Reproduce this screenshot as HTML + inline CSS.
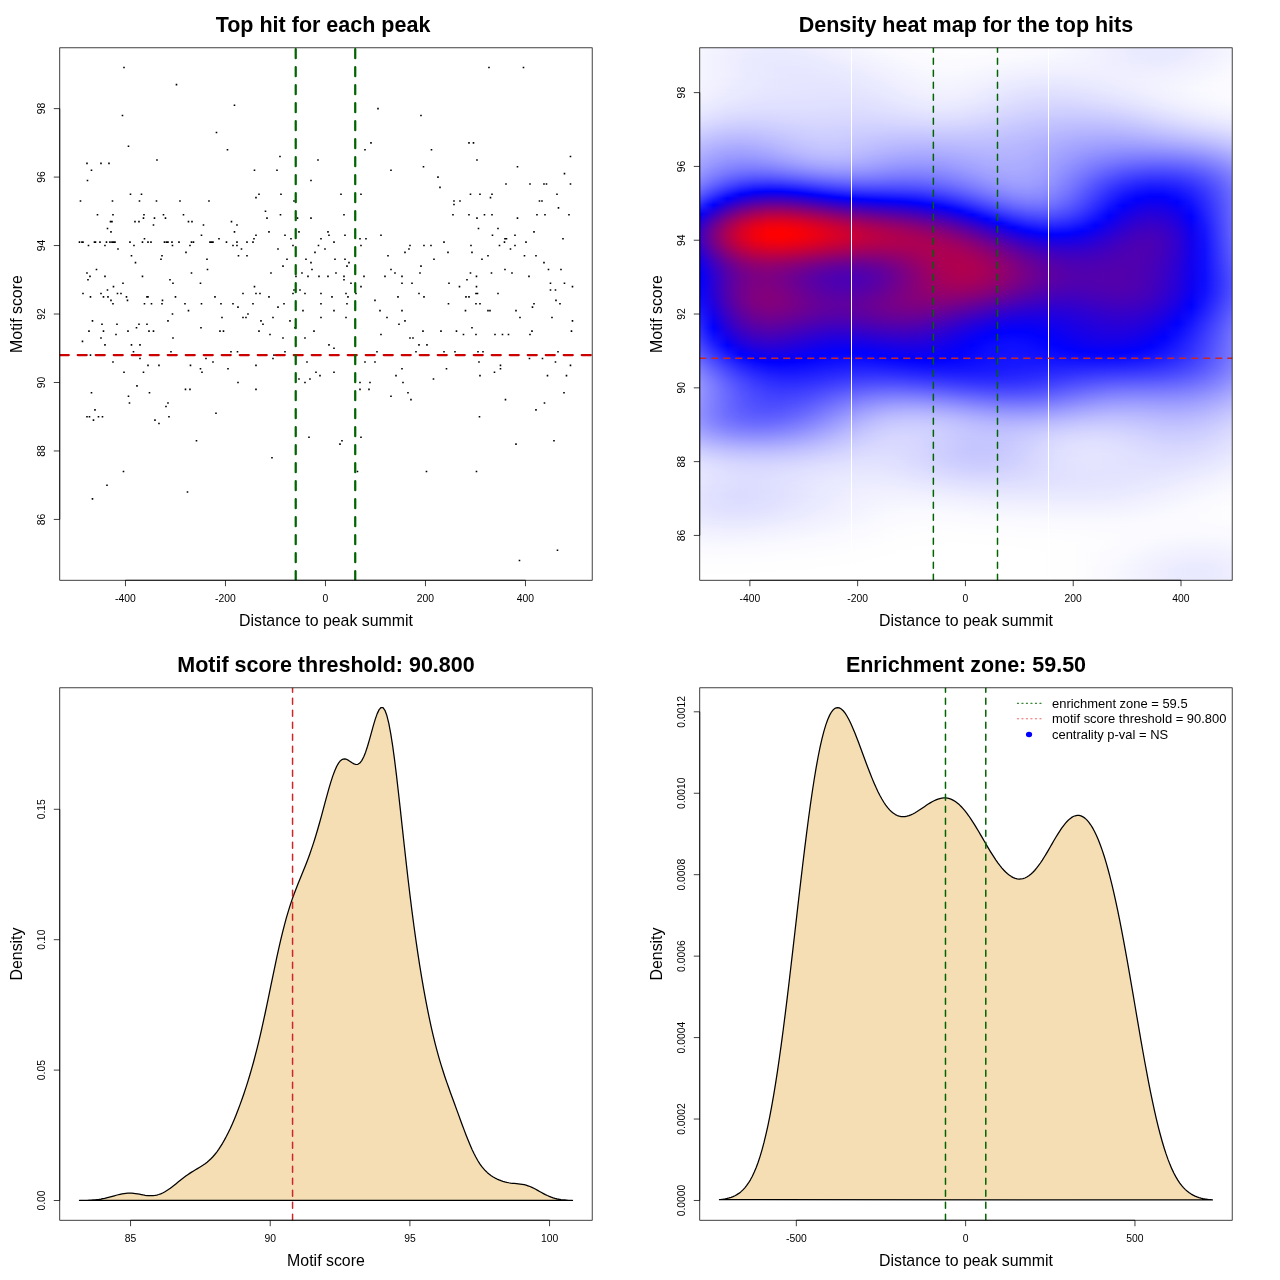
<!DOCTYPE html>
<html lang="en">
<head>
<meta charset="utf-8">
<title>Motif enrichment plots</title>
<style>
html,body{margin:0;padding:0;background:#fff;}
body{width:1280px;height:1280px;overflow:hidden;position:relative;}
#heat{position:absolute;left:700px;top:48px;width:532px;height:532px;overflow:hidden;line-height:0;font-size:0;}
#heat i{display:block;width:532px;height:1px;}
svg{position:absolute;left:0;top:0;display:block;font-family:"Liberation Sans", Arial, Helvetica, sans-serif;fill:#000;}
</style>
</head>
<body>
<div id="heat"><i style="background:linear-gradient(90deg,#f6f6ff,#f3f3ff,#f0f0ff,#eef,#ededff,#ececff,#ececff,#ededff,#efefff,#f1f1ff,#f3f3ff,#f5f5ff,#f7f7ff,#f9f9ff,#fafaff,#fbfbff,#fcfcff,#fdfdff,#fdfdff,#fdfdff,#fdfdff,#fdfdff,#fcfcff,#fcfcff,#fbfbff,#fafaff,#f9f9ff,#f7f7ff,#f5f5ff,#f3f3ff,#f0f0ff,#ededff,#eaeaff,#e9e9ff,#e9e9ff,#eaeaff,#ececff,#efefff,#f3f3ff,#f6f6ff)"></i><i style="background:linear-gradient(90deg,#f6f6ff,#f3f3ff,#f0f0ff,#eef,#ececff,#ececff,#ececff,#ededff,#eef,#f0f0ff,#f2f2ff,#f4f4ff,#f7f7ff,#f8f8ff,#fafaff,#fbfbff,#fcfcff,#fdfdff,#fdfdff,#fdfdff,#fdfdff,#fdfdff,#fcfcff,#fcfcff,#fbfbff,#fafaff,#f9f9ff,#f7f7ff,#f5f5ff,#f2f2ff,#efefff,#ededff,#eaeaff,#e9e9ff,#e9e9ff,#eaeaff,#ececff,#efefff,#f3f3ff,#f6f6ff)"></i><i style="background:linear-gradient(90deg,#f6f6ff,#f3f3ff,#f0f0ff,#eef,#ececff,#ebebff,#ebebff,#ececff,#eef,#f0f0ff,#f2f2ff,#f4f4ff,#f6f6ff,#f8f8ff,#fafaff,#fbfbff,#fcfcff,#fdfdff,#fdfdff,#fdfdff,#fdfdff,#fcfcff,#fcfcff,#fbfbff,#fbfbff,#fafaff,#f9f9ff,#f7f7ff,#f5f5ff,#f2f2ff,#efefff,#ededff,#eaeaff,#e9e9ff,#e9e9ff,#eaeaff,#ececff,#efefff,#f3f3ff,#f6f6ff)"></i><i style="background:linear-gradient(90deg,#f6f6ff,#f3f3ff,#f0f0ff,#ededff,#ececff,#ebebff,#ebebff,#ececff,#ededff,#efefff,#f1f1ff,#f4f4ff,#f6f6ff,#f8f8ff,#f9f9ff,#fbfbff,#fcfcff,#fdfdff,#fdfdff,#fdfdff,#fdfdff,#fcfcff,#fcfcff,#fbfbff,#fafaff,#f9f9ff,#f8f8ff,#f7f7ff,#f5f5ff,#f2f2ff,#efefff,#ededff,#eaeaff,#e9e9ff,#e9e9ff,#eaeaff,#ececff,#efefff,#f3f3ff,#f6f6ff)"></i><i style="background:linear-gradient(90deg,#f6f6ff,#f3f3ff,#f0f0ff,#ededff,#ececff,#ebebff,#ebebff,#ebebff,#ededff,#efefff,#f1f1ff,#f3f3ff,#f5f5ff,#f7f7ff,#f9f9ff,#fbfbff,#fcfcff,#fcfcff,#fdfdff,#fdfdff,#fdfdff,#fcfcff,#fbfbff,#fbfbff,#fafaff,#f9f9ff,#f8f8ff,#f7f7ff,#f5f5ff,#f2f2ff,#efefff,#ededff,#eaeaff,#e9e9ff,#e9e9ff,#eaeaff,#ececff,#efefff,#f3f3ff,#f6f6ff)"></i><i style="background:linear-gradient(90deg,#f5f5ff,#f3f3ff,#f0f0ff,#ededff,#ebebff,#eaeaff,#eaeaff,#ebebff,#ececff,#eef,#f0f0ff,#f3f3ff,#f5f5ff,#f7f7ff,#f9f9ff,#fafaff,#fbfbff,#fcfcff,#fdfdff,#fdfdff,#fcfcff,#fcfcff,#fbfbff,#fafaff,#fafaff,#f9f9ff,#f8f8ff,#f6f6ff,#f4f4ff,#f2f2ff,#efefff,#ededff,#eaeaff,#e9e9ff,#e9e9ff,#eaeaff,#ececff,#f0f0ff,#f3f3ff,#f6f6ff)"></i><i style="background:linear-gradient(90deg,#f5f5ff,#f2f2ff,#f0f0ff,#ededff,#ebebff,#eaeaff,#eaeaff,#ebebff,#ececff,#eef,#f0f0ff,#f2f2ff,#f5f5ff,#f7f7ff,#f8f8ff,#fafaff,#fbfbff,#fcfcff,#fcfcff,#fcfcff,#fcfcff,#fcfcff,#fbfbff,#fafaff,#f9f9ff,#f9f9ff,#f7f7ff,#f6f6ff,#f4f4ff,#f2f2ff,#efefff,#ededff,#eaeaff,#e9e9ff,#e9e9ff,#eaeaff,#ededff,#f0f0ff,#f3f3ff,#f6f6ff)"></i><i style="background:linear-gradient(90deg,#f5f5ff,#f2f2ff,#efefff,#ededff,#ebebff,#eaeaff,#eaeaff,#eaeaff,#ececff,#ededff,#f0f0ff,#f2f2ff,#f4f4ff,#f6f6ff,#f8f8ff,#fafaff,#fbfbff,#fcfcff,#fcfcff,#fcfcff,#fcfcff,#fbfbff,#fbfbff,#fafaff,#f9f9ff,#f8f8ff,#f7f7ff,#f6f6ff,#f4f4ff,#f2f2ff,#efefff,#ededff,#ebebff,#e9e9ff,#e9e9ff,#ebebff,#ededff,#f0f0ff,#f3f3ff,#f6f6ff)"></i><i style="background:linear-gradient(90deg,#f5f5ff,#f2f2ff,#efefff,#ededff,#ebebff,#eaeaff,#e9e9ff,#eaeaff,#ebebff,#ededff,#efefff,#f1f1ff,#f4f4ff,#f6f6ff,#f8f8ff,#fafaff,#fbfbff,#fcfcff,#fcfcff,#fcfcff,#fcfcff,#fbfbff,#fafaff,#fafaff,#f9f9ff,#f8f8ff,#f7f7ff,#f6f6ff,#f4f4ff,#f2f2ff,#efefff,#ededff,#ebebff,#eaeaff,#eaeaff,#ebebff,#ededff,#f0f0ff,#f3f3ff,#f6f6ff)"></i><i style="background:linear-gradient(90deg,#f5f5ff,#f2f2ff,#efefff,#ededff,#ebebff,#e9e9ff,#e9e9ff,#eaeaff,#ebebff,#ededff,#efefff,#f1f1ff,#f3f3ff,#f5f5ff,#f7f7ff,#f9f9ff,#fbfbff,#fbfbff,#fcfcff,#fcfcff,#fbfbff,#fbfbff,#fafaff,#f9f9ff,#f8f8ff,#f7f7ff,#f6f6ff,#f5f5ff,#f4f4ff,#f1f1ff,#efefff,#ededff,#ebebff,#eaeaff,#eaeaff,#ebebff,#ededff,#f0f0ff,#f4f4ff,#f7f7ff)"></i><i style="background:linear-gradient(90deg,#f5f5ff,#f2f2ff,#efefff,#ededff,#eaeaff,#e9e9ff,#e9e9ff,#e9e9ff,#ebebff,#ececff,#eef,#f1f1ff,#f3f3ff,#f5f5ff,#f7f7ff,#f9f9ff,#fafaff,#fbfbff,#fcfcff,#fcfcff,#fbfbff,#fbfbff,#fafaff,#f9f9ff,#f8f8ff,#f7f7ff,#f6f6ff,#f5f5ff,#f3f3ff,#f1f1ff,#efefff,#ededff,#ebebff,#eaeaff,#eaeaff,#ebebff,#eef,#f1f1ff,#f4f4ff,#f7f7ff)"></i><i style="background:linear-gradient(90deg,#f5f5ff,#f2f2ff,#efefff,#ececff,#eaeaff,#e9e9ff,#e9e9ff,#e9e9ff,#eaeaff,#ececff,#eef,#f0f0ff,#f2f2ff,#f5f5ff,#f7f7ff,#f9f9ff,#fafaff,#fbfbff,#fcfcff,#fbfbff,#fbfbff,#fafaff,#f9f9ff,#f8f8ff,#f8f8ff,#f7f7ff,#f6f6ff,#f5f5ff,#f3f3ff,#f1f1ff,#efefff,#ededff,#ebebff,#eaeaff,#eaeaff,#ececff,#eef,#f1f1ff,#f4f4ff,#f7f7ff)"></i><i style="background:linear-gradient(90deg,#f5f5ff,#f2f2ff,#efefff,#ececff,#eaeaff,#e9e9ff,#e8e8ff,#e9e9ff,#eaeaff,#ebebff,#ededff,#f0f0ff,#f2f2ff,#f4f4ff,#f6f6ff,#f8f8ff,#fafaff,#fbfbff,#fbfbff,#fbfbff,#fbfbff,#fafaff,#f9f9ff,#f8f8ff,#f7f7ff,#f6f6ff,#f5f5ff,#f4f4ff,#f3f3ff,#f1f1ff,#efefff,#ededff,#ececff,#ebebff,#ebebff,#ececff,#eef,#f1f1ff,#f4f4ff,#f7f7ff)"></i><i style="background:linear-gradient(90deg,#f5f5ff,#f2f2ff,#efefff,#ececff,#eaeaff,#e9e9ff,#e8e8ff,#e9e9ff,#eaeaff,#ebebff,#ededff,#efefff,#f2f2ff,#f4f4ff,#f6f6ff,#f8f8ff,#fafaff,#fbfbff,#fbfbff,#fbfbff,#fafaff,#fafaff,#f9f9ff,#f8f8ff,#f7f7ff,#f6f6ff,#f5f5ff,#f4f4ff,#f3f3ff,#f1f1ff,#efefff,#ededff,#ececff,#ebebff,#ebebff,#ececff,#efefff,#f1f1ff,#f4f4ff,#f7f7ff)"></i><i style="background:linear-gradient(90deg,#f5f5ff,#f2f2ff,#efefff,#ececff,#eaeaff,#e9e9ff,#e8e8ff,#e8e8ff,#e9e9ff,#ebebff,#ededff,#efefff,#f1f1ff,#f3f3ff,#f6f6ff,#f8f8ff,#f9f9ff,#fafaff,#fbfbff,#fbfbff,#fafaff,#f9f9ff,#f8f8ff,#f7f7ff,#f6f6ff,#f5f5ff,#f4f4ff,#f4f4ff,#f2f2ff,#f1f1ff,#efefff,#ededff,#ececff,#ebebff,#ececff,#ededff,#efefff,#f2f2ff,#f5f5ff,#f7f7ff)"></i><i style="background:linear-gradient(90deg,#f5f5ff,#f2f2ff,#efefff,#ececff,#eaeaff,#e8e8ff,#e8e8ff,#e8e8ff,#e9e9ff,#eaeaff,#ececff,#eef,#f1f1ff,#f3f3ff,#f5f5ff,#f7f7ff,#f9f9ff,#fafaff,#fbfbff,#fbfbff,#fafaff,#f9f9ff,#f8f8ff,#f7f7ff,#f6f6ff,#f5f5ff,#f4f4ff,#f3f3ff,#f2f2ff,#f1f1ff,#efefff,#eef,#ececff,#ececff,#ececff,#ededff,#efefff,#f2f2ff,#f5f5ff,#f8f8ff)"></i><i style="background:linear-gradient(90deg,#f5f5ff,#f2f2ff,#efefff,#ececff,#eaeaff,#e8e8ff,#e8e8ff,#e8e8ff,#e9e9ff,#eaeaff,#ececff,#eef,#f0f0ff,#f3f3ff,#f5f5ff,#f7f7ff,#f9f9ff,#fafaff,#fafaff,#fafaff,#fafaff,#f9f9ff,#f7f7ff,#f6f6ff,#f5f5ff,#f4f4ff,#f4f4ff,#f3f3ff,#f2f2ff,#f1f1ff,#efefff,#eef,#ededff,#ececff,#ececff,#eef,#f0f0ff,#f2f2ff,#f5f5ff,#f8f8ff)"></i><i style="background:linear-gradient(90deg,#f5f5ff,#f2f2ff,#efefff,#ececff,#eaeaff,#e8e8ff,#e8e8ff,#e8e8ff,#e8e8ff,#eaeaff,#ebebff,#eef,#f0f0ff,#f2f2ff,#f5f5ff,#f7f7ff,#f8f8ff,#fafaff,#fafaff,#fafaff,#f9f9ff,#f8f8ff,#f7f7ff,#f6f6ff,#f5f5ff,#f4f4ff,#f3f3ff,#f2f2ff,#f2f2ff,#f0f0ff,#efefff,#eef,#ededff,#ececff,#ededff,#eef,#f0f0ff,#f3f3ff,#f5f5ff,#f8f8ff)"></i><i style="background:linear-gradient(90deg,#f5f5ff,#f2f2ff,#efefff,#ececff,#eaeaff,#e8e8ff,#e7e7ff,#e7e7ff,#e8e8ff,#e9e9ff,#ebebff,#ededff,#efefff,#f2f2ff,#f4f4ff,#f6f6ff,#f8f8ff,#f9f9ff,#fafaff,#fafaff,#f9f9ff,#f8f8ff,#f7f7ff,#f5f5ff,#f4f4ff,#f3f3ff,#f3f3ff,#f2f2ff,#f1f1ff,#f0f0ff,#efefff,#eef,#ededff,#ededff,#ededff,#eef,#f0f0ff,#f3f3ff,#f6f6ff,#f8f8ff)"></i><i style="background:linear-gradient(90deg,#f5f5ff,#f2f2ff,#efefff,#ececff,#eaeaff,#e8e8ff,#e7e7ff,#e7e7ff,#e8e8ff,#e9e9ff,#ebebff,#ededff,#efefff,#f1f1ff,#f4f4ff,#f6f6ff,#f8f8ff,#f9f9ff,#fafaff,#fafaff,#f9f9ff,#f7f7ff,#f6f6ff,#f5f5ff,#f4f4ff,#f3f3ff,#f2f2ff,#f2f2ff,#f1f1ff,#f0f0ff,#efefff,#eef,#ededff,#ededff,#eef,#efefff,#f1f1ff,#f3f3ff,#f6f6ff,#f8f8ff)"></i><i style="background:linear-gradient(90deg,#f5f5ff,#f2f2ff,#efefff,#ececff,#eaeaff,#e8e8ff,#e7e7ff,#e7e7ff,#e8e8ff,#e9e9ff,#eaeaff,#ececff,#efefff,#f1f1ff,#f3f3ff,#f6f6ff,#f8f8ff,#f9f9ff,#f9f9ff,#f9f9ff,#f8f8ff,#f7f7ff,#f6f6ff,#f4f4ff,#f3f3ff,#f2f2ff,#f2f2ff,#f1f1ff,#f1f1ff,#f0f0ff,#efefff,#eef,#eef,#ededff,#eef,#efefff,#f1f1ff,#f4f4ff,#f6f6ff,#f9f9ff)"></i><i style="background:linear-gradient(90deg,#f5f5ff,#f2f2ff,#efefff,#ececff,#eaeaff,#e8e8ff,#e7e7ff,#e7e7ff,#e7e7ff,#e9e9ff,#eaeaff,#ececff,#eef,#f1f1ff,#f3f3ff,#f5f5ff,#f7f7ff,#f9f9ff,#f9f9ff,#f9f9ff,#f8f8ff,#f7f7ff,#f5f5ff,#f4f4ff,#f2f2ff,#f2f2ff,#f1f1ff,#f1f1ff,#f0f0ff,#f0f0ff,#efefff,#eef,#eef,#eef,#eef,#f0f0ff,#f2f2ff,#f4f4ff,#f6f6ff,#f9f9ff)"></i><i style="background:linear-gradient(90deg,#f5f5ff,#f2f2ff,#efefff,#ececff,#eaeaff,#e8e8ff,#e7e7ff,#e7e7ff,#e7e7ff,#e8e8ff,#eaeaff,#ececff,#eef,#f0f0ff,#f3f3ff,#f5f5ff,#f7f7ff,#f8f8ff,#f9f9ff,#f9f9ff,#f8f8ff,#f6f6ff,#f5f5ff,#f3f3ff,#f2f2ff,#f1f1ff,#f0f0ff,#f0f0ff,#f0f0ff,#f0f0ff,#efefff,#efefff,#eef,#eef,#efefff,#f0f0ff,#f2f2ff,#f4f4ff,#f7f7ff,#f9f9ff)"></i><i style="background:linear-gradient(90deg,#f5f5ff,#f2f2ff,#efefff,#ececff,#eaeaff,#e8e8ff,#e7e7ff,#e7e7ff,#e7e7ff,#e8e8ff,#e9e9ff,#ebebff,#ededff,#f0f0ff,#f2f2ff,#f5f5ff,#f7f7ff,#f8f8ff,#f9f9ff,#f8f8ff,#f7f7ff,#f6f6ff,#f4f4ff,#f2f2ff,#f1f1ff,#f0f0ff,#f0f0ff,#f0f0ff,#f0f0ff,#efefff,#efefff,#efefff,#eef,#efefff,#efefff,#f1f1ff,#f3f3ff,#f5f5ff,#f7f7ff,#f9f9ff)"></i><i style="background:linear-gradient(90deg,#f5f5ff,#f2f2ff,#efefff,#ececff,#e9e9ff,#e8e8ff,#e7e7ff,#e7e7ff,#e7e7ff,#e8e8ff,#e9e9ff,#ebebff,#ededff,#efefff,#f2f2ff,#f4f4ff,#f6f6ff,#f8f8ff,#f8f8ff,#f8f8ff,#f7f7ff,#f5f5ff,#f4f4ff,#f2f2ff,#f1f1ff,#f0f0ff,#efefff,#efefff,#efefff,#efefff,#efefff,#efefff,#efefff,#efefff,#f0f0ff,#f1f1ff,#f3f3ff,#f5f5ff,#f7f7ff,#f9f9ff)"></i><i style="background:linear-gradient(90deg,#f5f5ff,#f2f2ff,#efefff,#ececff,#e9e9ff,#e8e8ff,#e7e7ff,#e6e6ff,#e7e7ff,#e7e7ff,#e9e9ff,#eaeaff,#ececff,#efefff,#f2f2ff,#f4f4ff,#f6f6ff,#f8f8ff,#f8f8ff,#f8f8ff,#f7f7ff,#f5f5ff,#f3f3ff,#f1f1ff,#f0f0ff,#efefff,#efefff,#efefff,#efefff,#efefff,#efefff,#efefff,#efefff,#efefff,#f0f0ff,#f1f1ff,#f3f3ff,#f5f5ff,#f8f8ff,#fafaff)"></i><i style="background:linear-gradient(90deg,#f5f5ff,#f2f2ff,#efefff,#ececff,#e9e9ff,#e8e8ff,#e7e7ff,#e6e6ff,#e7e7ff,#e7e7ff,#e8e8ff,#eaeaff,#ececff,#efefff,#f1f1ff,#f4f4ff,#f6f6ff,#f7f7ff,#f8f8ff,#f7f7ff,#f6f6ff,#f5f5ff,#f3f3ff,#f1f1ff,#efefff,#eef,#eef,#eef,#eef,#eef,#efefff,#efefff,#efefff,#f0f0ff,#f0f0ff,#f2f2ff,#f4f4ff,#f6f6ff,#f8f8ff,#fafaff)"></i><i style="background:linear-gradient(90deg,#f5f5ff,#f2f2ff,#efefff,#ececff,#e9e9ff,#e8e8ff,#e7e7ff,#e6e6ff,#e6e6ff,#e7e7ff,#e8e8ff,#eaeaff,#ececff,#eef,#f1f1ff,#f3f3ff,#f6f6ff,#f7f7ff,#f8f8ff,#f7f7ff,#f6f6ff,#f4f4ff,#f2f2ff,#f0f0ff,#efefff,#eef,#ededff,#ededff,#eef,#eef,#efefff,#efefff,#efefff,#f0f0ff,#f1f1ff,#f2f2ff,#f4f4ff,#f6f6ff,#f8f8ff,#fafaff)"></i><i style="background:linear-gradient(90deg,#f5f5ff,#f2f2ff,#efefff,#ececff,#e9e9ff,#e8e8ff,#e7e7ff,#e6e6ff,#e6e6ff,#e7e7ff,#e8e8ff,#e9e9ff,#ebebff,#eef,#f0f0ff,#f3f3ff,#f5f5ff,#f7f7ff,#f7f7ff,#f7f7ff,#f5f5ff,#f4f4ff,#f1f1ff,#efefff,#eef,#ededff,#ededff,#ededff,#ededff,#eef,#eef,#efefff,#efefff,#f0f0ff,#f1f1ff,#f3f3ff,#f4f4ff,#f6f6ff,#f8f8ff,#fafaff)"></i><i style="background:linear-gradient(90deg,#f5f5ff,#f2f2ff,#eef,#ececff,#e9e9ff,#e8e8ff,#e7e7ff,#e6e6ff,#e6e6ff,#e7e7ff,#e7e7ff,#e9e9ff,#ebebff,#ededff,#f0f0ff,#f3f3ff,#f5f5ff,#f6f6ff,#f7f7ff,#f6f6ff,#f5f5ff,#f3f3ff,#f1f1ff,#efefff,#ededff,#ececff,#ececff,#ececff,#ededff,#ededff,#eef,#efefff,#efefff,#f0f0ff,#f1f1ff,#f3f3ff,#f5f5ff,#f7f7ff,#f9f9ff,#fafaff)"></i><i style="background:linear-gradient(90deg,#f5f5ff,#f2f2ff,#eef,#ebebff,#e9e9ff,#e8e8ff,#e6e6ff,#e6e6ff,#e6e6ff,#e6e6ff,#e7e7ff,#e9e9ff,#ebebff,#ededff,#f0f0ff,#f2f2ff,#f5f5ff,#f6f6ff,#f7f7ff,#f6f6ff,#f5f5ff,#f3f3ff,#f0f0ff,#eef,#ededff,#ececff,#ebebff,#ececff,#ececff,#ededff,#eef,#efefff,#f0f0ff,#f1f1ff,#f2f2ff,#f3f3ff,#f5f5ff,#f7f7ff,#f9f9ff,#fafaff)"></i><i style="background:linear-gradient(90deg,#f5f5ff,#f1f1ff,#eef,#ebebff,#e9e9ff,#e7e7ff,#e6e6ff,#e6e6ff,#e6e6ff,#e6e6ff,#e7e7ff,#e8e8ff,#eaeaff,#ededff,#efefff,#f2f2ff,#f4f4ff,#f6f6ff,#f6f6ff,#f6f6ff,#f4f4ff,#f2f2ff,#f0f0ff,#eef,#ececff,#ebebff,#ebebff,#ebebff,#ececff,#ededff,#eef,#efefff,#f0f0ff,#f1f1ff,#f2f2ff,#f4f4ff,#f5f5ff,#f7f7ff,#f9f9ff,#fbfbff)"></i><i style="background:linear-gradient(90deg,#f4f4ff,#f1f1ff,#eef,#ebebff,#e9e9ff,#e7e7ff,#e6e6ff,#e6e6ff,#e6e6ff,#e6e6ff,#e7e7ff,#e8e8ff,#eaeaff,#ececff,#efefff,#f2f2ff,#f4f4ff,#f5f5ff,#f6f6ff,#f5f5ff,#f4f4ff,#f2f2ff,#efefff,#ededff,#ebebff,#eaeaff,#eaeaff,#eaeaff,#ebebff,#ececff,#ededff,#eef,#f0f0ff,#f1f1ff,#f2f2ff,#f4f4ff,#f6f6ff,#f7f7ff,#f9f9ff,#fbfbff)"></i><i style="background:linear-gradient(90deg,#f4f4ff,#f1f1ff,#eef,#ebebff,#e9e9ff,#e7e7ff,#e6e6ff,#e6e6ff,#e6e6ff,#e6e6ff,#e6e6ff,#e8e8ff,#e9e9ff,#ececff,#eef,#f1f1ff,#f4f4ff,#f5f5ff,#f6f6ff,#f5f5ff,#f3f3ff,#f1f1ff,#efefff,#ececff,#eaeaff,#e9e9ff,#e9e9ff,#eaeaff,#ebebff,#ececff,#ededff,#eef,#f0f0ff,#f1f1ff,#f2f2ff,#f4f4ff,#f6f6ff,#f8f8ff,#f9f9ff,#fbfbff)"></i><i style="background:linear-gradient(90deg,#f4f4ff,#f1f1ff,#eef,#ebebff,#e9e9ff,#e7e7ff,#e6e6ff,#e6e6ff,#e5e5ff,#e6e6ff,#e6e6ff,#e7e7ff,#e9e9ff,#ebebff,#eef,#f1f1ff,#f3f3ff,#f5f5ff,#f5f5ff,#f5f5ff,#f3f3ff,#f1f1ff,#eef,#ececff,#eaeaff,#e9e9ff,#e8e8ff,#e9e9ff,#eaeaff,#ebebff,#ededff,#eef,#f0f0ff,#f1f1ff,#f3f3ff,#f4f4ff,#f6f6ff,#f8f8ff,#fafaff,#fbfbff)"></i><i style="background:linear-gradient(90deg,#f4f4ff,#f1f1ff,#eef,#ebebff,#e9e9ff,#e7e7ff,#e6e6ff,#e6e6ff,#e5e5ff,#e5e5ff,#e6e6ff,#e7e7ff,#e9e9ff,#ebebff,#eef,#f1f1ff,#f3f3ff,#f4f4ff,#f5f5ff,#f4f4ff,#f3f3ff,#f0f0ff,#ededff,#ebebff,#e9e9ff,#e8e8ff,#e8e8ff,#e8e8ff,#e9e9ff,#ebebff,#ececff,#eef,#efefff,#f1f1ff,#f3f3ff,#f4f4ff,#f6f6ff,#f8f8ff,#fafaff,#fbfbff)"></i><i style="background:linear-gradient(90deg,#f4f4ff,#f1f1ff,#eef,#ebebff,#e9e9ff,#e7e7ff,#e6e6ff,#e5e5ff,#e5e5ff,#e5e5ff,#e6e6ff,#e7e7ff,#e8e8ff,#ebebff,#ededff,#f0f0ff,#f3f3ff,#f4f4ff,#f5f5ff,#f4f4ff,#f2f2ff,#f0f0ff,#ededff,#eaeaff,#e8e8ff,#e7e7ff,#e7e7ff,#e8e8ff,#e9e9ff,#eaeaff,#ececff,#eef,#efefff,#f1f1ff,#f3f3ff,#f5f5ff,#f6f6ff,#f8f8ff,#fafaff,#fbfbff)"></i><i style="background:linear-gradient(90deg,#f4f4ff,#f1f1ff,#ededff,#ebebff,#e8e8ff,#e7e7ff,#e6e6ff,#e5e5ff,#e5e5ff,#e5e5ff,#e5e5ff,#e6e6ff,#e8e8ff,#eaeaff,#ededff,#f0f0ff,#f2f2ff,#f4f4ff,#f4f4ff,#f4f4ff,#f2f2ff,#efefff,#ececff,#eaeaff,#e8e8ff,#e6e6ff,#e6e6ff,#e7e7ff,#e8e8ff,#eaeaff,#ebebff,#ededff,#efefff,#f1f1ff,#f3f3ff,#f5f5ff,#f7f7ff,#f8f8ff,#fafaff,#fbfbff)"></i><i style="background:linear-gradient(90deg,#f4f4ff,#f0f0ff,#ededff,#eaeaff,#e8e8ff,#e7e7ff,#e6e6ff,#e5e5ff,#e5e5ff,#e5e5ff,#e5e5ff,#e6e6ff,#e8e8ff,#eaeaff,#ededff,#efefff,#f2f2ff,#f3f3ff,#f4f4ff,#f3f3ff,#f1f1ff,#efefff,#ececff,#e9e9ff,#e7e7ff,#e6e6ff,#e5e5ff,#e6e6ff,#e7e7ff,#e9e9ff,#ebebff,#ededff,#efefff,#f1f1ff,#f3f3ff,#f5f5ff,#f7f7ff,#f8f8ff,#fafaff,#fbfbff)"></i><i style="background:linear-gradient(90deg,#f3f3ff,#f0f0ff,#ededff,#eaeaff,#e8e8ff,#e7e7ff,#e6e6ff,#e5e5ff,#e5e5ff,#e5e5ff,#e5e5ff,#e6e6ff,#e7e7ff,#e9e9ff,#ececff,#efefff,#f2f2ff,#f3f3ff,#f4f4ff,#f3f3ff,#f1f1ff,#eef,#ebebff,#e8e8ff,#e6e6ff,#e5e5ff,#e5e5ff,#e5e5ff,#e7e7ff,#e8e8ff,#eaeaff,#ededff,#efefff,#f1f1ff,#f3f3ff,#f5f5ff,#f7f7ff,#f9f9ff,#fafaff,#fbfbff)"></i><i style="background:linear-gradient(90deg,#f3f3ff,#f0f0ff,#ededff,#eaeaff,#e8e8ff,#e6e6ff,#e6e6ff,#e5e5ff,#e5e5ff,#e4e4ff,#e5e5ff,#e5e5ff,#e7e7ff,#e9e9ff,#ececff,#efefff,#f1f1ff,#f3f3ff,#f3f3ff,#f2f2ff,#f0f0ff,#ededff,#eaeaff,#e8e8ff,#e5e5ff,#e4e4ff,#e4e4ff,#e5e5ff,#e6e6ff,#e8e8ff,#eaeaff,#ececff,#eef,#f1f1ff,#f3f3ff,#f5f5ff,#f7f7ff,#f9f9ff,#fafaff,#fbfbff)"></i><i style="background:linear-gradient(90deg,#f3f3ff,#f0f0ff,#ececff,#eaeaff,#e8e8ff,#e6e6ff,#e5e5ff,#e5e5ff,#e4e4ff,#e4e4ff,#e4e4ff,#e5e5ff,#e6e6ff,#e9e9ff,#ebebff,#eef,#f1f1ff,#f2f2ff,#f3f3ff,#f2f2ff,#f0f0ff,#ededff,#eaeaff,#e7e7ff,#e5e5ff,#e3e3ff,#e3e3ff,#e4e4ff,#e5e5ff,#e7e7ff,#e9e9ff,#ececff,#eef,#f0f0ff,#f3f3ff,#f5f5ff,#f7f7ff,#f9f9ff,#fafaff,#fbfbff)"></i><i style="background:linear-gradient(90deg,#f3f3ff,#efefff,#ececff,#e9e9ff,#e7e7ff,#e6e6ff,#e5e5ff,#e5e5ff,#e4e4ff,#e4e4ff,#e4e4ff,#e5e5ff,#e6e6ff,#e8e8ff,#ebebff,#eef,#f0f0ff,#f2f2ff,#f2f2ff,#f1f1ff,#efefff,#ececff,#e9e9ff,#e6e6ff,#e4e4ff,#e3e3ff,#e2e2ff,#e3e3ff,#e4e4ff,#e6e6ff,#e9e9ff,#ebebff,#eef,#f0f0ff,#f3f3ff,#f5f5ff,#f7f7ff,#f9f9ff,#fafaff,#fbfbff)"></i><i style="background:linear-gradient(90deg,#f2f2ff,#efefff,#ececff,#e9e9ff,#e7e7ff,#e6e6ff,#e5e5ff,#e4e4ff,#e4e4ff,#e4e4ff,#e4e4ff,#e4e4ff,#e6e6ff,#e8e8ff,#ebebff,#ededff,#f0f0ff,#f2f2ff,#f2f2ff,#f1f1ff,#efefff,#ececff,#e9e9ff,#e5e5ff,#e3e3ff,#e2e2ff,#e1e1ff,#e2e2ff,#e4e4ff,#e6e6ff,#e8e8ff,#ebebff,#ededff,#f0f0ff,#f2f2ff,#f5f5ff,#f7f7ff,#f9f9ff,#fafaff,#fbfbff)"></i><i style="background:linear-gradient(90deg,#f2f2ff,#efefff,#ececff,#e9e9ff,#e7e7ff,#e6e6ff,#e5e5ff,#e4e4ff,#e4e4ff,#e3e3ff,#e3e3ff,#e4e4ff,#e5e5ff,#e7e7ff,#eaeaff,#ededff,#f0f0ff,#f1f1ff,#f2f2ff,#f1f1ff,#eef,#ebebff,#e8e8ff,#e5e5ff,#e2e2ff,#e1e1ff,#e1e1ff,#e1e1ff,#e3e3ff,#e5e5ff,#e7e7ff,#eaeaff,#ededff,#f0f0ff,#f2f2ff,#f4f4ff,#f7f7ff,#f8f8ff,#fafaff,#fbfbff)"></i><i style="background:linear-gradient(90deg,#f2f2ff,#eef,#ebebff,#e9e9ff,#e7e7ff,#e5e5ff,#e5e5ff,#e4e4ff,#e4e4ff,#e3e3ff,#e3e3ff,#e4e4ff,#e5e5ff,#e7e7ff,#eaeaff,#ededff,#efefff,#f1f1ff,#f1f1ff,#f0f0ff,#eef,#ebebff,#e7e7ff,#e4e4ff,#e2e2ff,#e0e0ff,#e0e0ff,#e0e0ff,#e2e2ff,#e4e4ff,#e7e7ff,#e9e9ff,#ececff,#efefff,#f2f2ff,#f4f4ff,#f6f6ff,#f8f8ff,#fafaff,#fbfbff)"></i><i style="background:linear-gradient(90deg,#f2f2ff,#eef,#ebebff,#e8e8ff,#e6e6ff,#e5e5ff,#e4e4ff,#e4e4ff,#e3e3ff,#e3e3ff,#e3e3ff,#e3e3ff,#e5e5ff,#e7e7ff,#e9e9ff,#ececff,#efefff,#f0f0ff,#f1f1ff,#f0f0ff,#ededff,#eaeaff,#e7e7ff,#e3e3ff,#e1e1ff,#dfdfff,#dfdfff,#e0e0ff,#e1e1ff,#e3e3ff,#e6e6ff,#e9e9ff,#ececff,#efefff,#f1f1ff,#f4f4ff,#f6f6ff,#f8f8ff,#fafaff,#fbfbff)"></i><i style="background:linear-gradient(90deg,#f1f1ff,#eef,#ebebff,#e8e8ff,#e6e6ff,#e5e5ff,#e4e4ff,#e4e4ff,#e3e3ff,#e3e3ff,#e3e3ff,#e3e3ff,#e4e4ff,#e6e6ff,#e9e9ff,#ececff,#eef,#f0f0ff,#f0f0ff,#efefff,#ededff,#e9e9ff,#e6e6ff,#e3e3ff,#e0e0ff,#dfdfff,#dedeff,#dfdfff,#e0e0ff,#e2e2ff,#e5e5ff,#e8e8ff,#ebebff,#eef,#f1f1ff,#f4f4ff,#f6f6ff,#f8f8ff,#fafaff,#fbfbff)"></i><i style="background:linear-gradient(90deg,#f1f1ff,#ededff,#eaeaff,#e7e7ff,#e6e6ff,#e4e4ff,#e4e4ff,#e3e3ff,#e3e3ff,#e2e2ff,#e2e2ff,#e3e3ff,#e4e4ff,#e6e6ff,#e8e8ff,#ebebff,#eef,#efefff,#f0f0ff,#efefff,#ececff,#e9e9ff,#e5e5ff,#e2e2ff,#dfdfff,#dedeff,#ddf,#dedeff,#dfdfff,#e2e2ff,#e4e4ff,#e7e7ff,#eaeaff,#eef,#f1f1ff,#f3f3ff,#f6f6ff,#f8f8ff,#f9f9ff,#fbfbff)"></i><i style="background:linear-gradient(90deg,#f1f1ff,#ededff,#eaeaff,#e7e7ff,#e5e5ff,#e4e4ff,#e3e3ff,#e3e3ff,#e3e3ff,#e2e2ff,#e2e2ff,#e2e2ff,#e3e3ff,#e5e5ff,#e8e8ff,#ebebff,#ededff,#efefff,#efefff,#eef,#ececff,#e8e8ff,#e5e5ff,#e1e1ff,#dfdfff,#ddf,#dcdcff,#ddf,#dedeff,#e1e1ff,#e3e3ff,#e6e6ff,#eaeaff,#ededff,#f0f0ff,#f3f3ff,#f5f5ff,#f8f8ff,#f9f9ff,#fafaff)"></i><i style="background:linear-gradient(90deg,#f0f0ff,#ededff,#e9e9ff,#e7e7ff,#e5e5ff,#e4e4ff,#e3e3ff,#e3e3ff,#e2e2ff,#e2e2ff,#e2e2ff,#e2e2ff,#e3e3ff,#e5e5ff,#e8e8ff,#eaeaff,#ededff,#eef,#efefff,#ededff,#ebebff,#e8e8ff,#e4e4ff,#e0e0ff,#dedeff,#dcdcff,#dcdcff,#dcdcff,#dedeff,#e0e0ff,#e2e2ff,#e6e6ff,#e9e9ff,#ececff,#f0f0ff,#f3f3ff,#f5f5ff,#f7f7ff,#f9f9ff,#fafaff)"></i><i style="background:linear-gradient(90deg,#f0f0ff,#ececff,#e9e9ff,#e6e6ff,#e4e4ff,#e3e3ff,#e3e3ff,#e2e2ff,#e2e2ff,#e2e2ff,#e1e1ff,#e1e1ff,#e2e2ff,#e4e4ff,#e7e7ff,#eaeaff,#ececff,#eef,#eef,#ededff,#eaeaff,#e7e7ff,#e3e3ff,#e0e0ff,#ddf,#dbdbff,#dbdbff,#dbdbff,#ddf,#dfdfff,#e2e2ff,#e5e5ff,#e8e8ff,#ececff,#efefff,#f2f2ff,#f5f5ff,#f7f7ff,#f9f9ff,#fafaff)"></i><i style="background:linear-gradient(90deg,#efefff,#ececff,#e8e8ff,#e6e6ff,#e4e4ff,#e3e3ff,#e2e2ff,#e2e2ff,#e2e2ff,#e1e1ff,#e1e1ff,#e1e1ff,#e2e2ff,#e4e4ff,#e7e7ff,#e9e9ff,#ececff,#ededff,#ededff,#ececff,#eaeaff,#e6e6ff,#e3e3ff,#dfdfff,#dcdcff,#dadaff,#dadaff,#dadaff,#dcdcff,#dedeff,#e1e1ff,#e4e4ff,#e7e7ff,#ebebff,#eef,#f2f2ff,#f4f4ff,#f7f7ff,#f8f8ff,#fafaff)"></i><i style="background:linear-gradient(90deg,#efefff,#ebebff,#e8e8ff,#e5e5ff,#e3e3ff,#e2e2ff,#e2e2ff,#e2e2ff,#e1e1ff,#e1e1ff,#e0e0ff,#e1e1ff,#e2e2ff,#e3e3ff,#e6e6ff,#e9e9ff,#ebebff,#ededff,#ededff,#ececff,#e9e9ff,#e6e6ff,#e2e2ff,#dedeff,#dbdbff,#dadaff,#d9d9ff,#d9d9ff,#dbdbff,#ddf,#e0e0ff,#e3e3ff,#e6e6ff,#eaeaff,#eef,#f1f1ff,#f4f4ff,#f6f6ff,#f8f8ff,#f9f9ff)"></i><i style="background:linear-gradient(90deg,#eef,#ebebff,#e7e7ff,#e4e4ff,#e3e3ff,#e2e2ff,#e2e2ff,#e1e1ff,#e1e1ff,#e1e1ff,#e0e0ff,#e0e0ff,#e1e1ff,#e3e3ff,#e5e5ff,#e8e8ff,#ebebff,#ececff,#ececff,#ebebff,#e8e8ff,#e5e5ff,#e1e1ff,#dedeff,#dbdbff,#d9d9ff,#d8d8ff,#d8d8ff,#dadaff,#dcdcff,#dfdfff,#e2e2ff,#e6e6ff,#e9e9ff,#ededff,#f0f0ff,#f3f3ff,#f6f6ff,#f8f8ff,#f9f9ff)"></i><i style="background:linear-gradient(90deg,#eef,#eaeaff,#e6e6ff,#e4e4ff,#e2e2ff,#e1e1ff,#e1e1ff,#e1e1ff,#e1e1ff,#e0e0ff,#e0e0ff,#e0e0ff,#e1e1ff,#e2e2ff,#e5e5ff,#e8e8ff,#eaeaff,#ebebff,#ececff,#eaeaff,#e8e8ff,#e4e4ff,#e0e0ff,#ddf,#dadaff,#d8d8ff,#d7d7ff,#d7d7ff,#d9d9ff,#dbdbff,#ddf,#e1e1ff,#e5e5ff,#e8e8ff,#ececff,#f0f0ff,#f3f3ff,#f5f5ff,#f7f7ff,#f9f9ff)"></i><i style="background:linear-gradient(90deg,#ededff,#e9e9ff,#e6e6ff,#e3e3ff,#e2e2ff,#e1e1ff,#e1e1ff,#e1e1ff,#e0e0ff,#e0e0ff,#dfdfff,#dfdfff,#e0e0ff,#e2e2ff,#e4e4ff,#e7e7ff,#e9e9ff,#ebebff,#ebebff,#eaeaff,#e7e7ff,#e3e3ff,#e0e0ff,#dcdcff,#d9d9ff,#d7d7ff,#d6d6ff,#d6d6ff,#d8d8ff,#dadaff,#dcdcff,#e0e0ff,#e4e4ff,#e8e8ff,#ebebff,#efefff,#f2f2ff,#f5f5ff,#f7f7ff,#f8f8ff)"></i><i style="background:linear-gradient(90deg,#ededff,#e9e9ff,#e5e5ff,#e3e3ff,#e1e1ff,#e0e0ff,#e0e0ff,#e0e0ff,#e0e0ff,#dfdfff,#dfdfff,#dfdfff,#e0e0ff,#e1e1ff,#e4e4ff,#e6e6ff,#e9e9ff,#eaeaff,#eaeaff,#e9e9ff,#e6e6ff,#e3e3ff,#dfdfff,#dbdbff,#d8d8ff,#d6d6ff,#d5d5ff,#d5d5ff,#d7d7ff,#d8d8ff,#dbdbff,#dfdfff,#e2e2ff,#e7e7ff,#ebebff,#eef,#f1f1ff,#f4f4ff,#f6f6ff,#f8f8ff)"></i><i style="background:linear-gradient(90deg,#ececff,#e8e8ff,#e4e4ff,#e2e2ff,#e0e0ff,#e0e0ff,#e0e0ff,#e0e0ff,#dfdfff,#dfdfff,#dedeff,#dedeff,#dfdfff,#e1e1ff,#e3e3ff,#e6e6ff,#e8e8ff,#e9e9ff,#e9e9ff,#e8e8ff,#e5e5ff,#e2e2ff,#dedeff,#dadaff,#d7d7ff,#d5d5ff,#d4d4ff,#d4d4ff,#d5d5ff,#d7d7ff,#dadaff,#ddf,#e1e1ff,#e6e6ff,#eaeaff,#ededff,#f1f1ff,#f3f3ff,#f6f6ff,#f7f7ff)"></i><i style="background:linear-gradient(90deg,#ebebff,#e7e7ff,#e4e4ff,#e1e1ff,#e0e0ff,#dfdfff,#dfdfff,#dfdfff,#dfdfff,#dfdfff,#dedeff,#dedeff,#dfdfff,#e0e0ff,#e2e2ff,#e5e5ff,#e7e7ff,#e9e9ff,#e9e9ff,#e7e7ff,#e5e5ff,#e1e1ff,#ddf,#dadaff,#d7d7ff,#d5d5ff,#d3d3ff,#d3d3ff,#d4d4ff,#d6d6ff,#d9d9ff,#dcdcff,#e0e0ff,#e4e4ff,#e9e9ff,#ededff,#f0f0ff,#f3f3ff,#f5f5ff,#f7f7ff)"></i><i style="background:linear-gradient(90deg,#ebebff,#e7e7ff,#e3e3ff,#e0e0ff,#dfdfff,#dfdfff,#dfdfff,#dfdfff,#dfdfff,#dedeff,#dedeff,#ddf,#dedeff,#e0e0ff,#e2e2ff,#e4e4ff,#e7e7ff,#e8e8ff,#e8e8ff,#e6e6ff,#e4e4ff,#e0e0ff,#dcdcff,#d9d9ff,#d6d6ff,#d4d4ff,#d3d3ff,#d2d2ff,#d3d3ff,#d5d5ff,#d8d8ff,#dbdbff,#dfdfff,#e3e3ff,#e8e8ff,#ececff,#efefff,#f2f2ff,#f4f4ff,#f6f6ff)"></i><i style="background:linear-gradient(90deg,#eaeaff,#e6e6ff,#e2e2ff,#e0e0ff,#dedeff,#dedeff,#dedeff,#dedeff,#dedeff,#dedeff,#ddf,#ddf,#dedeff,#dfdfff,#e1e1ff,#e4e4ff,#e6e6ff,#e7e7ff,#e7e7ff,#e6e6ff,#e3e3ff,#dfdfff,#dcdcff,#d8d8ff,#d5d5ff,#d3d3ff,#d2d2ff,#d1d1ff,#d2d2ff,#d4d4ff,#d6d6ff,#dadaff,#dedeff,#e2e2ff,#e7e7ff,#ebebff,#eef,#f1f1ff,#f4f4ff,#f6f6ff)"></i><i style="background:linear-gradient(90deg,#e9e9ff,#e5e5ff,#e1e1ff,#dfdfff,#ddf,#ddf,#ddf,#dedeff,#dedeff,#ddf,#ddf,#dcdcff,#ddf,#dedeff,#e0e0ff,#e3e3ff,#e5e5ff,#e6e6ff,#e6e6ff,#e5e5ff,#e2e2ff,#dfdfff,#dbdbff,#d7d7ff,#d4d4ff,#d2d2ff,#d1d1ff,#d0d0ff,#d1d1ff,#d2d2ff,#d5d5ff,#d8d8ff,#ddf,#e1e1ff,#e6e6ff,#eaeaff,#ededff,#f0f0ff,#f3f3ff,#f5f5ff)"></i><i style="background:linear-gradient(90deg,#e9e9ff,#e4e4ff,#e0e0ff,#dedeff,#ddf,#dcdcff,#ddf,#ddf,#ddf,#ddf,#dcdcff,#dcdcff,#dcdcff,#dedeff,#e0e0ff,#e2e2ff,#e4e4ff,#e5e5ff,#e5e5ff,#e4e4ff,#e1e1ff,#dedeff,#dadaff,#d6d6ff,#d3d3ff,#d1d1ff,#d0d0ff,#cfcfff,#d0d0ff,#d1d1ff,#d4d4ff,#d7d7ff,#dbdbff,#e0e0ff,#e4e4ff,#e9e9ff,#ececff,#f0f0ff,#f2f2ff,#f4f4ff)"></i><i style="background:linear-gradient(90deg,#e8e8ff,#e3e3ff,#dfdfff,#ddf,#dcdcff,#dcdcff,#dcdcff,#ddf,#ddf,#dcdcff,#dcdcff,#dbdbff,#dcdcff,#ddf,#dfdfff,#e1e1ff,#e3e3ff,#e4e4ff,#e4e4ff,#e3e3ff,#e0e0ff,#ddf,#d9d9ff,#d5d5ff,#d2d2ff,#d0d0ff,#cfcfff,#ceceff,#cfcfff,#d0d0ff,#d2d2ff,#d6d6ff,#dadaff,#dedeff,#e3e3ff,#e8e8ff,#ebebff,#efefff,#f1f1ff,#f4f4ff)"></i><i style="background:linear-gradient(90deg,#e7e7ff,#e2e2ff,#dedeff,#dcdcff,#dbdbff,#dbdbff,#dbdbff,#dcdcff,#dcdcff,#dcdcff,#dbdbff,#dbdbff,#dbdbff,#dcdcff,#dedeff,#e0e0ff,#e2e2ff,#e3e3ff,#e3e3ff,#e2e2ff,#dfdfff,#dcdcff,#d8d8ff,#d4d4ff,#d1d1ff,#cfcfff,#ceceff,#cdcdff,#cdcdff,#cfcfff,#d1d1ff,#d4d4ff,#d8d8ff,#ddf,#e2e2ff,#e6e6ff,#eaeaff,#eef,#f1f1ff,#f3f3ff)"></i><i style="background:linear-gradient(90deg,#e6e6ff,#e1e1ff,#ddf,#dbdbff,#dadaff,#dadaff,#dbdbff,#dbdbff,#dcdcff,#dbdbff,#dbdbff,#dadaff,#dbdbff,#dcdcff,#ddf,#dfdfff,#e1e1ff,#e2e2ff,#e2e2ff,#e1e1ff,#dedeff,#dbdbff,#d7d7ff,#d4d4ff,#d0d0ff,#ceceff,#cdcdff,#ccf,#ccf,#cdcdff,#d0d0ff,#d3d3ff,#d7d7ff,#dcdcff,#e1e1ff,#e5e5ff,#e9e9ff,#ededff,#f0f0ff,#f2f2ff)"></i><i style="background:linear-gradient(90deg,#e5e5ff,#e0e0ff,#dcdcff,#dadaff,#d9d9ff,#d9d9ff,#dadaff,#dbdbff,#dbdbff,#dbdbff,#dadaff,#dadaff,#dadaff,#dbdbff,#dcdcff,#dedeff,#e0e0ff,#e1e1ff,#e1e1ff,#e0e0ff,#ddf,#dadaff,#d6d6ff,#d3d3ff,#d0d0ff,#cdcdff,#ccf,#cbcbff,#cbcbff,#ccf,#ceceff,#d1d1ff,#d6d6ff,#dadaff,#dfdfff,#e4e4ff,#e8e8ff,#ececff,#efefff,#f1f1ff)"></i><i style="background:linear-gradient(90deg,#e4e4ff,#dfdfff,#dbdbff,#d9d9ff,#d8d8ff,#d8d8ff,#d9d9ff,#dadaff,#dadaff,#dadaff,#dadaff,#d9d9ff,#d9d9ff,#dadaff,#dcdcff,#ddf,#dfdfff,#e0e0ff,#e0e0ff,#dfdfff,#dcdcff,#d9d9ff,#d5d5ff,#d2d2ff,#cfcfff,#ccf,#cbcbff,#cacaff,#cacaff,#cbcbff,#cdcdff,#d0d0ff,#d4d4ff,#d9d9ff,#dedeff,#e3e3ff,#e7e7ff,#ebebff,#eef,#f0f0ff)"></i><i style="background:linear-gradient(90deg,#e3e3ff,#dedeff,#dadaff,#d8d8ff,#d7d7ff,#d7d7ff,#d8d8ff,#d9d9ff,#dadaff,#dadaff,#d9d9ff,#d9d9ff,#d9d9ff,#d9d9ff,#dbdbff,#dcdcff,#dedeff,#dfdfff,#dfdfff,#dedeff,#dbdbff,#d8d8ff,#d4d4ff,#d1d1ff,#ceceff,#cbcbff,#c9c9ff,#c9c9ff,#c8c8ff,#c9c9ff,#cbcbff,#ceceff,#d3d3ff,#d8d8ff,#ddf,#e1e1ff,#e6e6ff,#e9e9ff,#ededff,#f0f0ff)"></i><i style="background:linear-gradient(90deg,#e2e2ff,#ddf,#d9d9ff,#d6d6ff,#d6d6ff,#d6d6ff,#d7d7ff,#d9d9ff,#d9d9ff,#d9d9ff,#d8d8ff,#d8d8ff,#d8d8ff,#d8d8ff,#dadaff,#dbdbff,#ddf,#dedeff,#dedeff,#ddf,#dadaff,#d7d7ff,#d3d3ff,#d0d0ff,#cdcdff,#cacaff,#c8c8ff,#c7c7ff,#c7c7ff,#c8c8ff,#cacaff,#cdcdff,#d1d1ff,#d6d6ff,#dbdbff,#e0e0ff,#e4e4ff,#e8e8ff,#ececff,#efefff)"></i><i style="background:linear-gradient(90deg,#e1e1ff,#dcdcff,#d8d8ff,#d5d5ff,#d5d5ff,#d5d5ff,#d7d7ff,#d8d8ff,#d9d9ff,#d8d8ff,#d8d8ff,#d7d7ff,#d7d7ff,#d8d8ff,#d9d9ff,#dadaff,#dcdcff,#ddf,#ddf,#dcdcff,#d9d9ff,#d6d6ff,#d2d2ff,#cfcfff,#ccf,#c9c9ff,#c7c7ff,#c6c6ff,#c6c6ff,#c7c7ff,#c8c8ff,#cbcbff,#d0d0ff,#d4d4ff,#dadaff,#dedeff,#e3e3ff,#e7e7ff,#eaeaff,#eef)"></i><i style="background:linear-gradient(90deg,#e0e0ff,#dadaff,#d6d6ff,#d4d4ff,#d3d3ff,#d4d4ff,#d6d6ff,#d7d7ff,#d8d8ff,#d8d8ff,#d7d7ff,#d7d7ff,#d6d6ff,#d7d7ff,#d8d8ff,#d9d9ff,#dbdbff,#dcdcff,#dcdcff,#dadaff,#d8d8ff,#d5d5ff,#d2d2ff,#ceceff,#cbcbff,#c8c8ff,#c6c6ff,#c5c5ff,#c5c5ff,#c5c5ff,#c7c7ff,#cacaff,#ceceff,#d3d3ff,#d8d8ff,#ddf,#e2e2ff,#e6e6ff,#e9e9ff,#ececff)"></i><i style="background:linear-gradient(90deg,#dfdfff,#d9d9ff,#d5d5ff,#d3d3ff,#d2d2ff,#d3d3ff,#d5d5ff,#d6d6ff,#d7d7ff,#d7d7ff,#d7d7ff,#d6d6ff,#d6d6ff,#d6d6ff,#d7d7ff,#d8d8ff,#dadaff,#dadaff,#dadaff,#d9d9ff,#d7d7ff,#d4d4ff,#d1d1ff,#cdcdff,#cacaff,#c7c7ff,#c5c5ff,#c4c4ff,#c3c3ff,#c4c4ff,#c5c5ff,#c8c8ff,#ccf,#d1d1ff,#d6d6ff,#dbdbff,#e0e0ff,#e4e4ff,#e8e8ff,#ebebff)"></i><i style="background:linear-gradient(90deg,#ddf,#d8d8ff,#d4d4ff,#d1d1ff,#d1d1ff,#d2d2ff,#d4d4ff,#d6d6ff,#d7d7ff,#d7d7ff,#d6d6ff,#d5d5ff,#d5d5ff,#d5d5ff,#d6d6ff,#d7d7ff,#d8d8ff,#d9d9ff,#d9d9ff,#d8d8ff,#d6d6ff,#d3d3ff,#d0d0ff,#ccf,#c9c9ff,#c6c6ff,#c4c4ff,#c3c3ff,#c2c2ff,#c2c2ff,#c4c4ff,#c7c7ff,#cbcbff,#d0d0ff,#d5d5ff,#dadaff,#dedeff,#e3e3ff,#e7e7ff,#eaeaff)"></i><i style="background:linear-gradient(90deg,#dcdcff,#d6d6ff,#d2d2ff,#d0d0ff,#d0d0ff,#d1d1ff,#d3d3ff,#d5d5ff,#d6d6ff,#d6d6ff,#d6d6ff,#d5d5ff,#d4d4ff,#d4d4ff,#d5d5ff,#d6d6ff,#d7d7ff,#d8d8ff,#d8d8ff,#d7d7ff,#d5d5ff,#d2d2ff,#cfcfff,#cbcbff,#c8c8ff,#c5c5ff,#c3c3ff,#c1c1ff,#c1c1ff,#c1c1ff,#c2c2ff,#c5c5ff,#c9c9ff,#ceceff,#d3d3ff,#d8d8ff,#ddf,#e1e1ff,#e5e5ff,#e9e9ff)"></i><i style="background:linear-gradient(90deg,#dbdbff,#d5d5ff,#d1d1ff,#cfcfff,#ceceff,#d0d0ff,#d2d2ff,#d4d4ff,#d5d5ff,#d6d6ff,#d5d5ff,#d4d4ff,#d3d3ff,#d3d3ff,#d4d4ff,#d5d5ff,#d6d6ff,#d7d7ff,#d6d6ff,#d6d6ff,#d4d4ff,#d1d1ff,#ceceff,#cacaff,#c7c7ff,#c4c4ff,#c2c2ff,#c0c0ff,#bfbfff,#bfbfff,#c1c1ff,#c3c3ff,#c7c7ff,#ccf,#d1d1ff,#d6d6ff,#dbdbff,#e0e0ff,#e4e4ff,#e8e8ff)"></i><i style="background:linear-gradient(90deg,#dadaff,#d4d4ff,#cfcfff,#cdcdff,#cdcdff,#cfcfff,#d1d1ff,#d3d3ff,#d5d5ff,#d5d5ff,#d4d4ff,#d4d4ff,#d3d3ff,#d2d2ff,#d3d3ff,#d4d4ff,#d4d4ff,#d5d5ff,#d5d5ff,#d4d4ff,#d2d2ff,#d0d0ff,#cdcdff,#c9c9ff,#c6c6ff,#c3c3ff,#c1c1ff,#bfbfff,#bebeff,#bebeff,#bfbfff,#c2c2ff,#c6c6ff,#cacaff,#d0d0ff,#d5d5ff,#dadaff,#dedeff,#e2e2ff,#e6e6ff)"></i><i style="background:linear-gradient(90deg,#d8d8ff,#d2d2ff,#ceceff,#ccf,#ccf,#ceceff,#d0d0ff,#d2d2ff,#d4d4ff,#d4d4ff,#d4d4ff,#d3d3ff,#d2d2ff,#d1d1ff,#d2d2ff,#d2d2ff,#d3d3ff,#d4d4ff,#d4d4ff,#d3d3ff,#d1d1ff,#cfcfff,#ccf,#c8c8ff,#c5c5ff,#c2c2ff,#c0c0ff,#bebeff,#bdbdff,#bcbcff,#bebeff,#c0c0ff,#c4c4ff,#c9c9ff,#ceceff,#d3d3ff,#d8d8ff,#dcdcff,#e1e1ff,#e5e5ff)"></i><i style="background:linear-gradient(90deg,#d7d7ff,#d1d1ff,#ccf,#cacaff,#cbcbff,#ccf,#cfcfff,#d2d2ff,#d3d3ff,#d4d4ff,#d3d3ff,#d2d2ff,#d1d1ff,#d1d1ff,#d0d0ff,#d1d1ff,#d2d2ff,#d2d2ff,#d2d2ff,#d2d2ff,#d0d0ff,#ceceff,#cbcbff,#c7c7ff,#c4c4ff,#c1c1ff,#bfbfff,#bdbdff,#bbf,#bbf,#bcbcff,#bebeff,#c2c2ff,#c7c7ff,#ccf,#d1d1ff,#d6d6ff,#dbdbff,#dfdfff,#e4e4ff)"></i><i style="background:linear-gradient(90deg,#d5d5ff,#cfcfff,#cbcbff,#c9c9ff,#c9c9ff,#cbcbff,#ceceff,#d1d1ff,#d3d3ff,#d3d3ff,#d3d3ff,#d2d2ff,#d0d0ff,#d0d0ff,#cfcfff,#d0d0ff,#d0d0ff,#d1d1ff,#d1d1ff,#d0d0ff,#cfcfff,#ccf,#cacaff,#c6c6ff,#c3c3ff,#c0c0ff,#bebeff,#bcbcff,#babaff,#babaff,#babaff,#bdbdff,#c0c0ff,#c5c5ff,#cacaff,#cfcfff,#d4d4ff,#d9d9ff,#dedeff,#e2e2ff)"></i><i style="background:linear-gradient(90deg,#d4d4ff,#ceceff,#c9c9ff,#c7c7ff,#c8c8ff,#cacaff,#cdcdff,#d0d0ff,#d2d2ff,#d3d3ff,#d2d2ff,#d1d1ff,#d0d0ff,#cfcfff,#ceceff,#ceceff,#cfcfff,#d0d0ff,#d0d0ff,#cfcfff,#ceceff,#cbcbff,#c9c9ff,#c6c6ff,#c2c2ff,#bfbfff,#bdbdff,#babaff,#b9b9ff,#b8b8ff,#b9b9ff,#bbf,#bebeff,#c3c3ff,#c8c8ff,#cdcdff,#d2d2ff,#d7d7ff,#dcdcff,#e1e1ff)"></i><i style="background:linear-gradient(90deg,#d3d3ff,#ccf,#c8c8ff,#c6c6ff,#c6c6ff,#c9c9ff,#ccf,#cfcfff,#d1d1ff,#d2d2ff,#d1d1ff,#d0d0ff,#cfcfff,#ceceff,#cdcdff,#cdcdff,#ceceff,#ceceff,#ceceff,#ceceff,#ccf,#cacaff,#c8c8ff,#c5c5ff,#c2c2ff,#bebeff,#bcbcff,#b9b9ff,#b7b7ff,#b7b7ff,#b7b7ff,#b9b9ff,#bdbdff,#c1c1ff,#c6c6ff,#cbcbff,#d0d0ff,#d5d5ff,#dadaff,#dfdfff)"></i><i style="background:linear-gradient(90deg,#d1d1ff,#cbcbff,#c6c6ff,#c4c4ff,#c5c5ff,#c7c7ff,#cbcbff,#ceceff,#d0d0ff,#d1d1ff,#d1d1ff,#d0d0ff,#ceceff,#cdcdff,#ccf,#ccf,#ccf,#cdcdff,#cdcdff,#ccf,#cbcbff,#c9c9ff,#c7c7ff,#c4c4ff,#c1c1ff,#bebeff,#bbf,#b8b8ff,#b6b6ff,#b5b5ff,#b6b6ff,#b7b7ff,#bbf,#bfbfff,#c4c4ff,#c9c9ff,#ceceff,#d3d3ff,#d8d8ff,#dedeff)"></i><i style="background:linear-gradient(90deg,#d0d0ff,#c9c9ff,#c4c4ff,#c3c3ff,#c3c3ff,#c6c6ff,#cacaff,#cdcdff,#d0d0ff,#d1d1ff,#d0d0ff,#cfcfff,#cdcdff,#ccf,#cbcbff,#cacaff,#cbcbff,#cbcbff,#cbcbff,#cbcbff,#cacaff,#c8c8ff,#c6c6ff,#c3c3ff,#c0c0ff,#bdbdff,#babaff,#b7b7ff,#b5b5ff,#b4b4ff,#b4b4ff,#b6b6ff,#b9b9ff,#bdbdff,#c2c2ff,#c7c7ff,#ccf,#d1d1ff,#d6d6ff,#dcdcff)"></i><i style="background:linear-gradient(90deg,#ceceff,#c7c7ff,#c3c3ff,#c1c1ff,#c2c2ff,#c5c5ff,#c9c9ff,#ccf,#cfcfff,#d0d0ff,#d0d0ff,#ceceff,#ccf,#cbcbff,#c9c9ff,#c9c9ff,#c9c9ff,#cacaff,#cacaff,#cacaff,#c9c9ff,#c7c7ff,#c5c5ff,#c2c2ff,#bfbfff,#bcbcff,#b8b8ff,#b6b6ff,#b3b3ff,#b2b2ff,#b2b2ff,#b4b4ff,#b7b7ff,#bbf,#c0c0ff,#c5c5ff,#cacaff,#cfcfff,#d4d4ff,#dadaff)"></i><i style="background:linear-gradient(90deg,#cdcdff,#c6c6ff,#c1c1ff,#bfbfff,#c0c0ff,#c4c4ff,#c8c8ff,#cbcbff,#ceceff,#cfcfff,#cfcfff,#cdcdff,#cbcbff,#cacaff,#c8c8ff,#c8c8ff,#c8c8ff,#c8c8ff,#c8c8ff,#c8c8ff,#c8c8ff,#c6c6ff,#c4c4ff,#c1c1ff,#bebeff,#bbf,#b7b7ff,#b4b4ff,#b2b2ff,#b1b1ff,#b1b1ff,#b2b2ff,#b5b5ff,#b9b9ff,#bdbdff,#c2c2ff,#c7c7ff,#cdcdff,#d2d2ff,#d8d8ff)"></i><i style="background:linear-gradient(90deg,#cbcbff,#c4c4ff,#bfbfff,#bebeff,#bfbfff,#c2c2ff,#c6c6ff,#cacaff,#cdcdff,#cfcfff,#ceceff,#cdcdff,#cbcbff,#c9c9ff,#c7c7ff,#c6c6ff,#c6c6ff,#c7c7ff,#c7c7ff,#c7c7ff,#c6c6ff,#c5c5ff,#c3c3ff,#c0c0ff,#bdbdff,#babaff,#b6b6ff,#b3b3ff,#b1b1ff,#afafff,#afafff,#b0b0ff,#b3b3ff,#b7b7ff,#bbf,#c0c0ff,#c5c5ff,#cbcbff,#d0d0ff,#d7d7ff)"></i><i style="background:linear-gradient(90deg,#cacaff,#c2c2ff,#bebeff,#bcbcff,#bdbdff,#c1c1ff,#c5c5ff,#cacaff,#cdcdff,#ceceff,#ceceff,#ccf,#cacaff,#c7c7ff,#c6c6ff,#c5c5ff,#c5c5ff,#c5c5ff,#c6c6ff,#c6c6ff,#c5c5ff,#c4c4ff,#c2c2ff,#bfbfff,#bcbcff,#b9b9ff,#b5b5ff,#b2b2ff,#afafff,#aeaeff,#adadff,#aeaeff,#b1b1ff,#b4b4ff,#b9b9ff,#bebeff,#c3c3ff,#c8c8ff,#ceceff,#d5d5ff)"></i><i style="background:linear-gradient(90deg,#c8c8ff,#c1c1ff,#bcbcff,#babaff,#bcbcff,#bfbfff,#c4c4ff,#c9c9ff,#ccf,#cdcdff,#cdcdff,#cbcbff,#c9c9ff,#c6c6ff,#c5c5ff,#c3c3ff,#c3c3ff,#c4c4ff,#c4c4ff,#c4c4ff,#c4c4ff,#c3c3ff,#c1c1ff,#bebeff,#bbf,#b8b8ff,#b4b4ff,#b1b1ff,#aeaeff,#acacff,#acacff,#acacff,#afafff,#b2b2ff,#b6b6ff,#bbf,#c0c0ff,#c6c6ff,#ccf,#d3d3ff)"></i><i style="background:linear-gradient(90deg,#c7c7ff,#bfbfff,#babaff,#b9b9ff,#babaff,#bebeff,#c3c3ff,#c8c8ff,#cbcbff,#ccf,#ccf,#cacaff,#c8c8ff,#c5c5ff,#c3c3ff,#c2c2ff,#c2c2ff,#c2c2ff,#c3c3ff,#c3c3ff,#c3c3ff,#c2c2ff,#c0c0ff,#bebeff,#bbf,#b7b7ff,#b3b3ff,#b0b0ff,#adadff,#ababff,#aaf,#ababff,#adadff,#b0b0ff,#b4b4ff,#b9b9ff,#bebeff,#c3c3ff,#cacaff,#d1d1ff)"></i><i style="background:linear-gradient(90deg,#c5c5ff,#bdbdff,#b9b9ff,#b7b7ff,#b9b9ff,#bdbdff,#c2c2ff,#c7c7ff,#cacaff,#ccf,#ccf,#cacaff,#c7c7ff,#c4c4ff,#c2c2ff,#c1c1ff,#c0c0ff,#c1c1ff,#c1c1ff,#c2c2ff,#c2c2ff,#c1c1ff,#bfbfff,#bdbdff,#babaff,#b6b6ff,#b2b2ff,#afafff,#ababff,#a9a9ff,#a8a8ff,#a9a9ff,#ababff,#aeaeff,#b2b2ff,#b6b6ff,#bbf,#c1c1ff,#c8c8ff,#cfcfff)"></i><i style="background:linear-gradient(90deg,#c4c4ff,#bcbcff,#b7b7ff,#b5b5ff,#b7b7ff,#bbf,#c0c0ff,#c6c6ff,#c9c9ff,#cbcbff,#cbcbff,#c9c9ff,#c6c6ff,#c3c3ff,#c1c1ff,#bfbfff,#bfbfff,#bfbfff,#c0c0ff,#c0c0ff,#c1c1ff,#c0c0ff,#bebeff,#bcbcff,#b9b9ff,#b5b5ff,#b1b1ff,#aeaeff,#aaf,#a8a8ff,#a6a6ff,#a7a7ff,#a8a8ff,#ababff,#afafff,#b4b4ff,#b9b9ff,#bfbfff,#c5c5ff,#cdcdff)"></i><i style="background:linear-gradient(90deg,#c2c2ff,#babaff,#b5b5ff,#b4b4ff,#b6b6ff,#babaff,#bfbfff,#c4c4ff,#c8c8ff,#cacaff,#cacaff,#c8c8ff,#c5c5ff,#c2c2ff,#bfbfff,#bebeff,#bdbdff,#bdbdff,#bebeff,#bfbfff,#bfbfff,#bfbfff,#bebeff,#bbf,#b8b8ff,#b5b5ff,#b1b1ff,#acacff,#a9a9ff,#a6a6ff,#a5a5ff,#a5a5ff,#a6a6ff,#a9a9ff,#adadff,#b1b1ff,#b6b6ff,#bcbcff,#c3c3ff,#cbcbff)"></i><i style="background:linear-gradient(90deg,#c1c1ff,#b9b9ff,#b3b3ff,#b2b2ff,#b4b4ff,#b8b8ff,#bebeff,#c3c3ff,#c7c7ff,#c9c9ff,#c9c9ff,#c7c7ff,#c4c4ff,#c1c1ff,#bebeff,#bcbcff,#bcbcff,#bcbcff,#bdbdff,#bebeff,#bebeff,#bebeff,#bdbdff,#bbf,#b8b8ff,#b4b4ff,#b0b0ff,#ababff,#a7a7ff,#a4a4ff,#a3a3ff,#a3a3ff,#a4a4ff,#a6a6ff,#aaf,#aeaeff,#b3b3ff,#b9b9ff,#c1c1ff,#c9c9ff)"></i><i style="background:linear-gradient(90deg,#bfbfff,#b7b7ff,#b2b2ff,#b0b0ff,#b2b2ff,#b7b7ff,#bdbdff,#c2c2ff,#c6c6ff,#c9c9ff,#c8c8ff,#c6c6ff,#c3c3ff,#c0c0ff,#bdbdff,#bbf,#babaff,#babaff,#bbf,#bcbcff,#bdbdff,#bdbdff,#bcbcff,#babaff,#b7b7ff,#b3b3ff,#afafff,#aaf,#a6a6ff,#a3a3ff,#a1a1ff,#a1a1ff,#a2a2ff,#a4a4ff,#a7a7ff,#ababff,#b0b0ff,#b7b7ff,#bebeff,#c7c7ff)"></i><i style="background:linear-gradient(90deg,#bebeff,#b5b5ff,#b0b0ff,#afafff,#b1b1ff,#b5b5ff,#bbf,#c1c1ff,#c5c5ff,#c8c8ff,#c8c8ff,#c6c6ff,#c2c2ff,#bfbfff,#bbf,#b9b9ff,#b8b8ff,#b9b9ff,#babaff,#bbf,#bcbcff,#bcbcff,#bbf,#b9b9ff,#b6b6ff,#b2b2ff,#aeaeff,#a9a9ff,#a5a5ff,#a1a1ff,#9f9fff,#9e9eff,#9f9fff,#a1a1ff,#a4a4ff,#a9a9ff,#aeaeff,#b4b4ff,#bcbcff,#c5c5ff)"></i><i style="background:linear-gradient(90deg,#bcbcff,#b4b4ff,#aeaeff,#adadff,#afafff,#b4b4ff,#babaff,#c0c0ff,#c4c4ff,#c7c7ff,#c7c7ff,#c5c5ff,#c1c1ff,#bdbdff,#babaff,#b8b8ff,#b7b7ff,#b7b7ff,#b8b8ff,#babaff,#bbf,#bbf,#babaff,#b8b8ff,#b5b5ff,#b1b1ff,#adadff,#a8a8ff,#a3a3ff,#a0a0ff,#9d9dff,#9c9cff,#9d9dff,#9f9fff,#a2a2ff,#a6a6ff,#ababff,#b1b1ff,#b9b9ff,#c2c2ff)"></i><i style="background:linear-gradient(90deg,#bbf,#b2b2ff,#adadff,#ababff,#adadff,#b2b2ff,#b8b8ff,#bfbfff,#c3c3ff,#c6c6ff,#c6c6ff,#c4c4ff,#c0c0ff,#bcbcff,#b9b9ff,#b6b6ff,#b5b5ff,#b6b6ff,#b7b7ff,#b8b8ff,#babaff,#babaff,#babaff,#b8b8ff,#b5b5ff,#b1b1ff,#acacff,#a7a7ff,#a2a2ff,#9e9eff,#9b9bff,#9a9aff,#9a9aff,#9c9cff,#9f9fff,#a3a3ff,#a8a8ff,#aeaeff,#b7b7ff,#c0c0ff)"></i><i style="background:linear-gradient(90deg,#babaff,#b1b1ff,#ababff,#a9a9ff,#acacff,#b1b1ff,#b7b7ff,#bdbdff,#c2c2ff,#c5c5ff,#c5c5ff,#c3c3ff,#bfbfff,#bbf,#b7b7ff,#b5b5ff,#b4b4ff,#b4b4ff,#b5b5ff,#b7b7ff,#b9b9ff,#b9b9ff,#b9b9ff,#b7b7ff,#b4b4ff,#b0b0ff,#ababff,#a6a6ff,#a1a1ff,#9c9cff,#99f,#9898ff,#9898ff,#99f,#9c9cff,#a0a0ff,#a5a5ff,#ababff,#b4b4ff,#bebeff)"></i><i style="background:linear-gradient(90deg,#b8b8ff,#afafff,#a9a9ff,#a8a8ff,#aaf,#afafff,#b6b6ff,#bcbcff,#c1c1ff,#c4c4ff,#c4c4ff,#c2c2ff,#bebeff,#babaff,#b6b6ff,#b3b3ff,#b2b2ff,#b2b2ff,#b4b4ff,#b6b6ff,#b8b8ff,#b8b8ff,#b8b8ff,#b7b7ff,#b4b4ff,#afafff,#aaf,#a5a5ff,#9f9fff,#9b9bff,#9898ff,#9696ff,#9595ff,#9797ff,#99f,#9d9dff,#a2a2ff,#a9a9ff,#b1b1ff,#bcbcff)"></i><i style="background:linear-gradient(90deg,#b7b7ff,#adadff,#a7a7ff,#a6a6ff,#a8a8ff,#adadff,#b4b4ff,#bbf,#c0c0ff,#c3c3ff,#c3c3ff,#c1c1ff,#bdbdff,#b9b9ff,#b5b5ff,#b2b2ff,#b1b1ff,#b1b1ff,#b2b2ff,#b5b5ff,#b6b6ff,#b8b8ff,#b7b7ff,#b6b6ff,#b3b3ff,#afafff,#a9a9ff,#a4a4ff,#9e9eff,#99f,#9696ff,#9393ff,#9393ff,#9494ff,#9696ff,#9a9aff,#9f9fff,#a6a6ff,#afafff,#b9b9ff)"></i><i style="background:linear-gradient(90deg,#b5b5ff,#acacff,#a6a6ff,#a4a4ff,#a6a6ff,#acacff,#b2b2ff,#b9b9ff,#bebeff,#c1c1ff,#c2c2ff,#c0c0ff,#bcbcff,#b7b7ff,#b3b3ff,#b0b0ff,#afafff,#afafff,#b1b1ff,#b3b3ff,#b5b5ff,#b7b7ff,#b7b7ff,#b5b5ff,#b2b2ff,#aeaeff,#a9a9ff,#a3a3ff,#9d9dff,#9797ff,#9494ff,#9191ff,#9090ff,#9191ff,#9393ff,#9696ff,#9c9cff,#a3a3ff,#acacff,#b7b7ff)"></i><i style="background:linear-gradient(90deg,#b4b4ff,#aaf,#a4a4ff,#a2a2ff,#a4a4ff,#aaf,#b1b1ff,#b8b8ff,#bdbdff,#c0c0ff,#c0c0ff,#bebeff,#babaff,#b6b6ff,#b2b2ff,#afafff,#adadff,#aeaeff,#b0b0ff,#b2b2ff,#b4b4ff,#b6b6ff,#b6b6ff,#b5b5ff,#b2b2ff,#adadff,#a8a8ff,#a2a2ff,#9b9bff,#9696ff,#9191ff,#8f8fff,#8e8eff,#8e8eff,#9090ff,#9393ff,#9898ff,#a0a0ff,#a9a9ff,#b5b5ff)"></i><i style="background:linear-gradient(90deg,#b3b3ff,#a9a9ff,#a2a2ff,#a0a0ff,#a3a3ff,#a8a8ff,#afafff,#b6b6ff,#bcbcff,#bfbfff,#bfbfff,#bdbdff,#b9b9ff,#b4b4ff,#b0b0ff,#adadff,#acacff,#acacff,#aeaeff,#b1b1ff,#b3b3ff,#b5b5ff,#b5b5ff,#b4b4ff,#b1b1ff,#adadff,#a7a7ff,#a0a0ff,#9a9aff,#9494ff,#8f8fff,#8c8cff,#8b8bff,#8b8bff,#8d8dff,#9090ff,#9595ff,#9d9dff,#a7a7ff,#b2b2ff)"></i><i style="background:linear-gradient(90deg,#b1b1ff,#a7a7ff,#a1a1ff,#9f9fff,#a1a1ff,#a6a6ff,#adadff,#b4b4ff,#babaff,#bdbdff,#bebeff,#bcbcff,#b8b8ff,#b3b3ff,#afafff,#ababff,#aaf,#ababff,#adadff,#afafff,#b2b2ff,#b4b4ff,#b5b5ff,#b4b4ff,#b1b1ff,#acacff,#a6a6ff,#9f9fff,#9898ff,#9292ff,#8d8dff,#8a8aff,#88f,#88f,#8989ff,#8d8dff,#9292ff,#9a9aff,#a4a4ff,#b0b0ff)"></i><i style="background:linear-gradient(90deg,#b0b0ff,#a6a6ff,#9f9fff,#9d9dff,#9f9fff,#a4a4ff,#ababff,#b2b2ff,#b8b8ff,#bcbcff,#bdbdff,#babaff,#b6b6ff,#b2b2ff,#adadff,#aaf,#a8a8ff,#a9a9ff,#ababff,#aeaeff,#b1b1ff,#b3b3ff,#b4b4ff,#b3b3ff,#b0b0ff,#ababff,#a5a5ff,#9e9eff,#9797ff,#9090ff,#8b8bff,#8787ff,#8585ff,#8585ff,#8686ff,#8989ff,#8f8fff,#9797ff,#a1a1ff,#aeaeff)"></i><i style="background:linear-gradient(90deg,#afafff,#a4a4ff,#9d9dff,#9b9bff,#9d9dff,#a2a2ff,#a9a9ff,#b0b0ff,#b7b7ff,#babaff,#bbf,#b9b9ff,#b5b5ff,#b0b0ff,#ababff,#a8a8ff,#a7a7ff,#a7a7ff,#aaf,#adadff,#b0b0ff,#b2b2ff,#b3b3ff,#b2b2ff,#b0b0ff,#ababff,#a5a5ff,#9d9dff,#9696ff,#8f8fff,#8989ff,#8585ff,#8282ff,#8282ff,#8383ff,#8686ff,#8b8bff,#9393ff,#9e9eff,#ababff)"></i><i style="background:linear-gradient(90deg,#aeaeff,#a3a3ff,#9b9bff,#99f,#9b9bff,#a0a0ff,#a7a7ff,#aeaeff,#b5b5ff,#b9b9ff,#b9b9ff,#b8b8ff,#b3b3ff,#aeaeff,#aaf,#a6a6ff,#a5a5ff,#a6a6ff,#a8a8ff,#ababff,#afafff,#b1b1ff,#b3b3ff,#b2b2ff,#afafff,#aaf,#a4a4ff,#9c9cff,#9494ff,#8d8dff,#8787ff,#8282ff,#8080ff,#7f7fff,#8080ff,#8383ff,#88f,#9090ff,#9c9cff,#a9a9ff)"></i><i style="background:linear-gradient(90deg,#acacff,#a1a1ff,#9a9aff,#9797ff,#9898ff,#9e9eff,#a5a5ff,#acacff,#b3b3ff,#b7b7ff,#b8b8ff,#b6b6ff,#b2b2ff,#adadff,#a8a8ff,#a5a5ff,#a3a3ff,#a4a4ff,#a6a6ff,#aaf,#aeaeff,#b1b1ff,#b2b2ff,#b1b1ff,#afafff,#aaf,#a3a3ff,#9b9bff,#9393ff,#8b8bff,#8484ff,#8080ff,#7d7dff,#7b7bff,#7c7cff,#7f7fff,#8585ff,#8d8dff,#99f,#a7a7ff)"></i><i style="background:linear-gradient(90deg,#ababff,#9f9fff,#9898ff,#9595ff,#9696ff,#9b9bff,#a3a3ff,#aaf,#b1b1ff,#b5b5ff,#b6b6ff,#b4b4ff,#b0b0ff,#ababff,#a6a6ff,#a3a3ff,#a1a1ff,#a2a2ff,#a5a5ff,#a9a9ff,#adadff,#b0b0ff,#b1b1ff,#b1b1ff,#aeaeff,#a9a9ff,#a2a2ff,#9a9aff,#9191ff,#8989ff,#8282ff,#7d7dff,#7a7aff,#7878ff,#7979ff,#7c7cff,#8181ff,#8a8aff,#9696ff,#a4a4ff)"></i><i style="background:linear-gradient(90deg,#aaf,#9e9eff,#9696ff,#9393ff,#9494ff,#99f,#a0a0ff,#a8a8ff,#afafff,#b3b3ff,#b4b4ff,#b2b2ff,#aeaeff,#a9a9ff,#a4a4ff,#a1a1ff,#a0a0ff,#a0a0ff,#a3a3ff,#a7a7ff,#ababff,#afafff,#b1b1ff,#b0b0ff,#aeaeff,#a9a9ff,#a1a1ff,#99f,#9090ff,#8787ff,#8080ff,#7a7aff,#77f,#7575ff,#7575ff,#7878ff,#7e7eff,#8787ff,#9393ff,#a2a2ff)"></i><i style="background:linear-gradient(90deg,#a8a8ff,#9c9cff,#9494ff,#9090ff,#9191ff,#9696ff,#9e9eff,#a5a5ff,#acacff,#b1b1ff,#b2b2ff,#b1b1ff,#adadff,#a8a8ff,#a3a3ff,#9f9fff,#9e9eff,#9f9fff,#a2a2ff,#a6a6ff,#aaf,#aeaeff,#b0b0ff,#b0b0ff,#adadff,#a8a8ff,#a1a1ff,#9898ff,#8e8eff,#8585ff,#7e7eff,#77f,#7373ff,#7272ff,#7272ff,#7575ff,#7b7bff,#8484ff,#9191ff,#a0a0ff)"></i><i style="background:linear-gradient(90deg,#a7a7ff,#9b9bff,#9292ff,#8e8eff,#8f8fff,#9494ff,#9b9bff,#a3a3ff,#aaf,#aeaeff,#b0b0ff,#afafff,#ababff,#a6a6ff,#a1a1ff,#9d9dff,#9c9cff,#9d9dff,#a0a0ff,#a5a5ff,#a9a9ff,#adadff,#afafff,#afafff,#adadff,#a7a7ff,#a0a0ff,#9797ff,#8d8dff,#8383ff,#7b7bff,#7575ff,#7070ff,#6e6eff,#6e6eff,#7171ff,#77f,#8181ff,#8e8eff,#9d9dff)"></i><i style="background:linear-gradient(90deg,#a6a6ff,#99f,#9090ff,#8c8cff,#8c8cff,#9191ff,#9898ff,#a0a0ff,#a7a7ff,#acacff,#aeaeff,#adadff,#a9a9ff,#a4a4ff,#9f9fff,#9b9bff,#9a9aff,#9b9bff,#9e9eff,#a3a3ff,#a8a8ff,#acacff,#afafff,#afafff,#acacff,#a7a7ff,#9f9fff,#9696ff,#8b8bff,#8181ff,#7979ff,#7272ff,#6d6dff,#6b6bff,#6b6bff,#6e6eff,#7474ff,#7e7eff,#8b8bff,#9b9bff)"></i><i style="background:linear-gradient(90deg,#a4a4ff,#9797ff,#8e8eff,#8989ff,#8a8aff,#8e8eff,#9595ff,#9d9dff,#a4a4ff,#aaf,#ababff,#aaf,#a7a7ff,#a2a2ff,#9d9dff,#99f,#9898ff,#99f,#9d9dff,#a2a2ff,#a7a7ff,#ababff,#aeaeff,#aeaeff,#acacff,#a6a6ff,#9e9eff,#9595ff,#8a8aff,#7f7fff,#7676ff,#6f6fff,#6a6aff,#6767ff,#6767ff,#6a6aff,#7171ff,#7b7bff,#88f,#99f)"></i><i style="background:linear-gradient(90deg,#a3a3ff,#9696ff,#8c8cff,#8787ff,#8787ff,#8b8bff,#9292ff,#9a9aff,#a2a2ff,#a7a7ff,#a9a9ff,#a8a8ff,#a4a4ff,#9f9fff,#9a9aff,#9797ff,#9696ff,#9797ff,#9b9bff,#a0a0ff,#a5a5ff,#aaf,#adadff,#aeaeff,#ababff,#a6a6ff,#9e9eff,#9393ff,#88f,#7d7dff,#7474ff,#6c6cff,#6767ff,#6464ff,#6464ff,#6767ff,#6d6dff,#7878ff,#8686ff,#9797ff)"></i><i style="background:linear-gradient(90deg,#a2a2ff,#9494ff,#8a8aff,#8484ff,#8484ff,#88f,#8f8fff,#9797ff,#9f9fff,#a4a4ff,#a6a6ff,#a6a6ff,#a2a2ff,#9d9dff,#9898ff,#9595ff,#9494ff,#9595ff,#99f,#9f9fff,#a4a4ff,#a9a9ff,#acacff,#adadff,#ababff,#a5a5ff,#9d9dff,#9292ff,#8787ff,#7b7bff,#7171ff,#6969ff,#6363ff,#6060ff,#6060ff,#6363ff,#6a6aff,#7575ff,#8383ff,#9494ff)"></i><i style="background:linear-gradient(90deg,#a0a0ff,#9292ff,#8787ff,#8282ff,#8181ff,#8585ff,#8c8cff,#9494ff,#9b9bff,#a1a1ff,#a4a4ff,#a3a3ff,#a0a0ff,#9b9bff,#9696ff,#9393ff,#9292ff,#9393ff,#9797ff,#9d9dff,#a3a3ff,#a8a8ff,#acacff,#acacff,#aaf,#a5a5ff,#9c9cff,#9191ff,#8585ff,#7979ff,#6f6fff,#66f,#6060ff,#5d5dff,#5d5dff,#6060ff,#6767ff,#7272ff,#8181ff,#9292ff)"></i><i style="background:linear-gradient(90deg,#9f9fff,#9090ff,#8585ff,#7f7fff,#7e7eff,#8181ff,#88f,#9090ff,#9898ff,#9e9eff,#a1a1ff,#a0a0ff,#9d9dff,#9898ff,#9494ff,#9090ff,#8f8fff,#9191ff,#9696ff,#9b9bff,#a2a2ff,#a7a7ff,#ababff,#acacff,#aaf,#a4a4ff,#9b9bff,#9090ff,#8484ff,#77f,#6c6cff,#6363ff,#5d5dff,#5959ff,#5959ff,#5c5cff,#6363ff,#6f6fff,#7e7eff,#9090ff)"></i><i style="background:linear-gradient(90deg,#9d9dff,#8e8eff,#8383ff,#7c7cff,#7b7bff,#7e7eff,#8484ff,#8d8dff,#9595ff,#9b9bff,#9e9eff,#9d9dff,#9a9aff,#9696ff,#9191ff,#8e8eff,#8d8dff,#8f8fff,#9494ff,#9a9aff,#a0a0ff,#a6a6ff,#aaf,#ababff,#a9a9ff,#a3a3ff,#9b9bff,#8f8fff,#8282ff,#7575ff,#6a6aff,#6060ff,#5a5aff,#5656ff,#5656ff,#5959ff,#6060ff,#6c6cff,#7b7bff,#8e8eff)"></i><i style="background:linear-gradient(90deg,#9c9cff,#8c8cff,#8080ff,#7979ff,#77f,#7a7aff,#8181ff,#8989ff,#9191ff,#9797ff,#9a9aff,#9a9aff,#9898ff,#9393ff,#8f8fff,#8b8bff,#8b8bff,#8d8dff,#9292ff,#9898ff,#9f9fff,#a5a5ff,#a9a9ff,#ababff,#a9a9ff,#a3a3ff,#9a9aff,#8e8eff,#8181ff,#7373ff,#6767ff,#5d5dff,#5656ff,#5252ff,#5252ff,#55f,#5d5dff,#6969ff,#7979ff,#8c8cff)"></i><i style="background:linear-gradient(90deg,#9a9aff,#8a8aff,#7d7dff,#7676ff,#7474ff,#7676ff,#7d7dff,#8585ff,#8d8dff,#9494ff,#9797ff,#9797ff,#9595ff,#9090ff,#8c8cff,#8989ff,#88f,#8b8bff,#9090ff,#9696ff,#9d9dff,#a4a4ff,#a8a8ff,#aaf,#a8a8ff,#a2a2ff,#99f,#8d8dff,#7f7fff,#7171ff,#6464ff,#5a5aff,#5353ff,#4f4fff,#4f4fff,#5252ff,#5a5aff,#66f,#77f,#8a8aff)"></i><i style="background:linear-gradient(90deg,#99f,#88f,#7b7bff,#7373ff,#7070ff,#7272ff,#7878ff,#8181ff,#8989ff,#9090ff,#9494ff,#9494ff,#9292ff,#8e8eff,#8989ff,#8686ff,#8686ff,#88f,#8d8dff,#9494ff,#9c9cff,#a2a2ff,#a7a7ff,#a9a9ff,#a7a7ff,#a2a2ff,#9898ff,#8c8cff,#7d7dff,#6f6fff,#6262ff,#5757ff,#5050ff,#4b4bff,#4b4bff,#4f4fff,#5757ff,#6363ff,#7474ff,#88f)"></i><i style="background:linear-gradient(90deg,#9797ff,#8686ff,#7878ff,#6f6fff,#6c6cff,#6e6eff,#7474ff,#7c7cff,#8585ff,#8c8cff,#9090ff,#9191ff,#8e8eff,#8b8bff,#8686ff,#8484ff,#8383ff,#8686ff,#8b8bff,#9292ff,#9a9aff,#a1a1ff,#a6a6ff,#a8a8ff,#a7a7ff,#a1a1ff,#9797ff,#8b8bff,#7c7cff,#6d6dff,#5f5fff,#5454ff,#4c4cff,#4848ff,#4848ff,#4b4bff,#5454ff,#6161ff,#7272ff,#8686ff)"></i><i style="background:linear-gradient(90deg,#9595ff,#8383ff,#7575ff,#6c6cff,#6868ff,#6a6aff,#7070ff,#7878ff,#8181ff,#88f,#8c8cff,#8d8dff,#8b8bff,#8787ff,#8383ff,#8181ff,#8181ff,#8383ff,#8989ff,#9090ff,#9898ff,#a0a0ff,#a5a5ff,#a8a8ff,#a6a6ff,#a0a0ff,#9797ff,#8989ff,#7a7aff,#6b6bff,#5d5dff,#5151ff,#4949ff,#4545ff,#44f,#4848ff,#5050ff,#5e5eff,#7070ff,#8585ff)"></i><i style="background:linear-gradient(90deg,#9393ff,#8181ff,#7272ff,#6868ff,#6464ff,#6565ff,#6b6bff,#7373ff,#7c7cff,#8383ff,#88f,#8989ff,#88f,#8484ff,#8080ff,#7e7eff,#7e7eff,#8181ff,#8787ff,#8e8eff,#9797ff,#9e9eff,#a4a4ff,#a7a7ff,#a5a5ff,#a0a0ff,#9696ff,#88f,#7979ff,#6969ff,#5a5aff,#4e4eff,#4646ff,#4141ff,#4141ff,#4545ff,#4d4dff,#5b5bff,#6e6eff,#8383ff)"></i><i style="background:linear-gradient(90deg,#9292ff,#7f7fff,#6f6fff,#6464ff,#6060ff,#6161ff,#66f,#6e6eff,#77f,#7f7fff,#8484ff,#8686ff,#8484ff,#8181ff,#7d7dff,#7b7bff,#7b7bff,#7e7eff,#8484ff,#8c8cff,#9595ff,#9d9dff,#a3a3ff,#a6a6ff,#a5a5ff,#9f9fff,#9595ff,#8787ff,#77f,#6767ff,#5858ff,#4b4bff,#4242ff,#3e3eff,#3d3dff,#4141ff,#4b4bff,#5959ff,#6b6bff,#8181ff)"></i><i style="background:linear-gradient(90deg,#9090ff,#7c7cff,#6b6bff,#6060ff,#5b5bff,#5c5cff,#6161ff,#6969ff,#7272ff,#7a7aff,#8080ff,#8181ff,#8080ff,#7d7dff,#7a7aff,#7878ff,#7878ff,#7c7cff,#8282ff,#8a8aff,#9393ff,#9c9cff,#a2a2ff,#a5a5ff,#a4a4ff,#9e9eff,#9494ff,#8686ff,#7676ff,#6565ff,#55f,#4848ff,#3f3fff,#3a3aff,#3a3aff,#3e3eff,#4848ff,#5656ff,#6969ff,#7f7fff)"></i><i style="background:linear-gradient(90deg,#8d8dff,#7979ff,#6868ff,#5c5cff,#5656ff,#5757ff,#5c5cff,#6464ff,#6d6dff,#7575ff,#7b7bff,#7d7dff,#7c7cff,#7a7aff,#7676ff,#7474ff,#7575ff,#7979ff,#7f7fff,#88f,#9191ff,#9a9aff,#a1a1ff,#a4a4ff,#a3a3ff,#9e9eff,#9393ff,#8585ff,#7474ff,#6363ff,#5252ff,#4545ff,#3c3cff,#3737ff,#3737ff,#3b3bff,#4545ff,#5454ff,#6767ff,#7e7eff)"></i><i style="background:linear-gradient(90deg,#8b8bff,#7676ff,#6464ff,#5858ff,#5252ff,#5151ff,#5656ff,#5f5fff,#6868ff,#7070ff,#7676ff,#7979ff,#7878ff,#7676ff,#7373ff,#7171ff,#7272ff,#7676ff,#7d7dff,#8686ff,#8f8fff,#9898ff,#9f9fff,#a3a3ff,#a2a2ff,#9d9dff,#9292ff,#8484ff,#7272ff,#6060ff,#5050ff,#4242ff,#3939ff,#3434ff,#33f,#3838ff,#4242ff,#5151ff,#6565ff,#7c7cff)"></i><i style="background:linear-gradient(90deg,#8989ff,#7373ff,#6161ff,#5454ff,#4d4dff,#4c4cff,#5151ff,#5959ff,#6262ff,#6b6bff,#7171ff,#7474ff,#7474ff,#7272ff,#6f6fff,#6e6eff,#6f6fff,#7373ff,#7a7aff,#8383ff,#8d8dff,#9797ff,#9e9eff,#a2a2ff,#a2a2ff,#9c9cff,#9191ff,#8282ff,#7171ff,#5e5eff,#4d4dff,#3f3fff,#3535ff,#3030ff,#3030ff,#3535ff,#3f3fff,#4f4fff,#6464ff,#7b7bff)"></i><i style="background:linear-gradient(90deg,#8787ff,#7070ff,#5d5dff,#4f4fff,#4848ff,#4646ff,#4b4bff,#5353ff,#5d5dff,#66f,#6c6cff,#7070ff,#7070ff,#6e6eff,#6b6bff,#6a6aff,#6b6bff,#7070ff,#77f,#8181ff,#8b8bff,#9595ff,#9d9dff,#a1a1ff,#a1a1ff,#9b9bff,#9191ff,#8181ff,#6f6fff,#5c5cff,#4b4bff,#3c3cff,#3232ff,#2d2dff,#2d2dff,#3232ff,#3d3dff,#4d4dff,#6262ff,#7a7aff)"></i><i style="background:linear-gradient(90deg,#8484ff,#6d6dff,#5959ff,#4a4aff,#4242ff,#4141ff,#4545ff,#4d4dff,#5757ff,#6060ff,#6767ff,#6b6bff,#6b6bff,#6a6aff,#6767ff,#66f,#6868ff,#6c6cff,#7474ff,#7e7eff,#8989ff,#9393ff,#9b9bff,#a0a0ff,#a0a0ff,#9a9aff,#9090ff,#8080ff,#6e6eff,#5a5aff,#4848ff,#3a3aff,#2f2fff,#2a2aff,#2a2aff,#2f2fff,#3a3aff,#4b4bff,#6060ff,#7878ff)"></i><i style="background:linear-gradient(90deg,#8282ff,#6a6aff,#55f,#4545ff,#3d3dff,#3b3bff,#3f3fff,#4747ff,#5151ff,#5b5bff,#6262ff,#66f,#6767ff,#6565ff,#6363ff,#6262ff,#6464ff,#6969ff,#7171ff,#7b7bff,#8686ff,#9191ff,#9a9aff,#9f9fff,#9f9fff,#9a9aff,#8f8fff,#7f7fff,#6c6cff,#5858ff,#4646ff,#3737ff,#2c2cff,#2727ff,#2727ff,#2c2cff,#3838ff,#4949ff,#5e5eff,#77f)"></i><i style="background:linear-gradient(90deg,#7f7fff,#66f,#5151ff,#4040ff,#3737ff,#3535ff,#3939ff,#4141ff,#4b4bff,#55f,#5c5cff,#6161ff,#6262ff,#6161ff,#5f5fff,#5e5eff,#6060ff,#66f,#6e6eff,#7878ff,#8484ff,#8f8fff,#9898ff,#9d9dff,#9e9eff,#99f,#8e8eff,#7e7eff,#6b6bff,#5656ff,#44f,#3434ff,#2929ff,#2323ff,#2424ff,#2929ff,#3535ff,#4747ff,#5d5dff,#7676ff)"></i><i style="background:linear-gradient(90deg,#7c7cff,#6363ff,#4c4cff,#3b3bff,#3131ff,#2e2eff,#3232ff,#3a3aff,#44f,#4f4fff,#5757ff,#5b5bff,#5d5dff,#5c5cff,#5b5bff,#5a5aff,#5d5dff,#6262ff,#6b6bff,#7676ff,#8181ff,#8d8dff,#9696ff,#9c9cff,#9d9dff,#9898ff,#8d8dff,#7d7dff,#6969ff,#5454ff,#4141ff,#3131ff,#2626ff,#2020ff,#2121ff,#2727ff,#33f,#4545ff,#5b5bff,#7575ff)"></i><i style="background:linear-gradient(90deg,#7979ff,#5f5fff,#4848ff,#3636ff,#2b2bff,#2828ff,#2b2bff,#33f,#3e3eff,#4848ff,#5151ff,#5656ff,#5858ff,#5757ff,#5656ff,#5656ff,#5959ff,#5e5eff,#6767ff,#7272ff,#7f7fff,#8b8bff,#9494ff,#9a9aff,#9b9bff,#9797ff,#8c8cff,#7b7bff,#6868ff,#5252ff,#3f3fff,#2e2eff,#2323ff,#1d1dff,#1e1eff,#2424ff,#3131ff,#4343ff,#5a5aff,#7474ff)"></i><i style="background:linear-gradient(90deg,#7676ff,#5b5bff,#4343ff,#3030ff,#2525ff,#22f,#2525ff,#2d2dff,#3737ff,#4242ff,#4b4bff,#5050ff,#5252ff,#5252ff,#5151ff,#5252ff,#55f,#5b5bff,#6464ff,#6f6fff,#7c7cff,#88f,#9292ff,#99f,#9a9aff,#9595ff,#8a8aff,#7a7aff,#66f,#5151ff,#3c3cff,#2c2cff,#2020ff,#1a1aff,#1b1bff,#2121ff,#2e2eff,#4141ff,#5858ff,#7373ff)"></i><i style="background:linear-gradient(90deg,#7373ff,#5757ff,#3e3eff,#2b2bff,#1f1fff,#1b1bff,#1e1eff,#2626ff,#3030ff,#3b3bff,#44f,#4a4aff,#4d4dff,#4d4dff,#4d4dff,#4d4dff,#5050ff,#5757ff,#6060ff,#6c6cff,#7979ff,#8686ff,#9090ff,#9797ff,#99f,#9494ff,#8989ff,#7979ff,#6464ff,#4f4fff,#3a3aff,#2929ff,#1d1dff,#1717ff,#1818ff,#1f1fff,#2c2cff,#3f3fff,#5757ff,#7272ff)"></i><i style="background:linear-gradient(90deg,#7070ff,#5353ff,#3939ff,#2525ff,#1818ff,#1414ff,#1717ff,#1e1eff,#2929ff,#3535ff,#3e3eff,#44f,#4747ff,#4848ff,#4848ff,#4949ff,#4c4cff,#5353ff,#5c5cff,#6969ff,#7676ff,#8383ff,#8e8eff,#9696ff,#9797ff,#9393ff,#88f,#7878ff,#6363ff,#4d4dff,#3838ff,#2727ff,#1b1bff,#1515ff,#1515ff,#1c1cff,#2a2aff,#3d3dff,#5656ff,#7171ff)"></i><i style="background:linear-gradient(90deg,#6c6cff,#4f4fff,#3434ff,#1f1fff,#1212ff,#0d0dff,#0f0fff,#1717ff,#22f,#2e2eff,#3737ff,#3e3eff,#4141ff,#4242ff,#4343ff,#44f,#4848ff,#4e4eff,#5959ff,#6565ff,#7373ff,#8181ff,#8c8cff,#9494ff,#9696ff,#9292ff,#8787ff,#7676ff,#6161ff,#4b4bff,#3636ff,#2424ff,#1818ff,#1212ff,#1313ff,#1a1aff,#2828ff,#3c3cff,#55f,#7070ff)"></i><i style="background:linear-gradient(90deg,#6969ff,#4a4aff,#2f2fff,#1919ff,#0b0bff,#0606ff,#0808ff,#1010ff,#1b1bff,#2727ff,#3131ff,#3838ff,#3c3cff,#3d3dff,#3d3dff,#3f3fff,#4343ff,#4a4aff,#55f,#6262ff,#7070ff,#7e7eff,#8a8aff,#9292ff,#9494ff,#9090ff,#8686ff,#7575ff,#6060ff,#4949ff,#33f,#22f,#1515ff,#0f0fff,#1010ff,#1818ff,#2626ff,#3a3aff,#5353ff,#6f6fff)"></i><i style="background:linear-gradient(90deg,#6565ff,#4646ff,#2929ff,#1313ff,#0404ff,#0200fd,#00f,#0808ff,#1313ff,#1f1fff,#2a2aff,#3131ff,#3535ff,#3737ff,#3838ff,#3a3aff,#3e3eff,#4646ff,#5151ff,#5e5eff,#6d6dff,#7b7bff,#8787ff,#9090ff,#9393ff,#8f8fff,#8484ff,#7373ff,#5e5eff,#4747ff,#3131ff,#1f1fff,#1212ff,#0c0cff,#0d0dff,#1515ff,#2424ff,#3939ff,#5252ff,#6e6eff)"></i><i style="background:linear-gradient(90deg,#6262ff,#4141ff,#2424ff,#0c0cff,#0300fc,#0900f6,#0700f8,#0101ff,#0c0cff,#1818ff,#2323ff,#2b2bff,#2f2fff,#3131ff,#33f,#3535ff,#3939ff,#4141ff,#4c4cff,#5a5aff,#6969ff,#7878ff,#8585ff,#8e8eff,#9191ff,#8e8eff,#8383ff,#7272ff,#5d5dff,#4545ff,#2f2fff,#1d1dff,#1010ff,#0a0aff,#0b0bff,#1313ff,#22f,#3737ff,#5151ff,#6e6eff)"></i><i style="background:linear-gradient(90deg,#5e5eff,#3c3cff,#1e1eff,#0606ff,#0a00f5,#1000ef,#0f00f0,#0700f8,#0404ff,#11f,#1c1cff,#2424ff,#2929ff,#2b2bff,#2d2dff,#3030ff,#3434ff,#3d3dff,#4848ff,#5656ff,#66f,#7575ff,#8282ff,#8b8bff,#8f8fff,#8c8cff,#8282ff,#7171ff,#5b5bff,#44f,#2d2dff,#1a1aff,#0d0dff,#0707ff,#0808ff,#11f,#2020ff,#3636ff,#5050ff,#6d6dff)"></i><i style="background:linear-gradient(90deg,#5a5aff,#3838ff,#1818ff,#0100fe,#10e,#1800e7,#1700e8,#0f00f0,#0400fb,#0909ff,#1515ff,#1d1dff,#22f,#2525ff,#2727ff,#2a2aff,#2f2fff,#3838ff,#44f,#5252ff,#6262ff,#7272ff,#7f7fff,#8989ff,#8d8dff,#8a8aff,#8080ff,#6f6fff,#5959ff,#4242ff,#2b2bff,#1818ff,#0b0bff,#0505ff,#0606ff,#0f0fff,#1f1fff,#3535ff,#4f4fff,#6d6dff)"></i><i style="background:linear-gradient(90deg,#5656ff,#33f,#1212ff,#0700f8,#1800e7,#2000df,#1f00e0,#1700e8,#0b00f4,#0202ff,#0d0dff,#1616ff,#1c1cff,#1f1fff,#2121ff,#2525ff,#2a2aff,#33f,#3f3fff,#4e4eff,#5e5eff,#6e6eff,#7d7dff,#8787ff,#8b8bff,#8989ff,#7e7eff,#6e6eff,#5858ff,#4040ff,#2929ff,#1616ff,#0808ff,#0202ff,#0404ff,#0d0dff,#1d1dff,#33f,#4f4fff,#6c6cff)"></i><i style="background:linear-gradient(90deg,#5252ff,#2d2dff,#0c0cff,#0e00f1,#2000df,#2800d7,#2700d8,#1f00e0,#1300ec,#0600f9,#0606ff,#0f0fff,#1515ff,#1919ff,#1c1cff,#1f1fff,#2525ff,#2e2eff,#3a3aff,#4949ff,#5a5aff,#6b6bff,#7979ff,#8484ff,#8989ff,#8787ff,#7d7dff,#6c6cff,#5656ff,#3e3eff,#2727ff,#1313ff,#0606ff,#00f,#0101ff,#0b0bff,#1b1bff,#3232ff,#4e4eff,#6c6cff)"></i><i style="background:linear-gradient(90deg,#4d4dff,#2828ff,#0606ff,#1500ea,#2700d8,#2f00d0,#2f00d0,#2700d8,#1b00e4,#0e00f1,#0200fd,#0808ff,#0e0eff,#1212ff,#1515ff,#1919ff,#1f1fff,#2929ff,#3535ff,#4545ff,#5656ff,#6767ff,#7676ff,#8181ff,#8787ff,#8585ff,#7b7bff,#6a6aff,#55f,#3c3cff,#2525ff,#11f,#0404ff,#0300fc,#0100fe,#0909ff,#1a1aff,#3131ff,#4d4dff,#6b6bff)"></i><i style="background:linear-gradient(90deg,#4949ff,#2323ff,#00f,#1c00e3,#2f00d0,#3700c8,#3700c8,#2f00d0,#2300dc,#1600e9,#0900f6,#00f,#0707ff,#0c0cff,#0f0fff,#1313ff,#1a1aff,#2424ff,#3131ff,#4040ff,#5252ff,#6464ff,#7373ff,#7f7fff,#8484ff,#8383ff,#7979ff,#6969ff,#5353ff,#3b3bff,#2323ff,#0f0fff,#0101ff,#0500fa,#0300fc,#0707ff,#1818ff,#3030ff,#4c4cff,#6b6bff)"></i><i style="background:linear-gradient(90deg,#4545ff,#1d1dff,#0600f9,#2300dc,#3600c9,#3f00c0,#3f00c0,#3800c7,#2c00d3,#1e00e1,#10e,#0700f8,#00f,#0505ff,#0909ff,#0d0dff,#1414ff,#1e1eff,#2c2cff,#3c3cff,#4e4eff,#6060ff,#7070ff,#7c7cff,#8282ff,#8181ff,#77f,#6767ff,#5151ff,#3939ff,#2121ff,#0d0dff,#0100fe,#0700f8,#0500fa,#0505ff,#1616ff,#2f2fff,#4b4bff,#6a6aff)"></i><i style="background:linear-gradient(90deg,#4040ff,#1818ff,#0d00f2,#2a00d5,#3e00c1,#4700b8,#4700b8,#4000bf,#3400cb,#2600d9,#1900e6,#0e00f1,#0700f8,#0200fd,#0303ff,#0707ff,#0f0fff,#1919ff,#2626ff,#3737ff,#4949ff,#5c5cff,#6c6cff,#7979ff,#7f7fff,#7e7eff,#7575ff,#6565ff,#4f4fff,#3737ff,#1f1fff,#0b0bff,#0300fc,#0a00f5,#0800f7,#0303ff,#1515ff,#2d2dff,#4b4bff,#6a6aff)"></i><i style="background:linear-gradient(90deg,#3b3bff,#1212ff,#1300ec,#3100ce,#4600b9,#5000af,#5000af,#4800b7,#3c00c3,#2e00d1,#2100de,#1600e9,#0e00f1,#0800f7,#0400fb,#0101ff,#0909ff,#1313ff,#2121ff,#3232ff,#4545ff,#5858ff,#6969ff,#7575ff,#7c7cff,#7c7cff,#7373ff,#6363ff,#4e4eff,#3535ff,#1d1dff,#0909ff,#0600f9,#0c00f3,#0a00f5,#0101ff,#1313ff,#2c2cff,#4a4aff,#6a6aff)"></i><i style="background:linear-gradient(90deg,#3737ff,#0d0dff,#1a00e5,#3900c6,#4d00b2,#5800a7,#5800a7,#5100ae,#40b,#3600c9,#2900d6,#1e00e1,#1500ea,#0f00f0,#0a00f5,#0500fa,#0303ff,#0e0eff,#1c1cff,#2d2dff,#4040ff,#5353ff,#6565ff,#7272ff,#7a7aff,#7979ff,#7171ff,#6161ff,#4c4cff,#33f,#1b1bff,#0707ff,#0800f7,#0e00f1,#0c00f3,#0100fe,#1212ff,#2b2bff,#4a4aff,#6969ff)"></i><i style="background:linear-gradient(90deg,#3232ff,#0707ff,#2000df,#4000bf,#50a,#60009f,#60009f,#5900a6,#4d00b2,#3e00c1,#3100ce,#2500da,#1d00e2,#1600e9,#10e,#0b00f4,#0300fc,#0808ff,#1616ff,#2828ff,#3b3bff,#4f4fff,#6161ff,#6f6fff,#77f,#77f,#6f6fff,#5f5fff,#4a4aff,#3131ff,#1919ff,#0505ff,#0a00f5,#1000ef,#0e00f1,#0300fc,#11f,#2a2aff,#4949ff,#6969ff)"></i><i style="background:linear-gradient(90deg,#2d2dff,#0101ff,#2700d8,#4700b8,#5d00a2,#680097,#680097,#61009e,#50a,#4600b9,#3900c6,#2d00d2,#2400db,#1d00e2,#1800e7,#10e,#0900f6,#0202ff,#11f,#2323ff,#3737ff,#4b4bff,#5d5dff,#6b6bff,#7373ff,#7474ff,#6d6dff,#5d5dff,#4848ff,#2f2fff,#1717ff,#0202ff,#0c00f3,#1200ed,#1000ef,#0400fb,#0f0fff,#2929ff,#4848ff,#6969ff)"></i><i style="background:linear-gradient(90deg,#2828ff,#0400fb,#2d00d2,#4e00b1,#65009a,#70008f,#71008e,#690096,#5d00a2,#4e00b1,#4000bf,#3500ca,#2b00d4,#2400db,#1e00e1,#1800e7,#0f00f0,#0400fb,#0b0bff,#1d1dff,#3232ff,#4646ff,#5959ff,#6767ff,#7070ff,#7171ff,#6a6aff,#5b5bff,#4646ff,#2e2eff,#1515ff,#00f,#0e00f1,#1400eb,#1200ed,#0600f9,#0e0eff,#2828ff,#4848ff,#6969ff)"></i><i style="background:linear-gradient(90deg,#2424ff,#0a00f5,#3400cb,#5600a9,#6c0093,#780087,#790086,#71008e,#65009a,#5700a8,#4800b7,#3c00c3,#30c,#2b00d4,#2500da,#1e00e1,#1500ea,#0a00f5,#0606ff,#1818ff,#2d2dff,#4141ff,#5454ff,#6464ff,#6d6dff,#6e6eff,#6868ff,#5959ff,#44f,#2c2cff,#1313ff,#0200fd,#1000ef,#1700e8,#1400eb,#0800f7,#0c0cff,#2828ff,#4747ff,#6868ff)"></i><i style="background:linear-gradient(90deg,#1f1fff,#1000ef,#3b00c4,#5d00a2,#74008b,#80007f,#81007e,#7a0085,#6d0092,#5f00a0,#5000af,#40b,#3a00c5,#3200cd,#2c00d3,#2500da,#1c00e3,#0f00f0,#00f,#1313ff,#2727ff,#3d3dff,#5050ff,#6060ff,#6969ff,#6b6bff,#6565ff,#5656ff,#4242ff,#2a2aff,#11f,#0400fb,#1200ed,#1900e6,#1600e9,#0a00f5,#0b0bff,#2727ff,#4747ff,#6868ff)"></i><i style="background:linear-gradient(90deg,#1a1aff,#1600e9,#4100be,#64009b,#7b0084,#870078,#890076,#82007d,#75008a,#609,#5800a7,#4b00b4,#4100be,#3900c6,#30c,#2b00d4,#20d,#1500ea,#0600f9,#0d0dff,#22f,#3838ff,#4c4cff,#5c5cff,#66f,#6868ff,#6262ff,#5454ff,#4040ff,#2828ff,#0f0fff,#0600f9,#1400eb,#1b00e4,#1800e7,#0b00f4,#0a0aff,#2626ff,#4646ff,#6868ff)"></i><i style="background:linear-gradient(90deg,#1515ff,#1b00e4,#4800b7,#6b0094,#83007c,#8f0070,#90006f,#890076,#7d0082,#6e0091,#60009f,#5300ac,#4900b6,#4000bf,#3900c6,#3200cd,#2800d7,#1b00e4,#0b00f4,#0808ff,#1d1dff,#33f,#4747ff,#5858ff,#6262ff,#6565ff,#5f5fff,#5252ff,#3d3dff,#2626ff,#0d0dff,#0800f7,#1600e9,#1d00e2,#1900e6,#0d00f2,#0909ff,#2525ff,#4646ff,#6868ff)"></i><i style="background:linear-gradient(90deg,#1010ff,#2100de,#4e00b1,#72008d,#8a0075,#970068,#980067,#91006e,#85007a,#760089,#670098,#5a00a5,#5000af,#4700b8,#4000bf,#3800c7,#2e00d1,#2100de,#10e,#0202ff,#1717ff,#2e2eff,#4242ff,#5353ff,#5e5eff,#6262ff,#5c5cff,#4f4fff,#3b3bff,#2323ff,#0b0bff,#0a00f5,#1800e7,#1f00e0,#1b00e4,#0e00f1,#0707ff,#2424ff,#4545ff,#6868ff)"></i><i style="background:linear-gradient(90deg,#0b0bff,#2700d8,#5400ab,#790086,#91006e,#9e0061,#a0005f,#906,#8c0073,#7e0081,#6f0090,#62009d,#5700a8,#4e00b1,#4700b8,#3e00c1,#3400cb,#2700d8,#1700e8,#0400fb,#1212ff,#2828ff,#3e3eff,#4f4fff,#5a5aff,#5e5eff,#5959ff,#4c4cff,#3939ff,#2121ff,#0909ff,#0c00f3,#1a00e5,#2100de,#1d00e2,#1000ef,#0606ff,#2323ff,#4545ff,#6767ff)"></i><i style="background:linear-gradient(90deg,#0707ff,#2c00d3,#5b00a4,#80007f,#906,#a5005a,#a70058,#a0005f,#94006b,#85007a,#760089,#690096,#5e00a1,#50a,#4d00b2,#4500ba,#3a00c5,#2d00d2,#1d00e2,#0900f6,#0d0dff,#2323ff,#3939ff,#4a4aff,#5656ff,#5a5aff,#5656ff,#4a4aff,#3636ff,#1f1fff,#0707ff,#0e00f1,#1c00e3,#2300dc,#1f00e0,#1200ed,#0505ff,#22f,#44f,#6767ff)"></i><i style="background:linear-gradient(90deg,#0202ff,#3200cd,#61009e,#860079,#a0005f,#ac0053,#ae0051,#a70058,#9b0064,#8c0073,#7e0081,#70008f,#65009a,#5c00a3,#5400ab,#4b00b4,#4100be,#30c,#2300dc,#0f00f0,#0707ff,#1e1eff,#3434ff,#4646ff,#5252ff,#5757ff,#5353ff,#4747ff,#3434ff,#1d1dff,#0505ff,#1000ef,#1e00e1,#2400db,#2100de,#1300ec,#0404ff,#2121ff,#44f,#6767ff)"></i><i style="background:linear-gradient(90deg,#0300fc,#3700c8,#670098,#8d0072,#a60059,#b3004c,#b5004a,#af0050,#a2005d,#94006b,#85007a,#708,#6c0093,#63009c,#5a00a5,#5100ae,#4700b8,#3900c6,#2900d6,#1500ea,#0101ff,#1919ff,#2f2fff,#4141ff,#4e4eff,#5353ff,#5050ff,#44f,#3131ff,#1b1bff,#0303ff,#1200ed,#2000df,#2600d9,#2300dc,#1500ea,#0202ff,#2121ff,#4343ff,#6767ff)"></i><i style="background:linear-gradient(90deg,#0700f8,#3d00c2,#6d0092,#93006c,#ad0052,#ba0045,#bc0043,#b5004a,#a90056,#9b0064,#8c0073,#7e0081,#73008c,#690096,#60009f,#5700a8,#4d00b2,#3f00c0,#2f00d0,#1b00e4,#0400fb,#1313ff,#2a2aff,#3d3dff,#4a4aff,#4f4fff,#4c4cff,#4141ff,#2f2fff,#1818ff,#0101ff,#1400eb,#20d,#2800d7,#2400db,#1600e9,#0101ff,#2020ff,#4343ff,#6767ff)"></i><i style="background:linear-gradient(90deg,#0c00f3,#4200bd,#73008c,#906,#b3004c,#c0003f,#c3003c,#bc0043,#b0004f,#a1005e,#92006d,#85007a,#790086,#6f0090,#609,#5d00a2,#5200ad,#4500ba,#3400cb,#2000df,#0a00f5,#0e0eff,#2525ff,#3838ff,#4545ff,#4b4bff,#4949ff,#3e3eff,#2c2cff,#1616ff,#0100fe,#1600e9,#2400db,#2a00d5,#2600d9,#1800e7,#00f,#1f1fff,#4343ff,#6767ff)"></i><i style="background:linear-gradient(90deg,#1000ef,#4700b8,#780087,#9f0060,#b90046,#c70038,#c90036,#c2003d,#b60049,#a80057,#906,#8b0074,#80007f,#760089,#6c0093,#63009c,#5800a7,#4b00b4,#3a00c5,#2600d9,#0f00f0,#0808ff,#1f1fff,#33f,#4141ff,#4747ff,#4545ff,#3b3bff,#2929ff,#1414ff,#0300fc,#1800e7,#2600d9,#2c00d3,#2800d7,#1900e6,#0100fe,#1e1eff,#4242ff,#66f)"></i><i style="background:linear-gradient(90deg,#1500ea,#4c00b3,#7e0081,#a5005a,#bf0040,#cd0032,#cf0030,#c80037,#bc0043,#ae0051,#9f0060,#92006d,#860079,#7c0083,#72008d,#690096,#5e00a1,#5000af,#4000bf,#2c00d3,#1500ea,#0303ff,#1a1aff,#2e2eff,#3c3cff,#4343ff,#4141ff,#3737ff,#2626ff,#11f,#0500fa,#1a00e5,#2800d7,#2e00d1,#2900d6,#1a00e5,#0200fd,#1d1dff,#4242ff,#66f)"></i><i style="background:linear-gradient(90deg,#1900e6,#5000af,#83007c,#a05,#c5003a,#d2002d,#d5002a,#ce0031,#c2003d,#b4004b,#a5005a,#980067,#8c0073,#81007e,#780087,#6e0091,#64009b,#5600a9,#4500ba,#3100ce,#1b00e4,#0200fd,#1515ff,#2929ff,#3838ff,#3f3fff,#3d3dff,#3434ff,#2424ff,#0f0fff,#0800f7,#1c00e3,#2a00d5,#2f00d0,#2b00d4,#1c00e3,#0300fc,#1d1dff,#4141ff,#66f)"></i><i style="background:linear-gradient(90deg,#1d00e2,#50a,#807,#af0050,#ca0035,#d80027,#da0025,#d4002b,#c80037,#ba0045,#ab0054,#9d0062,#91006e,#870078,#7d0082,#74008b,#690096,#5c00a3,#4b00b4,#3700c8,#2000df,#0800f7,#1010ff,#2424ff,#33f,#3a3aff,#3a3aff,#3131ff,#2121ff,#0c0cff,#0a00f5,#1e00e1,#2c00d3,#3100ce,#2c00d3,#1d00e2,#0400fb,#1c1cff,#4141ff,#66f)"></i><i style="background:linear-gradient(90deg,#2000df,#5900a6,#8c0073,#b4004b,#cf0030,#d02,#df0020,#d90026,#cd0032,#bf0040,#b0004f,#a3005c,#970068,#8c0073,#83007c,#790086,#6e0091,#61009e,#5000af,#3c00c3,#2600d9,#0d00f2,#0a0aff,#1f1fff,#2e2eff,#3636ff,#3636ff,#2d2dff,#1e1eff,#0a0aff,#0c00f3,#2000df,#2d00d2,#30c,#2e00d1,#1f00e0,#0500fa,#1b1bff,#4040ff,#66f)"></i><i style="background:linear-gradient(90deg,#2400db,#5d00a2,#91006e,#b90046,#d4002b,#e1001e,#e4001b,#de0021,#d2002d,#c4003b,#b5004a,#a80057,#9c0063,#91006e,#807,#7e0081,#73008c,#609,#5600a9,#4200bd,#2b00d4,#1300ec,#0505ff,#1a1aff,#2929ff,#3232ff,#3232ff,#2a2aff,#1b1bff,#0707ff,#0e00f1,#2100de,#2f00d0,#3400cb,#3000cf,#2000df,#0600f9,#1b1bff,#4040ff,#66f)"></i><i style="background:linear-gradient(90deg,#2700d8,#61009e,#95006a,#bd0042,#d80027,#e60019,#e80017,#e2001d,#d70028,#c90036,#ba0045,#ad0052,#a1005e,#960069,#8d0072,#83007c,#780087,#6b0094,#5b00a4,#4700b8,#3100ce,#1800e7,#00f,#1515ff,#2525ff,#2d2dff,#2e2eff,#2626ff,#1818ff,#0404ff,#1000ef,#2300dc,#3100ce,#3600c9,#3100ce,#2100de,#0700f8,#1a1aff,#4040ff,#6565ff)"></i><i style="background:linear-gradient(90deg,#2a00d5,#65009a,#906,#c1003e,#dc0023,#ea0015,#ec0013,#e60019,#db0024,#cd0032,#bf0040,#b1004e,#a5005a,#9b0064,#91006e,#807,#7d0082,#70008f,#60009f,#4d00b2,#3600c9,#1e00e1,#0600f9,#1010ff,#2020ff,#2929ff,#2a2aff,#2323ff,#1515ff,#0202ff,#1300ec,#2500da,#30c,#3800c7,#3200cd,#20d,#0800f7,#1919ff,#3f3fff,#6565ff)"></i><i style="background:linear-gradient(90deg,#2d00d2,#680097,#9c0063,#c5003a,#e0001f,#ed0012,#f0000f,#ea0015,#df0020,#d1002e,#c3003c,#b5004a,#a90056,#9f0060,#95006a,#8c0073,#81007e,#75008a,#65009a,#5200ad,#3b00c4,#2300dc,#0b00f4,#0a0aff,#1b1bff,#2424ff,#2626ff,#1f1fff,#11f,#0100fe,#1500ea,#2700d8,#3400cb,#3900c6,#3400cb,#2300dc,#0900f6,#1818ff,#3f3fff,#6565ff)"></i><i style="background:linear-gradient(90deg,#3000cf,#6b0094,#9f0060,#c80037,#e3001c,#f1000e,#f3000c,#ed0012,#e2001d,#d4002b,#c60039,#b90046,#ad0052,#a3005c,#906,#90006f,#860079,#790086,#6a0095,#5700a8,#4100be,#2800d7,#1000ef,#0505ff,#1616ff,#2020ff,#22f,#1b1bff,#0e0eff,#0300fc,#1700e8,#2900d6,#3600c9,#3b00c4,#3500ca,#2500da,#0a00f5,#1818ff,#3e3eff,#6565ff)"></i><i style="background:linear-gradient(90deg,#30c,#6e0091,#a2005d,#cb0034,#e60019,#f4000b,#f60009,#f0000f,#e5001a,#d80027,#ca0035,#bd0042,#b1004e,#a60059,#9d0062,#94006b,#8a0075,#7e0081,#6f0090,#5c00a3,#4600b9,#2e00d1,#1500ea,#00f,#11f,#1b1bff,#1d1dff,#1818ff,#0b0bff,#0600f9,#1900e6,#2b00d4,#3800c7,#3c00c3,#3600c9,#2600d9,#0b00f4,#1717ff,#3e3eff,#6565ff)"></i><i style="background:linear-gradient(90deg,#3500ca,#70008f,#a5005a,#ce0031,#e90016,#f60009,#f80007,#f3000c,#e80017,#da0025,#cd0032,#c0003f,#b4004b,#a05,#a0005f,#980067,#8e0071,#82007d,#73008c,#61009e,#4b00b4,#30c,#1b00e4,#0500fa,#0c0cff,#1717ff,#1919ff,#1414ff,#0808ff,#0900f6,#1c00e3,#2d00d2,#3900c6,#3e00c1,#3800c7,#2700d8,#0c00f3,#1717ff,#3d3dff,#6464ff)"></i><i style="background:linear-gradient(90deg,#3700c8,#73008c,#a70058,#d0002f,#eb0014,#f80007,#fb0004,#f5000a,#ea0015,#d02,#cf0030,#c2003d,#b70048,#ad0052,#a4005b,#9b0064,#91006e,#860079,#780087,#65009a,#5000af,#3800c7,#2000df,#0a00f5,#0707ff,#1212ff,#1515ff,#1010ff,#0505ff,#0b00f4,#1e00e1,#2f00d0,#3b00c4,#3f00c0,#3900c6,#2800d7,#0d00f2,#1616ff,#3d3dff,#6464ff)"></i><i style="background:linear-gradient(90deg,#3900c6,#74008b,#a90056,#d2002d,#ec0013,#fa0005,#fc0003,#f70008,#ec0013,#df0020,#d1002e,#c5003a,#b90046,#af0050,#a60059,#9e0061,#95006a,#8a0075,#7c0083,#6a0095,#50a,#3d00c2,#2500da,#0f00f0,#0303ff,#0e0eff,#11f,#0d0dff,#0202ff,#0e00f1,#2000df,#3100ce,#3c00c3,#4000bf,#3a00c5,#2900d6,#0d00f2,#1515ff,#3d3dff,#6464ff)"></i><i style="background:linear-gradient(90deg,#3a00c5,#760089,#ab0054,#d3002c,#e01,#fb0004,#fd0002,#f80007,#ed0012,#e0001f,#d3002c,#c60039,#b04,#b1004e,#a90056,#a1005e,#980067,#8d0072,#80007f,#6e0091,#5900a6,#4200bd,#2a00d5,#1400eb,#0200fd,#0909ff,#0d0dff,#0909ff,#0100fe,#10e,#20d,#3200cd,#3e00c1,#4100be,#3b00c4,#2900d6,#0e00f1,#1515ff,#3c3cff,#6464ff)"></i><i style="background:linear-gradient(90deg,#3c00c3,#708,#ac0053,#d4002b,#ef0010,#fc0003,#fe0001,#f90006,#e01,#e1001e,#d4002b,#c80037,#bd0042,#b3004c,#ab0054,#a3005c,#9b0064,#91006e,#84007b,#73008c,#5e00a1,#4700b8,#2f00d0,#1900e6,#0700f8,#0505ff,#0909ff,#0505ff,#0500fa,#1300ec,#2400db,#3400cb,#3f00c0,#4300bc,#3c00c3,#2a00d5,#0f00f0,#1414ff,#3c3cff,#6363ff)"></i><i style="background:linear-gradient(90deg,#3d00c2,#780087,#ad0052,#d5002a,#ef0010,#fc0003,#f00,#f90006,#ef0010,#e2001d,#d5002a,#c90036,#be0041,#b5004a,#ad0052,#a5005a,#9e0061,#94006b,#870078,#708,#62009d,#4b00b4,#3400cb,#1d00e2,#0c00f3,#00f,#0505ff,#0202ff,#0800f7,#1600e9,#2600d9,#3600c9,#4100be,#40b,#3d00c2,#2b00d4,#0f00f0,#1414ff,#3c3cff,#6363ff)"></i><i style="background:linear-gradient(90deg,#3d00c2,#790086,#ad0052,#d5002a,#f0000f,#fc0003,#f00,#f90006,#ef0010,#e2001d,#d60029,#ca0035,#bf0040,#b60049,#ae0051,#a70058,#a0005f,#970068,#8b0074,#7b0084,#670098,#5000af,#3800c7,#20d,#1000ef,#0400fb,#0101ff,#0200fd,#0b00f4,#1800e7,#2800d7,#3700c8,#4200bd,#4500ba,#3e00c1,#2c00d3,#1000ef,#1313ff,#3b3bff,#6363ff)"></i><i style="background:linear-gradient(90deg,#3e00c1,#790086,#ae0051,#d5002a,#ef0010,#fc0003,#fe0001,#f90006,#ef0010,#e2001d,#d60029,#ca0035,#c0003f,#b70048,#af0050,#a90056,#a2005d,#9a0065,#8e0071,#7f0080,#6b0094,#5400ab,#3d00c2,#2700d8,#1500ea,#0900f6,#0400fb,#0500fa,#0e00f1,#1b00e4,#2a00d5,#3900c6,#4300bc,#4600b9,#3e00c1,#2c00d3,#10e,#1313ff,#3b3bff,#6363ff)"></i><i style="background:linear-gradient(90deg,#3e00c1,#7a0085,#ae0051,#d5002a,#ef0010,#fb0004,#fd0002,#f80007,#e01,#e2001d,#d5002a,#ca0035,#c0003f,#b70048,#b0004f,#a05,#a4005b,#9c0063,#91006e,#82007d,#6f0090,#5900a6,#4100be,#2c00d3,#1900e6,#0d00f2,#0800f7,#0900f6,#10e,#1e00e1,#2c00d3,#3a00c5,#40b,#4600b9,#3f00c0,#2d00d2,#10e,#1313ff,#3b3bff,#6262ff)"></i><i style="background:linear-gradient(90deg,#3e00c1,#790086,#ad0052,#d4002b,#e01,#fa0005,#fc0003,#f70008,#ed0012,#e1001e,#d5002a,#c90036,#bf0040,#b70048,#b1004e,#ab0054,#a60059,#9f0060,#94006b,#860079,#73008c,#5d00a2,#4600b9,#3000cf,#1e00e1,#10e,#0b00f4,#0d00f2,#1400eb,#2000df,#2e00d1,#3c00c3,#4500ba,#4700b8,#4000bf,#2d00d2,#10e,#1212ff,#3a3aff,#6262ff)"></i><i style="background:linear-gradient(90deg,#3e00c1,#790086,#ac0053,#d3002c,#ec0013,#f90006,#fb0004,#f5000a,#eb0014,#df0020,#d3002c,#c80037,#bf0040,#b70048,#b1004e,#ac0053,#a70058,#a1005e,#970068,#890076,#708,#61009e,#4a00b5,#3400cb,#20d,#1500ea,#0f00f0,#1000ef,#1700e8,#20d,#3000cf,#3d00c2,#4600b9,#4800b7,#4000bf,#2e00d1,#1200ed,#1212ff,#3a3aff,#6262ff)"></i><i style="background:linear-gradient(90deg,#3e00c1,#780087,#ab0054,#d2002d,#eb0014,#f70008,#f90006,#f3000c,#e90016,#de0021,#d2002d,#c70038,#be0041,#b70048,#b1004e,#ad0052,#a80057,#a2005d,#906,#8c0073,#7a0085,#65009a,#4f00b0,#3900c6,#2600d9,#1a00e5,#1300ec,#1300ec,#1a00e5,#2500da,#3200cd,#3f00c0,#4700b8,#4900b6,#4100be,#2e00d1,#1200ed,#11f,#3a3aff,#6161ff)"></i><i style="background:linear-gradient(90deg,#3d00c2,#708,#a05,#d0002f,#e90016,#f5000a,#f60009,#f1000e,#e70018,#dc0023,#d0002f,#c5003a,#bd0042,#b60049,#b1004e,#ad0052,#a90056,#a4005b,#9c0063,#8f0070,#7e0081,#690096,#5300ac,#3d00c2,#2b00d4,#1e00e1,#1700e8,#1700e8,#1d00e2,#2700d8,#3400cb,#4000bf,#4800b7,#4900b6,#4100be,#2f00d0,#1300ec,#11f,#3939ff,#6161ff)"></i><i style="background:linear-gradient(90deg,#3c00c3,#760089,#a80057,#ce0031,#e70018,#f2000d,#f4000b,#e01,#e5001a,#d90026,#ce0031,#c3003c,#b04,#b4004b,#b0004f,#ad0052,#a05,#a60059,#9e0061,#92006d,#81007e,#6d0092,#5700a8,#4100be,#2f00d0,#20d,#1b00e4,#1a00e5,#1f00e0,#2900d6,#3600c9,#4100be,#4900b6,#4a00b5,#4200bd,#2f00d0,#1300ec,#11f,#3939ff,#6161ff)"></i><i style="background:linear-gradient(90deg,#3b00c4,#75008a,#a70058,#c03,#e4001b,#ef0010,#f1000e,#eb0014,#e2001d,#d60029,#cb0034,#c1003e,#b90046,#b3004c,#af0050,#ad0052,#ab0054,#a70058,#a0005f,#95006a,#85007a,#71008e,#5b00a4,#4500ba,#30c,#2500da,#1e00e1,#1d00e2,#20d,#2c00d3,#3700c8,#4200bd,#4a00b5,#4a00b5,#4200bd,#2f00d0,#1300ec,#11f,#3939ff,#6060ff)"></i><i style="background:linear-gradient(90deg,#3a00c5,#73008c,#a4005b,#ca0035,#e1001e,#ec0013,#e01,#e80017,#de0021,#d3002c,#c80037,#bf0040,#b70048,#b1004e,#ae0051,#ac0053,#ab0054,#a80057,#a2005d,#970068,#807,#74008b,#5e00a1,#4900b6,#3700c8,#2900d6,#20d,#2000df,#2500da,#2e00d1,#3900c6,#40b,#4b00b4,#4b00b4,#4200bd,#2f00d0,#1300ec,#1010ff,#3838ff,#6060ff)"></i><i style="background:linear-gradient(90deg,#3800c7,#71008e,#a2005d,#c70038,#de0021,#e90016,#ea0015,#e4001b,#db0024,#d0002f,#c5003a,#bc0043,#b4004b,#af0050,#ad0052,#ac0053,#ab0054,#a90056,#a4005b,#9a0065,#8b0074,#708,#62009d,#4d00b2,#3b00c4,#2d00d2,#2500da,#2300dc,#2700d8,#3000cf,#3a00c5,#4500ba,#4b00b4,#4b00b4,#4200bd,#2f00d0,#1300ec,#1010ff,#3838ff,#6060ff)"></i><i style="background:linear-gradient(90deg,#3700c8,#6f0090,#a0005f,#c4003b,#db0024,#e5001a,#e60019,#e1001e,#d70028,#c03,#c2003d,#b80047,#b1004e,#ad0052,#ab0054,#ab0054,#ab0054,#a05,#a5005a,#9c0063,#8d0072,#7b0084,#609,#5100ae,#3e00c1,#3000cf,#2800d7,#2600d9,#2a00d5,#3200cd,#3c00c3,#4600b9,#4c00b3,#4b00b4,#4200bd,#3000cf,#1300ec,#1010ff,#3838ff,#5f5fff)"></i><i style="background:linear-gradient(90deg,#3500ca,#6d0092,#9d0062,#c1003e,#d70028,#e2001d,#e2001d,#d02,#d3002c,#c80037,#be0041,#b5004a,#ae0051,#a05,#a90056,#a05,#ab0054,#a05,#a70058,#9e0061,#90006f,#7e0081,#690096,#5400ab,#4200bd,#3400cb,#2c00d3,#2900d6,#2c00d3,#3400cb,#3d00c2,#4700b8,#4c00b3,#4c00b3,#4200bd,#3000cf,#1400eb,#1010ff,#3737ff,#5f5fff)"></i><i style="background:linear-gradient(90deg,#30c,#6a0095,#9a0065,#bd0042,#d4002b,#de0021,#de0021,#d80027,#cf0030,#c4003b,#ba0045,#b1004e,#ab0054,#a80057,#a70058,#a80057,#a05,#ab0054,#a80057,#a0005f,#93006c,#81007e,#6c0093,#5800a7,#4500ba,#3700c8,#2f00d0,#2c00d3,#2f00d0,#3600c9,#3f00c0,#4800b7,#4d00b2,#4c00b3,#4200bd,#3000cf,#1400eb,#1010ff,#3737ff,#5f5fff)"></i><i style="background:linear-gradient(90deg,#3100ce,#680097,#970068,#ba0045,#d0002f,#da0025,#da0025,#d4002b,#ca0035,#c0003f,#b60049,#ae0051,#a80057,#a5005a,#a5005a,#a70058,#a05,#ab0054,#a90056,#a2005d,#95006a,#84007b,#6f0090,#5b00a4,#4900b6,#3b00c4,#3200cd,#2f00d0,#3100ce,#3800c7,#4000bf,#4800b7,#4d00b2,#4c00b3,#4200bd,#2f00d0,#1400eb,#0f0fff,#3737ff,#5e5eff)"></i><i style="background:linear-gradient(90deg,#2f00d0,#65009a,#94006b,#b60049,#c03,#d5002a,#d5002a,#cf0030,#c60039,#b04,#b2004d,#a05,#a4005b,#a2005d,#a2005d,#a5005a,#a90056,#ab0054,#a05,#a3005c,#970068,#860079,#72008d,#5e00a1,#4c00b3,#3e00c1,#3500ca,#3100ce,#30c,#3900c6,#4100be,#4900b6,#4e00b1,#4c00b3,#4200bd,#2f00d0,#1400eb,#0f0fff,#3636ff,#5e5eff)"></i><i style="background:linear-gradient(90deg,#2d00d2,#62009d,#91006e,#b3004c,#c80037,#d1002e,#d1002e,#cb0034,#c1003e,#b70048,#ad0052,#a5005a,#a0005f,#9f0060,#a0005f,#a4005b,#a80057,#ab0054,#ab0054,#a5005a,#906,#890076,#75008a,#61009e,#4f00b0,#4100be,#3800c7,#3400cb,#3600c9,#3b00c4,#4300bc,#4a00b5,#4e00b1,#4c00b3,#4200bd,#2f00d0,#1400eb,#0f0fff,#3636ff,#5d5dff)"></i><i style="background:linear-gradient(90deg,#2a00d5,#60009f,#8d0072,#af0050,#c4003b,#c03,#c03,#c60039,#bc0043,#b2004d,#a80057,#a1005e,#9d0062,#9b0064,#9d0062,#a2005d,#a70058,#ab0054,#ab0054,#a60059,#9b0064,#8b0074,#780087,#64009b,#5200ad,#40b,#3a00c5,#3600c9,#3800c7,#3d00c2,#40b,#4b00b4,#4e00b1,#4c00b3,#4200bd,#2f00d0,#1300ec,#0f0fff,#3636ff,#5d5dff)"></i><i style="background:linear-gradient(90deg,#2800d7,#5d00a2,#8a0075,#ab0054,#bf0040,#c80037,#c70038,#c1003e,#b70048,#ad0052,#a4005b,#9d0062,#906,#980067,#9b0064,#a0005f,#a60059,#ab0054,#ac0053,#a80057,#9d0062,#8e0071,#7b0084,#670098,#50a,#4600b9,#3d00c2,#3900c6,#3a00c5,#3e00c1,#4500ba,#4b00b4,#4f00b0,#4c00b3,#4200bd,#2f00d0,#1300ec,#0f0fff,#3636ff,#5d5dff)"></i><i style="background:linear-gradient(90deg,#2600d9,#5a00a5,#870078,#a70058,#b04,#c3003c,#c3003c,#bc0043,#b2004d,#a80057,#9f0060,#980067,#95006a,#94006b,#980067,#9e0061,#a5005a,#ab0054,#ac0053,#a90056,#9f0060,#90006f,#7d0082,#6a0095,#5800a7,#4900b6,#3f00c0,#3b00c4,#3b00c4,#4000bf,#4600b9,#4c00b3,#4f00b0,#4c00b3,#4200bd,#2f00d0,#1300ec,#0f0fff,#3535ff,#5c5cff)"></i><i style="background:linear-gradient(90deg,#2300dc,#5700a8,#83007c,#a3005c,#b70048,#bf0040,#be0041,#b70048,#ad0052,#a3005c,#9a0065,#94006b,#90006f,#91006e,#95006a,#9c0063,#a4005b,#a05,#ad0052,#a05,#a1005e,#92006d,#80007f,#6c0093,#5a00a5,#4c00b3,#4200bd,#3d00c2,#3d00c2,#4100be,#4700b8,#4d00b2,#4f00b0,#4c00b3,#4100be,#2e00d1,#1300ec,#0f0fff,#3535ff,#5c5cff)"></i><i style="background:linear-gradient(90deg,#2100de,#5400ab,#80007f,#a0005f,#b3004c,#ba0045,#b90046,#b2004d,#a80057,#9e0061,#95006a,#8f0070,#8c0073,#8d0072,#92006d,#9a0065,#a2005d,#a05,#ad0052,#ab0054,#a2005d,#94006b,#82007d,#6f0090,#5d00a2,#4e00b1,#40b,#3f00c0,#3f00c0,#4300bc,#4800b7,#4d00b2,#4f00b0,#4c00b3,#4100be,#2e00d1,#1300ec,#0f0fff,#3535ff,#5b5bff)"></i><i style="background:linear-gradient(90deg,#1f00e0,#5200ad,#7d0082,#9c0063,#af0050,#b60049,#b4004b,#ad0052,#a3005c,#906,#90006f,#8b0074,#807,#8a0075,#8f0070,#980067,#a1005e,#a90056,#ad0052,#ac0053,#a4005b,#960069,#84007b,#71008e,#5f00a0,#5000af,#4600b9,#4100be,#4100be,#40b,#4900b6,#4e00b1,#4f00b0,#4c00b3,#4100be,#2e00d1,#1300ec,#0f0fff,#3434ff,#5b5bff)"></i><i style="background:linear-gradient(90deg,#1d00e2,#4f00b0,#790086,#980067,#a05,#b1004e,#b0004f,#a80057,#9e0061,#94006b,#8c0073,#860079,#84007b,#860079,#8d0072,#960069,#a0005f,#a90056,#ae0051,#ad0052,#a5005a,#980067,#860079,#73008c,#61009e,#5300ac,#4800b7,#4300bc,#4200bd,#4500ba,#4a00b5,#4e00b1,#5000af,#4c00b3,#4100be,#2e00d1,#1300ec,#0e0eff,#3434ff,#5a5aff)"></i><i style="background:linear-gradient(90deg,#1a00e5,#4c00b3,#760089,#95006a,#a70058,#ad0052,#ab0054,#a4005b,#9a0065,#8f0070,#870078,#82007d,#80007f,#83007c,#8a0075,#94006b,#9f0060,#a80057,#ae0051,#ad0052,#a60059,#906,#807,#75008a,#63009c,#50a,#4a00b5,#4500ba,#40b,#4600b9,#4b00b4,#4f00b0,#5000af,#4b00b4,#4000bf,#2d00d2,#1300ec,#0e0eff,#3434ff,#5a5aff)"></i><i style="background:linear-gradient(90deg,#1800e7,#4900b6,#73008c,#91006e,#a3005c,#a90056,#a70058,#9f0060,#95006a,#8b0074,#82007d,#7d0082,#7c0083,#7f0080,#870078,#92006d,#9d0062,#a70058,#ae0051,#ae0051,#a70058,#9b0064,#8a0075,#708,#65009a,#5700a8,#4c00b3,#4700b8,#4500ba,#4800b7,#4c00b3,#4f00b0,#5000af,#4b00b4,#4000bf,#2d00d2,#1300ec,#0e0eff,#33f,#5959ff)"></i><i style="background:linear-gradient(90deg,#1600e9,#4700b8,#70008f,#8e0071,#9f0060,#a5005a,#a2005d,#9a0065,#90006f,#860079,#7e0081,#790086,#780087,#7c0083,#84007b,#8f0070,#9c0063,#a70058,#ae0051,#ae0051,#a80057,#9c0063,#8b0074,#790086,#670098,#5900a6,#4e00b1,#4800b7,#4700b8,#4900b6,#4c00b3,#4f00b0,#5000af,#4b00b4,#4000bf,#2d00d2,#1200ed,#0e0eff,#33f,#5959ff)"></i><i style="background:linear-gradient(90deg,#1400eb,#40b,#6d0092,#8b0074,#9b0064,#a1005e,#9e0061,#960069,#8c0073,#81007e,#790086,#75008a,#74008b,#790086,#82007d,#8e0071,#9b0064,#a60059,#ae0051,#af0050,#a90056,#9d0062,#8d0072,#7b0084,#690096,#5a00a5,#5000af,#4a00b5,#4800b7,#4a00b5,#4d00b2,#5000af,#5000af,#4b00b4,#3f00c0,#2c00d3,#1200ed,#0e0eff,#33f,#5858ff)"></i><i style="background:linear-gradient(90deg,#1200ed,#4200bd,#6b0094,#870078,#980067,#9d0062,#9a0065,#92006d,#870078,#7d0082,#75008a,#71008e,#71008e,#760089,#7f0080,#8c0073,#906,#a5005a,#ad0052,#af0050,#a05,#9e0061,#8e0071,#7c0083,#6b0094,#5c00a3,#5100ae,#4b00b4,#4900b6,#4b00b4,#4e00b1,#5000af,#5000af,#4b00b4,#3f00c0,#2c00d3,#1200ed,#0e0eff,#3232ff,#5858ff)"></i><i style="background:linear-gradient(90deg,#1000ef,#4000bf,#680097,#84007b,#95006a,#9a0065,#960069,#8e0071,#83007c,#790086,#71008e,#6d0092,#6d0092,#73008c,#7d0082,#8a0075,#980067,#a5005a,#ad0052,#af0050,#ab0054,#9f0060,#90006f,#7e0081,#6c0093,#5d00a2,#5200ad,#4c00b3,#4a00b5,#4c00b3,#4e00b1,#5100ae,#5000af,#4b00b4,#3f00c0,#2c00d3,#1200ed,#0e0eff,#3232ff,#5757ff)"></i><i style="background:linear-gradient(90deg,#0e00f1,#3e00c1,#609,#82007d,#92006d,#960069,#93006c,#8a0075,#7f0080,#75008a,#6d0092,#690096,#6a0095,#70008f,#7a0085,#807,#970068,#a4005b,#ad0052,#b0004f,#ab0054,#a0005f,#91006e,#7f0080,#6d0092,#5f00a0,#5400ab,#4d00b2,#4b00b4,#4c00b3,#4f00b0,#5100ae,#5000af,#4a00b5,#3e00c1,#2c00d3,#1200ed,#0e0eff,#3232ff,#5757ff)"></i><i style="background:linear-gradient(90deg,#0d00f2,#3c00c3,#63009c,#7f0080,#8f0070,#93006c,#8f0070,#860079,#7b0084,#71008e,#690096,#609,#670098,#6d0092,#780087,#860079,#960069,#a3005c,#ad0052,#b0004f,#ac0053,#a1005e,#92006d,#80007f,#6f0090,#60009f,#50a,#4f00b0,#4c00b3,#4d00b2,#5000af,#5100ae,#5000af,#4a00b5,#3e00c1,#2b00d4,#1200ed,#0e0eff,#3131ff,#5656ff)"></i><i style="background:linear-gradient(90deg,#0b00f4,#3a00c5,#61009e,#7d0082,#8c0073,#90006f,#8c0073,#83007c,#780087,#6d0092,#609,#62009d,#64009b,#6b0094,#760089,#85007a,#94006b,#a3005c,#ac0053,#b0004f,#ac0053,#a2005d,#93006c,#81007e,#70008f,#61009e,#5600a9,#5000af,#4d00b2,#4e00b1,#5000af,#5100ae,#5000af,#4a00b5,#3e00c1,#2b00d4,#10e,#0e0eff,#3131ff,#5656ff)"></i><i style="background:linear-gradient(90deg,#0a00f5,#3800c7,#5f00a0,#7b0084,#8a0075,#8e0071,#890076,#80007f,#75008a,#6a0095,#63009c,#5f00a0,#61009e,#680097,#74008b,#83007c,#93006c,#a2005d,#ac0053,#b0004f,#ac0053,#a2005d,#93006c,#82007d,#71008e,#62009d,#5700a8,#5000af,#4e00b1,#4f00b0,#5100ae,#5200ad,#5000af,#4a00b5,#3d00c2,#2b00d4,#10e,#0e0eff,#3131ff,#55f)"></i><i style="background:linear-gradient(90deg,#0800f7,#3700c8,#5d00a2,#790086,#870078,#8b0074,#860079,#7d0082,#71008e,#670098,#5f00a0,#5c00a3,#5f00a0,#609,#72008d,#82007d,#92006d,#a1005e,#ac0053,#b0004f,#ad0052,#a3005c,#94006b,#82007d,#71008e,#63009c,#5800a7,#5100ae,#4f00b0,#4f00b0,#5100ae,#5200ad,#5000af,#4a00b5,#3d00c2,#2a00d5,#10e,#0e0eff,#3131ff,#55f)"></i><i style="background:linear-gradient(90deg,#0700f8,#3500ca,#5c00a3,#708,#85007a,#890076,#84007b,#7a0085,#6f0090,#64009b,#5d00a2,#5a00a5,#5c00a3,#64009b,#71008e,#81007e,#91006e,#a1005e,#ab0054,#b0004f,#ad0052,#a3005c,#94006b,#83007c,#72008d,#63009c,#5800a7,#5200ad,#4f00b0,#5000af,#5100ae,#5200ad,#5000af,#4900b6,#3d00c2,#2a00d5,#10e,#0d0dff,#3030ff,#5454ff)"></i><i style="background:linear-gradient(90deg,#0600f9,#3400cb,#5a00a5,#75008a,#83007c,#870078,#82007d,#780087,#6c0093,#61009e,#5a00a5,#5700a8,#5a00a5,#62009d,#6f0090,#7f0080,#91006e,#a0005f,#ab0054,#af0050,#ad0052,#a3005c,#94006b,#83007c,#72008d,#64009b,#5900a6,#5200ad,#5000af,#5000af,#5200ad,#5200ad,#5000af,#4900b6,#3d00c2,#2a00d5,#10e,#0d0dff,#3030ff,#5454ff)"></i><i style="background:linear-gradient(90deg,#0500fa,#30c,#5900a6,#74008b,#82007d,#85007a,#80007f,#760089,#6a0095,#5f00a0,#5800a7,#50a,#5800a7,#61009e,#6e0091,#7e0081,#90006f,#9f0060,#a05,#af0050,#ac0053,#a3005c,#95006a,#84007b,#73008c,#64009b,#5900a6,#5300ac,#5000af,#5100ae,#5200ad,#5300ac,#5000af,#4900b6,#3c00c3,#2a00d5,#10e,#0d0dff,#3030ff,#5353ff)"></i><i style="background:linear-gradient(90deg,#0400fb,#3200cd,#5800a7,#72008d,#80007f,#83007c,#7e0081,#74008b,#680097,#5d00a2,#5600a9,#5300ac,#5700a8,#5f00a0,#6d0092,#7e0081,#8f0070,#9f0060,#a05,#af0050,#ac0053,#a3005c,#95006a,#84007b,#73008c,#65009a,#5a00a5,#5300ac,#5100ae,#5100ae,#5300ac,#5300ac,#5000af,#4900b6,#3c00c3,#2900d6,#10e,#0d0dff,#2f2fff,#5353ff)"></i><i style="background:linear-gradient(90deg,#0300fc,#3100ce,#5700a8,#71008e,#7f0080,#82007d,#7c0083,#72008d,#609,#5b00a4,#5400ab,#5200ad,#50a,#5e00a1,#6c0093,#7d0082,#8e0071,#9e0061,#a90056,#ae0051,#ac0053,#a3005c,#94006b,#84007b,#73008c,#65009a,#5a00a5,#5400ab,#5100ae,#5200ad,#5300ac,#5300ac,#5000af,#4900b6,#3c00c3,#2900d6,#10e,#0d0dff,#2f2fff,#5353ff)"></i><i style="background:linear-gradient(90deg,#0200fd,#3000cf,#5600a9,#70008f,#7e0081,#81007e,#7b0084,#70008f,#64009b,#5900a6,#5200ad,#5000af,#5400ab,#5d00a2,#6b0094,#7c0083,#8e0071,#9e0061,#a90056,#ae0051,#ab0054,#a2005d,#94006b,#84007b,#73008c,#65009a,#5a00a5,#5400ab,#5100ae,#5200ad,#5300ac,#5300ac,#5000af,#4900b6,#3c00c3,#2900d6,#1000ef,#0d0dff,#2f2fff,#5252ff)"></i><i style="background:linear-gradient(90deg,#0100fe,#2f00d0,#50a,#70008f,#7d0082,#80007f,#7a0085,#6f0090,#63009c,#5800a7,#5100ae,#4f00b0,#5300ac,#5c00a3,#6b0094,#7c0083,#8d0072,#9d0062,#a80057,#ad0052,#ab0054,#a2005d,#94006b,#83007c,#73008c,#65009a,#5a00a5,#5400ab,#5200ad,#5200ad,#5300ac,#5300ac,#5000af,#4800b7,#3b00c4,#2900d6,#1000ef,#0d0dff,#2f2fff,#5252ff)"></i><i style="background:linear-gradient(90deg,#0100fe,#2e00d1,#50a,#6f0090,#7d0082,#7f0080,#790086,#6e0091,#62009d,#5700a8,#5000af,#4e00b1,#5200ad,#5c00a3,#6a0095,#7b0084,#8d0072,#9c0063,#a80057,#ac0053,#a05,#a1005e,#93006c,#83007c,#73008c,#64009b,#5a00a5,#5400ab,#5200ad,#5200ad,#5300ac,#5300ac,#5000af,#4800b7,#3b00c4,#2800d7,#1000ef,#0d0dff,#2f2fff,#5151ff)"></i><i style="background:linear-gradient(90deg,#00f,#2e00d1,#5400ab,#6e0091,#7c0083,#7f0080,#780087,#6d0092,#61009e,#5600a9,#4f00b0,#4d00b2,#5200ad,#5b00a4,#6a0095,#7b0084,#8c0073,#9c0063,#a70058,#ac0053,#a90056,#a0005f,#93006c,#82007d,#72008d,#64009b,#5a00a5,#5400ab,#5200ad,#5200ad,#5300ac,#5300ac,#5000af,#4800b7,#3b00c4,#2800d7,#1000ef,#0d0dff,#2e2eff,#5151ff)"></i><i style="background:linear-gradient(90deg,#00f,#2d00d2,#5400ab,#6e0091,#7c0083,#7e0081,#780087,#6d0092,#60009f,#50a,#4e00b1,#4d00b2,#5100ae,#5b00a4,#6a0095,#7b0084,#8c0073,#9b0064,#a60059,#ab0054,#a80057,#9f0060,#92006d,#82007d,#72008d,#64009b,#5a00a5,#5400ab,#5200ad,#5200ad,#5300ac,#5300ac,#5000af,#4800b7,#3b00c4,#2800d7,#1000ef,#0d0dff,#2e2eff,#5151ff)"></i><i style="background:linear-gradient(90deg,#0101ff,#2d00d2,#5300ac,#6e0091,#7c0083,#7e0081,#780087,#6c0093,#60009f,#50a,#4e00b1,#4d00b2,#5100ae,#5b00a4,#6a0095,#7b0084,#8c0073,#9b0064,#a5005a,#a05,#a70058,#9e0061,#91006e,#81007e,#71008e,#63009c,#5900a6,#5300ac,#5200ad,#5200ad,#5300ac,#5300ac,#5000af,#4800b7,#3a00c5,#2800d7,#1000ef,#0d0dff,#2e2eff,#5151ff)"></i><i style="background:linear-gradient(90deg,#0101ff,#2d00d2,#5300ac,#6e0091,#7c0083,#7e0081,#780087,#6c0093,#5f00a0,#5400ab,#4e00b1,#4c00b3,#5100ae,#5b00a4,#6a0095,#7a0085,#8c0073,#9a0065,#a5005a,#a90056,#a60059,#9d0062,#90006f,#80007f,#70008f,#62009d,#5900a6,#5300ac,#5100ae,#5200ad,#5300ac,#5300ac,#5000af,#4700b8,#3a00c5,#2700d8,#0f00f0,#0d0dff,#2e2eff,#5050ff)"></i><i style="background:linear-gradient(90deg,#0101ff,#2c00d3,#5300ac,#6e0091,#7c0083,#7e0081,#780087,#6c0093,#5f00a0,#5400ab,#4e00b1,#4d00b2,#5100ae,#5b00a4,#6a0095,#7b0084,#8b0074,#9a0065,#a4005b,#a70058,#a5005a,#9c0063,#8e0071,#7f0080,#6f0090,#62009d,#5800a7,#5300ac,#5100ae,#5200ad,#5300ac,#5300ac,#4f00b0,#4700b8,#3a00c5,#2700d8,#0f00f0,#0d0dff,#2e2eff,#5050ff)"></i><i style="background:linear-gradient(90deg,#0202ff,#2c00d3,#5300ac,#6e0091,#7c0083,#7e0081,#780087,#6c0093,#5f00a0,#5400ab,#4e00b1,#4d00b2,#5200ad,#5c00a3,#6a0095,#7b0084,#8b0074,#906,#a3005c,#a60059,#a3005c,#9a0065,#8d0072,#7d0082,#6e0091,#61009e,#5700a8,#5200ad,#5100ae,#5200ad,#5300ac,#5300ac,#4f00b0,#4700b8,#3900c6,#2700d8,#0f00f0,#0e0eff,#2e2eff,#5050ff)"></i><i style="background:linear-gradient(90deg,#0202ff,#2c00d3,#5300ac,#6e0091,#7c0083,#7e0081,#780087,#6c0093,#60009f,#50a,#4e00b1,#4d00b2,#5200ad,#5c00a3,#6b0094,#7b0084,#8b0074,#906,#a2005d,#a5005a,#a2005d,#906,#8b0074,#7c0083,#6d0092,#60009f,#5600a9,#5100ae,#5000af,#5100ae,#5300ac,#5300ac,#4f00b0,#4700b8,#3900c6,#2600d9,#0f00f0,#0e0eff,#2e2eff,#5050ff)"></i><i style="background:linear-gradient(90deg,#0202ff,#2c00d3,#5300ac,#6e0091,#7c0083,#7f0080,#780087,#6d0092,#60009f,#50a,#4f00b0,#4e00b1,#5300ac,#5d00a2,#6b0094,#7b0084,#8b0074,#980067,#a1005e,#a3005c,#a0005f,#970068,#8a0075,#7a0085,#6b0094,#5e00a1,#50a,#5100ae,#5000af,#5100ae,#5300ac,#5200ad,#4f00b0,#4600b9,#3900c6,#2600d9,#0e00f1,#0e0eff,#2e2eff,#5050ff)"></i><i style="background:linear-gradient(90deg,#0303ff,#2c00d3,#5300ac,#6e0091,#7d0082,#7f0080,#790086,#6d0092,#60009f,#5600a9,#4f00b0,#4e00b1,#5400ab,#5e00a1,#6c0093,#7b0084,#8b0074,#970068,#9f0060,#a2005d,#9e0061,#95006a,#807,#790086,#6a0095,#5d00a2,#5400ab,#5000af,#4f00b0,#5000af,#5200ad,#5200ad,#4e00b1,#4600b9,#3800c7,#2600d9,#0e00f1,#0e0eff,#2e2eff,#5050ff)"></i><i style="background:linear-gradient(90deg,#0303ff,#2b00d4,#5300ac,#6e0091,#7d0082,#80007f,#790086,#6e0091,#61009e,#5600a9,#5000af,#4f00b0,#5400ab,#5f00a0,#6c0093,#7c0083,#8a0075,#970068,#9e0061,#a0005f,#9c0063,#93006c,#860079,#708,#680097,#5c00a3,#5300ac,#4f00b0,#4e00b1,#5000af,#5200ad,#5200ad,#4e00b1,#4600b9,#3800c7,#2500da,#0e00f1,#0e0eff,#2e2eff,#5050ff)"></i><i style="background:linear-gradient(90deg,#0303ff,#2b00d4,#5300ac,#6f0090,#7d0082,#80007f,#7a0085,#6e0091,#62009d,#5700a8,#5100ae,#5000af,#50a,#5f00a0,#6d0092,#7c0083,#8a0075,#960069,#9d0062,#9f0060,#9a0065,#91006e,#84007b,#75008a,#609,#5a00a5,#5200ad,#4e00b1,#4d00b2,#4f00b0,#5100ae,#5100ae,#4e00b1,#4500ba,#3800c7,#2500da,#0d00f2,#0f0fff,#2f2fff,#5050ff)"></i><i style="background:linear-gradient(90deg,#0404ff,#2b00d4,#5300ac,#6f0090,#7e0081,#81007e,#7a0085,#6f0090,#62009d,#5800a7,#5200ad,#5100ae,#5600a9,#60009f,#6e0091,#7c0083,#8a0075,#95006a,#9c0063,#9d0062,#980067,#8f0070,#82007d,#73008c,#64009b,#5900a6,#5100ae,#4d00b2,#4d00b2,#4f00b0,#5100ae,#5100ae,#4d00b2,#4500ba,#3700c8,#2500da,#0d00f2,#0f0fff,#2f2fff,#5050ff)"></i><i style="background:linear-gradient(90deg,#0404ff,#2b00d4,#5300ac,#6f0090,#7e0081,#81007e,#7b0084,#70008f,#63009c,#5800a7,#5200ad,#5200ad,#5700a8,#61009e,#6e0091,#7d0082,#8a0075,#94006b,#9a0065,#9b0064,#960069,#8c0073,#7f0080,#71008e,#63009c,#5700a8,#4f00b0,#4c00b3,#4c00b3,#4e00b1,#5000af,#5000af,#4d00b2,#40b,#3700c8,#2400db,#0d00f2,#0f0fff,#2f2fff,#5151ff)"></i><i style="background:linear-gradient(90deg,#0505ff,#2b00d4,#5300ac,#6f0090,#7e0081,#82007d,#7c0083,#70008f,#64009b,#5900a6,#5300ac,#5300ac,#5900a6,#62009d,#6f0090,#7d0082,#890076,#93006c,#906,#906,#94006b,#8a0075,#7d0082,#6e0091,#60009f,#50a,#4e00b1,#4a00b5,#4b00b4,#4d00b2,#5000af,#5000af,#4c00b3,#40b,#3600c9,#2400db,#0c00f3,#1010ff,#3030ff,#5151ff)"></i><i style="background:linear-gradient(90deg,#0505ff,#2a00d5,#5200ad,#6f0090,#7f0080,#82007d,#7c0083,#71008e,#65009a,#5a00a5,#5400ab,#5400ab,#5a00a5,#63009c,#70008f,#7d0082,#890076,#92006d,#970068,#970068,#91006e,#870078,#7a0085,#6c0093,#5e00a1,#5300ac,#4c00b3,#4900b6,#4a00b5,#4c00b3,#4f00b0,#4f00b0,#4c00b3,#4300bc,#3600c9,#2300dc,#0c00f3,#1010ff,#3030ff,#5151ff)"></i><i style="background:linear-gradient(90deg,#0505ff,#2a00d5,#5200ad,#6f0090,#7f0080,#82007d,#7d0082,#72008d,#65009a,#5b00a4,#5600a9,#50a,#5b00a4,#64009b,#71008e,#7d0082,#890076,#91006e,#95006a,#95006a,#8f0070,#85007a,#780087,#690096,#5c00a3,#5100ae,#4b00b4,#4800b7,#4900b6,#4b00b4,#4e00b1,#4e00b1,#4b00b4,#4300bc,#3500ca,#20d,#0b00f4,#11f,#3030ff,#5252ff)"></i><i style="background:linear-gradient(90deg,#0606ff,#2900d6,#5200ad,#6f0090,#7f0080,#83007c,#7d0082,#72008d,#609,#5c00a3,#5700a8,#5700a8,#5c00a3,#65009a,#71008e,#7e0081,#807,#90006f,#94006b,#92006d,#8c0073,#82007d,#75008a,#670098,#5a00a5,#4f00b0,#4900b6,#4600b9,#4700b8,#4a00b5,#4d00b2,#4e00b1,#4a00b5,#4200bd,#3400cb,#20d,#0a00f5,#11f,#3131ff,#5252ff)"></i><i style="background:linear-gradient(90deg,#0707ff,#2900d6,#5200ad,#6f0090,#7f0080,#83007c,#7e0081,#73008c,#670098,#5d00a2,#5800a7,#5800a7,#5d00a2,#609,#72008d,#7e0081,#807,#8f0070,#92006d,#90006f,#890076,#7f0080,#72008d,#64009b,#5700a8,#4d00b2,#4700b8,#4500ba,#4600b9,#4900b6,#4c00b3,#4d00b2,#4a00b5,#4100be,#3400cb,#2100de,#0a00f5,#1212ff,#3131ff,#5252ff)"></i><i style="background:linear-gradient(90deg,#0707ff,#2800d7,#5100ae,#6f0090,#7f0080,#84007b,#7e0081,#74008b,#680097,#5e00a1,#5900a6,#5900a6,#5e00a1,#670098,#73008c,#7e0081,#870078,#8e0071,#90006f,#8d0072,#870078,#7c0083,#6f0090,#61009e,#50a,#4b00b4,#4500ba,#4300bc,#4500ba,#4800b7,#4b00b4,#4c00b3,#4900b6,#4000bf,#30c,#2000df,#0900f6,#1313ff,#3232ff,#5353ff)"></i><i style="background:linear-gradient(90deg,#0808ff,#2800d7,#5100ae,#6f0090,#7f0080,#84007b,#7f0080,#74008b,#680097,#5f00a0,#5a00a5,#5a00a5,#5f00a0,#680097,#73008c,#7e0081,#870078,#8c0073,#8e0071,#8b0074,#84007b,#790086,#6c0093,#5f00a0,#5300ac,#4900b6,#40b,#4200bd,#40b,#4700b8,#4a00b5,#4b00b4,#4800b7,#4000bf,#3200cd,#2000df,#0800f7,#1313ff,#3232ff,#5353ff)"></i><i style="background:linear-gradient(90deg,#0909ff,#2700d8,#5000af,#6e0091,#7f0080,#84007b,#7f0080,#75008a,#690096,#5f00a0,#5a00a5,#5b00a4,#60009f,#690096,#74008b,#7e0081,#860079,#8b0074,#8c0073,#807,#81007e,#760089,#690096,#5c00a3,#5000af,#4700b8,#4200bd,#4000bf,#4200bd,#4600b9,#4900b6,#4a00b5,#4700b8,#3f00c0,#3100ce,#1f00e0,#0800f7,#1414ff,#33f,#5454ff)"></i><i style="background:linear-gradient(90deg,#0909ff,#2600d9,#5000af,#6e0091,#7f0080,#84007b,#7f0080,#75008a,#690096,#60009f,#5b00a4,#5c00a3,#61009e,#6a0095,#74008b,#7e0081,#85007a,#890076,#8a0075,#85007a,#7d0082,#72008d,#609,#5900a6,#4d00b2,#4500ba,#4000bf,#3f00c0,#4100be,#4500ba,#4800b7,#4900b6,#4600b9,#3e00c1,#3000cf,#1e00e1,#0700f8,#1515ff,#3434ff,#55f)"></i><i style="background:linear-gradient(90deg,#0a0aff,#2600d9,#4f00b0,#6d0092,#7f0080,#84007b,#7f0080,#75008a,#6a0095,#61009e,#5c00a3,#5c00a3,#62009d,#6a0095,#74008b,#7d0082,#84007b,#807,#870078,#83007c,#7a0085,#6f0090,#63009c,#5600a9,#4b00b4,#4200bd,#3e00c1,#3d00c2,#4000bf,#40b,#4700b8,#4800b7,#4500ba,#3d00c2,#3000cf,#1d00e2,#0600f9,#1616ff,#3535ff,#55f)"></i><i style="background:linear-gradient(90deg,#0b0bff,#2500da,#4e00b1,#6d0092,#7e0081,#84007b,#7f0080,#760089,#6a0095,#61009e,#5c00a3,#5d00a2,#62009d,#6b0094,#74008b,#7d0082,#83007c,#860079,#85007a,#80007f,#708,#6c0093,#5f00a0,#5300ac,#4800b7,#4000bf,#3c00c3,#3c00c3,#3e00c1,#4200bd,#4600b9,#4700b8,#40b,#3c00c3,#2f00d0,#1c00e3,#0500fa,#1616ff,#3535ff,#5656ff)"></i><i style="background:linear-gradient(90deg,#0c0cff,#2400db,#4e00b1,#6c0093,#7e0081,#83007c,#7f0080,#760089,#6a0095,#62009d,#5d00a2,#5e00a1,#63009c,#6b0094,#75008a,#7d0082,#82007d,#84007b,#83007c,#7d0082,#74008b,#680097,#5c00a3,#5000af,#4500ba,#3e00c1,#3a00c5,#3a00c5,#3d00c2,#4100be,#4500ba,#4600b9,#4300bc,#3b00c4,#2e00d1,#1b00e4,#0400fb,#1717ff,#3636ff,#5757ff)"></i><i style="background:linear-gradient(90deg,#0d0dff,#2300dc,#4d00b2,#6b0094,#7d0082,#83007c,#7f0080,#760089,#6b0094,#62009d,#5d00a2,#5e00a1,#63009c,#6c0093,#75008a,#7c0083,#81007e,#83007c,#80007f,#7a0085,#70008f,#65009a,#5900a6,#4d00b2,#4300bc,#3c00c3,#3800c7,#3800c7,#3b00c4,#4000bf,#40b,#4500ba,#4200bd,#3a00c5,#2d00d2,#1a00e5,#0300fc,#1818ff,#3737ff,#5757ff)"></i><i style="background:linear-gradient(90deg,#0e0eff,#20d,#4c00b3,#6b0094,#7d0082,#82007d,#7f0080,#75008a,#6b0094,#62009d,#5e00a1,#5f00a0,#64009b,#6c0093,#74008b,#7c0083,#80007f,#81007e,#7e0081,#708,#6d0092,#61009e,#50a,#4a00b5,#4000bf,#3900c6,#3600c9,#3700c8,#3a00c5,#3e00c1,#4200bd,#40b,#4100be,#3900c6,#2c00d3,#1900e6,#0200fd,#1919ff,#3838ff,#5858ff)"></i><i style="background:linear-gradient(90deg,#0f0fff,#2100de,#4b00b4,#6a0095,#7c0083,#82007d,#7e0081,#75008a,#6a0095,#62009d,#5e00a1,#5f00a0,#64009b,#6c0093,#74008b,#7b0084,#7f0080,#7f0080,#7b0084,#74008b,#6a0095,#5e00a1,#5200ad,#4600b9,#3d00c2,#3700c8,#3400cb,#3500ca,#3800c7,#3d00c2,#4100be,#4200bd,#4000bf,#3800c7,#2a00d5,#1800e7,#0100fe,#1a1aff,#3939ff,#5959ff)"></i><i style="background:linear-gradient(90deg,#1010ff,#2000df,#4a00b5,#690096,#7b0084,#81007e,#7e0081,#75008a,#6a0095,#62009d,#5e00a1,#5f00a0,#64009b,#6c0093,#74008b,#7a0085,#7d0082,#7d0082,#780087,#70008f,#609,#5a00a5,#4e00b1,#4300bc,#3a00c5,#3500ca,#3200cd,#30c,#3700c8,#3c00c3,#4000bf,#4100be,#3e00c1,#3700c8,#2900d6,#1700e8,#00f,#1b1bff,#3a3aff,#5a5aff)"></i><i style="background:linear-gradient(90deg,#11f,#1f00e0,#4800b7,#670098,#7a0085,#80007f,#7d0082,#74008b,#6a0095,#62009d,#5e00a1,#5f00a0,#64009b,#6b0094,#73008c,#790086,#7c0083,#7a0085,#75008a,#6d0092,#63009c,#5700a8,#4b00b4,#4000bf,#3800c7,#3200cd,#3000cf,#3200cd,#3500ca,#3a00c5,#3f00c0,#4000bf,#3d00c2,#3500ca,#2800d7,#1600e9,#0101ff,#1c1cff,#3b3bff,#5b5bff)"></i><i style="background:linear-gradient(90deg,#1212ff,#1d00e2,#4700b8,#609,#790086,#7f0080,#7c0083,#74008b,#690096,#61009e,#5d00a2,#5e00a1,#64009b,#6b0094,#73008c,#780087,#7a0085,#780087,#73008c,#6a0095,#5f00a0,#5300ac,#4700b8,#3d00c2,#3500ca,#3000cf,#2e00d1,#3000cf,#3400cb,#3900c6,#3d00c2,#3f00c0,#3c00c3,#3400cb,#2700d8,#1500ea,#0202ff,#1d1dff,#3c3cff,#5b5bff)"></i><i style="background:linear-gradient(90deg,#1313ff,#1c00e3,#4600b9,#65009a,#780087,#7e0081,#7b0084,#73008c,#690096,#61009e,#5d00a2,#5e00a1,#63009c,#6b0094,#72008d,#708,#780087,#760089,#70008f,#670098,#5b00a4,#4f00b0,#40b,#3a00c5,#3200cd,#2e00d1,#2c00d3,#2e00d1,#30c,#3800c7,#3c00c3,#3d00c2,#3b00c4,#30c,#2600d9,#1400eb,#0303ff,#1e1eff,#3d3dff,#5c5cff)"></i><i style="background:linear-gradient(90deg,#1414ff,#1b00e4,#4500ba,#64009b,#760089,#7d0082,#7a0085,#72008d,#680097,#60009f,#5c00a3,#5e00a1,#63009c,#6a0095,#71008e,#75008a,#708,#74008b,#6d0092,#63009c,#5800a7,#4c00b3,#4000bf,#3700c8,#2f00d0,#2b00d4,#2b00d4,#2d00d2,#3100ce,#3600c9,#3b00c4,#3c00c3,#3900c6,#3200cd,#2500da,#1200ed,#0404ff,#1f1fff,#3e3eff,#5d5dff)"></i><i style="background:linear-gradient(90deg,#1616ff,#1a00e5,#4300bc,#62009d,#75008a,#7c0083,#790086,#71008e,#670098,#5f00a0,#5c00a3,#5d00a2,#62009d,#690096,#70008f,#74008b,#75008a,#71008e,#6a0095,#60009f,#5400ab,#4800b7,#3d00c2,#3400cb,#2d00d2,#2900d6,#2900d6,#2b00d4,#3000cf,#3500ca,#3900c6,#3b00c4,#3800c7,#3000cf,#2300dc,#10e,#0606ff,#2020ff,#3f3fff,#5e5eff)"></i><i style="background:linear-gradient(90deg,#1717ff,#1800e7,#4200bd,#61009e,#74008b,#7b0084,#780087,#70008f,#609,#5e00a1,#5b00a4,#5c00a3,#61009e,#680097,#6f0090,#72008d,#73008c,#6f0090,#670098,#5d00a2,#5100ae,#4500ba,#3a00c5,#3000cf,#2a00d5,#2700d8,#2700d8,#2a00d5,#2e00d1,#3400cb,#3800c7,#3900c6,#3700c8,#2f00d0,#20d,#1000ef,#0707ff,#22f,#4040ff,#5f5fff)"></i><i style="background:linear-gradient(90deg,#1818ff,#1700e8,#4000bf,#5f00a0,#72008d,#790086,#708,#6e0091,#65009a,#5d00a2,#5a00a5,#5b00a4,#60009f,#670098,#6d0092,#71008e,#71008e,#6c0093,#64009b,#5900a6,#4d00b2,#4100be,#3600c9,#2d00d2,#2800d7,#2500da,#2500da,#2800d7,#2d00d2,#3200cd,#3700c8,#3800c7,#3500ca,#2e00d1,#2100de,#0f00f0,#0808ff,#2323ff,#4141ff,#6060ff)"></i><i style="background:linear-gradient(90deg,#1919ff,#1600e9,#3f00c0,#5e00a1,#71008e,#780087,#75008a,#6d0092,#63009c,#5c00a3,#5900a6,#5a00a5,#5f00a0,#609,#6c0093,#6f0090,#6e0091,#6a0095,#61009e,#5600a9,#4a00b5,#3e00c1,#30c,#2a00d5,#2500da,#2300dc,#2300dc,#2700d8,#2c00d3,#3100ce,#3500ca,#3700c8,#3400cb,#2c00d3,#1f00e0,#0d00f2,#0909ff,#2424ff,#4242ff,#6161ff)"></i><i style="background:linear-gradient(90deg,#1a1aff,#1400eb,#3d00c2,#5c00a3,#6f0090,#760089,#74008b,#6b0094,#62009d,#5b00a4,#5700a8,#5900a6,#5e00a1,#64009b,#6a0095,#6d0092,#6c0093,#670098,#5e00a1,#5300ac,#4600b9,#3a00c5,#3000cf,#2800d7,#2300dc,#2100de,#20d,#2500da,#2a00d5,#3000cf,#3400cb,#3600c9,#30c,#2b00d4,#1e00e1,#0c00f3,#0b0bff,#2525ff,#4343ff,#6262ff)"></i><i style="background:linear-gradient(90deg,#1c1cff,#1300ec,#3c00c3,#5a00a5,#6d0092,#74008b,#72008d,#6a0095,#60009f,#5900a6,#5600a9,#5700a8,#5c00a3,#63009c,#680097,#6b0094,#6a0095,#64009b,#5b00a4,#4f00b0,#4300bc,#3700c8,#2c00d3,#2500da,#2000df,#1f00e0,#2000df,#2400db,#2900d6,#2f00d0,#30c,#3400cb,#3100ce,#2a00d5,#1d00e2,#0b00f4,#0c0cff,#2626ff,#44f,#6363ff)"></i><i style="background:linear-gradient(90deg,#1d1dff,#10e,#3a00c5,#5900a6,#6b0094,#72008d,#70008f,#680097,#5f00a0,#5700a8,#5400ab,#5600a9,#5b00a4,#61009e,#670098,#690096,#680097,#62009d,#5800a7,#4c00b3,#3f00c0,#30c,#2900d6,#20d,#1e00e1,#1d00e2,#1f00e0,#2300dc,#2800d7,#2e00d1,#3200cd,#30c,#3000cf,#2800d7,#1b00e4,#0900f6,#0d0dff,#2828ff,#4545ff,#6464ff)"></i><i style="background:linear-gradient(90deg,#1e1eff,#1000ef,#3800c7,#5700a8,#6a0095,#71008e,#6e0091,#609,#5d00a2,#5600a9,#5300ac,#5400ab,#5900a6,#5f00a0,#65009a,#670098,#65009a,#5f00a0,#50a,#4900b6,#3c00c3,#3000cf,#2600d9,#1f00e0,#1b00e4,#1b00e4,#1d00e2,#2100de,#2700d8,#2c00d3,#3000cf,#3200cd,#2f00d0,#2700d8,#1a00e5,#0800f7,#0e0eff,#2929ff,#4646ff,#6565ff)"></i><i style="background:linear-gradient(90deg,#1f1fff,#0e00f1,#3700c8,#50a,#680097,#6f0090,#6c0093,#64009b,#5b00a4,#5400ab,#5100ae,#5200ad,#5700a8,#5d00a2,#63009c,#65009a,#63009c,#5c00a3,#5200ad,#4600b9,#3900c6,#2d00d2,#2300dc,#1c00e3,#1900e6,#1900e6,#1c00e3,#2000df,#2600d9,#2b00d4,#2f00d0,#3000cf,#2d00d2,#2600d9,#1900e6,#0700f8,#1010ff,#2a2aff,#4747ff,#66f)"></i><i style="background:linear-gradient(90deg,#2020ff,#0d00f2,#3500ca,#5300ac,#609,#6d0092,#6a0095,#62009d,#5900a6,#5200ad,#4f00b0,#5000af,#50a,#5b00a4,#61009e,#62009d,#60009f,#5900a6,#4f00b0,#4200bd,#3500ca,#2900d6,#2000df,#1a00e5,#1700e8,#1700e8,#1a00e5,#1f00e0,#2500da,#2a00d5,#2e00d1,#2f00d0,#2c00d3,#2400db,#1700e8,#0500fa,#11f,#2b2bff,#4848ff,#6767ff)"></i><i style="background:linear-gradient(90deg,#22f,#0b00f4,#30c,#5100ae,#64009b,#6b0094,#680097,#60009f,#5700a8,#5000af,#4d00b2,#4e00b1,#5300ac,#5900a6,#5e00a1,#60009f,#5e00a1,#5700a8,#4c00b3,#3f00c0,#3200cd,#2600d9,#1d00e2,#1700e8,#1500ea,#1500ea,#1900e6,#1e00e1,#2400db,#2900d6,#2d00d2,#2e00d1,#2b00d4,#2300dc,#1600e9,#0400fb,#1212ff,#2c2cff,#4949ff,#6868ff)"></i><i style="background:linear-gradient(90deg,#2323ff,#0a00f5,#3200cd,#5000af,#62009d,#690096,#609,#5e00a1,#50a,#4e00b1,#4b00b4,#4c00b3,#5100ae,#5700a8,#5c00a3,#5e00a1,#5b00a4,#5400ab,#4900b6,#3c00c3,#2f00d0,#2300dc,#1a00e5,#1500ea,#1300ec,#1400eb,#1700e8,#1d00e2,#2300dc,#2800d7,#2c00d3,#2d00d2,#2900d6,#2100de,#1500ea,#0300fc,#1313ff,#2d2dff,#4a4aff,#6868ff)"></i><i style="background:linear-gradient(90deg,#2424ff,#0800f7,#3000cf,#4e00b1,#60009f,#609,#64009b,#5c00a3,#5300ac,#4c00b3,#4900b6,#4a00b5,#4f00b0,#50a,#5a00a5,#5b00a4,#5800a7,#5100ae,#4600b9,#3900c6,#2c00d3,#2000df,#1800e7,#1200ed,#10e,#1200ed,#1600e9,#1b00e4,#2100de,#2700d8,#2b00d4,#2b00d4,#2800d7,#2000df,#1300ec,#0200fd,#1515ff,#2f2fff,#4b4bff,#6969ff)"></i><i style="background:linear-gradient(90deg,#2525ff,#0700f8,#2e00d1,#4c00b3,#5e00a1,#64009b,#62009d,#5a00a5,#5100ae,#4900b6,#4600b9,#4800b7,#4c00b3,#5200ad,#5700a8,#5900a6,#5600a9,#4e00b1,#4300bc,#3600c9,#2900d6,#1e00e1,#1500ea,#1000ef,#0f00f0,#10e,#1500ea,#1a00e5,#2100de,#2600d9,#2a00d5,#2a00d5,#2700d8,#1f00e0,#1200ed,#00f,#1616ff,#3030ff,#4d4dff,#6a6aff)"></i><i style="background:linear-gradient(90deg,#2727ff,#0500fa,#2c00d3,#4a00b5,#5b00a4,#62009d,#5f00a0,#5800a7,#4e00b1,#4700b8,#40b,#4500ba,#4a00b5,#5000af,#50a,#5600a9,#5300ac,#4b00b4,#4000bf,#30c,#2600d9,#1b00e4,#1200ed,#0e00f1,#0d00f2,#0f00f0,#1400eb,#1900e6,#2000df,#2500da,#2800d7,#2900d6,#2500da,#1d00e2,#1000ef,#0101ff,#1717ff,#3131ff,#4d4dff,#6b6bff)"></i><i style="background:linear-gradient(90deg,#2828ff,#0400fb,#2b00d4,#4800b7,#5900a6,#60009f,#5d00a2,#50a,#4c00b3,#4500ba,#4100be,#4300bc,#4700b8,#4d00b2,#5200ad,#5300ac,#5000af,#4900b6,#3e00c1,#3000cf,#2300dc,#1800e7,#1000ef,#0c00f3,#0b00f4,#0e00f1,#1200ed,#1800e7,#1f00e0,#2400db,#2700d8,#2800d7,#2400db,#1c00e3,#0f00f0,#0202ff,#1818ff,#3232ff,#4e4eff,#6c6cff)"></i><i style="background:linear-gradient(90deg,#2929ff,#0200fd,#2900d6,#4600b9,#5700a8,#5d00a2,#5b00a4,#5300ac,#4900b6,#4200bd,#3f00c0,#4000bf,#4500ba,#4b00b4,#4f00b0,#5100ae,#4e00b1,#4600b9,#3b00c4,#2e00d1,#2100de,#1600e9,#0e00f1,#0a00f5,#0900f6,#0c00f3,#10e,#1700e8,#1e00e1,#2300dc,#2600d9,#2700d8,#2300dc,#1b00e4,#0e00f1,#0404ff,#1919ff,#33f,#4f4fff,#6d6dff)"></i><i style="background:linear-gradient(90deg,#2a2aff,#0100fe,#2700d8,#40b,#50a,#5b00a4,#5800a7,#5000af,#4700b8,#4000bf,#3d00c2,#3e00c1,#4200bd,#4800b7,#4d00b2,#4e00b1,#4b00b4,#4300bc,#3800c7,#2b00d4,#1e00e1,#1300ec,#0b00f4,#0800f7,#0800f7,#0b00f4,#1000ef,#1600e9,#1d00e2,#20d,#2500da,#2500da,#20d,#1900e6,#0d00f2,#0505ff,#1b1bff,#3434ff,#5050ff,#6d6dff)"></i><i style="background:linear-gradient(90deg,#2c2cff,#0101ff,#2500da,#4100be,#5300ac,#5900a6,#5600a9,#4e00b1,#4500ba,#3d00c2,#3a00c5,#3b00c4,#4000bf,#4500ba,#4a00b5,#4b00b4,#4800b7,#4100be,#3500ca,#2800d7,#1c00e3,#10e,#0900f6,#0600f9,#0600f9,#0a00f5,#0f00f0,#1600e9,#1c00e3,#2100de,#2400db,#2400db,#2000df,#1800e7,#0b00f4,#0606ff,#1c1cff,#3535ff,#5151ff,#6e6eff)"></i><i style="background:linear-gradient(90deg,#2d2dff,#0202ff,#2300dc,#3f00c0,#5000af,#5600a9,#5300ac,#4b00b4,#4200bd,#3b00c4,#3700c8,#3900c6,#3d00c2,#4300bc,#4700b8,#4900b6,#4600b9,#3e00c1,#30c,#2600d9,#1900e6,#0f00f0,#0700f8,#0400fb,#0500fa,#0800f7,#0e00f1,#1500ea,#1b00e4,#2000df,#2300dc,#2300dc,#1f00e0,#1700e8,#0a00f5,#0707ff,#1d1dff,#3636ff,#5252ff,#6f6fff)"></i><i style="background:linear-gradient(90deg,#2e2eff,#0404ff,#2100de,#3d00c2,#4e00b1,#5400ab,#5100ae,#4900b6,#3f00c0,#3800c7,#3500ca,#3600c9,#3a00c5,#4000bf,#40b,#4600b9,#4300bc,#3b00c4,#3000cf,#2400db,#1700e8,#0c00f3,#0500fa,#0200fd,#0300fc,#0700f8,#0d00f2,#1400eb,#1a00e5,#1f00e0,#20d,#20d,#1e00e1,#1500ea,#0900f6,#0909ff,#1e1eff,#3737ff,#5353ff,#7070ff)"></i><i style="background:linear-gradient(90deg,#3030ff,#0606ff,#1f00e0,#3b00c4,#4c00b3,#5100ae,#4e00b1,#4600b9,#3d00c2,#3600c9,#3200cd,#30c,#3800c7,#3d00c2,#4200bd,#4300bc,#4000bf,#3900c6,#2e00d1,#2100de,#1500ea,#0a00f5,#0400fb,#0100fe,#0200fd,#0600f9,#0c00f3,#1300ec,#1900e6,#1e00e1,#2100de,#2100de,#1c00e3,#1400eb,#0700f8,#0a0aff,#1f1fff,#3838ff,#5454ff,#7070ff)"></i><i style="background:linear-gradient(90deg,#3131ff,#0707ff,#1d00e2,#3900c6,#4900b6,#4f00b0,#4c00b3,#40b,#3a00c5,#30c,#3000cf,#3100ce,#3500ca,#3a00c5,#3f00c0,#4000bf,#3e00c1,#3600c9,#2c00d3,#1f00e0,#1300ec,#0800f7,#0200fd,#0101ff,#0100fe,#0500fa,#0b00f4,#1200ed,#1800e7,#1d00e2,#2000df,#1f00e0,#1b00e4,#1300ec,#0600f9,#0b0bff,#2020ff,#3939ff,#5454ff,#7171ff)"></i><i style="background:linear-gradient(90deg,#3232ff,#0909ff,#1b00e4,#3600c9,#4700b8,#4c00b3,#4900b6,#4100be,#3800c7,#3000cf,#2d00d2,#2e00d1,#3200cd,#3800c7,#3c00c3,#3e00c1,#3b00c4,#3400cb,#2900d6,#1d00e2,#10e,#0700f8,#00f,#0202ff,#0101ff,#0400fb,#0a00f5,#10e,#1700e8,#1c00e3,#1f00e0,#1e00e1,#1a00e5,#10e,#0500fa,#0c0cff,#2121ff,#3a3aff,#55f,#7171ff)"></i><i style="background:linear-gradient(90deg,#3434ff,#0b0bff,#1900e6,#3400cb,#40b,#4a00b5,#4700b8,#3f00c0,#3500ca,#2e00d1,#2a00d5,#2b00d4,#2f00d0,#3500ca,#3900c6,#3b00c4,#3800c7,#3200cd,#2700d8,#1b00e4,#0f00f0,#0500fa,#0101ff,#0404ff,#0202ff,#0300fc,#0900f6,#1000ef,#1600e9,#1b00e4,#1e00e1,#1d00e2,#1900e6,#1000ef,#0400fb,#0d0dff,#22f,#3b3bff,#5656ff,#7272ff)"></i><i style="background:linear-gradient(90deg,#3535ff,#0d0dff,#1700e8,#3200cd,#4200bd,#4700b8,#40b,#3c00c3,#30c,#2b00d4,#2800d7,#2900d6,#2d00d2,#3200cd,#3700c8,#3800c7,#3600c9,#2f00d0,#2500da,#1900e6,#0d00f2,#0300fc,#0303ff,#0505ff,#0303ff,#0200fd,#0800f7,#0f00f0,#1500ea,#1a00e5,#1c00e3,#1c00e3,#1700e8,#0f00f0,#0200fd,#0e0eff,#2323ff,#3b3bff,#5757ff,#7373ff)"></i><i style="background:linear-gradient(90deg,#3737ff,#0f0fff,#1500ea,#2f00d0,#3f00c0,#4500ba,#4200bd,#3a00c5,#3000cf,#2900d6,#2500da,#2600d9,#2a00d5,#2f00d0,#3400cb,#3600c9,#30c,#2d00d2,#2300dc,#1700e8,#0b00f4,#0200fd,#0404ff,#0606ff,#0404ff,#0100fe,#0700f8,#0e00f1,#1400eb,#1900e6,#1b00e4,#1a00e5,#1600e9,#0d00f2,#0100fe,#1010ff,#2424ff,#3c3cff,#5757ff,#7373ff)"></i><i style="background:linear-gradient(90deg,#3838ff,#11f,#1300ec,#2d00d2,#3d00c2,#4200bd,#3f00c0,#3700c8,#2e00d1,#2600d9,#2300dc,#2300dc,#2700d8,#2d00d2,#3100ce,#30c,#3100ce,#2b00d4,#2100de,#1500ea,#0a00f5,#00f,#0505ff,#0707ff,#0505ff,#00f,#0700f8,#0d00f2,#1300ec,#1800e7,#1a00e5,#1900e6,#1400eb,#0c00f3,#00f,#11f,#2525ff,#3d3dff,#5858ff,#7474ff)"></i><i style="background:linear-gradient(90deg,#3a3aff,#1212ff,#1000ef,#2b00d4,#3a00c5,#3f00c0,#3c00c3,#3500ca,#2b00d4,#2400db,#2000df,#2100de,#2500da,#2a00d5,#2e00d1,#3000cf,#2f00d0,#2800d7,#1f00e0,#1300ec,#0800f7,#0101ff,#0707ff,#0808ff,#0606ff,#0101ff,#0600f9,#0c00f3,#1200ed,#1700e8,#1900e6,#1800e7,#1300ec,#0b00f4,#0202ff,#1212ff,#2626ff,#3e3eff,#5858ff,#7474ff)"></i><i style="background:linear-gradient(90deg,#3c3cff,#1414ff,#0e00f1,#2800d7,#3700c8,#3d00c2,#3a00c5,#3200cd,#2900d6,#20d,#1e00e1,#1e00e1,#20d,#2700d8,#2c00d3,#2e00d1,#2c00d3,#2600d9,#1d00e2,#1200ed,#0700f8,#0202ff,#0808ff,#0909ff,#0707ff,#0202ff,#0500fa,#0b00f4,#10e,#1600e9,#1700e8,#1600e9,#1200ed,#0900f6,#0303ff,#1313ff,#2727ff,#3f3fff,#5959ff,#7474ff)"></i><i style="background:linear-gradient(90deg,#3d3dff,#1616ff,#0c00f3,#2600d9,#3500ca,#3a00c5,#3700c8,#3000cf,#2600d9,#1f00e0,#1b00e4,#1c00e3,#1f00e0,#2500da,#2900d6,#2b00d4,#2a00d5,#2400db,#1b00e4,#1000ef,#0500fa,#0303ff,#0909ff,#0a0aff,#0808ff,#0303ff,#0400fb,#0a00f5,#1000ef,#1400eb,#1600e9,#1500ea,#1000ef,#0800f7,#0404ff,#1414ff,#2828ff,#3f3fff,#5a5aff,#7575ff)"></i><i style="background:linear-gradient(90deg,#3f3fff,#1919ff,#0900f6,#2300dc,#3200cd,#3700c8,#3500ca,#2d00d2,#2400db,#1d00e2,#1900e6,#1900e6,#1d00e2,#20d,#2700d8,#2900d6,#2700d8,#20d,#1900e6,#0f00f0,#0400fb,#0404ff,#0a0aff,#0b0bff,#0909ff,#0404ff,#0300fc,#0900f6,#0f00f0,#1300ec,#1500ea,#1300ec,#0f00f0,#0700f8,#0505ff,#1515ff,#2929ff,#4040ff,#5a5aff,#7575ff)"></i><i style="background:linear-gradient(90deg,#4141ff,#1b1bff,#0700f8,#2000df,#2f00d0,#3500ca,#3200cd,#2b00d4,#20d,#1a00e5,#1700e8,#1700e8,#1a00e5,#1f00e0,#2400db,#2600d9,#2500da,#2000df,#1800e7,#0d00f2,#0300fc,#0505ff,#0a0aff,#0c0cff,#0909ff,#0404ff,#0200fd,#0800f7,#0e00f1,#1200ed,#1300ec,#1200ed,#0d00f2,#0500fa,#0707ff,#1616ff,#2a2aff,#4141ff,#5b5bff,#7676ff)"></i><i style="background:linear-gradient(90deg,#4343ff,#1d1dff,#0500fa,#1e00e1,#2d00d2,#3200cd,#3000cf,#2800d7,#1f00e0,#1800e7,#1400eb,#1500ea,#1800e7,#1d00e2,#2100de,#2400db,#2300dc,#1e00e1,#1600e9,#0c00f3,#0200fd,#0606ff,#0b0bff,#0c0cff,#0a0aff,#0505ff,#0100fe,#0700f8,#0d00f2,#1000ef,#1200ed,#1000ef,#0c00f3,#0400fb,#0808ff,#1818ff,#2b2bff,#4141ff,#5b5bff,#7676ff)"></i><i style="background:linear-gradient(90deg,#4545ff,#1f1fff,#0200fd,#1b00e4,#2a00d5,#2f00d0,#2d00d2,#2600d9,#1d00e2,#1600e9,#1200ed,#1200ed,#1500ea,#1a00e5,#1f00e0,#2100de,#2100de,#1c00e3,#1400eb,#0b00f4,#0100fe,#0707ff,#0c0cff,#0d0dff,#0b0bff,#0606ff,#00f,#0600f9,#0b00f4,#0f00f0,#1000ef,#0f00f0,#0a00f5,#0200fd,#0909ff,#1919ff,#2c2cff,#4242ff,#5c5cff,#7676ff)"></i><i style="background:linear-gradient(90deg,#4747ff,#2121ff,#0101ff,#1800e7,#2700d8,#2d00d2,#2a00d5,#2300dc,#1b00e4,#1400eb,#1000ef,#1000ef,#1300ec,#1800e7,#1c00e3,#1f00e0,#1f00e0,#1a00e5,#1300ec,#0900f6,#00f,#0808ff,#0d0dff,#0e0eff,#0c0cff,#0707ff,#0101ff,#0500fa,#0a00f5,#0d00f2,#0f00f0,#0d00f2,#0900f6,#0100fe,#0b0bff,#1a1aff,#2d2dff,#4343ff,#5c5cff,#77f)"></i><i style="background:linear-gradient(90deg,#4949ff,#2424ff,#0303ff,#1500ea,#2400db,#2a00d5,#2800d7,#2100de,#1900e6,#1200ed,#0e00f1,#0e00f1,#10e,#1500ea,#1a00e5,#1d00e2,#1c00e3,#1800e7,#10e,#0800f7,#0101ff,#0909ff,#0d0dff,#0e0eff,#0c0cff,#0808ff,#0202ff,#0400fb,#0900f6,#0c00f3,#0d00f2,#0b00f4,#0700f8,#0101ff,#0c0cff,#1b1bff,#2e2eff,#44f,#5d5dff,#77f)"></i><i style="background:linear-gradient(90deg,#4b4bff,#2626ff,#0606ff,#1300ec,#20d,#2700d8,#2500da,#1f00e0,#1600e9,#1000ef,#0c00f3,#0b00f4,#0e00f1,#1300ec,#1700e8,#1a00e5,#1a00e5,#1700e8,#1000ef,#0700f8,#0202ff,#0909ff,#0e0eff,#0f0fff,#0d0dff,#0909ff,#0303ff,#0200fd,#0700f8,#0a00f5,#0b00f4,#0a00f5,#0500fa,#0202ff,#0e0eff,#1c1cff,#2e2eff,#44f,#5d5dff,#77f)"></i><i style="background:linear-gradient(90deg,#4d4dff,#2929ff,#0909ff,#1000ef,#1f00e0,#2400db,#2300dc,#1c00e3,#1400eb,#0e00f1,#0a00f5,#0900f6,#0c00f3,#1000ef,#1500ea,#1800e7,#1800e7,#1500ea,#0e00f1,#0600f9,#0303ff,#0a0aff,#0e0eff,#1010ff,#0e0eff,#0909ff,#0404ff,#0100fe,#0600f9,#0900f6,#0900f6,#0800f7,#0300fc,#0404ff,#0f0fff,#1d1dff,#2f2fff,#4545ff,#5e5eff,#77f)"></i><i style="background:linear-gradient(90deg,#4f4fff,#2b2bff,#0b0bff,#0d00f2,#1c00e3,#20d,#2000df,#1a00e5,#1200ed,#0c00f3,#0800f7,#0700f8,#0a00f5,#0e00f1,#1300ec,#1600e9,#1600e9,#1300ec,#0d00f2,#0500fa,#0303ff,#0a0aff,#0f0fff,#1010ff,#0e0eff,#0a0aff,#0505ff,#00f,#0400fb,#0700f8,#0800f7,#0600f9,#0200fd,#0606ff,#1010ff,#1f1fff,#3030ff,#4646ff,#5e5eff,#7878ff)"></i><i style="background:linear-gradient(90deg,#5151ff,#2e2eff,#0e0eff,#0a00f5,#1900e6,#1f00e0,#1e00e1,#1800e7,#1000ef,#0a00f5,#0600f9,#0500fa,#0800f7,#0c00f3,#1000ef,#1300ec,#1400eb,#10e,#0c00f3,#0400fb,#0404ff,#0b0bff,#0f0fff,#11f,#0f0fff,#0b0bff,#0606ff,#0202ff,#0200fd,#0500fa,#0600f9,#0400fb,#00f,#0808ff,#1212ff,#2020ff,#3131ff,#4646ff,#5f5fff,#7878ff)"></i><i style="background:linear-gradient(90deg,#5353ff,#3030ff,#11f,#0700f8,#1600e9,#1c00e3,#1b00e4,#1500ea,#0e00f1,#0800f7,#0400fb,#0300fc,#0500fa,#0900f6,#0e00f1,#10e,#1200ed,#1000ef,#0a00f5,#0300fc,#0505ff,#0b0bff,#1010ff,#11f,#0f0fff,#0c0cff,#0808ff,#0303ff,#0100fe,#0300fc,#0400fb,#0200fd,#0202ff,#0909ff,#1414ff,#2121ff,#3232ff,#4747ff,#5f5fff,#7878ff)"></i><i style="background:linear-gradient(90deg,#55f,#33f,#1414ff,#0400fb,#1300ec,#1900e6,#1900e6,#1300ec,#0c00f3,#0600f9,#0200fd,#0100fe,#0300fc,#0700f8,#0c00f3,#0f00f0,#1000ef,#0e00f1,#0900f6,#0200fd,#0606ff,#0c0cff,#1010ff,#11f,#1010ff,#0d0dff,#0909ff,#0505ff,#0101ff,#0100fe,#0200fd,#00f,#0404ff,#0b0bff,#1515ff,#2323ff,#33f,#4848ff,#6060ff,#7979ff)"></i><i style="background:linear-gradient(90deg,#5858ff,#3535ff,#1717ff,#0100fe,#1000ef,#1700e8,#1600e9,#10e,#0a00f5,#0400fb,#00f,#0101ff,#0100fe,#0500fa,#0900f6,#0d00f2,#0e00f1,#0c00f3,#0700f8,#0100fe,#0606ff,#0c0cff,#11f,#1212ff,#11f,#0e0eff,#0a0aff,#0606ff,#0303ff,#0101ff,#0101ff,#0202ff,#0606ff,#0d0dff,#1717ff,#2424ff,#3535ff,#4949ff,#6060ff,#7979ff)"></i><i style="background:linear-gradient(90deg,#5a5aff,#3838ff,#1a1aff,#0202ff,#0d00f2,#1400eb,#1400eb,#0f00f0,#0800f7,#0200fd,#0202ff,#0303ff,#0101ff,#0300fc,#0700f8,#0a00f5,#0c00f3,#0a00f5,#0600f9,#00f,#0707ff,#0d0dff,#11f,#1212ff,#11f,#0f0fff,#0b0bff,#0808ff,#0505ff,#0303ff,#0303ff,#0505ff,#0808ff,#0f0fff,#1919ff,#2525ff,#3636ff,#4a4aff,#6161ff,#7979ff)"></i><i style="background:linear-gradient(90deg,#5c5cff,#3b3bff,#1c1cff,#0505ff,#0a00f5,#10e,#10e,#0d00f2,#0600f9,#00f,#0404ff,#0505ff,#0303ff,#00f,#0500fa,#0800f7,#0a00f5,#0800f7,#0500fa,#0101ff,#0808ff,#0d0dff,#11f,#1313ff,#1212ff,#1010ff,#0c0cff,#0909ff,#0707ff,#0505ff,#0505ff,#0707ff,#0b0bff,#11f,#1a1aff,#2727ff,#3737ff,#4a4aff,#6161ff,#7a7aff)"></i><i style="background:linear-gradient(90deg,#5f5fff,#3d3dff,#1f1fff,#0808ff,#0700f8,#0e00f1,#0f00f0,#0a00f5,#0400fb,#0202ff,#0606ff,#0707ff,#0505ff,#0202ff,#0200fd,#0600f9,#0800f7,#0700f8,#0300fc,#0202ff,#0808ff,#0e0eff,#1212ff,#1313ff,#1313ff,#11f,#0e0eff,#0b0bff,#0909ff,#0707ff,#0707ff,#0909ff,#0d0dff,#1313ff,#1c1cff,#2828ff,#3838ff,#4b4bff,#6262ff,#7a7aff)"></i><i style="background:linear-gradient(90deg,#6161ff,#4040ff,#22f,#0b0bff,#0400fb,#0c00f3,#0c00f3,#0800f7,#0200fd,#0404ff,#0808ff,#0909ff,#0707ff,#0404ff,#00f,#0300fc,#0500fa,#0500fa,#0200fd,#0303ff,#0909ff,#0e0eff,#1212ff,#1414ff,#1313ff,#1212ff,#0f0fff,#0d0dff,#0b0bff,#0a0aff,#0a0aff,#0c0cff,#0f0fff,#1515ff,#1e1eff,#2a2aff,#3939ff,#4c4cff,#6363ff,#7b7bff)"></i><i style="background:linear-gradient(90deg,#6363ff,#4343ff,#2525ff,#0e0eff,#0100fe,#0900f6,#0a00f5,#0600f9,#00f,#0505ff,#0909ff,#0b0bff,#0a0aff,#0707ff,#0303ff,#0100fe,#0300fc,#0300fc,#00f,#0404ff,#0a0aff,#0f0fff,#1313ff,#1414ff,#1414ff,#1313ff,#11f,#0e0eff,#0d0dff,#0c0cff,#0c0cff,#0e0eff,#1212ff,#1717ff,#2020ff,#2c2cff,#3b3bff,#4d4dff,#6363ff,#7b7bff)"></i><i style="background:linear-gradient(90deg,#66f,#4646ff,#2828ff,#11f,#0101ff,#0600f9,#0700f8,#0400fb,#0202ff,#0707ff,#0b0bff,#0d0dff,#0c0cff,#0909ff,#0505ff,#0101ff,#0100fe,#0100fe,#0101ff,#0505ff,#0b0bff,#0f0fff,#1313ff,#1515ff,#1515ff,#1414ff,#1212ff,#1010ff,#0f0fff,#0e0eff,#0f0fff,#11f,#1414ff,#1a1aff,#22f,#2d2dff,#3c3cff,#4e4eff,#6464ff,#7c7cff)"></i><i style="background:linear-gradient(90deg,#6868ff,#4848ff,#2b2bff,#1414ff,#0404ff,#0400fb,#0500fa,#0200fd,#0404ff,#0909ff,#0d0dff,#0f0fff,#0e0eff,#0b0bff,#0707ff,#0404ff,#0101ff,#0101ff,#0303ff,#0707ff,#0b0bff,#1010ff,#1313ff,#1515ff,#1616ff,#1515ff,#1313ff,#1212ff,#11f,#11f,#11f,#1313ff,#1717ff,#1c1cff,#2424ff,#2f2fff,#3d3dff,#4f4fff,#6565ff,#7c7cff)"></i><i style="background:linear-gradient(90deg,#6a6aff,#4b4bff,#2e2eff,#1717ff,#0707ff,#0100fe,#0300fc,#00f,#0505ff,#0b0bff,#0f0fff,#11f,#1010ff,#0d0dff,#0a0aff,#0606ff,#0404ff,#0303ff,#0404ff,#0808ff,#0c0cff,#11f,#1414ff,#1616ff,#1616ff,#1616ff,#1515ff,#1414ff,#1313ff,#1313ff,#1414ff,#1616ff,#1919ff,#1e1eff,#2626ff,#3131ff,#3f3fff,#5151ff,#66f,#7d7dff)"></i><i style="background:linear-gradient(90deg,#6d6dff,#4e4eff,#3131ff,#1a1aff,#0a0aff,#0202ff,#00f,#0202ff,#0707ff,#0d0dff,#11f,#1313ff,#1212ff,#1010ff,#0c0cff,#0909ff,#0606ff,#0505ff,#0606ff,#0909ff,#0d0dff,#11f,#1515ff,#1616ff,#1717ff,#1717ff,#1717ff,#1616ff,#1616ff,#1616ff,#1717ff,#1919ff,#1c1cff,#2121ff,#2828ff,#33f,#4040ff,#5252ff,#6767ff,#7e7eff)"></i><i style="background:linear-gradient(90deg,#6f6fff,#5050ff,#3434ff,#1d1dff,#0d0dff,#0404ff,#0202ff,#0505ff,#0909ff,#0e0eff,#1212ff,#1515ff,#1414ff,#1212ff,#0f0fff,#0b0bff,#0808ff,#0707ff,#0808ff,#0a0aff,#0e0eff,#1212ff,#1515ff,#1717ff,#1818ff,#1818ff,#1818ff,#1818ff,#1818ff,#1919ff,#1a1aff,#1b1bff,#1f1fff,#2323ff,#2b2bff,#3535ff,#4242ff,#5353ff,#6868ff,#7e7eff)"></i><i style="background:linear-gradient(90deg,#7171ff,#5353ff,#3737ff,#2020ff,#1010ff,#0707ff,#0505ff,#0707ff,#0b0bff,#1010ff,#1414ff,#1717ff,#1717ff,#1515ff,#11f,#0e0eff,#0b0bff,#0909ff,#0a0aff,#0c0cff,#0f0fff,#1313ff,#1616ff,#1818ff,#1919ff,#1919ff,#1a1aff,#1a1aff,#1b1bff,#1b1bff,#1c1cff,#1e1eff,#2121ff,#2626ff,#2d2dff,#3737ff,#44f,#5454ff,#6969ff,#7f7fff)"></i><i style="background:linear-gradient(90deg,#7474ff,#55f,#3a3aff,#2323ff,#1313ff,#0a0aff,#0707ff,#0909ff,#0d0dff,#1212ff,#1616ff,#1919ff,#1919ff,#1717ff,#1414ff,#1010ff,#0d0dff,#0b0bff,#0c0cff,#0d0dff,#1010ff,#1414ff,#1717ff,#1919ff,#1a1aff,#1b1bff,#1b1bff,#1c1cff,#1d1dff,#1e1eff,#1f1fff,#2121ff,#2424ff,#2929ff,#2f2fff,#3939ff,#4545ff,#5656ff,#6a6aff,#8080ff)"></i><i style="background:linear-gradient(90deg,#7676ff,#5858ff,#3c3cff,#2626ff,#1515ff,#0c0cff,#0909ff,#0b0bff,#0f0fff,#1414ff,#1818ff,#1b1bff,#1b1bff,#1a1aff,#1717ff,#1313ff,#1010ff,#0e0eff,#0e0eff,#0f0fff,#1212ff,#1515ff,#1717ff,#1919ff,#1b1bff,#1c1cff,#1d1dff,#1e1eff,#2020ff,#2121ff,#22f,#2424ff,#2727ff,#2b2bff,#3232ff,#3b3bff,#4747ff,#5757ff,#6b6bff,#8181ff)"></i><i style="background:linear-gradient(90deg,#7878ff,#5b5bff,#3f3fff,#2828ff,#1818ff,#0f0fff,#0c0cff,#0d0dff,#11f,#1616ff,#1a1aff,#1d1dff,#1e1eff,#1c1cff,#1919ff,#1616ff,#1212ff,#1010ff,#1010ff,#11f,#1313ff,#1616ff,#1818ff,#1a1aff,#1c1cff,#1d1dff,#1f1fff,#2020ff,#22f,#2424ff,#2525ff,#2727ff,#2a2aff,#2e2eff,#3434ff,#3d3dff,#4949ff,#5959ff,#6c6cff,#8282ff)"></i><i style="background:linear-gradient(90deg,#7a7aff,#5d5dff,#4242ff,#2b2bff,#1b1bff,#11f,#0e0eff,#0f0fff,#1313ff,#1818ff,#1c1cff,#1f1fff,#2020ff,#1f1fff,#1c1cff,#1919ff,#1515ff,#1313ff,#1212ff,#1212ff,#1414ff,#1717ff,#1919ff,#1b1bff,#1d1dff,#1f1fff,#2121ff,#2323ff,#2525ff,#2727ff,#2828ff,#2a2aff,#2d2dff,#3131ff,#3737ff,#3f3fff,#4b4bff,#5a5aff,#6d6dff,#8383ff)"></i><i style="background:linear-gradient(90deg,#7c7cff,#5f5fff,#44f,#2e2eff,#1d1dff,#1414ff,#1010ff,#11f,#1515ff,#1a1aff,#1e1eff,#2121ff,#22f,#22f,#1f1fff,#1c1cff,#1818ff,#1515ff,#1414ff,#1414ff,#1616ff,#1818ff,#1a1aff,#1c1cff,#1e1eff,#2020ff,#2323ff,#2525ff,#2727ff,#2a2aff,#2c2cff,#2e2eff,#3030ff,#3434ff,#3939ff,#4242ff,#4d4dff,#5c5cff,#6f6fff,#8484ff)"></i><i style="background:linear-gradient(90deg,#7e7eff,#6262ff,#4747ff,#3030ff,#2020ff,#1616ff,#1212ff,#1313ff,#1717ff,#1c1cff,#2020ff,#2424ff,#2525ff,#2424ff,#22f,#1f1fff,#1b1bff,#1818ff,#1616ff,#1616ff,#1717ff,#1919ff,#1b1bff,#1d1dff,#2020ff,#22f,#2424ff,#2727ff,#2a2aff,#2d2dff,#2f2fff,#3131ff,#33f,#3737ff,#3c3cff,#44f,#4f4fff,#5e5eff,#7070ff,#8585ff)"></i><i style="background:linear-gradient(90deg,#8080ff,#6464ff,#4949ff,#33f,#2323ff,#1919ff,#1515ff,#1515ff,#1919ff,#1e1eff,#22f,#2626ff,#2727ff,#2727ff,#2525ff,#22f,#1e1eff,#1b1bff,#1919ff,#1818ff,#1919ff,#1b1bff,#1d1dff,#1f1fff,#2121ff,#2323ff,#2626ff,#2a2aff,#2d2dff,#3030ff,#3232ff,#3434ff,#3636ff,#3a3aff,#3f3fff,#4646ff,#5151ff,#5f5fff,#7171ff,#8686ff)"></i><i style="background:linear-gradient(90deg,#8282ff,#66f,#4c4cff,#3535ff,#2525ff,#1b1bff,#1717ff,#1717ff,#1b1bff,#2020ff,#2424ff,#2828ff,#2a2aff,#2a2aff,#2828ff,#2525ff,#2121ff,#1d1dff,#1b1bff,#1a1aff,#1b1bff,#1c1cff,#1e1eff,#2020ff,#22f,#2525ff,#2828ff,#2c2cff,#2f2fff,#33f,#3535ff,#3737ff,#3a3aff,#3d3dff,#4242ff,#4949ff,#5353ff,#6161ff,#7373ff,#8787ff)"></i><i style="background:linear-gradient(90deg,#8484ff,#6868ff,#4e4eff,#3838ff,#2727ff,#1d1dff,#1919ff,#1919ff,#1d1dff,#22f,#2727ff,#2b2bff,#2d2dff,#2d2dff,#2b2bff,#2828ff,#2424ff,#2020ff,#1e1eff,#1d1dff,#1d1dff,#1e1eff,#1f1fff,#2121ff,#2424ff,#2727ff,#2a2aff,#2e2eff,#3232ff,#3636ff,#3838ff,#3b3bff,#3d3dff,#4040ff,#44f,#4b4bff,#55f,#6363ff,#7474ff,#88f)"></i><i style="background:linear-gradient(90deg,#8585ff,#6a6aff,#5050ff,#3a3aff,#2a2aff,#2020ff,#1b1bff,#1b1bff,#1f1fff,#2424ff,#2929ff,#2d2dff,#2f2fff,#3030ff,#2e2eff,#2b2bff,#2727ff,#2323ff,#2121ff,#1f1fff,#1f1fff,#1f1fff,#2121ff,#2323ff,#2525ff,#2929ff,#2d2dff,#3131ff,#3535ff,#3939ff,#3c3cff,#3e3eff,#4040ff,#4343ff,#4747ff,#4e4eff,#5858ff,#6565ff,#7676ff,#8a8aff)"></i><i style="background:linear-gradient(90deg,#8787ff,#6c6cff,#5252ff,#3c3cff,#2c2cff,#22f,#1d1dff,#1d1dff,#2121ff,#2626ff,#2b2bff,#2f2fff,#3232ff,#33f,#3131ff,#2e2eff,#2a2aff,#2727ff,#2323ff,#22f,#2121ff,#2121ff,#22f,#2424ff,#2727ff,#2a2aff,#2f2fff,#33f,#3838ff,#3c3cff,#3f3fff,#4141ff,#44f,#4646ff,#4a4aff,#5151ff,#5a5aff,#6767ff,#7878ff,#8b8bff)"></i><i style="background:linear-gradient(90deg,#8989ff,#6e6eff,#5454ff,#3f3fff,#2e2eff,#2424ff,#1f1fff,#1f1fff,#2323ff,#2828ff,#2d2dff,#3232ff,#3535ff,#3636ff,#3535ff,#3232ff,#2e2eff,#2a2aff,#2626ff,#2424ff,#2323ff,#2323ff,#2424ff,#2626ff,#2929ff,#2c2cff,#3131ff,#3636ff,#3b3bff,#3f3fff,#4242ff,#4545ff,#4747ff,#4949ff,#4d4dff,#5353ff,#5c5cff,#6969ff,#7979ff,#8c8cff)"></i><i style="background:linear-gradient(90deg,#8a8aff,#7070ff,#5656ff,#4141ff,#3030ff,#2626ff,#2121ff,#2121ff,#2525ff,#2a2aff,#3030ff,#3535ff,#3838ff,#3939ff,#3838ff,#3535ff,#3131ff,#2d2dff,#2929ff,#2727ff,#2626ff,#2525ff,#2626ff,#2828ff,#2a2aff,#2e2eff,#33f,#3838ff,#3e3eff,#4242ff,#4646ff,#4848ff,#4a4aff,#4d4dff,#5050ff,#5656ff,#5f5fff,#6b6bff,#7b7bff,#8e8eff)"></i><i style="background:linear-gradient(90deg,#8b8bff,#7171ff,#5858ff,#4343ff,#3232ff,#2828ff,#2323ff,#2323ff,#2727ff,#2c2cff,#3232ff,#3737ff,#3b3bff,#3c3cff,#3b3bff,#3939ff,#3535ff,#3030ff,#2d2dff,#2a2aff,#2828ff,#2727ff,#2828ff,#2929ff,#2c2cff,#3030ff,#3535ff,#3b3bff,#4141ff,#4545ff,#4949ff,#4c4cff,#4e4eff,#5050ff,#5353ff,#5959ff,#6161ff,#6d6dff,#7d7dff,#8f8fff)"></i><i style="background:linear-gradient(90deg,#8d8dff,#7373ff,#5a5aff,#4545ff,#3434ff,#2a2aff,#2525ff,#2525ff,#2929ff,#2e2eff,#3434ff,#3a3aff,#3e3eff,#3f3fff,#3f3fff,#3c3cff,#3838ff,#3434ff,#3030ff,#2d2dff,#2b2bff,#2a2aff,#2a2aff,#2b2bff,#2e2eff,#3232ff,#3838ff,#3e3eff,#44f,#4949ff,#4c4cff,#4f4fff,#5151ff,#5353ff,#5656ff,#5c5cff,#6464ff,#6f6fff,#7f7fff,#9191ff)"></i><i style="background:linear-gradient(90deg,#8e8eff,#7474ff,#5b5bff,#4646ff,#3636ff,#2c2cff,#2727ff,#2727ff,#2b2bff,#3030ff,#3737ff,#3d3dff,#4141ff,#4343ff,#4242ff,#4040ff,#3c3cff,#3737ff,#33f,#3030ff,#2d2dff,#2c2cff,#2c2cff,#2d2dff,#3030ff,#3535ff,#3a3aff,#4040ff,#4747ff,#4c4cff,#5050ff,#5353ff,#5454ff,#5656ff,#5959ff,#5e5eff,#66f,#7272ff,#8181ff,#9292ff)"></i><i style="background:linear-gradient(90deg,#8f8fff,#7676ff,#5d5dff,#4848ff,#3838ff,#2e2eff,#2929ff,#2929ff,#2d2dff,#33f,#3939ff,#3f3fff,#44f,#4646ff,#4646ff,#44f,#4040ff,#3b3bff,#3737ff,#33f,#3030ff,#2f2fff,#2e2eff,#3030ff,#3232ff,#3737ff,#3d3dff,#4343ff,#4a4aff,#4f4fff,#5353ff,#5656ff,#5858ff,#5a5aff,#5c5cff,#6161ff,#6969ff,#7474ff,#8383ff,#9494ff)"></i><i style="background:linear-gradient(90deg,#9090ff,#77f,#5e5eff,#4a4aff,#3a3aff,#3030ff,#2b2bff,#2b2bff,#2f2fff,#3535ff,#3c3cff,#4242ff,#4747ff,#4949ff,#4a4aff,#4747ff,#4343ff,#3f3fff,#3a3aff,#3636ff,#33f,#3131ff,#3131ff,#3232ff,#3535ff,#3939ff,#3f3fff,#4646ff,#4d4dff,#5252ff,#5757ff,#5a5aff,#5b5bff,#5d5dff,#6060ff,#6464ff,#6b6bff,#7676ff,#8484ff,#9595ff)"></i><i style="background:linear-gradient(90deg,#9191ff,#7878ff,#6060ff,#4b4bff,#3b3bff,#3131ff,#2d2dff,#2d2dff,#3131ff,#3737ff,#3e3eff,#4545ff,#4a4aff,#4d4dff,#4d4dff,#4b4bff,#4747ff,#4343ff,#3e3eff,#3a3aff,#3636ff,#3434ff,#33f,#3434ff,#3737ff,#3c3cff,#4242ff,#4949ff,#5050ff,#5656ff,#5a5aff,#5d5dff,#5f5fff,#6060ff,#6363ff,#6767ff,#6e6eff,#7878ff,#8686ff,#9797ff)"></i><i style="background:linear-gradient(90deg,#9292ff,#7979ff,#6161ff,#4d4dff,#3d3dff,#33f,#2e2eff,#2f2fff,#33f,#3939ff,#4141ff,#4848ff,#4d4dff,#5050ff,#5151ff,#4f4fff,#4b4bff,#4646ff,#4141ff,#3d3dff,#3939ff,#3737ff,#3636ff,#3737ff,#3939ff,#3e3eff,#44f,#4c4cff,#5353ff,#5959ff,#5e5eff,#6060ff,#6262ff,#6464ff,#66f,#6a6aff,#7070ff,#7b7bff,#88f,#99f)"></i><i style="background:linear-gradient(90deg,#9292ff,#7a7aff,#6262ff,#4e4eff,#3e3eff,#3535ff,#3030ff,#3131ff,#3535ff,#3c3cff,#4343ff,#4b4bff,#5050ff,#5454ff,#5454ff,#5353ff,#4f4fff,#4a4aff,#4545ff,#4141ff,#3d3dff,#3a3aff,#3939ff,#3939ff,#3c3cff,#4141ff,#4747ff,#4f4fff,#5656ff,#5c5cff,#6161ff,#6464ff,#66f,#6767ff,#6969ff,#6d6dff,#7373ff,#7d7dff,#8a8aff,#9a9aff)"></i><i style="background:linear-gradient(90deg,#9393ff,#7b7bff,#6363ff,#4f4fff,#4040ff,#3636ff,#3232ff,#33f,#3737ff,#3e3eff,#4646ff,#4d4dff,#5353ff,#5757ff,#5858ff,#5757ff,#5353ff,#4e4eff,#4949ff,#44f,#4040ff,#3d3dff,#3c3cff,#3c3cff,#3f3fff,#4343ff,#4a4aff,#5252ff,#5959ff,#6060ff,#6464ff,#6767ff,#6969ff,#6a6aff,#6c6cff,#6f6fff,#7676ff,#7f7fff,#8c8cff,#9c9cff)"></i><i style="background:linear-gradient(90deg,#9393ff,#7b7bff,#6464ff,#5050ff,#4141ff,#3838ff,#3434ff,#3535ff,#3939ff,#4040ff,#4949ff,#5050ff,#5757ff,#5b5bff,#5c5cff,#5b5bff,#5757ff,#5252ff,#4d4dff,#4848ff,#44f,#4040ff,#3f3fff,#3f3fff,#4141ff,#4646ff,#4d4dff,#55f,#5c5cff,#6363ff,#6868ff,#6b6bff,#6c6cff,#6d6dff,#6f6fff,#7272ff,#7878ff,#8282ff,#8e8eff,#9e9eff)"></i><i style="background:linear-gradient(90deg,#9494ff,#7c7cff,#6565ff,#5151ff,#4242ff,#3939ff,#3535ff,#3636ff,#3b3bff,#4343ff,#4b4bff,#5353ff,#5a5aff,#5e5eff,#6060ff,#5f5fff,#5b5bff,#5656ff,#5151ff,#4c4cff,#4747ff,#44f,#4242ff,#4242ff,#44f,#4949ff,#5050ff,#5858ff,#5f5fff,#66f,#6b6bff,#6e6eff,#7070ff,#7171ff,#7272ff,#7575ff,#7b7bff,#8484ff,#9090ff,#9f9fff)"></i><i style="background:linear-gradient(90deg,#9494ff,#7c7cff,#66f,#5252ff,#44f,#3a3aff,#3737ff,#3838ff,#3d3dff,#4545ff,#4e4eff,#5656ff,#5d5dff,#6262ff,#6464ff,#6262ff,#5f5fff,#5a5aff,#55f,#4f4fff,#4b4bff,#4747ff,#4545ff,#4545ff,#4747ff,#4c4cff,#5353ff,#5b5bff,#6363ff,#6969ff,#6e6eff,#7272ff,#7373ff,#7474ff,#7575ff,#7878ff,#7d7dff,#8686ff,#9292ff,#a1a1ff)"></i><i style="background:linear-gradient(90deg,#9494ff,#7d7dff,#66f,#5353ff,#4545ff,#3c3cff,#3838ff,#3a3aff,#3f3fff,#4747ff,#5050ff,#5959ff,#6060ff,#6565ff,#6767ff,#66f,#6363ff,#5f5fff,#5959ff,#5353ff,#4e4eff,#4a4aff,#4848ff,#4848ff,#4a4aff,#4f4fff,#5656ff,#5e5eff,#66f,#6d6dff,#7272ff,#7575ff,#7676ff,#77f,#7878ff,#7b7bff,#8080ff,#88f,#9494ff,#a3a3ff)"></i><i style="background:linear-gradient(90deg,#9595ff,#7d7dff,#6767ff,#5454ff,#4646ff,#3d3dff,#3a3aff,#3c3cff,#4141ff,#4a4aff,#5353ff,#5c5cff,#6464ff,#6969ff,#6b6bff,#6a6aff,#6767ff,#6363ff,#5d5dff,#5757ff,#5252ff,#4e4eff,#4b4bff,#4b4bff,#4d4dff,#5252ff,#5959ff,#6161ff,#6969ff,#7070ff,#7575ff,#7878ff,#7a7aff,#7a7aff,#7b7bff,#7d7dff,#8282ff,#8b8bff,#9696ff,#a5a5ff)"></i><i style="background:linear-gradient(90deg,#9595ff,#7d7dff,#6767ff,#55f,#4747ff,#3e3eff,#3b3bff,#3d3dff,#4343ff,#4c4cff,#5656ff,#5f5fff,#6767ff,#6c6cff,#6f6fff,#6e6eff,#6b6bff,#6767ff,#6161ff,#5b5bff,#5656ff,#5252ff,#4f4fff,#4e4eff,#5050ff,#55f,#5c5cff,#6464ff,#6c6cff,#7373ff,#7878ff,#7b7bff,#7d7dff,#7d7dff,#7e7eff,#8080ff,#8585ff,#8d8dff,#9898ff,#a6a6ff)"></i><i style="background:linear-gradient(90deg,#9595ff,#7e7eff,#6868ff,#55f,#4848ff,#4040ff,#3d3dff,#3f3fff,#4545ff,#4e4eff,#5858ff,#6262ff,#6a6aff,#7070ff,#7373ff,#7272ff,#7070ff,#6b6bff,#6565ff,#5f5fff,#5a5aff,#55f,#5252ff,#5151ff,#5353ff,#5858ff,#5f5fff,#6767ff,#6f6fff,#77f,#7c7cff,#7f7fff,#8080ff,#8080ff,#8181ff,#8383ff,#88f,#8f8fff,#9b9bff,#a8a8ff)"></i><i style="background:linear-gradient(90deg,#9595ff,#7e7eff,#6868ff,#5656ff,#4949ff,#4141ff,#3e3eff,#4141ff,#4747ff,#5151ff,#5b5bff,#6565ff,#6d6dff,#7373ff,#7676ff,#7676ff,#7474ff,#6f6fff,#6969ff,#6363ff,#5e5eff,#5959ff,#5656ff,#55f,#5757ff,#5b5bff,#6262ff,#6a6aff,#7373ff,#7a7aff,#7f7fff,#8282ff,#8383ff,#8383ff,#8484ff,#8686ff,#8a8aff,#9292ff,#9d9dff,#aaf)"></i><i style="background:linear-gradient(90deg,#9494ff,#7e7eff,#6868ff,#5757ff,#4a4aff,#4242ff,#4040ff,#4343ff,#4949ff,#5353ff,#5d5dff,#6868ff,#7070ff,#77f,#7a7aff,#7a7aff,#7878ff,#7373ff,#6e6eff,#6767ff,#6262ff,#5d5dff,#5959ff,#5858ff,#5a5aff,#5e5eff,#6565ff,#6d6dff,#7676ff,#7d7dff,#8282ff,#8585ff,#8686ff,#8686ff,#8787ff,#88f,#8c8cff,#9494ff,#9e9eff,#acacff)"></i><i style="background:linear-gradient(90deg,#9494ff,#7e7eff,#6969ff,#5757ff,#4a4aff,#4343ff,#4141ff,#44f,#4b4bff,#55f,#6060ff,#6b6bff,#7474ff,#7a7aff,#7e7eff,#7e7eff,#7c7cff,#77f,#7272ff,#6c6cff,#66f,#6161ff,#5d5dff,#5c5cff,#5d5dff,#6262ff,#6969ff,#7171ff,#7979ff,#8080ff,#8585ff,#88f,#8989ff,#8989ff,#8989ff,#8b8bff,#8f8fff,#9696ff,#a0a0ff,#adadff)"></i><i style="background:linear-gradient(90deg,#9494ff,#7e7eff,#6969ff,#5858ff,#4b4bff,#44f,#4343ff,#4646ff,#4d4dff,#5757ff,#6363ff,#6d6dff,#77f,#7e7eff,#8181ff,#8282ff,#8080ff,#7b7bff,#7676ff,#7070ff,#6a6aff,#6464ff,#6161ff,#5f5fff,#6161ff,#6565ff,#6c6cff,#7474ff,#7c7cff,#8383ff,#88f,#8b8bff,#8c8cff,#8c8cff,#8c8cff,#8d8dff,#9191ff,#9898ff,#a2a2ff,#afafff)"></i><i style="background:linear-gradient(90deg,#9494ff,#7e7eff,#6969ff,#5858ff,#4c4cff,#4545ff,#44f,#4848ff,#4f4fff,#5a5aff,#6565ff,#7070ff,#7a7aff,#8181ff,#8585ff,#8686ff,#8484ff,#8080ff,#7a7aff,#7474ff,#6e6eff,#6868ff,#6464ff,#6363ff,#6464ff,#6868ff,#6f6fff,#77f,#7f7fff,#8787ff,#8c8cff,#8e8eff,#8f8fff,#8f8fff,#8f8fff,#9090ff,#9494ff,#9a9aff,#a4a4ff,#b1b1ff)"></i><i style="background:linear-gradient(90deg,#9494ff,#7e7eff,#6969ff,#5959ff,#4d4dff,#4646ff,#4545ff,#4949ff,#5151ff,#5c5cff,#6868ff,#7373ff,#7d7dff,#8484ff,#8989ff,#8a8aff,#88f,#8484ff,#7e7eff,#7878ff,#7272ff,#6c6cff,#6868ff,#6767ff,#6868ff,#6c6cff,#7272ff,#7b7bff,#8383ff,#8a8aff,#8f8fff,#9191ff,#9292ff,#9292ff,#9191ff,#9292ff,#9696ff,#9c9cff,#a6a6ff,#b2b2ff)"></i><i style="background:linear-gradient(90deg,#9393ff,#7d7dff,#6969ff,#5959ff,#4d4dff,#4747ff,#4747ff,#4b4bff,#5353ff,#5e5eff,#6a6aff,#7676ff,#8080ff,#88f,#8c8cff,#8d8dff,#8b8bff,#88f,#8282ff,#7c7cff,#7575ff,#7070ff,#6c6cff,#6a6aff,#6b6bff,#6f6fff,#7676ff,#7e7eff,#8686ff,#8d8dff,#9292ff,#9494ff,#9595ff,#9494ff,#9494ff,#9595ff,#9898ff,#9f9fff,#a8a8ff,#b4b4ff)"></i><i style="background:linear-gradient(90deg,#9393ff,#7d7dff,#6969ff,#5959ff,#4e4eff,#4848ff,#4848ff,#4d4dff,#55f,#6060ff,#6d6dff,#7979ff,#8383ff,#8b8bff,#8f8fff,#9191ff,#8f8fff,#8b8bff,#8686ff,#8080ff,#7979ff,#7474ff,#7070ff,#6e6eff,#6f6fff,#7373ff,#7979ff,#8181ff,#8989ff,#9090ff,#9595ff,#9797ff,#9797ff,#9797ff,#9696ff,#9797ff,#9a9aff,#a1a1ff,#aaf,#b6b6ff)"></i><i style="background:linear-gradient(90deg,#9393ff,#7d7dff,#6a6aff,#5a5aff,#4f4fff,#4a4aff,#4a4aff,#4e4eff,#5757ff,#6363ff,#6f6fff,#7b7bff,#8686ff,#8e8eff,#9393ff,#9494ff,#9393ff,#8f8fff,#8a8aff,#8484ff,#7d7dff,#7878ff,#7474ff,#7272ff,#7373ff,#7676ff,#7d7dff,#8484ff,#8c8cff,#9393ff,#9797ff,#9a9aff,#9a9aff,#99f,#99f,#99f,#9d9dff,#a3a3ff,#acacff,#b7b7ff)"></i><i style="background:linear-gradient(90deg,#9292ff,#7d7dff,#6a6aff,#5a5aff,#5050ff,#4b4bff,#4b4bff,#5050ff,#5959ff,#6565ff,#7272ff,#7e7eff,#8989ff,#9191ff,#9696ff,#9898ff,#9797ff,#9393ff,#8e8eff,#8787ff,#8181ff,#7c7cff,#77f,#7575ff,#7676ff,#7a7aff,#8080ff,#88f,#8f8fff,#9696ff,#9a9aff,#9c9cff,#9d9dff,#9c9cff,#9b9bff,#9c9cff,#9f9fff,#a5a5ff,#aeaeff,#b9b9ff)"></i><i style="background:linear-gradient(90deg,#9292ff,#7d7dff,#6a6aff,#5b5bff,#5050ff,#4c4cff,#4c4cff,#5252ff,#5b5bff,#6767ff,#7474ff,#8181ff,#8c8cff,#9494ff,#99f,#9b9bff,#9a9aff,#9797ff,#9191ff,#8b8bff,#8585ff,#7f7fff,#7b7bff,#7979ff,#7a7aff,#7d7dff,#8383ff,#8b8bff,#9292ff,#99f,#9d9dff,#9f9fff,#9f9fff,#9e9eff,#9d9dff,#9e9eff,#a1a1ff,#a7a7ff,#afafff,#babaff)"></i><i style="background:linear-gradient(90deg,#9292ff,#7d7dff,#6a6aff,#5b5bff,#5151ff,#4d4dff,#4e4eff,#5454ff,#5d5dff,#6969ff,#7676ff,#8383ff,#8f8fff,#9797ff,#9d9dff,#9f9fff,#9e9eff,#9a9aff,#9595ff,#8f8fff,#8989ff,#8383ff,#7f7fff,#7d7dff,#7d7dff,#8181ff,#8787ff,#8e8eff,#9595ff,#9c9cff,#a0a0ff,#a2a2ff,#a2a2ff,#a1a1ff,#a0a0ff,#a0a0ff,#a3a3ff,#a8a8ff,#b1b1ff,#bcbcff)"></i><i style="background:linear-gradient(90deg,#9191ff,#7d7dff,#6a6aff,#5c5cff,#5252ff,#4e4eff,#4f4fff,#55f,#5f5fff,#6b6bff,#7979ff,#8686ff,#9191ff,#9a9aff,#a0a0ff,#a2a2ff,#a1a1ff,#9e9eff,#99f,#9393ff,#8c8cff,#8787ff,#8282ff,#8080ff,#8181ff,#8484ff,#8a8aff,#9191ff,#99f,#9f9fff,#a3a3ff,#a4a4ff,#a4a4ff,#a3a3ff,#a2a2ff,#a2a2ff,#a5a5ff,#aaf,#b3b3ff,#bdbdff)"></i><i style="background:linear-gradient(90deg,#9191ff,#7d7dff,#6a6aff,#5c5cff,#5353ff,#4f4fff,#5151ff,#5757ff,#6161ff,#6e6eff,#7b7bff,#8989ff,#9494ff,#9d9dff,#a3a3ff,#a5a5ff,#a4a4ff,#a1a1ff,#9c9cff,#9696ff,#9090ff,#8a8aff,#8686ff,#8484ff,#8585ff,#88f,#8e8eff,#9595ff,#9c9cff,#a1a1ff,#a5a5ff,#a7a7ff,#a7a7ff,#a5a5ff,#a4a4ff,#a4a4ff,#a7a7ff,#acacff,#b4b4ff,#bfbfff)"></i><i style="background:linear-gradient(90deg,#9191ff,#7d7dff,#6b6bff,#5d5dff,#5454ff,#5151ff,#5252ff,#5959ff,#6363ff,#7070ff,#7e7eff,#8b8bff,#9797ff,#a0a0ff,#a6a6ff,#a8a8ff,#a8a8ff,#a5a5ff,#a0a0ff,#9a9aff,#9393ff,#8e8eff,#8a8aff,#88f,#88f,#8b8bff,#9191ff,#9898ff,#9f9fff,#a4a4ff,#a8a8ff,#a9a9ff,#a9a9ff,#a7a7ff,#a6a6ff,#a6a6ff,#a9a9ff,#aeaeff,#b6b6ff,#c0c0ff)"></i><i style="background:linear-gradient(90deg,#9191ff,#7d7dff,#6b6bff,#5d5dff,#55f,#5252ff,#5454ff,#5b5bff,#6565ff,#7272ff,#8080ff,#8e8eff,#99f,#a3a3ff,#a9a9ff,#ababff,#ababff,#a8a8ff,#a3a3ff,#9d9dff,#9797ff,#9191ff,#8d8dff,#8b8bff,#8c8cff,#8f8fff,#9494ff,#9b9bff,#a1a1ff,#a7a7ff,#aaf,#acacff,#ababff,#aaf,#a8a8ff,#a8a8ff,#ababff,#b0b0ff,#b8b8ff,#c2c2ff)"></i><i style="background:linear-gradient(90deg,#9191ff,#7d7dff,#6b6bff,#5e5eff,#5656ff,#5353ff,#5656ff,#5c5cff,#6767ff,#7474ff,#8282ff,#9090ff,#9c9cff,#a5a5ff,#ababff,#aeaeff,#aeaeff,#ababff,#a6a6ff,#a0a0ff,#9a9aff,#9595ff,#9191ff,#8f8fff,#8f8fff,#9292ff,#9797ff,#9e9eff,#a4a4ff,#aaf,#adadff,#aeaeff,#adadff,#acacff,#aaf,#aaf,#acacff,#b1b1ff,#b9b9ff,#c3c3ff)"></i><i style="background:linear-gradient(90deg,#9191ff,#7d7dff,#6c6cff,#5f5fff,#5757ff,#55f,#5757ff,#5e5eff,#6969ff,#7676ff,#8585ff,#9292ff,#9e9eff,#a8a8ff,#aeaeff,#b1b1ff,#b1b1ff,#aeaeff,#a9a9ff,#a3a3ff,#9d9dff,#9898ff,#9494ff,#9292ff,#9292ff,#9696ff,#9b9bff,#a1a1ff,#a7a7ff,#acacff,#afafff,#b0b0ff,#afafff,#aeaeff,#acacff,#acacff,#aeaeff,#b3b3ff,#bbf,#c4c4ff)"></i><i style="background:linear-gradient(90deg,#9191ff,#7d7dff,#6c6cff,#6060ff,#5858ff,#5656ff,#5959ff,#6060ff,#6b6bff,#7878ff,#8787ff,#9595ff,#a1a1ff,#aaf,#b1b1ff,#b3b3ff,#b3b3ff,#b1b1ff,#acacff,#a6a6ff,#a0a0ff,#9b9bff,#9797ff,#9595ff,#9696ff,#99f,#9e9eff,#a4a4ff,#aaf,#afafff,#b2b2ff,#b2b2ff,#b2b2ff,#b0b0ff,#aeaeff,#aeaeff,#b0b0ff,#b5b5ff,#bcbcff,#c6c6ff)"></i><i style="background:linear-gradient(90deg,#9191ff,#7d7dff,#6d6dff,#6161ff,#5a5aff,#5858ff,#5b5bff,#6262ff,#6d6dff,#7b7bff,#8989ff,#9797ff,#a3a3ff,#adadff,#b3b3ff,#b6b6ff,#b6b6ff,#b3b3ff,#afafff,#a9a9ff,#a3a3ff,#9e9eff,#9a9aff,#9898ff,#99f,#9c9cff,#a1a1ff,#a7a7ff,#adadff,#b1b1ff,#b4b4ff,#b5b5ff,#b4b4ff,#b2b2ff,#b0b0ff,#b0b0ff,#b2b2ff,#b6b6ff,#bebeff,#c7c7ff)"></i><i style="background:linear-gradient(90deg,#9191ff,#7e7eff,#6e6eff,#6262ff,#5b5bff,#5959ff,#5d5dff,#6464ff,#6f6fff,#7d7dff,#8b8bff,#99f,#a6a6ff,#afafff,#b5b5ff,#b9b9ff,#b8b8ff,#b6b6ff,#b1b1ff,#acacff,#a6a6ff,#a1a1ff,#9d9dff,#9c9cff,#9c9cff,#9f9fff,#a4a4ff,#aaf,#afafff,#b4b4ff,#b6b6ff,#b7b7ff,#b6b6ff,#b3b3ff,#b2b2ff,#b1b1ff,#b3b3ff,#b8b8ff,#bfbfff,#c8c8ff)"></i><i style="background:linear-gradient(90deg,#9191ff,#7e7eff,#6e6eff,#6363ff,#5c5cff,#5b5bff,#5e5eff,#66f,#7171ff,#7f7fff,#8d8dff,#9b9bff,#a8a8ff,#b1b1ff,#b8b8ff,#bbf,#bbf,#b8b8ff,#b4b4ff,#afafff,#a9a9ff,#a4a4ff,#a0a0ff,#9f9fff,#9f9fff,#a2a2ff,#a7a7ff,#adadff,#b2b2ff,#b6b6ff,#b9b9ff,#b9b9ff,#b7b7ff,#b5b5ff,#b3b3ff,#b3b3ff,#b5b5ff,#b9b9ff,#c1c1ff,#cacaff)"></i><i style="background:linear-gradient(90deg,#9292ff,#7f7fff,#6f6fff,#6464ff,#5e5eff,#5d5dff,#6060ff,#6868ff,#7474ff,#8181ff,#9090ff,#9e9eff,#aaf,#b4b4ff,#babaff,#bdbdff,#bdbdff,#bbf,#b6b6ff,#b1b1ff,#acacff,#a7a7ff,#a3a3ff,#a2a2ff,#a2a2ff,#a5a5ff,#aaf,#afafff,#b5b5ff,#b9b9ff,#bbf,#bbf,#b9b9ff,#b7b7ff,#b5b5ff,#b5b5ff,#b7b7ff,#bbf,#c2c2ff,#cbcbff)"></i><i style="background:linear-gradient(90deg,#9292ff,#8080ff,#7070ff,#6565ff,#5f5fff,#5f5fff,#6262ff,#6a6aff,#7676ff,#8383ff,#9292ff,#a0a0ff,#acacff,#b6b6ff,#bcbcff,#bfbfff,#bfbfff,#bdbdff,#b9b9ff,#b3b3ff,#aeaeff,#a9a9ff,#a6a6ff,#a4a4ff,#a5a5ff,#a8a8ff,#adadff,#b2b2ff,#b7b7ff,#bbf,#bdbdff,#bdbdff,#bbf,#b9b9ff,#b7b7ff,#b6b6ff,#b8b8ff,#bcbcff,#c3c3ff,#ccf)"></i><i style="background:linear-gradient(90deg,#9393ff,#8181ff,#7171ff,#6767ff,#6161ff,#6161ff,#6464ff,#6d6dff,#7878ff,#8585ff,#9494ff,#a2a2ff,#aeaeff,#b8b8ff,#bebeff,#c1c1ff,#c1c1ff,#bfbfff,#bbf,#b6b6ff,#b0b0ff,#acacff,#a9a9ff,#a7a7ff,#a8a8ff,#ababff,#b0b0ff,#b5b5ff,#babaff,#bdbdff,#bfbfff,#bfbfff,#bdbdff,#babaff,#b8b8ff,#b8b8ff,#babaff,#bebeff,#c5c5ff,#cdcdff)"></i><i style="background:linear-gradient(90deg,#9393ff,#8181ff,#7373ff,#6868ff,#6363ff,#6363ff,#6767ff,#6f6fff,#7a7aff,#88f,#9696ff,#a4a4ff,#b0b0ff,#babaff,#c0c0ff,#c3c3ff,#c3c3ff,#c1c1ff,#bdbdff,#b8b8ff,#b2b2ff,#aeaeff,#ababff,#aaf,#ababff,#aeaeff,#b2b2ff,#b7b7ff,#bcbcff,#bfbfff,#c1c1ff,#c0c0ff,#bebeff,#bcbcff,#babaff,#b9b9ff,#bbf,#bfbfff,#c6c6ff,#ceceff)"></i><i style="background:linear-gradient(90deg,#9494ff,#8282ff,#7474ff,#6a6aff,#6565ff,#6565ff,#6969ff,#7171ff,#7c7cff,#8a8aff,#9898ff,#a6a6ff,#b2b2ff,#bcbcff,#c2c2ff,#c5c5ff,#c5c5ff,#c3c3ff,#bfbfff,#babaff,#b4b4ff,#b0b0ff,#adadff,#acacff,#aeaeff,#b1b1ff,#b5b5ff,#babaff,#bebeff,#c1c1ff,#c3c3ff,#c2c2ff,#c0c0ff,#bebeff,#bbf,#bbf,#bcbcff,#c1c1ff,#c7c7ff,#cfcfff)"></i><i style="background:linear-gradient(90deg,#9595ff,#8484ff,#7575ff,#6c6cff,#6767ff,#6767ff,#6b6bff,#7373ff,#7f7fff,#8c8cff,#9a9aff,#a8a8ff,#b4b4ff,#bdbdff,#c4c4ff,#c7c7ff,#c7c7ff,#c4c4ff,#c0c0ff,#bbf,#b6b6ff,#b2b2ff,#b0b0ff,#afafff,#b0b0ff,#b3b3ff,#b8b8ff,#bcbcff,#c1c1ff,#c3c3ff,#c4c4ff,#c4c4ff,#c2c2ff,#bfbfff,#bdbdff,#bcbcff,#bebeff,#c2c2ff,#c8c8ff,#d0d0ff)"></i><i style="background:linear-gradient(90deg,#9696ff,#8585ff,#77f,#6e6eff,#6969ff,#6969ff,#6d6dff,#7676ff,#8181ff,#8e8eff,#9c9cff,#aaf,#b6b6ff,#bfbfff,#c5c5ff,#c8c8ff,#c8c8ff,#c6c6ff,#c2c2ff,#bdbdff,#b8b8ff,#b4b4ff,#b2b2ff,#b1b1ff,#b3b3ff,#b6b6ff,#babaff,#bfbfff,#c3c3ff,#c5c5ff,#c6c6ff,#c5c5ff,#c3c3ff,#c1c1ff,#bebeff,#bebeff,#bfbfff,#c3c3ff,#cacaff,#d1d1ff)"></i><i style="background:linear-gradient(90deg,#9797ff,#8686ff,#7979ff,#7070ff,#6b6bff,#6b6bff,#7070ff,#7878ff,#8383ff,#9090ff,#9e9eff,#acacff,#b8b8ff,#c1c1ff,#c7c7ff,#cacaff,#cacaff,#c7c7ff,#c3c3ff,#bebeff,#babaff,#b6b6ff,#b4b4ff,#b3b3ff,#b5b5ff,#b8b8ff,#bcbcff,#c1c1ff,#c5c5ff,#c7c7ff,#c8c8ff,#c7c7ff,#c5c5ff,#c2c2ff,#c0c0ff,#bfbfff,#c0c0ff,#c4c4ff,#cbcbff,#d2d2ff)"></i><i style="background:linear-gradient(90deg,#9898ff,#88f,#7a7aff,#7272ff,#6d6dff,#6e6eff,#7272ff,#7b7bff,#8686ff,#9393ff,#a0a0ff,#aeaeff,#b9b9ff,#c2c2ff,#c8c8ff,#cbcbff,#cbcbff,#c9c9ff,#c5c5ff,#c0c0ff,#bbf,#b8b8ff,#b6b6ff,#b5b5ff,#b7b7ff,#babaff,#bfbfff,#c3c3ff,#c7c7ff,#c9c9ff,#cacaff,#c9c9ff,#c6c6ff,#c3c3ff,#c1c1ff,#c0c0ff,#c2c2ff,#c6c6ff,#ccf,#d3d3ff)"></i><i style="background:linear-gradient(90deg,#99f,#8989ff,#7c7cff,#7474ff,#7070ff,#7070ff,#7575ff,#7d7dff,#88f,#9595ff,#a2a2ff,#b0b0ff,#bbf,#c4c4ff,#cacaff,#ccf,#ccf,#cacaff,#c6c6ff,#c1c1ff,#bdbdff,#b9b9ff,#b7b7ff,#b7b7ff,#b9b9ff,#bdbdff,#c1c1ff,#c5c5ff,#c9c9ff,#cbcbff,#cbcbff,#cacaff,#c8c8ff,#c5c5ff,#c2c2ff,#c2c2ff,#c3c3ff,#c7c7ff,#cdcdff,#d4d4ff)"></i><i style="background:linear-gradient(90deg,#9b9bff,#8b8bff,#7e7eff,#7676ff,#7272ff,#7373ff,#7878ff,#8080ff,#8a8aff,#9797ff,#a4a4ff,#b1b1ff,#bdbdff,#c5c5ff,#cbcbff,#ceceff,#cdcdff,#cbcbff,#c7c7ff,#c2c2ff,#bebeff,#bbf,#b9b9ff,#b9b9ff,#bbf,#bfbfff,#c3c3ff,#c7c7ff,#cbcbff,#cdcdff,#cdcdff,#cbcbff,#c9c9ff,#c6c6ff,#c4c4ff,#c3c3ff,#c4c4ff,#c8c8ff,#ceceff,#d5d5ff)"></i><i style="background:linear-gradient(90deg,#9c9cff,#8d8dff,#8181ff,#7878ff,#7575ff,#7676ff,#7a7aff,#8282ff,#8d8dff,#99f,#a6a6ff,#b3b3ff,#bebeff,#c7c7ff,#ccf,#cfcfff,#ceceff,#ccf,#c8c8ff,#c3c3ff,#bfbfff,#bcbcff,#bbf,#bbf,#bdbdff,#c1c1ff,#c5c5ff,#c9c9ff,#cdcdff,#ceceff,#ceceff,#cdcdff,#cacaff,#c7c7ff,#c5c5ff,#c4c4ff,#c5c5ff,#c9c9ff,#cfcfff,#d6d6ff)"></i><i style="background:linear-gradient(90deg,#9e9eff,#8f8fff,#8383ff,#7b7bff,#7878ff,#7878ff,#7d7dff,#8585ff,#8f8fff,#9b9bff,#a8a8ff,#b5b5ff,#c0c0ff,#c8c8ff,#ceceff,#d0d0ff,#cfcfff,#cdcdff,#c9c9ff,#c4c4ff,#c0c0ff,#bdbdff,#bcbcff,#bdbdff,#bfbfff,#c3c3ff,#c7c7ff,#cbcbff,#ceceff,#d0d0ff,#d0d0ff,#ceceff,#cbcbff,#c8c8ff,#c6c6ff,#c5c5ff,#c7c7ff,#cacaff,#d0d0ff,#d7d7ff)"></i><i style="background:linear-gradient(90deg,#9f9fff,#9191ff,#8585ff,#7e7eff,#7a7aff,#7b7bff,#8080ff,#8787ff,#9292ff,#9e9eff,#aaf,#b7b7ff,#c1c1ff,#c9c9ff,#cfcfff,#d1d1ff,#d0d0ff,#cdcdff,#c9c9ff,#c5c5ff,#c1c1ff,#bebeff,#bdbdff,#bebeff,#c1c1ff,#c4c4ff,#c9c9ff,#cdcdff,#d0d0ff,#d1d1ff,#d1d1ff,#cfcfff,#cdcdff,#cacaff,#c7c7ff,#c6c6ff,#c8c8ff,#cbcbff,#d1d1ff,#d8d8ff)"></i><i style="background:linear-gradient(90deg,#a1a1ff,#9393ff,#8787ff,#8080ff,#7d7dff,#7e7eff,#8282ff,#8a8aff,#9494ff,#a0a0ff,#acacff,#b8b8ff,#c3c3ff,#cbcbff,#d0d0ff,#d2d2ff,#d1d1ff,#ceceff,#cacaff,#c6c6ff,#c2c2ff,#bfbfff,#bebeff,#bfbfff,#c2c2ff,#c6c6ff,#cacaff,#cfcfff,#d1d1ff,#d3d3ff,#d3d3ff,#d1d1ff,#ceceff,#cbcbff,#c8c8ff,#c7c7ff,#c9c9ff,#ccf,#d2d2ff,#d9d9ff)"></i><i style="background:linear-gradient(90deg,#a3a3ff,#9595ff,#8a8aff,#8383ff,#8080ff,#8181ff,#8585ff,#8d8dff,#9797ff,#a2a2ff,#aeaeff,#babaff,#c4c4ff,#ccf,#d1d1ff,#d2d2ff,#d2d2ff,#cfcfff,#cbcbff,#c6c6ff,#c2c2ff,#c0c0ff,#bfbfff,#c1c1ff,#c4c4ff,#c8c8ff,#ccf,#d0d0ff,#d3d3ff,#d4d4ff,#d4d4ff,#d2d2ff,#cfcfff,#ccf,#c9c9ff,#c9c9ff,#cacaff,#cdcdff,#d3d3ff,#dadaff)"></i><i style="background:linear-gradient(90deg,#a5a5ff,#9797ff,#8c8cff,#8686ff,#8383ff,#8484ff,#88f,#8f8fff,#99f,#a4a4ff,#b0b0ff,#bcbcff,#c5c5ff,#cdcdff,#d2d2ff,#d3d3ff,#d2d2ff,#cfcfff,#cbcbff,#c7c7ff,#c3c3ff,#c1c1ff,#c0c0ff,#c2c2ff,#c5c5ff,#c9c9ff,#ceceff,#d2d2ff,#d4d4ff,#d6d6ff,#d5d5ff,#d3d3ff,#d0d0ff,#cdcdff,#cacaff,#cacaff,#cbcbff,#ceceff,#d4d4ff,#dadaff)"></i><i style="background:linear-gradient(90deg,#a7a7ff,#99f,#8f8fff,#8989ff,#8686ff,#8787ff,#8b8bff,#9292ff,#9c9cff,#a7a7ff,#b2b2ff,#bdbdff,#c7c7ff,#ceceff,#d2d2ff,#d4d4ff,#d3d3ff,#d0d0ff,#ccf,#c7c7ff,#c4c4ff,#c2c2ff,#c1c1ff,#c3c3ff,#c6c6ff,#cbcbff,#cfcfff,#d3d3ff,#d6d6ff,#d7d7ff,#d6d6ff,#d4d4ff,#d1d1ff,#ceceff,#cbcbff,#cbcbff,#ccf,#cfcfff,#d4d4ff,#dbdbff)"></i><i style="background:linear-gradient(90deg,#a9a9ff,#9c9cff,#9292ff,#8b8bff,#8989ff,#8a8aff,#8e8eff,#9595ff,#9e9eff,#a9a9ff,#b4b4ff,#bfbfff,#c8c8ff,#cfcfff,#d3d3ff,#d4d4ff,#d3d3ff,#d0d0ff,#ccf,#c8c8ff,#c4c4ff,#c2c2ff,#c2c2ff,#c4c4ff,#c8c8ff,#ccf,#d0d0ff,#d4d4ff,#d7d7ff,#d8d8ff,#d7d7ff,#d5d5ff,#d2d2ff,#cfcfff,#ccf,#ccf,#cdcdff,#d0d0ff,#d5d5ff,#dcdcff)"></i><i style="background:linear-gradient(90deg,#ababff,#9e9eff,#9494ff,#8e8eff,#8c8cff,#8d8dff,#9191ff,#9898ff,#a1a1ff,#ababff,#b6b6ff,#c0c0ff,#c9c9ff,#d0d0ff,#d4d4ff,#d5d5ff,#d4d4ff,#d0d0ff,#ccf,#c8c8ff,#c4c4ff,#c3c3ff,#c3c3ff,#c5c5ff,#c9c9ff,#cdcdff,#d2d2ff,#d6d6ff,#d8d8ff,#d9d9ff,#d8d8ff,#d6d6ff,#d3d3ff,#d0d0ff,#cdcdff,#cdcdff,#ceceff,#d1d1ff,#d6d6ff,#dcdcff)"></i><i style="background:linear-gradient(90deg,#adadff,#a1a1ff,#9797ff,#9191ff,#8f8fff,#9090ff,#9494ff,#9a9aff,#a3a3ff,#adadff,#b8b8ff,#c2c2ff,#cacaff,#d1d1ff,#d5d5ff,#d6d6ff,#d4d4ff,#d1d1ff,#ccf,#c8c8ff,#c5c5ff,#c3c3ff,#c3c3ff,#c6c6ff,#cacaff,#ceceff,#d3d3ff,#d7d7ff,#d9d9ff,#dadaff,#d9d9ff,#d7d7ff,#d4d4ff,#d1d1ff,#ceceff,#cdcdff,#cfcfff,#d2d2ff,#d7d7ff,#ddf)"></i><i style="background:linear-gradient(90deg,#afafff,#a3a3ff,#9a9aff,#9494ff,#9292ff,#9393ff,#9797ff,#9d9dff,#a6a6ff,#afafff,#b9b9ff,#c3c3ff,#ccf,#d2d2ff,#d5d5ff,#d6d6ff,#d4d4ff,#d1d1ff,#ccf,#c8c8ff,#c5c5ff,#c4c4ff,#c4c4ff,#c7c7ff,#cbcbff,#cfcfff,#d4d4ff,#d8d8ff,#dadaff,#dbdbff,#dadaff,#d8d8ff,#d5d5ff,#d2d2ff,#cfcfff,#ceceff,#cfcfff,#d3d3ff,#d8d8ff,#dedeff)"></i><i style="background:linear-gradient(90deg,#b1b1ff,#a6a6ff,#9d9dff,#9797ff,#9595ff,#9696ff,#9a9aff,#a0a0ff,#a8a8ff,#b1b1ff,#bbf,#c5c5ff,#cdcdff,#d3d3ff,#d6d6ff,#d6d6ff,#d5d5ff,#d1d1ff,#cdcdff,#c8c8ff,#c5c5ff,#c4c4ff,#c5c5ff,#c7c7ff,#cbcbff,#d0d0ff,#d5d5ff,#d9d9ff,#dbdbff,#dcdcff,#dbdbff,#d9d9ff,#d6d6ff,#d2d2ff,#d0d0ff,#cfcfff,#d0d0ff,#d3d3ff,#d8d8ff,#dedeff)"></i><i style="background:linear-gradient(90deg,#b3b3ff,#a8a8ff,#a0a0ff,#9a9aff,#9898ff,#99f,#9d9dff,#a3a3ff,#aaf,#b4b4ff,#bdbdff,#c6c6ff,#ceceff,#d3d3ff,#d6d6ff,#d7d7ff,#d5d5ff,#d1d1ff,#cdcdff,#c8c8ff,#c5c5ff,#c4c4ff,#c5c5ff,#c8c8ff,#ccf,#d1d1ff,#d6d6ff,#dadaff,#dcdcff,#ddf,#dcdcff,#dadaff,#d6d6ff,#d3d3ff,#d1d1ff,#d0d0ff,#d1d1ff,#d4d4ff,#d9d9ff,#dfdfff)"></i><i style="background:linear-gradient(90deg,#b6b6ff,#ababff,#a3a3ff,#9d9dff,#9b9bff,#9c9cff,#a0a0ff,#a5a5ff,#adadff,#b6b6ff,#bfbfff,#c8c8ff,#cfcfff,#d4d4ff,#d7d7ff,#d7d7ff,#d5d5ff,#d1d1ff,#cdcdff,#c9c9ff,#c6c6ff,#c4c4ff,#c5c5ff,#c8c8ff,#cdcdff,#d2d2ff,#d7d7ff,#dbdbff,#ddf,#dedeff,#ddf,#dadaff,#d7d7ff,#d4d4ff,#d2d2ff,#d1d1ff,#d2d2ff,#d5d5ff,#dadaff,#e0e0ff)"></i><i style="background:linear-gradient(90deg,#b8b8ff,#aeaeff,#a6a6ff,#a1a1ff,#9f9fff,#9f9fff,#a3a3ff,#a8a8ff,#afafff,#b8b8ff,#c1c1ff,#c9c9ff,#d0d0ff,#d5d5ff,#d8d8ff,#d7d7ff,#d5d5ff,#d1d1ff,#cdcdff,#c9c9ff,#c6c6ff,#c5c5ff,#c6c6ff,#c9c9ff,#ceceff,#d3d3ff,#d8d8ff,#dcdcff,#dedeff,#dfdfff,#ddf,#dbdbff,#d8d8ff,#d5d5ff,#d3d3ff,#d2d2ff,#d3d3ff,#d6d6ff,#dbdbff,#e0e0ff)"></i><i style="background:linear-gradient(90deg,#babaff,#b0b0ff,#a8a8ff,#a4a4ff,#a2a2ff,#a2a2ff,#a6a6ff,#ababff,#b2b2ff,#babaff,#c2c2ff,#cacaff,#d1d1ff,#d6d6ff,#d8d8ff,#d8d8ff,#d5d5ff,#d1d1ff,#cdcdff,#c9c9ff,#c6c6ff,#c5c5ff,#c6c6ff,#cacaff,#ceceff,#d4d4ff,#d9d9ff,#dcdcff,#dfdfff,#dfdfff,#dedeff,#dcdcff,#d9d9ff,#d6d6ff,#d3d3ff,#d3d3ff,#d4d4ff,#d7d7ff,#dbdbff,#e1e1ff)"></i><i style="background:linear-gradient(90deg,#bdbdff,#b3b3ff,#ababff,#a7a7ff,#a5a5ff,#a5a5ff,#a8a8ff,#adadff,#b4b4ff,#bcbcff,#c4c4ff,#ccf,#d2d2ff,#d6d6ff,#d8d8ff,#d8d8ff,#d5d5ff,#d1d1ff,#cdcdff,#c9c9ff,#c6c6ff,#c5c5ff,#c6c6ff,#cacaff,#cfcfff,#d4d4ff,#d9d9ff,#ddf,#dfdfff,#e0e0ff,#dfdfff,#dcdcff,#d9d9ff,#d6d6ff,#d4d4ff,#d3d3ff,#d4d4ff,#d7d7ff,#dcdcff,#e2e2ff)"></i><i style="background:linear-gradient(90deg,#bfbfff,#b5b5ff,#aeaeff,#aaf,#a8a8ff,#a8a8ff,#ababff,#b0b0ff,#b6b6ff,#bebeff,#c6c6ff,#cdcdff,#d3d3ff,#d7d7ff,#d9d9ff,#d8d8ff,#d6d6ff,#d1d1ff,#cdcdff,#c9c9ff,#c6c6ff,#c5c5ff,#c7c7ff,#cacaff,#cfcfff,#d5d5ff,#dadaff,#dedeff,#e0e0ff,#e0e0ff,#dfdfff,#ddf,#dadaff,#d7d7ff,#d5d5ff,#d4d4ff,#d5d5ff,#d8d8ff,#ddf,#e2e2ff)"></i><i style="background:linear-gradient(90deg,#c1c1ff,#b8b8ff,#b1b1ff,#adadff,#ababff,#ababff,#aeaeff,#b3b3ff,#b9b9ff,#c0c0ff,#c7c7ff,#ceceff,#d4d4ff,#d8d8ff,#d9d9ff,#d8d8ff,#d6d6ff,#d1d1ff,#cdcdff,#c9c9ff,#c6c6ff,#c5c5ff,#c7c7ff,#cbcbff,#d0d0ff,#d5d5ff,#dadaff,#dedeff,#e1e1ff,#e1e1ff,#e0e0ff,#ddf,#dadaff,#d8d8ff,#d6d6ff,#d5d5ff,#d6d6ff,#d9d9ff,#ddf,#e3e3ff)"></i><i style="background:linear-gradient(90deg,#c3c3ff,#babaff,#b4b4ff,#afafff,#aeaeff,#aeaeff,#b1b1ff,#b5b5ff,#bbf,#c2c2ff,#c9c9ff,#cfcfff,#d5d5ff,#d8d8ff,#dadaff,#d9d9ff,#d6d6ff,#d1d1ff,#cdcdff,#c9c9ff,#c6c6ff,#c5c5ff,#c7c7ff,#cbcbff,#d0d0ff,#d6d6ff,#dbdbff,#dfdfff,#e1e1ff,#e1e1ff,#e0e0ff,#dedeff,#dbdbff,#d8d8ff,#d6d6ff,#d6d6ff,#d7d7ff,#dadaff,#dedeff,#e3e3ff)"></i><i style="background:linear-gradient(90deg,#c5c5ff,#bdbdff,#b6b6ff,#b2b2ff,#b1b1ff,#b1b1ff,#b4b4ff,#b8b8ff,#bdbdff,#c4c4ff,#cacaff,#d1d1ff,#d6d6ff,#d9d9ff,#dadaff,#d9d9ff,#d6d6ff,#d2d2ff,#cdcdff,#c9c9ff,#c6c6ff,#c6c6ff,#c8c8ff,#cbcbff,#d1d1ff,#d6d6ff,#dbdbff,#dfdfff,#e1e1ff,#e2e2ff,#e1e1ff,#dedeff,#dcdcff,#d9d9ff,#d7d7ff,#d6d6ff,#d7d7ff,#dadaff,#dfdfff,#e4e4ff)"></i><i style="background:linear-gradient(90deg,#c8c8ff,#bfbfff,#b9b9ff,#b5b5ff,#b3b3ff,#b4b4ff,#b6b6ff,#babaff,#bfbfff,#c5c5ff,#ccf,#d2d2ff,#d7d7ff,#dadaff,#dadaff,#d9d9ff,#d6d6ff,#d2d2ff,#cdcdff,#c9c9ff,#c6c6ff,#c6c6ff,#c8c8ff,#ccf,#d1d1ff,#d7d7ff,#dcdcff,#e0e0ff,#e2e2ff,#e2e2ff,#e1e1ff,#dfdfff,#dcdcff,#d9d9ff,#d8d8ff,#d7d7ff,#d8d8ff,#dbdbff,#dfdfff,#e4e4ff)"></i><i style="background:linear-gradient(90deg,#cacaff,#c2c2ff,#bcbcff,#b8b8ff,#b6b6ff,#b7b7ff,#b9b9ff,#bcbcff,#c1c1ff,#c7c7ff,#cdcdff,#d3d3ff,#d7d7ff,#dadaff,#dbdbff,#d9d9ff,#d6d6ff,#d2d2ff,#cdcdff,#c9c9ff,#c6c6ff,#c6c6ff,#c8c8ff,#ccf,#d1d1ff,#d7d7ff,#dcdcff,#e0e0ff,#e2e2ff,#e3e3ff,#e1e1ff,#dfdfff,#ddf,#dadaff,#d8d8ff,#d8d8ff,#d9d9ff,#dcdcff,#e0e0ff,#e5e5ff)"></i><i style="background:linear-gradient(90deg,#ccf,#c4c4ff,#bebeff,#babaff,#b9b9ff,#b9b9ff,#bbf,#bfbfff,#c4c4ff,#c9c9ff,#cfcfff,#d4d4ff,#d8d8ff,#dbdbff,#dbdbff,#dadaff,#d6d6ff,#d2d2ff,#cdcdff,#c9c9ff,#c6c6ff,#c6c6ff,#c8c8ff,#ccf,#d2d2ff,#d7d7ff,#ddf,#e0e0ff,#e3e3ff,#e3e3ff,#e2e2ff,#e0e0ff,#ddf,#dbdbff,#d9d9ff,#d8d8ff,#dadaff,#dcdcff,#e0e0ff,#e5e5ff)"></i><i style="background:linear-gradient(90deg,#ceceff,#c6c6ff,#c1c1ff,#bdbdff,#bbf,#bcbcff,#bebeff,#c1c1ff,#c6c6ff,#cbcbff,#d0d0ff,#d5d5ff,#d9d9ff,#dbdbff,#dcdcff,#dadaff,#d6d6ff,#d2d2ff,#cdcdff,#c9c9ff,#c7c7ff,#c6c6ff,#c9c9ff,#cdcdff,#d2d2ff,#d8d8ff,#ddf,#e1e1ff,#e3e3ff,#e3e3ff,#e2e2ff,#e0e0ff,#ddf,#dbdbff,#d9d9ff,#d9d9ff,#dadaff,#ddf,#e1e1ff,#e6e6ff)"></i><i style="background:linear-gradient(90deg,#d0d0ff,#c8c8ff,#c3c3ff,#bfbfff,#bebeff,#bebeff,#c0c0ff,#c3c3ff,#c7c7ff,#ccf,#d2d2ff,#d6d6ff,#dadaff,#dcdcff,#dcdcff,#dadaff,#d7d7ff,#d2d2ff,#cdcdff,#c9c9ff,#c7c7ff,#c7c7ff,#c9c9ff,#cdcdff,#d2d2ff,#d8d8ff,#ddf,#e1e1ff,#e3e3ff,#e3e3ff,#e2e2ff,#e0e0ff,#dedeff,#dcdcff,#dadaff,#dadaff,#dbdbff,#dedeff,#e2e2ff,#e6e6ff)"></i><i style="background:linear-gradient(90deg,#d1d1ff,#cbcbff,#c5c5ff,#c2c2ff,#c0c0ff,#c1c1ff,#c2c2ff,#c5c5ff,#c9c9ff,#ceceff,#d3d3ff,#d7d7ff,#dbdbff,#dcdcff,#dcdcff,#dadaff,#d7d7ff,#d2d2ff,#cdcdff,#c9c9ff,#c7c7ff,#c7c7ff,#c9c9ff,#cdcdff,#d3d3ff,#d8d8ff,#ddf,#e1e1ff,#e3e3ff,#e4e4ff,#e3e3ff,#e1e1ff,#dedeff,#dcdcff,#dbdbff,#dadaff,#dcdcff,#dedeff,#e2e2ff,#e7e7ff)"></i><i style="background:linear-gradient(90deg,#d3d3ff,#cdcdff,#c7c7ff,#c4c4ff,#c3c3ff,#c3c3ff,#c4c4ff,#c7c7ff,#cbcbff,#d0d0ff,#d4d4ff,#d8d8ff,#dbdbff,#ddf,#ddf,#dbdbff,#d7d7ff,#d2d2ff,#ceceff,#cacaff,#c7c7ff,#c7c7ff,#c9c9ff,#ceceff,#d3d3ff,#d9d9ff,#dedeff,#e1e1ff,#e3e3ff,#e4e4ff,#e3e3ff,#e1e1ff,#dfdfff,#ddf,#dbdbff,#dbdbff,#dcdcff,#dfdfff,#e3e3ff,#e8e8ff)"></i><i style="background:linear-gradient(90deg,#d5d5ff,#ceceff,#c9c9ff,#c6c6ff,#c5c5ff,#c5c5ff,#c7c7ff,#c9c9ff,#cdcdff,#d1d1ff,#d6d6ff,#d9d9ff,#dcdcff,#dedeff,#ddf,#dbdbff,#d7d7ff,#d3d3ff,#ceceff,#cacaff,#c8c8ff,#c8c8ff,#cacaff,#ceceff,#d3d3ff,#d9d9ff,#dedeff,#e1e1ff,#e3e3ff,#e4e4ff,#e3e3ff,#e1e1ff,#dfdfff,#ddf,#dcdcff,#dcdcff,#ddf,#e0e0ff,#e4e4ff,#e8e8ff)"></i><i style="background:linear-gradient(90deg,#d7d7ff,#d0d0ff,#cbcbff,#c8c8ff,#c7c7ff,#c7c7ff,#c9c9ff,#cbcbff,#cfcfff,#d3d3ff,#d7d7ff,#dadaff,#ddf,#dedeff,#dedeff,#dbdbff,#d7d7ff,#d3d3ff,#ceceff,#cacaff,#c8c8ff,#c8c8ff,#cacaff,#ceceff,#d4d4ff,#d9d9ff,#dedeff,#e1e1ff,#e3e3ff,#e4e4ff,#e3e3ff,#e1e1ff,#dfdfff,#ddf,#dcdcff,#dcdcff,#dedeff,#e0e0ff,#e4e4ff,#e9e9ff)"></i><i style="background:linear-gradient(90deg,#d8d8ff,#d2d2ff,#cdcdff,#cacaff,#c9c9ff,#c9c9ff,#cbcbff,#cdcdff,#d0d0ff,#d4d4ff,#d8d8ff,#dbdbff,#dedeff,#dfdfff,#dedeff,#dcdcff,#d8d8ff,#d3d3ff,#cfcfff,#cbcbff,#c8c8ff,#c8c8ff,#cbcbff,#cfcfff,#d4d4ff,#d9d9ff,#dedeff,#e2e2ff,#e4e4ff,#e4e4ff,#e3e3ff,#e2e2ff,#e0e0ff,#dedeff,#ddf,#ddf,#dedeff,#e1e1ff,#e5e5ff,#e9e9ff)"></i><i style="background:linear-gradient(90deg,#dadaff,#d4d4ff,#cfcfff,#ccf,#cbcbff,#cbcbff,#ccf,#cfcfff,#d2d2ff,#d5d5ff,#d9d9ff,#dcdcff,#dedeff,#dfdfff,#dedeff,#dcdcff,#d8d8ff,#d4d4ff,#cfcfff,#cbcbff,#c9c9ff,#c9c9ff,#cbcbff,#cfcfff,#d4d4ff,#d9d9ff,#dedeff,#e2e2ff,#e4e4ff,#e4e4ff,#e3e3ff,#e2e2ff,#e0e0ff,#dedeff,#ddf,#dedeff,#dfdfff,#e2e2ff,#e5e5ff,#eaeaff)"></i><i style="background:linear-gradient(90deg,#dbdbff,#d5d5ff,#d1d1ff,#ceceff,#cdcdff,#cdcdff,#ceceff,#d0d0ff,#d3d3ff,#d7d7ff,#dadaff,#ddf,#dfdfff,#e0e0ff,#dfdfff,#dcdcff,#d8d8ff,#d4d4ff,#cfcfff,#ccf,#c9c9ff,#c9c9ff,#cbcbff,#cfcfff,#d4d4ff,#dadaff,#dedeff,#e2e2ff,#e4e4ff,#e4e4ff,#e3e3ff,#e2e2ff,#e0e0ff,#dfdfff,#dedeff,#dedeff,#e0e0ff,#e2e2ff,#e6e6ff,#eaeaff)"></i><i style="background:linear-gradient(90deg,#dcdcff,#d7d7ff,#d2d2ff,#d0d0ff,#ceceff,#ceceff,#d0d0ff,#d2d2ff,#d5d5ff,#d8d8ff,#dbdbff,#dedeff,#e0e0ff,#e0e0ff,#dfdfff,#ddf,#d9d9ff,#d4d4ff,#d0d0ff,#ccf,#cacaff,#cacaff,#ccf,#d0d0ff,#d5d5ff,#dadaff,#dedeff,#e2e2ff,#e4e4ff,#e4e4ff,#e3e3ff,#e2e2ff,#e0e0ff,#dfdfff,#dedeff,#dfdfff,#e0e0ff,#e3e3ff,#e7e7ff,#ebebff)"></i><i style="background:linear-gradient(90deg,#ddf,#d8d8ff,#d4d4ff,#d1d1ff,#d0d0ff,#d0d0ff,#d1d1ff,#d3d3ff,#d6d6ff,#d9d9ff,#dcdcff,#dfdfff,#e0e0ff,#e1e1ff,#e0e0ff,#ddf,#d9d9ff,#d5d5ff,#d0d0ff,#cdcdff,#cbcbff,#cacaff,#ccf,#d0d0ff,#d5d5ff,#dadaff,#dedeff,#e2e2ff,#e4e4ff,#e4e4ff,#e3e3ff,#e2e2ff,#e1e1ff,#dfdfff,#dfdfff,#dfdfff,#e1e1ff,#e4e4ff,#e7e7ff,#ebebff)"></i><i style="background:linear-gradient(90deg,#dfdfff,#d9d9ff,#d5d5ff,#d3d3ff,#d1d1ff,#d2d2ff,#d3d3ff,#d5d5ff,#d8d8ff,#dadaff,#ddf,#e0e0ff,#e1e1ff,#e1e1ff,#e0e0ff,#ddf,#dadaff,#d5d5ff,#d1d1ff,#cdcdff,#cbcbff,#cbcbff,#cdcdff,#d1d1ff,#d5d5ff,#dadaff,#dfdfff,#e2e2ff,#e3e3ff,#e4e4ff,#e3e3ff,#e2e2ff,#e1e1ff,#e0e0ff,#dfdfff,#e0e0ff,#e2e2ff,#e4e4ff,#e8e8ff,#ececff)"></i><i style="background:linear-gradient(90deg,#e0e0ff,#dbdbff,#d6d6ff,#d4d4ff,#d3d3ff,#d3d3ff,#d4d4ff,#d6d6ff,#d9d9ff,#dcdcff,#dedeff,#e0e0ff,#e2e2ff,#e2e2ff,#e1e1ff,#dedeff,#dadaff,#d6d6ff,#d1d1ff,#ceceff,#ccf,#ccf,#ceceff,#d1d1ff,#d6d6ff,#dadaff,#dfdfff,#e2e2ff,#e3e3ff,#e4e4ff,#e3e3ff,#e2e2ff,#e1e1ff,#e0e0ff,#e0e0ff,#e1e1ff,#e2e2ff,#e5e5ff,#e8e8ff,#ececff)"></i><i style="background:linear-gradient(90deg,#e1e1ff,#dcdcff,#d8d8ff,#d5d5ff,#d4d4ff,#d4d4ff,#d5d5ff,#d7d7ff,#dadaff,#ddf,#dfdfff,#e1e1ff,#e2e2ff,#e2e2ff,#e1e1ff,#dedeff,#dbdbff,#d6d6ff,#d2d2ff,#cfcfff,#cdcdff,#ccf,#ceceff,#d2d2ff,#d6d6ff,#dbdbff,#dfdfff,#e2e2ff,#e3e3ff,#e4e4ff,#e3e3ff,#e2e2ff,#e1e1ff,#e1e1ff,#e0e0ff,#e1e1ff,#e3e3ff,#e6e6ff,#e9e9ff,#ededff)"></i><i style="background:linear-gradient(90deg,#e1e1ff,#ddf,#d9d9ff,#d6d6ff,#d5d5ff,#d5d5ff,#d7d7ff,#d9d9ff,#dbdbff,#dedeff,#e0e0ff,#e2e2ff,#e3e3ff,#e3e3ff,#e1e1ff,#dfdfff,#dbdbff,#d7d7ff,#d3d3ff,#cfcfff,#cdcdff,#cdcdff,#cfcfff,#d2d2ff,#d6d6ff,#dbdbff,#dfdfff,#e2e2ff,#e3e3ff,#e4e4ff,#e3e3ff,#e3e3ff,#e2e2ff,#e1e1ff,#e1e1ff,#e2e2ff,#e4e4ff,#e6e6ff,#eaeaff,#ededff)"></i><i style="background:linear-gradient(90deg,#e2e2ff,#ddf,#dadaff,#d7d7ff,#d6d6ff,#d7d7ff,#d8d8ff,#dadaff,#dcdcff,#dfdfff,#e1e1ff,#e3e3ff,#e4e4ff,#e3e3ff,#e2e2ff,#dfdfff,#dcdcff,#d8d8ff,#d3d3ff,#d0d0ff,#ceceff,#ceceff,#cfcfff,#d3d3ff,#d7d7ff,#dbdbff,#dfdfff,#e2e2ff,#e3e3ff,#e4e4ff,#e3e3ff,#e3e3ff,#e2e2ff,#e1e1ff,#e1e1ff,#e2e2ff,#e4e4ff,#e7e7ff,#eaeaff,#eef)"></i><i style="background:linear-gradient(90deg,#e3e3ff,#dedeff,#dbdbff,#d8d8ff,#d7d7ff,#d8d8ff,#d9d9ff,#dbdbff,#ddf,#dfdfff,#e2e2ff,#e3e3ff,#e4e4ff,#e4e4ff,#e2e2ff,#e0e0ff,#dcdcff,#d8d8ff,#d4d4ff,#d1d1ff,#cfcfff,#cfcfff,#d0d0ff,#d3d3ff,#d7d7ff,#dbdbff,#dfdfff,#e2e2ff,#e3e3ff,#e4e4ff,#e3e3ff,#e3e3ff,#e2e2ff,#e2e2ff,#e2e2ff,#e3e3ff,#e5e5ff,#e8e8ff,#ebebff,#efefff)"></i><i style="background:linear-gradient(90deg,#e4e4ff,#dfdfff,#dbdbff,#d9d9ff,#d8d8ff,#d8d8ff,#dadaff,#dcdcff,#dedeff,#e0e0ff,#e2e2ff,#e4e4ff,#e5e5ff,#e4e4ff,#e3e3ff,#e0e0ff,#ddf,#d9d9ff,#d5d5ff,#d2d2ff,#d0d0ff,#cfcfff,#d1d1ff,#d4d4ff,#d8d8ff,#dcdcff,#dfdfff,#e2e2ff,#e3e3ff,#e4e4ff,#e3e3ff,#e3e3ff,#e2e2ff,#e2e2ff,#e2e2ff,#e4e4ff,#e6e6ff,#e8e8ff,#ececff,#efefff)"></i><i style="background:linear-gradient(90deg,#e4e4ff,#e0e0ff,#dcdcff,#dadaff,#d9d9ff,#d9d9ff,#dbdbff,#ddf,#dfdfff,#e1e1ff,#e3e3ff,#e5e5ff,#e5e5ff,#e5e5ff,#e3e3ff,#e1e1ff,#dedeff,#dadaff,#d6d6ff,#d3d3ff,#d1d1ff,#d0d0ff,#d2d2ff,#d4d4ff,#d8d8ff,#dcdcff,#dfdfff,#e2e2ff,#e3e3ff,#e4e4ff,#e3e3ff,#e3e3ff,#e3e3ff,#e2e2ff,#e3e3ff,#e4e4ff,#e6e6ff,#e9e9ff,#ececff,#f0f0ff)"></i><i style="background:linear-gradient(90deg,#e5e5ff,#e0e0ff,#ddf,#dadaff,#dadaff,#dadaff,#dbdbff,#ddf,#e0e0ff,#e2e2ff,#e4e4ff,#e5e5ff,#e6e6ff,#e6e6ff,#e4e4ff,#e2e2ff,#dedeff,#dadaff,#d7d7ff,#d3d3ff,#d2d2ff,#d1d1ff,#d2d2ff,#d5d5ff,#d9d9ff,#dcdcff,#dfdfff,#e2e2ff,#e3e3ff,#e4e4ff,#e3e3ff,#e3e3ff,#e3e3ff,#e3e3ff,#e3e3ff,#e5e5ff,#e7e7ff,#eaeaff,#ededff,#f0f0ff)"></i><i style="background:linear-gradient(90deg,#e5e5ff,#e1e1ff,#ddf,#dbdbff,#dadaff,#dbdbff,#dcdcff,#dedeff,#e0e0ff,#e3e3ff,#e4e4ff,#e6e6ff,#e6e6ff,#e6e6ff,#e5e5ff,#e2e2ff,#dfdfff,#dbdbff,#d8d8ff,#d4d4ff,#d2d2ff,#d2d2ff,#d3d3ff,#d6d6ff,#d9d9ff,#ddf,#e0e0ff,#e2e2ff,#e3e3ff,#e3e3ff,#e3e3ff,#e3e3ff,#e3e3ff,#e3e3ff,#e4e4ff,#e5e5ff,#e8e8ff,#eaeaff,#ededff,#f1f1ff)"></i><i style="background:linear-gradient(90deg,#e5e5ff,#e1e1ff,#dedeff,#dbdbff,#dbdbff,#dbdbff,#ddf,#dfdfff,#e1e1ff,#e3e3ff,#e5e5ff,#e6e6ff,#e7e7ff,#e7e7ff,#e5e5ff,#e3e3ff,#e0e0ff,#dcdcff,#d8d8ff,#d5d5ff,#d3d3ff,#d3d3ff,#d4d4ff,#d6d6ff,#dadaff,#ddf,#e0e0ff,#e2e2ff,#e3e3ff,#e3e3ff,#e3e3ff,#e3e3ff,#e3e3ff,#e4e4ff,#e5e5ff,#e6e6ff,#e8e8ff,#ebebff,#eef,#f1f1ff)"></i><i style="background:linear-gradient(90deg,#e6e6ff,#e1e1ff,#dedeff,#dcdcff,#dbdbff,#dcdcff,#ddf,#dfdfff,#e2e2ff,#e4e4ff,#e6e6ff,#e7e7ff,#e7e7ff,#e7e7ff,#e6e6ff,#e3e3ff,#e0e0ff,#ddf,#d9d9ff,#d6d6ff,#d4d4ff,#d4d4ff,#d5d5ff,#d7d7ff,#dadaff,#ddf,#e0e0ff,#e2e2ff,#e3e3ff,#e3e3ff,#e3e3ff,#e3e3ff,#e4e4ff,#e4e4ff,#e5e5ff,#e7e7ff,#e9e9ff,#ececff,#efefff,#f2f2ff)"></i><i style="background:linear-gradient(90deg,#e6e6ff,#e2e2ff,#dedeff,#dcdcff,#dcdcff,#dcdcff,#dedeff,#e0e0ff,#e2e2ff,#e4e4ff,#e6e6ff,#e7e7ff,#e8e8ff,#e8e8ff,#e6e6ff,#e4e4ff,#e1e1ff,#dedeff,#dadaff,#d7d7ff,#d5d5ff,#d5d5ff,#d6d6ff,#d8d8ff,#dbdbff,#dedeff,#e0e0ff,#e2e2ff,#e3e3ff,#e3e3ff,#e4e4ff,#e4e4ff,#e4e4ff,#e4e4ff,#e6e6ff,#e7e7ff,#eaeaff,#ececff,#efefff,#f2f2ff)"></i><i style="background:linear-gradient(90deg,#e6e6ff,#e2e2ff,#dedeff,#ddf,#dcdcff,#ddf,#dedeff,#e0e0ff,#e3e3ff,#e5e5ff,#e7e7ff,#e8e8ff,#e8e8ff,#e8e8ff,#e7e7ff,#e5e5ff,#e2e2ff,#dedeff,#dbdbff,#d8d8ff,#d6d6ff,#d6d6ff,#d7d7ff,#d8d8ff,#dbdbff,#dedeff,#e0e0ff,#e2e2ff,#e3e3ff,#e3e3ff,#e4e4ff,#e4e4ff,#e4e4ff,#e5e5ff,#e6e6ff,#e8e8ff,#eaeaff,#ededff,#f0f0ff,#f3f3ff)"></i><i style="background:linear-gradient(90deg,#e6e6ff,#e2e2ff,#dfdfff,#ddf,#dcdcff,#ddf,#dfdfff,#e1e1ff,#e3e3ff,#e5e5ff,#e7e7ff,#e8e8ff,#e9e9ff,#e9e9ff,#e7e7ff,#e5e5ff,#e3e3ff,#dfdfff,#dcdcff,#d9d9ff,#d7d7ff,#d7d7ff,#d7d7ff,#d9d9ff,#dcdcff,#dedeff,#e1e1ff,#e2e2ff,#e3e3ff,#e4e4ff,#e4e4ff,#e4e4ff,#e4e4ff,#e5e5ff,#e7e7ff,#e8e8ff,#ebebff,#ededff,#f0f0ff,#f3f3ff)"></i><i style="background:linear-gradient(90deg,#e6e6ff,#e2e2ff,#dfdfff,#ddf,#dcdcff,#ddf,#dfdfff,#e1e1ff,#e4e4ff,#e6e6ff,#e8e8ff,#e9e9ff,#e9e9ff,#e9e9ff,#e8e8ff,#e6e6ff,#e3e3ff,#e0e0ff,#ddf,#dadaff,#d9d9ff,#d8d8ff,#d8d8ff,#dadaff,#dcdcff,#dfdfff,#e1e1ff,#e2e2ff,#e3e3ff,#e4e4ff,#e4e4ff,#e4e4ff,#e5e5ff,#e6e6ff,#e7e7ff,#e9e9ff,#ebebff,#eef,#f1f1ff,#f4f4ff)"></i><i style="background:linear-gradient(90deg,#e6e6ff,#e2e2ff,#dfdfff,#ddf,#ddf,#dedeff,#dfdfff,#e2e2ff,#e4e4ff,#e6e6ff,#e8e8ff,#e9e9ff,#eaeaff,#eaeaff,#e9e9ff,#e7e7ff,#e4e4ff,#e1e1ff,#dedeff,#dbdbff,#dadaff,#d9d9ff,#d9d9ff,#dbdbff,#ddf,#dfdfff,#e1e1ff,#e2e2ff,#e3e3ff,#e4e4ff,#e4e4ff,#e4e4ff,#e5e5ff,#e6e6ff,#e8e8ff,#eaeaff,#ececff,#efefff,#f1f1ff,#f4f4ff)"></i><i style="background:linear-gradient(90deg,#e6e6ff,#e2e2ff,#dfdfff,#ddf,#ddf,#dedeff,#e0e0ff,#e2e2ff,#e4e4ff,#e7e7ff,#e8e8ff,#eaeaff,#eaeaff,#eaeaff,#e9e9ff,#e7e7ff,#e5e5ff,#e2e2ff,#dfdfff,#dcdcff,#dbdbff,#dadaff,#dadaff,#dbdbff,#ddf,#e0e0ff,#e1e1ff,#e3e3ff,#e3e3ff,#e4e4ff,#e4e4ff,#e5e5ff,#e5e5ff,#e7e7ff,#e8e8ff,#eaeaff,#ededff,#efefff,#f2f2ff,#f5f5ff)"></i><i style="background:linear-gradient(90deg,#e6e6ff,#e2e2ff,#dfdfff,#ddf,#ddf,#dedeff,#e0e0ff,#e2e2ff,#e5e5ff,#e7e7ff,#e9e9ff,#eaeaff,#ebebff,#ebebff,#eaeaff,#e8e8ff,#e6e6ff,#e3e3ff,#e0e0ff,#dedeff,#dcdcff,#dbdbff,#dbdbff,#dcdcff,#dedeff,#e0e0ff,#e2e2ff,#e3e3ff,#e4e4ff,#e4e4ff,#e4e4ff,#e5e5ff,#e6e6ff,#e7e7ff,#e9e9ff,#ebebff,#ededff,#f0f0ff,#f3f3ff,#f5f5ff)"></i><i style="background:linear-gradient(90deg,#e6e6ff,#e2e2ff,#dfdfff,#ddf,#ddf,#dedeff,#e0e0ff,#e2e2ff,#e5e5ff,#e7e7ff,#e9e9ff,#eaeaff,#ebebff,#ebebff,#eaeaff,#e9e9ff,#e6e6ff,#e4e4ff,#e1e1ff,#dfdfff,#ddf,#dcdcff,#dcdcff,#ddf,#dfdfff,#e0e0ff,#e2e2ff,#e3e3ff,#e4e4ff,#e4e4ff,#e5e5ff,#e5e5ff,#e6e6ff,#e7e7ff,#e9e9ff,#ebebff,#eef,#f0f0ff,#f3f3ff,#f6f6ff)"></i><i style="background:linear-gradient(90deg,#e6e6ff,#e2e2ff,#dfdfff,#ddf,#ddf,#dedeff,#e0e0ff,#e3e3ff,#e5e5ff,#e7e7ff,#e9e9ff,#ebebff,#ececff,#ececff,#ebebff,#e9e9ff,#e7e7ff,#e5e5ff,#e2e2ff,#e0e0ff,#dedeff,#ddf,#ddf,#dedeff,#dfdfff,#e1e1ff,#e2e2ff,#e3e3ff,#e4e4ff,#e4e4ff,#e5e5ff,#e5e5ff,#e6e6ff,#e8e8ff,#eaeaff,#ececff,#eef,#f1f1ff,#f4f4ff,#f6f6ff)"></i><i style="background:linear-gradient(90deg,#e6e6ff,#e2e2ff,#dfdfff,#ddf,#ddf,#dedeff,#e0e0ff,#e3e3ff,#e5e5ff,#e8e8ff,#eaeaff,#ebebff,#ececff,#ececff,#ebebff,#eaeaff,#e8e8ff,#e6e6ff,#e3e3ff,#e1e1ff,#dfdfff,#dedeff,#dedeff,#dfdfff,#e0e0ff,#e2e2ff,#e3e3ff,#e4e4ff,#e4e4ff,#e5e5ff,#e5e5ff,#e6e6ff,#e7e7ff,#e8e8ff,#eaeaff,#ededff,#efefff,#f2f2ff,#f4f4ff,#f6f6ff)"></i><i style="background:linear-gradient(90deg,#e6e6ff,#e2e2ff,#dedeff,#ddf,#ddf,#dedeff,#e0e0ff,#e3e3ff,#e6e6ff,#e8e8ff,#eaeaff,#ececff,#ececff,#ededff,#ececff,#ebebff,#e9e9ff,#e6e6ff,#e4e4ff,#e2e2ff,#e0e0ff,#dfdfff,#dfdfff,#e0e0ff,#e1e1ff,#e2e2ff,#e3e3ff,#e4e4ff,#e5e5ff,#e5e5ff,#e5e5ff,#e6e6ff,#e7e7ff,#e9e9ff,#ebebff,#ededff,#f0f0ff,#f2f2ff,#f5f5ff,#f7f7ff)"></i><i style="background:linear-gradient(90deg,#e6e6ff,#e1e1ff,#dedeff,#ddf,#ddf,#dedeff,#e0e0ff,#e3e3ff,#e6e6ff,#e8e8ff,#eaeaff,#ececff,#ededff,#ededff,#ececff,#ebebff,#eaeaff,#e7e7ff,#e5e5ff,#e3e3ff,#e1e1ff,#e0e0ff,#e0e0ff,#e0e0ff,#e1e1ff,#e3e3ff,#e4e4ff,#e4e4ff,#e5e5ff,#e5e5ff,#e6e6ff,#e6e6ff,#e8e8ff,#e9e9ff,#ebebff,#eef,#f0f0ff,#f3f3ff,#f5f5ff,#f7f7ff)"></i><i style="background:linear-gradient(90deg,#e5e5ff,#e1e1ff,#dedeff,#ddf,#ddf,#dedeff,#e1e1ff,#e3e3ff,#e6e6ff,#e8e8ff,#ebebff,#ececff,#ededff,#ededff,#ededff,#ececff,#eaeaff,#e8e8ff,#e6e6ff,#e4e4ff,#e2e2ff,#e1e1ff,#e1e1ff,#e1e1ff,#e2e2ff,#e3e3ff,#e4e4ff,#e5e5ff,#e5e5ff,#e5e5ff,#e6e6ff,#e7e7ff,#e8e8ff,#eaeaff,#ececff,#eef,#f1f1ff,#f3f3ff,#f6f6ff,#f8f8ff)"></i><i style="background:linear-gradient(90deg,#e5e5ff,#e1e1ff,#dedeff,#ddf,#ddf,#dedeff,#e1e1ff,#e3e3ff,#e6e6ff,#e9e9ff,#ebebff,#ececff,#ededff,#eef,#eef,#ededff,#ebebff,#e9e9ff,#e7e7ff,#e5e5ff,#e3e3ff,#e2e2ff,#e2e2ff,#e2e2ff,#e3e3ff,#e4e4ff,#e5e5ff,#e5e5ff,#e6e6ff,#e6e6ff,#e6e6ff,#e7e7ff,#e9e9ff,#eaeaff,#ececff,#efefff,#f1f1ff,#f4f4ff,#f6f6ff,#f8f8ff)"></i><i style="background:linear-gradient(90deg,#e5e5ff,#e1e1ff,#dedeff,#ddf,#ddf,#dedeff,#e1e1ff,#e3e3ff,#e6e6ff,#e9e9ff,#ebebff,#ededff,#eef,#eef,#eef,#ededff,#ececff,#eaeaff,#e8e8ff,#e6e6ff,#e4e4ff,#e3e3ff,#e3e3ff,#e3e3ff,#e4e4ff,#e4e4ff,#e5e5ff,#e6e6ff,#e6e6ff,#e6e6ff,#e7e7ff,#e8e8ff,#e9e9ff,#ebebff,#ededff,#efefff,#f2f2ff,#f4f4ff,#f6f6ff,#f8f8ff)"></i><i style="background:linear-gradient(90deg,#e5e5ff,#e1e1ff,#dedeff,#dcdcff,#ddf,#dedeff,#e1e1ff,#e4e4ff,#e6e6ff,#e9e9ff,#ebebff,#ededff,#eef,#efefff,#efefff,#eef,#ededff,#ebebff,#e9e9ff,#e7e7ff,#e5e5ff,#e4e4ff,#e4e4ff,#e4e4ff,#e4e4ff,#e5e5ff,#e6e6ff,#e6e6ff,#e6e6ff,#e7e7ff,#e7e7ff,#e8e8ff,#e9e9ff,#ebebff,#eef,#f0f0ff,#f2f2ff,#f5f5ff,#f7f7ff,#f9f9ff)"></i><i style="background:linear-gradient(90deg,#e5e5ff,#e1e1ff,#dedeff,#dcdcff,#ddf,#dedeff,#e1e1ff,#e4e4ff,#e6e6ff,#e9e9ff,#ebebff,#ededff,#efefff,#efefff,#efefff,#efefff,#ededff,#ececff,#eaeaff,#e8e8ff,#e6e6ff,#e5e5ff,#e5e5ff,#e5e5ff,#e5e5ff,#e6e6ff,#e6e6ff,#e7e7ff,#e7e7ff,#e7e7ff,#e8e8ff,#e9e9ff,#eaeaff,#ececff,#eef,#f0f0ff,#f3f3ff,#f5f5ff,#f7f7ff,#f9f9ff)"></i><i style="background:linear-gradient(90deg,#e5e5ff,#e0e0ff,#dedeff,#dcdcff,#ddf,#dedeff,#e1e1ff,#e4e4ff,#e7e7ff,#e9e9ff,#ececff,#ededff,#efefff,#f0f0ff,#f0f0ff,#efefff,#eef,#ececff,#ebebff,#e9e9ff,#e7e7ff,#e6e6ff,#e5e5ff,#e5e5ff,#e6e6ff,#e6e6ff,#e7e7ff,#e7e7ff,#e7e7ff,#e8e8ff,#e8e8ff,#e9e9ff,#ebebff,#ececff,#efefff,#f1f1ff,#f3f3ff,#f6f6ff,#f8f8ff,#f9f9ff)"></i><i style="background:linear-gradient(90deg,#e4e4ff,#e0e0ff,#ddf,#dcdcff,#ddf,#dedeff,#e1e1ff,#e4e4ff,#e7e7ff,#e9e9ff,#ececff,#eef,#efefff,#f0f0ff,#f0f0ff,#f0f0ff,#efefff,#ededff,#ececff,#eaeaff,#e8e8ff,#e7e7ff,#e6e6ff,#e6e6ff,#e7e7ff,#e7e7ff,#e7e7ff,#e8e8ff,#e8e8ff,#e8e8ff,#e9e9ff,#eaeaff,#ebebff,#ededff,#efefff,#f2f2ff,#f4f4ff,#f6f6ff,#f8f8ff,#fafaff)"></i><i style="background:linear-gradient(90deg,#e4e4ff,#e0e0ff,#ddf,#dcdcff,#ddf,#dedeff,#e1e1ff,#e4e4ff,#e7e7ff,#eaeaff,#ececff,#eef,#efefff,#f0f0ff,#f1f1ff,#f0f0ff,#efefff,#eef,#ececff,#ebebff,#e9e9ff,#e8e8ff,#e7e7ff,#e7e7ff,#e7e7ff,#e8e8ff,#e8e8ff,#e8e8ff,#e8e8ff,#e8e8ff,#e9e9ff,#eaeaff,#ececff,#ededff,#f0f0ff,#f2f2ff,#f4f4ff,#f6f6ff,#f8f8ff,#fafaff)"></i><i style="background:linear-gradient(90deg,#e4e4ff,#e0e0ff,#ddf,#dcdcff,#ddf,#dfdfff,#e1e1ff,#e4e4ff,#e7e7ff,#eaeaff,#ececff,#eef,#f0f0ff,#f1f1ff,#f1f1ff,#f1f1ff,#f0f0ff,#efefff,#ededff,#ececff,#eaeaff,#e9e9ff,#e8e8ff,#e8e8ff,#e8e8ff,#e8e8ff,#e9e9ff,#e9e9ff,#e9e9ff,#e9e9ff,#eaeaff,#ebebff,#ececff,#eef,#f0f0ff,#f3f3ff,#f5f5ff,#f7f7ff,#f9f9ff,#fafaff)"></i><i style="background:linear-gradient(90deg,#e4e4ff,#e0e0ff,#ddf,#dcdcff,#ddf,#dfdfff,#e1e1ff,#e4e4ff,#e7e7ff,#eaeaff,#ececff,#eef,#f0f0ff,#f1f1ff,#f2f2ff,#f1f1ff,#f1f1ff,#f0f0ff,#eef,#ececff,#ebebff,#eaeaff,#e9e9ff,#e9e9ff,#e9e9ff,#e9e9ff,#e9e9ff,#e9e9ff,#e9e9ff,#eaeaff,#eaeaff,#ebebff,#ededff,#efefff,#f1f1ff,#f3f3ff,#f5f5ff,#f7f7ff,#f9f9ff,#fbfbff)"></i><i style="background:linear-gradient(90deg,#e4e4ff,#e0e0ff,#ddf,#dcdcff,#ddf,#dfdfff,#e1e1ff,#e4e4ff,#e7e7ff,#eaeaff,#ececff,#efefff,#f0f0ff,#f2f2ff,#f2f2ff,#f2f2ff,#f1f1ff,#f0f0ff,#efefff,#ededff,#ececff,#ebebff,#eaeaff,#eaeaff,#eaeaff,#eaeaff,#eaeaff,#eaeaff,#eaeaff,#eaeaff,#ebebff,#ececff,#ededff,#efefff,#f1f1ff,#f3f3ff,#f6f6ff,#f8f8ff,#f9f9ff,#fbfbff)"></i><i style="background:linear-gradient(90deg,#e4e4ff,#e0e0ff,#ddf,#dcdcff,#ddf,#dfdfff,#e1e1ff,#e4e4ff,#e7e7ff,#eaeaff,#ededff,#efefff,#f1f1ff,#f2f2ff,#f3f3ff,#f3f3ff,#f2f2ff,#f1f1ff,#f0f0ff,#eef,#ededff,#ececff,#ebebff,#eaeaff,#eaeaff,#eaeaff,#eaeaff,#eaeaff,#eaeaff,#ebebff,#ebebff,#ececff,#eef,#f0f0ff,#f2f2ff,#f4f4ff,#f6f6ff,#f8f8ff,#fafaff,#fbfbff)"></i><i style="background:linear-gradient(90deg,#e4e4ff,#e0e0ff,#ddf,#dcdcff,#ddf,#dfdfff,#e2e2ff,#e5e5ff,#e8e8ff,#eaeaff,#ededff,#efefff,#f1f1ff,#f2f2ff,#f3f3ff,#f3f3ff,#f3f3ff,#f2f2ff,#f0f0ff,#efefff,#eef,#ececff,#ececff,#ebebff,#ebebff,#ebebff,#ebebff,#ebebff,#ebebff,#ebebff,#ececff,#ededff,#eef,#f0f0ff,#f2f2ff,#f4f4ff,#f6f6ff,#f8f8ff,#fafaff,#fbfbff)"></i><i style="background:linear-gradient(90deg,#e4e4ff,#e0e0ff,#dedeff,#ddf,#ddf,#dfdfff,#e2e2ff,#e5e5ff,#e8e8ff,#eaeaff,#ededff,#efefff,#f1f1ff,#f3f3ff,#f3f3ff,#f4f4ff,#f3f3ff,#f2f2ff,#f1f1ff,#f0f0ff,#eef,#ededff,#ececff,#ececff,#ececff,#ececff,#ececff,#ececff,#ececff,#ececff,#ececff,#ededff,#efefff,#f1f1ff,#f3f3ff,#f5f5ff,#f7f7ff,#f9f9ff,#fafaff,#fbfbff)"></i><i style="background:linear-gradient(90deg,#e4e4ff,#e0e0ff,#dedeff,#ddf,#dedeff,#dfdfff,#e2e2ff,#e5e5ff,#e8e8ff,#ebebff,#ededff,#f0f0ff,#f2f2ff,#f3f3ff,#f4f4ff,#f4f4ff,#f4f4ff,#f3f3ff,#f2f2ff,#f0f0ff,#efefff,#eef,#ededff,#ededff,#ededff,#ededff,#ececff,#ececff,#ececff,#ededff,#ededff,#eef,#efefff,#f1f1ff,#f3f3ff,#f5f5ff,#f7f7ff,#f9f9ff,#fafaff,#fcfcff)"></i><i style="background:linear-gradient(90deg,#e4e4ff,#e0e0ff,#dedeff,#ddf,#dedeff,#e0e0ff,#e2e2ff,#e5e5ff,#e8e8ff,#ebebff,#ededff,#f0f0ff,#f2f2ff,#f3f3ff,#f4f4ff,#f5f5ff,#f4f4ff,#f4f4ff,#f3f3ff,#f1f1ff,#f0f0ff,#efefff,#eef,#eef,#ededff,#ededff,#ededff,#ededff,#ededff,#ededff,#eef,#efefff,#f0f0ff,#f2f2ff,#f4f4ff,#f6f6ff,#f8f8ff,#f9f9ff,#fbfbff,#fcfcff)"></i><i style="background:linear-gradient(90deg,#e4e4ff,#e0e0ff,#dedeff,#ddf,#dedeff,#e0e0ff,#e3e3ff,#e5e5ff,#e8e8ff,#ebebff,#eef,#f0f0ff,#f2f2ff,#f4f4ff,#f5f5ff,#f5f5ff,#f5f5ff,#f4f4ff,#f3f3ff,#f2f2ff,#f1f1ff,#f0f0ff,#efefff,#eef,#eef,#eef,#eef,#eef,#eef,#eef,#eef,#efefff,#f1f1ff,#f2f2ff,#f4f4ff,#f6f6ff,#f8f8ff,#fafaff,#fbfbff,#fcfcff)"></i><i style="background:linear-gradient(90deg,#e4e4ff,#e1e1ff,#dedeff,#ddf,#dedeff,#e0e0ff,#e3e3ff,#e6e6ff,#e9e9ff,#ebebff,#eef,#f0f0ff,#f2f2ff,#f4f4ff,#f5f5ff,#f5f5ff,#f5f5ff,#f5f5ff,#f4f4ff,#f3f3ff,#f1f1ff,#f0f0ff,#f0f0ff,#efefff,#efefff,#efefff,#eef,#eef,#eef,#eef,#efefff,#f0f0ff,#f1f1ff,#f3f3ff,#f5f5ff,#f7f7ff,#f8f8ff,#fafaff,#fbfbff,#fcfcff)"></i><i style="background:linear-gradient(90deg,#e4e4ff,#e1e1ff,#dedeff,#dedeff,#dfdfff,#e1e1ff,#e3e3ff,#e6e6ff,#e9e9ff,#ececff,#eef,#f1f1ff,#f3f3ff,#f4f4ff,#f5f5ff,#f6f6ff,#f6f6ff,#f5f5ff,#f4f4ff,#f3f3ff,#f2f2ff,#f1f1ff,#f0f0ff,#f0f0ff,#f0f0ff,#efefff,#efefff,#efefff,#efefff,#efefff,#f0f0ff,#f0f0ff,#f2f2ff,#f3f3ff,#f5f5ff,#f7f7ff,#f9f9ff,#fafaff,#fbfbff,#fcfcff)"></i><i style="background:linear-gradient(90deg,#e5e5ff,#e1e1ff,#dfdfff,#dedeff,#dfdfff,#e1e1ff,#e3e3ff,#e6e6ff,#e9e9ff,#ececff,#eef,#f1f1ff,#f3f3ff,#f5f5ff,#f6f6ff,#f6f6ff,#f6f6ff,#f6f6ff,#f5f5ff,#f4f4ff,#f3f3ff,#f2f2ff,#f1f1ff,#f1f1ff,#f0f0ff,#f0f0ff,#f0f0ff,#f0f0ff,#f0f0ff,#f0f0ff,#f0f0ff,#f1f1ff,#f2f2ff,#f4f4ff,#f5f5ff,#f7f7ff,#f9f9ff,#fafaff,#fcfcff,#fcfcff)"></i><i style="background:linear-gradient(90deg,#e5e5ff,#e1e1ff,#dfdfff,#dfdfff,#dfdfff,#e1e1ff,#e4e4ff,#e7e7ff,#e9e9ff,#ececff,#efefff,#f1f1ff,#f3f3ff,#f5f5ff,#f6f6ff,#f7f7ff,#f7f7ff,#f6f6ff,#f6f6ff,#f5f5ff,#f4f4ff,#f3f3ff,#f2f2ff,#f1f1ff,#f1f1ff,#f1f1ff,#f0f0ff,#f0f0ff,#f0f0ff,#f0f0ff,#f1f1ff,#f2f2ff,#f3f3ff,#f4f4ff,#f6f6ff,#f8f8ff,#f9f9ff,#fbfbff,#fcfcff,#fdfdff)"></i><i style="background:linear-gradient(90deg,#e5e5ff,#e2e2ff,#dfdfff,#dfdfff,#e0e0ff,#e2e2ff,#e4e4ff,#e7e7ff,#eaeaff,#ececff,#efefff,#f1f1ff,#f3f3ff,#f5f5ff,#f6f6ff,#f7f7ff,#f7f7ff,#f7f7ff,#f6f6ff,#f5f5ff,#f4f4ff,#f3f3ff,#f3f3ff,#f2f2ff,#f2f2ff,#f1f1ff,#f1f1ff,#f1f1ff,#f1f1ff,#f1f1ff,#f1f1ff,#f2f2ff,#f3f3ff,#f5f5ff,#f6f6ff,#f8f8ff,#f9f9ff,#fbfbff,#fcfcff,#fdfdff)"></i><i style="background:linear-gradient(90deg,#e5e5ff,#e2e2ff,#e0e0ff,#dfdfff,#e0e0ff,#e2e2ff,#e5e5ff,#e7e7ff,#eaeaff,#ededff,#efefff,#f2f2ff,#f4f4ff,#f6f6ff,#f7f7ff,#f8f8ff,#f8f8ff,#f7f7ff,#f7f7ff,#f6f6ff,#f5f5ff,#f4f4ff,#f3f3ff,#f3f3ff,#f2f2ff,#f2f2ff,#f2f2ff,#f2f2ff,#f1f1ff,#f2f2ff,#f2f2ff,#f3f3ff,#f4f4ff,#f5f5ff,#f7f7ff,#f8f8ff,#fafaff,#fbfbff,#fcfcff,#fdfdff)"></i><i style="background:linear-gradient(90deg,#e6e6ff,#e2e2ff,#e0e0ff,#e0e0ff,#e1e1ff,#e3e3ff,#e5e5ff,#e8e8ff,#eaeaff,#ededff,#efefff,#f2f2ff,#f4f4ff,#f6f6ff,#f7f7ff,#f8f8ff,#f8f8ff,#f8f8ff,#f7f7ff,#f6f6ff,#f5f5ff,#f5f5ff,#f4f4ff,#f3f3ff,#f3f3ff,#f3f3ff,#f2f2ff,#f2f2ff,#f2f2ff,#f2f2ff,#f3f3ff,#f3f3ff,#f4f4ff,#f6f6ff,#f7f7ff,#f9f9ff,#fafaff,#fbfbff,#fcfcff,#fdfdff)"></i><i style="background:linear-gradient(90deg,#e6e6ff,#e3e3ff,#e1e1ff,#e0e0ff,#e1e1ff,#e3e3ff,#e6e6ff,#e8e8ff,#ebebff,#ededff,#f0f0ff,#f2f2ff,#f4f4ff,#f6f6ff,#f7f7ff,#f8f8ff,#f8f8ff,#f8f8ff,#f8f8ff,#f7f7ff,#f6f6ff,#f5f5ff,#f4f4ff,#f4f4ff,#f4f4ff,#f3f3ff,#f3f3ff,#f3f3ff,#f3f3ff,#f3f3ff,#f3f3ff,#f4f4ff,#f5f5ff,#f6f6ff,#f7f7ff,#f9f9ff,#fafaff,#fbfbff,#fcfcff,#fdfdff)"></i><i style="background:linear-gradient(90deg,#e6e6ff,#e3e3ff,#e1e1ff,#e1e1ff,#e2e2ff,#e4e4ff,#e6e6ff,#e9e9ff,#ebebff,#eef,#f0f0ff,#f2f2ff,#f5f5ff,#f6f6ff,#f8f8ff,#f9f9ff,#f9f9ff,#f9f9ff,#f8f8ff,#f7f7ff,#f7f7ff,#f6f6ff,#f5f5ff,#f5f5ff,#f4f4ff,#f4f4ff,#f4f4ff,#f3f3ff,#f3f3ff,#f3f3ff,#f4f4ff,#f4f4ff,#f5f5ff,#f6f6ff,#f8f8ff,#f9f9ff,#fafaff,#fbfbff,#fcfcff,#fdfdff)"></i><i style="background:linear-gradient(90deg,#e7e7ff,#e4e4ff,#e2e2ff,#e2e2ff,#e2e2ff,#e4e4ff,#e7e7ff,#e9e9ff,#ececff,#eef,#f0f0ff,#f3f3ff,#f5f5ff,#f7f7ff,#f8f8ff,#f9f9ff,#f9f9ff,#f9f9ff,#f9f9ff,#f8f8ff,#f7f7ff,#f6f6ff,#f6f6ff,#f5f5ff,#f5f5ff,#f4f4ff,#f4f4ff,#f4f4ff,#f4f4ff,#f4f4ff,#f4f4ff,#f5f5ff,#f6f6ff,#f7f7ff,#f8f8ff,#f9f9ff,#fafaff,#fbfbff,#fcfcff,#fdfdff)"></i><i style="background:linear-gradient(90deg,#e7e7ff,#e4e4ff,#e2e2ff,#e2e2ff,#e3e3ff,#e5e5ff,#e7e7ff,#eaeaff,#ececff,#eef,#f1f1ff,#f3f3ff,#f5f5ff,#f7f7ff,#f8f8ff,#f9f9ff,#fafaff,#f9f9ff,#f9f9ff,#f8f8ff,#f8f8ff,#f7f7ff,#f6f6ff,#f6f6ff,#f5f5ff,#f5f5ff,#f5f5ff,#f5f5ff,#f4f4ff,#f5f5ff,#f5f5ff,#f5f5ff,#f6f6ff,#f7f7ff,#f8f8ff,#fafaff,#fbfbff,#fcfcff,#fcfcff,#fdfdff)"></i><i style="background:linear-gradient(90deg,#e8e8ff,#e5e5ff,#e3e3ff,#e3e3ff,#e4e4ff,#e5e5ff,#e8e8ff,#eaeaff,#ececff,#efefff,#f1f1ff,#f3f3ff,#f5f5ff,#f7f7ff,#f9f9ff,#f9f9ff,#fafaff,#fafaff,#f9f9ff,#f9f9ff,#f8f8ff,#f7f7ff,#f7f7ff,#f6f6ff,#f6f6ff,#f6f6ff,#f5f5ff,#f5f5ff,#f5f5ff,#f5f5ff,#f5f5ff,#f6f6ff,#f7f7ff,#f8f8ff,#f9f9ff,#fafaff,#fbfbff,#fcfcff,#fcfcff,#fdfdff)"></i><i style="background:linear-gradient(90deg,#e8e8ff,#e5e5ff,#e4e4ff,#e3e3ff,#e4e4ff,#e6e6ff,#e8e8ff,#ebebff,#ededff,#efefff,#f1f1ff,#f4f4ff,#f6f6ff,#f8f8ff,#f9f9ff,#fafaff,#fafaff,#fafaff,#fafaff,#f9f9ff,#f8f8ff,#f8f8ff,#f7f7ff,#f7f7ff,#f6f6ff,#f6f6ff,#f6f6ff,#f6f6ff,#f6f6ff,#f6f6ff,#f6f6ff,#f6f6ff,#f7f7ff,#f8f8ff,#f9f9ff,#fafaff,#fbfbff,#fcfcff,#fcfcff,#fdfdff)"></i><i style="background:linear-gradient(90deg,#e9e9ff,#e6e6ff,#e4e4ff,#e4e4ff,#e5e5ff,#e7e7ff,#e9e9ff,#ebebff,#ededff,#f0f0ff,#f2f2ff,#f4f4ff,#f6f6ff,#f8f8ff,#f9f9ff,#fafaff,#fafaff,#fafaff,#fafaff,#fafaff,#f9f9ff,#f8f8ff,#f8f8ff,#f7f7ff,#f7f7ff,#f7f7ff,#f6f6ff,#f6f6ff,#f6f6ff,#f6f6ff,#f6f6ff,#f7f7ff,#f7f7ff,#f8f8ff,#f9f9ff,#fafaff,#fbfbff,#fcfcff,#fcfcff,#fdfdff)"></i><i style="background:linear-gradient(90deg,#e9e9ff,#e6e6ff,#e5e5ff,#e5e5ff,#e6e6ff,#e7e7ff,#e9e9ff,#ececff,#eef,#f0f0ff,#f2f2ff,#f4f4ff,#f6f6ff,#f8f8ff,#f9f9ff,#fafaff,#fbfbff,#fbfbff,#fafaff,#fafaff,#f9f9ff,#f9f9ff,#f8f8ff,#f8f8ff,#f7f7ff,#f7f7ff,#f7f7ff,#f7f7ff,#f7f7ff,#f7f7ff,#f7f7ff,#f7f7ff,#f8f8ff,#f9f9ff,#f9f9ff,#fafaff,#fbfbff,#fcfcff,#fcfcff,#fdfdff)"></i><i style="background:linear-gradient(90deg,#eaeaff,#e7e7ff,#e6e6ff,#e6e6ff,#e6e6ff,#e8e8ff,#eaeaff,#ececff,#eef,#f0f0ff,#f3f3ff,#f5f5ff,#f7f7ff,#f8f8ff,#fafaff,#fbfbff,#fbfbff,#fbfbff,#fbfbff,#fafaff,#fafaff,#f9f9ff,#f9f9ff,#f8f8ff,#f8f8ff,#f8f8ff,#f7f7ff,#f7f7ff,#f7f7ff,#f7f7ff,#f7f7ff,#f8f8ff,#f8f8ff,#f9f9ff,#fafaff,#fafaff,#fbfbff,#fcfcff,#fcfcff,#fdfdff)"></i><i style="background:linear-gradient(90deg,#eaeaff,#e8e8ff,#e6e6ff,#e6e6ff,#e7e7ff,#e9e9ff,#ebebff,#ededff,#efefff,#f1f1ff,#f3f3ff,#f5f5ff,#f7f7ff,#f9f9ff,#fafaff,#fbfbff,#fbfbff,#fbfbff,#fbfbff,#fbfbff,#fafaff,#fafaff,#f9f9ff,#f9f9ff,#f8f8ff,#f8f8ff,#f8f8ff,#f8f8ff,#f8f8ff,#f8f8ff,#f8f8ff,#f8f8ff,#f9f9ff,#f9f9ff,#fafaff,#fafaff,#fbfbff,#fcfcff,#fcfcff,#fdfdff)"></i><i style="background:linear-gradient(90deg,#ebebff,#e8e8ff,#e7e7ff,#e7e7ff,#e8e8ff,#e9e9ff,#ebebff,#ededff,#efefff,#f1f1ff,#f3f3ff,#f5f5ff,#f7f7ff,#f9f9ff,#fafaff,#fbfbff,#fbfbff,#fcfcff,#fbfbff,#fbfbff,#fafaff,#fafaff,#f9f9ff,#f9f9ff,#f9f9ff,#f9f9ff,#f8f8ff,#f8f8ff,#f8f8ff,#f8f8ff,#f8f8ff,#f8f8ff,#f9f9ff,#f9f9ff,#fafaff,#fafaff,#fbfbff,#fcfcff,#fcfcff,#fdfdff)"></i><i style="background:linear-gradient(90deg,#ebebff,#e9e9ff,#e8e8ff,#e8e8ff,#e9e9ff,#eaeaff,#ececff,#eef,#f0f0ff,#f2f2ff,#f4f4ff,#f6f6ff,#f7f7ff,#f9f9ff,#fafaff,#fbfbff,#fcfcff,#fcfcff,#fcfcff,#fbfbff,#fbfbff,#fafaff,#fafaff,#fafaff,#f9f9ff,#f9f9ff,#f9f9ff,#f9f9ff,#f9f9ff,#f8f8ff,#f9f9ff,#f9f9ff,#f9f9ff,#fafaff,#fafaff,#fbfbff,#fbfbff,#fcfcff,#fcfcff,#fdfdff)"></i><i style="background:linear-gradient(90deg,#ececff,#eaeaff,#e9e9ff,#e9e9ff,#e9e9ff,#ebebff,#ededff,#efefff,#f0f0ff,#f2f2ff,#f4f4ff,#f6f6ff,#f8f8ff,#f9f9ff,#fbfbff,#fbfbff,#fcfcff,#fcfcff,#fcfcff,#fcfcff,#fbfbff,#fbfbff,#fafaff,#fafaff,#fafaff,#f9f9ff,#f9f9ff,#f9f9ff,#f9f9ff,#f9f9ff,#f9f9ff,#f9f9ff,#f9f9ff,#fafaff,#fafaff,#fbfbff,#fbfbff,#fbfbff,#fcfcff,#fcfcff)"></i><i style="background:linear-gradient(90deg,#ececff,#eaeaff,#e9e9ff,#e9e9ff,#eaeaff,#ececff,#ededff,#efefff,#f1f1ff,#f3f3ff,#f4f4ff,#f6f6ff,#f8f8ff,#fafaff,#fbfbff,#fcfcff,#fcfcff,#fcfcff,#fcfcff,#fcfcff,#fbfbff,#fbfbff,#fbfbff,#fafaff,#fafaff,#fafaff,#fafaff,#f9f9ff,#f9f9ff,#f9f9ff,#f9f9ff,#f9f9ff,#fafaff,#fafaff,#fafaff,#fbfbff,#fbfbff,#fbfbff,#fcfcff,#fcfcff)"></i><i style="background:linear-gradient(90deg,#ededff,#ebebff,#eaeaff,#eaeaff,#ebebff,#ececff,#eef,#f0f0ff,#f1f1ff,#f3f3ff,#f5f5ff,#f7f7ff,#f8f8ff,#fafaff,#fbfbff,#fcfcff,#fcfcff,#fcfcff,#fcfcff,#fcfcff,#fcfcff,#fbfbff,#fbfbff,#fbfbff,#fafaff,#fafaff,#fafaff,#fafaff,#fafaff,#fafaff,#fafaff,#fafaff,#fafaff,#fafaff,#fafaff,#fbfbff,#fbfbff,#fbfbff,#fcfcff,#fcfcff)"></i><i style="background:linear-gradient(90deg,#eef,#ececff,#ebebff,#ebebff,#ececff,#ededff,#efefff,#f0f0ff,#f2f2ff,#f4f4ff,#f5f5ff,#f7f7ff,#f9f9ff,#fafaff,#fbfbff,#fcfcff,#fcfcff,#fdfdff,#fdfdff,#fcfcff,#fcfcff,#fcfcff,#fbfbff,#fbfbff,#fbfbff,#fbfbff,#fafaff,#fafaff,#fafaff,#fafaff,#fafaff,#fafaff,#fafaff,#fafaff,#fafaff,#fbfbff,#fbfbff,#fbfbff,#fcfcff,#fcfcff)"></i><i style="background:linear-gradient(90deg,#eef,#ececff,#ececff,#ececff,#ececff,#eef,#efefff,#f1f1ff,#f2f2ff,#f4f4ff,#f6f6ff,#f7f7ff,#f9f9ff,#fafaff,#fbfbff,#fcfcff,#fdfdff,#fdfdff,#fdfdff,#fcfcff,#fcfcff,#fcfcff,#fcfcff,#fbfbff,#fbfbff,#fbfbff,#fbfbff,#fbfbff,#fafaff,#fafaff,#fafaff,#fafaff,#fafaff,#fafaff,#fafaff,#fafaff,#fbfbff,#fbfbff,#fbfbff,#fcfcff)"></i><i style="background:linear-gradient(90deg,#efefff,#ededff,#ececff,#ececff,#ededff,#eef,#f0f0ff,#f1f1ff,#f3f3ff,#f4f4ff,#f6f6ff,#f8f8ff,#f9f9ff,#fafaff,#fcfcff,#fcfcff,#fdfdff,#fdfdff,#fdfdff,#fdfdff,#fcfcff,#fcfcff,#fcfcff,#fcfcff,#fbfbff,#fbfbff,#fbfbff,#fbfbff,#fbfbff,#fbfbff,#fafaff,#fafaff,#fafaff,#fafaff,#fafaff,#fafaff,#fbfbff,#fbfbff,#fbfbff,#fcfcff)"></i><i style="background:linear-gradient(90deg,#f0f0ff,#eef,#ededff,#ededff,#eef,#efefff,#f1f1ff,#f2f2ff,#f3f3ff,#f5f5ff,#f6f6ff,#f8f8ff,#f9f9ff,#fbfbff,#fcfcff,#fdfdff,#fdfdff,#fdfdff,#fdfdff,#fdfdff,#fdfdff,#fcfcff,#fcfcff,#fcfcff,#fcfcff,#fbfbff,#fbfbff,#fbfbff,#fbfbff,#fbfbff,#fbfbff,#fbfbff,#fafaff,#fafaff,#fafaff,#fafaff,#fafaff,#fbfbff,#fbfbff,#fbfbff)"></i><i style="background:linear-gradient(90deg,#f0f0ff,#efefff,#eef,#eef,#efefff,#f0f0ff,#f1f1ff,#f3f3ff,#f4f4ff,#f5f5ff,#f7f7ff,#f8f8ff,#fafaff,#fbfbff,#fcfcff,#fdfdff,#fdfdff,#fdfdff,#fdfdff,#fdfdff,#fdfdff,#fdfdff,#fcfcff,#fcfcff,#fcfcff,#fcfcff,#fcfcff,#fbfbff,#fbfbff,#fbfbff,#fbfbff,#fbfbff,#fbfbff,#fafaff,#fafaff,#fafaff,#fafaff,#fafaff,#fbfbff,#fbfbff)"></i><i style="background:linear-gradient(90deg,#f1f1ff,#efefff,#efefff,#efefff,#efefff,#f1f1ff,#f2f2ff,#f3f3ff,#f4f4ff,#f6f6ff,#f7f7ff,#f9f9ff,#fafaff,#fbfbff,#fcfcff,#fdfdff,#fdfdff,#fdfdff,#fdfdff,#fdfdff,#fdfdff,#fdfdff,#fdfdff,#fcfcff,#fcfcff,#fcfcff,#fcfcff,#fcfcff,#fcfcff,#fbfbff,#fbfbff,#fbfbff,#fbfbff,#fafaff,#fafaff,#fafaff,#fafaff,#fafaff,#fafaff,#fbfbff)"></i><i style="background:linear-gradient(90deg,#f1f1ff,#f0f0ff,#efefff,#efefff,#f0f0ff,#f1f1ff,#f2f2ff,#f4f4ff,#f5f5ff,#f6f6ff,#f8f8ff,#f9f9ff,#fafaff,#fbfbff,#fcfcff,#fdfdff,#fdfdff,#fefeff,#fefeff,#fdfdff,#fdfdff,#fdfdff,#fdfdff,#fdfdff,#fcfcff,#fcfcff,#fcfcff,#fcfcff,#fcfcff,#fcfcff,#fbfbff,#fbfbff,#fbfbff,#fafaff,#fafaff,#fafaff,#fafaff,#fafaff,#fafaff,#fbfbff)"></i><i style="background:linear-gradient(90deg,#f2f2ff,#f1f1ff,#f0f0ff,#f0f0ff,#f1f1ff,#f2f2ff,#f3f3ff,#f4f4ff,#f5f5ff,#f7f7ff,#f8f8ff,#f9f9ff,#fafaff,#fcfcff,#fcfcff,#fdfdff,#fdfdff,#fefeff,#fefeff,#fefeff,#fdfdff,#fdfdff,#fdfdff,#fdfdff,#fdfdff,#fcfcff,#fcfcff,#fcfcff,#fcfcff,#fcfcff,#fbfbff,#fbfbff,#fbfbff,#fafaff,#fafaff,#fafaff,#f9f9ff,#fafaff,#fafaff,#fafaff)"></i><i style="background:linear-gradient(90deg,#f3f3ff,#f1f1ff,#f1f1ff,#f1f1ff,#f2f2ff,#f3f3ff,#f4f4ff,#f5f5ff,#f6f6ff,#f7f7ff,#f8f8ff,#f9f9ff,#fbfbff,#fcfcff,#fdfdff,#fdfdff,#fefeff,#fefeff,#fefeff,#fefeff,#fdfdff,#fdfdff,#fdfdff,#fdfdff,#fdfdff,#fdfdff,#fdfdff,#fcfcff,#fcfcff,#fcfcff,#fcfcff,#fbfbff,#fbfbff,#fafaff,#fafaff,#f9f9ff,#f9f9ff,#f9f9ff,#fafaff,#fafaff)"></i><i style="background:linear-gradient(90deg,#f3f3ff,#f2f2ff,#f1f1ff,#f2f2ff,#f2f2ff,#f3f3ff,#f4f4ff,#f5f5ff,#f6f6ff,#f8f8ff,#f9f9ff,#fafaff,#fbfbff,#fcfcff,#fdfdff,#fdfdff,#fefeff,#fefeff,#fefeff,#fefeff,#fefeff,#fdfdff,#fdfdff,#fdfdff,#fdfdff,#fdfdff,#fdfdff,#fdfdff,#fcfcff,#fcfcff,#fcfcff,#fbfbff,#fbfbff,#fafaff,#fafaff,#f9f9ff,#f9f9ff,#f9f9ff,#f9f9ff,#fafaff)"></i><i style="background:linear-gradient(90deg,#f4f4ff,#f3f3ff,#f2f2ff,#f2f2ff,#f3f3ff,#f4f4ff,#f5f5ff,#f6f6ff,#f7f7ff,#f8f8ff,#f9f9ff,#fafaff,#fbfbff,#fcfcff,#fdfdff,#fdfdff,#fefeff,#fefeff,#fefeff,#fefeff,#fefeff,#fefeff,#fdfdff,#fdfdff,#fdfdff,#fdfdff,#fdfdff,#fdfdff,#fcfcff,#fcfcff,#fcfcff,#fbfbff,#fbfbff,#fafaff,#f9f9ff,#f9f9ff,#f9f9ff,#f9f9ff,#f9f9ff,#fafaff)"></i><i style="background:linear-gradient(90deg,#f4f4ff,#f3f3ff,#f3f3ff,#f3f3ff,#f4f4ff,#f4f4ff,#f5f5ff,#f6f6ff,#f7f7ff,#f8f8ff,#f9f9ff,#fafaff,#fbfbff,#fcfcff,#fdfdff,#fefeff,#fefeff,#fefeff,#fefeff,#fefeff,#fefeff,#fefeff,#fefeff,#fdfdff,#fdfdff,#fdfdff,#fdfdff,#fdfdff,#fdfdff,#fcfcff,#fcfcff,#fbfbff,#fbfbff,#fafaff,#f9f9ff,#f9f9ff,#f8f8ff,#f8f8ff,#f9f9ff,#f9f9ff)"></i><i style="background:linear-gradient(90deg,#f5f5ff,#f4f4ff,#f3f3ff,#f4f4ff,#f4f4ff,#f5f5ff,#f6f6ff,#f7f7ff,#f8f8ff,#f9f9ff,#fafaff,#fbfbff,#fcfcff,#fcfcff,#fdfdff,#fefeff,#fefeff,#fefeff,#fefeff,#fefeff,#fefeff,#fefeff,#fefeff,#fefeff,#fdfdff,#fdfdff,#fdfdff,#fdfdff,#fdfdff,#fcfcff,#fcfcff,#fbfbff,#fbfbff,#fafaff,#f9f9ff,#f8f8ff,#f8f8ff,#f8f8ff,#f8f8ff,#f9f9ff)"></i><i style="background:linear-gradient(90deg,#f5f5ff,#f4f4ff,#f4f4ff,#f4f4ff,#f5f5ff,#f6f6ff,#f6f6ff,#f7f7ff,#f8f8ff,#f9f9ff,#fafaff,#fbfbff,#fcfcff,#fdfdff,#fdfdff,#fefeff,#fefeff,#fefeff,#fefeff,#fefeff,#fefeff,#fefeff,#fefeff,#fefeff,#fefeff,#fefeff,#fdfdff,#fdfdff,#fdfdff,#fcfcff,#fcfcff,#fbfbff,#fafaff,#fafaff,#f9f9ff,#f8f8ff,#f7f7ff,#f7f7ff,#f8f8ff,#f9f9ff)"></i><i style="background:linear-gradient(90deg,#f6f6ff,#f5f5ff,#f5f5ff,#f5f5ff,#f5f5ff,#f6f6ff,#f7f7ff,#f8f8ff,#f9f9ff,#f9f9ff,#fafaff,#fbfbff,#fcfcff,#fdfdff,#fdfdff,#fefeff,#fefeff,#fefeff,#fefeff,#fefeff,#fefeff,#fefeff,#fefeff,#fefeff,#fefeff,#fefeff,#fefeff,#fdfdff,#fdfdff,#fdfdff,#fcfcff,#fbfbff,#fafaff,#f9f9ff,#f8f8ff,#f8f8ff,#f7f7ff,#f7f7ff,#f7f7ff,#f8f8ff)"></i><i style="background:linear-gradient(90deg,#f6f6ff,#f6f6ff,#f5f5ff,#f5f5ff,#f6f6ff,#f7f7ff,#f7f7ff,#f8f8ff,#f9f9ff,#fafaff,#fbfbff,#fbfbff,#fcfcff,#fdfdff,#fdfdff,#fefeff,#fefeff,#fefeff,#fefeff,#fefeff,#fefeff,#fefeff,#fefeff,#fefeff,#fefeff,#fefeff,#fefeff,#fdfdff,#fdfdff,#fdfdff,#fcfcff,#fbfbff,#fafaff,#f9f9ff,#f8f8ff,#f7f7ff,#f7f7ff,#f7f7ff,#f7f7ff,#f8f8ff)"></i><i style="background:linear-gradient(90deg,#f7f7ff,#f6f6ff,#f6f6ff,#f6f6ff,#f7f7ff,#f7f7ff,#f8f8ff,#f9f9ff,#f9f9ff,#fafaff,#fbfbff,#fcfcff,#fcfcff,#fdfdff,#fefeff,#fefeff,#fefeff,#fefeff,#fefeff,#fefeff,#fefeff,#fefeff,#fefeff,#fefeff,#fefeff,#fefeff,#fefeff,#fdfdff,#fdfdff,#fdfdff,#fcfcff,#fbfbff,#fafaff,#f9f9ff,#f8f8ff,#f7f7ff,#f6f6ff,#f6f6ff,#f7f7ff,#f7f7ff)"></i><i style="background:linear-gradient(90deg,#f7f7ff,#f7f7ff,#f6f6ff,#f7f7ff,#f7f7ff,#f8f8ff,#f8f8ff,#f9f9ff,#fafaff,#fafaff,#fbfbff,#fcfcff,#fcfcff,#fdfdff,#fefeff,#fefeff,#fefeff,#fefeff,#fefeff,#fefeff,#fefeff,#fefeff,#fefeff,#fefeff,#fefeff,#fefeff,#fefeff,#fefeff,#fdfdff,#fdfdff,#fcfcff,#fbfbff,#fafaff,#f9f9ff,#f7f7ff,#f6f6ff,#f6f6ff,#f6f6ff,#f6f6ff,#f7f7ff)"></i><i style="background:linear-gradient(90deg,#f8f8ff,#f7f7ff,#f7f7ff,#f7f7ff,#f8f8ff,#f8f8ff,#f9f9ff,#f9f9ff,#fafaff,#fbfbff,#fbfbff,#fcfcff,#fdfdff,#fdfdff,#fefeff,#fefeff,#fefeff,#fefeff,#fff,#fff,#fefeff,#fefeff,#fefeff,#fefeff,#fefeff,#fefeff,#fefeff,#fefeff,#fdfdff,#fdfdff,#fcfcff,#fbfbff,#fafaff,#f8f8ff,#f7f7ff,#f6f6ff,#f5f5ff,#f5f5ff,#f6f6ff,#f7f7ff)"></i><i style="background:linear-gradient(90deg,#f8f8ff,#f8f8ff,#f7f7ff,#f8f8ff,#f8f8ff,#f9f9ff,#f9f9ff,#fafaff,#fafaff,#fbfbff,#fcfcff,#fcfcff,#fdfdff,#fdfdff,#fefeff,#fefeff,#fefeff,#fff,#fff,#fff,#fff,#fefeff,#fefeff,#fefeff,#fefeff,#fefeff,#fefeff,#fefeff,#fdfdff,#fdfdff,#fcfcff,#fbfbff,#f9f9ff,#f8f8ff,#f7f7ff,#f6f6ff,#f5f5ff,#f5f5ff,#f5f5ff,#f6f6ff)"></i><i style="background:linear-gradient(90deg,#f9f9ff,#f8f8ff,#f8f8ff,#f8f8ff,#f8f8ff,#f9f9ff,#fafaff,#fafaff,#fbfbff,#fbfbff,#fcfcff,#fcfcff,#fdfdff,#fefeff,#fefeff,#fefeff,#fefeff,#fff,#fff,#fff,#fff,#fff,#fefeff,#fefeff,#fefeff,#fefeff,#fefeff,#fefeff,#fdfdff,#fdfdff,#fcfcff,#fbfbff,#f9f9ff,#f8f8ff,#f6f6ff,#f5f5ff,#f4f4ff,#f4f4ff,#f5f5ff,#f6f6ff)"></i><i style="background:linear-gradient(90deg,#f9f9ff,#f9f9ff,#f8f8ff,#f9f9ff,#f9f9ff,#f9f9ff,#fafaff,#fbfbff,#fbfbff,#fcfcff,#fcfcff,#fdfdff,#fdfdff,#fefeff,#fefeff,#fefeff,#fff,#fff,#fff,#fff,#fff,#fff,#fff,#fefeff,#fefeff,#fefeff,#fefeff,#fefeff,#fdfdff,#fdfdff,#fcfcff,#fbfbff,#f9f9ff,#f7f7ff,#f6f6ff,#f5f5ff,#f4f4ff,#f4f4ff,#f4f4ff,#f5f5ff)"></i><i style="background:linear-gradient(90deg,#fafaff,#f9f9ff,#f9f9ff,#f9f9ff,#f9f9ff,#fafaff,#fafaff,#fbfbff,#fbfbff,#fcfcff,#fcfcff,#fdfdff,#fdfdff,#fefeff,#fefeff,#fefeff,#fff,#fff,#fff,#fff,#fff,#fff,#fff,#fff,#fefeff,#fefeff,#fefeff,#fefeff,#fdfdff,#fdfdff,#fcfcff,#fafaff,#f9f9ff,#f7f7ff,#f5f5ff,#f4f4ff,#f3f3ff,#f3f3ff,#f4f4ff,#f5f5ff)"></i><i style="background:linear-gradient(90deg,#fafaff,#f9f9ff,#f9f9ff,#f9f9ff,#fafaff,#fafaff,#fbfbff,#fbfbff,#fcfcff,#fcfcff,#fcfcff,#fdfdff,#fdfdff,#fefeff,#fefeff,#fefeff,#fff,#fff,#fff,#fff,#fff,#fff,#fff,#fff,#fefeff,#fefeff,#fefeff,#fefeff,#fdfdff,#fdfdff,#fcfcff,#fafaff,#f9f9ff,#f7f7ff,#f5f5ff,#f4f4ff,#f3f3ff,#f3f3ff,#f3f3ff,#f5f5ff)"></i><i style="background:linear-gradient(90deg,#fafaff,#fafaff,#fafaff,#fafaff,#fafaff,#fbfbff,#fbfbff,#fbfbff,#fcfcff,#fcfcff,#fdfdff,#fdfdff,#fefeff,#fefeff,#fefeff,#fefeff,#fff,#fff,#fff,#fff,#fff,#fff,#fff,#fff,#fff,#fefeff,#fefeff,#fefeff,#fdfdff,#fdfdff,#fbfbff,#fafaff,#f8f8ff,#f6f6ff,#f5f5ff,#f3f3ff,#f2f2ff,#f2f2ff,#f3f3ff,#f4f4ff)"></i><i style="background:linear-gradient(90deg,#fbfbff,#fafaff,#fafaff,#fafaff,#fbfbff,#fbfbff,#fbfbff,#fcfcff,#fcfcff,#fcfcff,#fdfdff,#fdfdff,#fefeff,#fefeff,#fefeff,#fff,#fff,#fff,#fff,#fff,#fff,#fff,#fff,#fff,#fff,#fefeff,#fefeff,#fefeff,#fdfdff,#fdfdff,#fbfbff,#fafaff,#f8f8ff,#f6f6ff,#f4f4ff,#f3f3ff,#f2f2ff,#f2f2ff,#f2f2ff,#f4f4ff)"></i><i style="background:linear-gradient(90deg,#fbfbff,#fbfbff,#fafaff,#fbfbff,#fbfbff,#fbfbff,#fcfcff,#fcfcff,#fcfcff,#fdfdff,#fdfdff,#fdfdff,#fefeff,#fefeff,#fefeff,#fff,#fff,#fff,#fff,#fff,#fff,#fff,#fff,#fff,#fff,#fefeff,#fefeff,#fefeff,#fdfdff,#fdfdff,#fbfbff,#fafaff,#f8f8ff,#f6f6ff,#f4f4ff,#f2f2ff,#f1f1ff,#f1f1ff,#f2f2ff,#f3f3ff)"></i><i style="background:linear-gradient(90deg,#fbfbff,#fbfbff,#fbfbff,#fbfbff,#fbfbff,#fcfcff,#fcfcff,#fcfcff,#fdfdff,#fdfdff,#fdfdff,#fefeff,#fefeff,#fefeff,#fefeff,#fff,#fff,#fff,#fff,#fff,#fff,#fff,#fff,#fff,#fff,#fff,#fefeff,#fefeff,#fdfdff,#fcfcff,#fbfbff,#fafaff,#f8f8ff,#f5f5ff,#f3f3ff,#f2f2ff,#f1f1ff,#f1f1ff,#f1f1ff,#f3f3ff)"></i><i style="background:linear-gradient(90deg,#fbfbff,#fbfbff,#fbfbff,#fbfbff,#fbfbff,#fcfcff,#fcfcff,#fcfcff,#fdfdff,#fdfdff,#fdfdff,#fefeff,#fefeff,#fefeff,#fefeff,#fff,#fff,#fff,#fff,#fff,#fff,#fff,#fff,#fff,#fff,#fff,#fefeff,#fefeff,#fdfdff,#fcfcff,#fbfbff,#f9f9ff,#f7f7ff,#f5f5ff,#f3f3ff,#f1f1ff,#f0f0ff,#f0f0ff,#f1f1ff,#f2f2ff)"></i><i style="background:linear-gradient(90deg,#fcfcff,#fbfbff,#fbfbff,#fcfcff,#fcfcff,#fcfcff,#fcfcff,#fdfdff,#fdfdff,#fdfdff,#fdfdff,#fefeff,#fefeff,#fefeff,#fff,#fff,#fff,#fff,#fff,#fff,#fff,#fff,#fff,#fff,#fff,#fff,#fefeff,#fefeff,#fdfdff,#fcfcff,#fbfbff,#f9f9ff,#f7f7ff,#f5f5ff,#f3f3ff,#f1f1ff,#f0f0ff,#f0f0ff,#f0f0ff,#f2f2ff)"></i><i style="background:linear-gradient(90deg,#fcfcff,#fcfcff,#fcfcff,#fcfcff,#fcfcff,#fcfcff,#fdfdff,#fdfdff,#fdfdff,#fdfdff,#fefeff,#fefeff,#fefeff,#fefeff,#fff,#fff,#fff,#fff,#fff,#fff,#fff,#fff,#fff,#fff,#fff,#fff,#fefeff,#fefeff,#fdfdff,#fcfcff,#fbfbff,#f9f9ff,#f7f7ff,#f4f4ff,#f2f2ff,#f0f0ff,#efefff,#efefff,#f0f0ff,#f2f2ff)"></i><i style="background:linear-gradient(90deg,#fcfcff,#fcfcff,#fcfcff,#fcfcff,#fcfcff,#fdfdff,#fdfdff,#fdfdff,#fdfdff,#fdfdff,#fefeff,#fefeff,#fefeff,#fefeff,#fff,#fff,#fff,#fff,#fff,#fff,#fff,#fff,#fff,#fff,#fff,#fff,#fefeff,#fefeff,#fdfdff,#fcfcff,#fbfbff,#f9f9ff,#f6f6ff,#f4f4ff,#f2f2ff,#f0f0ff,#efefff,#efefff,#f0f0ff,#f1f1ff)"></i><i style="background:linear-gradient(90deg,#fcfcff,#fcfcff,#fcfcff,#fcfcff,#fcfcff,#fdfdff,#fdfdff,#fdfdff,#fdfdff,#fefeff,#fefeff,#fefeff,#fefeff,#fefeff,#fff,#fff,#fff,#fff,#fff,#fff,#fff,#fff,#fff,#fff,#fff,#fff,#fefeff,#fefeff,#fdfdff,#fcfcff,#fbfbff,#f9f9ff,#f6f6ff,#f4f4ff,#f1f1ff,#efefff,#eef,#eef,#efefff,#f1f1ff)"></i><i style="background:linear-gradient(90deg,#fdfdff,#fdfdff,#fcfcff,#fdfdff,#fdfdff,#fdfdff,#fdfdff,#fdfdff,#fefeff,#fefeff,#fefeff,#fefeff,#fefeff,#fff,#fff,#fff,#fff,#fff,#fff,#fff,#fff,#fff,#fff,#fff,#fff,#fff,#fefeff,#fefeff,#fdfdff,#fcfcff,#fafaff,#f8f8ff,#f6f6ff,#f3f3ff,#f1f1ff,#efefff,#eef,#eef,#efefff,#f1f1ff)"></i><i style="background:linear-gradient(90deg,#fdfdff,#fdfdff,#fdfdff,#fdfdff,#fdfdff,#fdfdff,#fdfdff,#fefeff,#fefeff,#fefeff,#fefeff,#fefeff,#fefeff,#fff,#fff,#fff,#fff,#fff,#fff,#fff,#fff,#fff,#fff,#fff,#fff,#fff,#fefeff,#fefeff,#fdfdff,#fcfcff,#fafaff,#f8f8ff,#f6f6ff,#f3f3ff,#f0f0ff,#eef,#ededff,#ededff,#eef,#f0f0ff)"></i><i style="background:linear-gradient(90deg,#fdfdff,#fdfdff,#fdfdff,#fdfdff,#fdfdff,#fdfdff,#fdfdff,#fefeff,#fefeff,#fefeff,#fefeff,#fefeff,#fefeff,#fff,#fff,#fff,#fff,#fff,#fff,#fff,#fff,#fff,#fff,#fff,#fff,#fff,#fefeff,#fefeff,#fdfdff,#fcfcff,#fafaff,#f8f8ff,#f5f5ff,#f3f3ff,#f0f0ff,#eef,#ededff,#ededff,#eef,#f0f0ff)"></i><i style="background:linear-gradient(90deg,#fdfdff,#fdfdff,#fdfdff,#fdfdff,#fdfdff,#fdfdff,#fefeff,#fefeff,#fefeff,#fefeff,#fefeff,#fefeff,#fff,#fff,#fff,#fff,#fff,#fff,#fff,#fff,#fff,#fff,#fff,#fff,#fff,#fff,#fefeff,#fefeff,#fdfdff,#fcfcff,#fafaff,#f8f8ff,#f5f5ff,#f2f2ff,#f0f0ff,#eef,#ededff,#ededff,#eef,#f0f0ff)"></i><i style="background:linear-gradient(90deg,#fdfdff,#fdfdff,#fdfdff,#fdfdff,#fdfdff,#fefeff,#fefeff,#fefeff,#fefeff,#fefeff,#fefeff,#fefeff,#fff,#fff,#fff,#fff,#fff,#fff,#fff,#fff,#fff,#fff,#fff,#fff,#fff,#fff,#fefeff,#fefeff,#fdfdff,#fcfcff,#fafaff,#f8f8ff,#f5f5ff,#f2f2ff,#efefff,#ededff,#ececff,#ececff,#ededff,#efefff)"></i><i style="background:linear-gradient(90deg,#fefeff,#fdfdff,#fdfdff,#fdfdff,#fefeff,#fefeff,#fefeff,#fefeff,#fefeff,#fefeff,#fefeff,#fefeff,#fff,#fff,#fff,#fff,#fff,#fff,#fff,#fff,#fff,#fff,#fff,#fff,#fff,#fff,#fefeff,#fefeff,#fdfdff,#fcfcff,#fafaff,#f7f7ff,#f5f5ff,#f2f2ff,#efefff,#ededff,#ececff,#ececff,#ededff,#efefff)"></i><i style="background:linear-gradient(90deg,#fefeff,#fefeff,#fefeff,#fefeff,#fefeff,#fefeff,#fefeff,#fefeff,#fefeff,#fefeff,#fefeff,#fff,#fff,#fff,#fff,#fff,#fff,#fff,#fff,#fff,#fff,#fff,#fff,#fff,#fff,#fff,#fefeff,#fefeff,#fdfdff,#fcfcff,#fafaff,#f7f7ff,#f4f4ff,#f1f1ff,#efefff,#ededff,#ebebff,#ebebff,#ededff,#efefff)"></i><i style="background:linear-gradient(90deg,#fefeff,#fefeff,#fefeff,#fefeff,#fefeff,#fefeff,#fefeff,#fefeff,#fefeff,#fefeff,#fefeff,#fff,#fff,#fff,#fff,#fff,#fff,#fff,#fff,#fff,#fff,#fff,#fff,#fff,#fff,#fff,#fefeff,#fefeff,#fdfdff,#fbfbff,#fafaff,#f7f7ff,#f4f4ff,#f1f1ff,#eef,#ececff,#ebebff,#ebebff,#ececff,#efefff)"></i><i style="background:linear-gradient(90deg,#fefeff,#fefeff,#fefeff,#fefeff,#fefeff,#fefeff,#fefeff,#fefeff,#fefeff,#fefeff,#fff,#fff,#fff,#fff,#fff,#fff,#fff,#fff,#fff,#fff,#fff,#fff,#fff,#fff,#fff,#fff,#fefeff,#fefeff,#fdfdff,#fbfbff,#f9f9ff,#f7f7ff,#f4f4ff,#f1f1ff,#eef,#ececff,#ebebff,#ebebff,#ececff,#eef)"></i><i style="background:linear-gradient(90deg,#fefeff,#fefeff,#fefeff,#fefeff,#fefeff,#fefeff,#fefeff,#fefeff,#fefeff,#fff,#fff,#fff,#fff,#fff,#fff,#fff,#fff,#fff,#fff,#fff,#fff,#fff,#fff,#fff,#fff,#fff,#fefeff,#fefeff,#fdfdff,#fbfbff,#f9f9ff,#f7f7ff,#f4f4ff,#f1f1ff,#eef,#ececff,#ebebff,#ebebff,#ececff,#eef)"></i><i style="background:linear-gradient(90deg,#fefeff,#fefeff,#fefeff,#fefeff,#fefeff,#fefeff,#fefeff,#fefeff,#fefeff,#fff,#fff,#fff,#fff,#fff,#fff,#fff,#fff,#fff,#fff,#fff,#fff,#fff,#fff,#fff,#fff,#fff,#fefeff,#fefeff,#fdfdff,#fbfbff,#f9f9ff,#f7f7ff,#f4f4ff,#f1f1ff,#eef,#ebebff,#eaeaff,#ebebff,#ececff,#eef)"></i><i style="background:linear-gradient(90deg,#fefeff,#fefeff,#fefeff,#fefeff,#fefeff,#fefeff,#fefeff,#fefeff,#fff,#fff,#fff,#fff,#fff,#fff,#fff,#fff,#fff,#fff,#fff,#fff,#fff,#fff,#fff,#fff,#fff,#fff,#fefeff,#fefeff,#fdfdff,#fbfbff,#f9f9ff,#f7f7ff,#f4f4ff,#f0f0ff,#ededff,#ebebff,#eaeaff,#eaeaff,#ececff,#eef)"></i><i style="background:linear-gradient(90deg,#fefeff,#fefeff,#fefeff,#fefeff,#fefeff,#fefeff,#fefeff,#fff,#fff,#fff,#fff,#fff,#fff,#fff,#fff,#fff,#fff,#fff,#fff,#fff,#fff,#fff,#fff,#fff,#fff,#fff,#fefeff,#fefeff,#fdfdff,#fbfbff,#f9f9ff,#f6f6ff,#f3f3ff,#f0f0ff,#ededff,#ebebff,#eaeaff,#eaeaff,#ececff,#eef)"></i><i style="background:linear-gradient(90deg,#fefeff,#fefeff,#fefeff,#fefeff,#fefeff,#fefeff,#fff,#fff,#fff,#fff,#fff,#fff,#fff,#fff,#fff,#fff,#fff,#fff,#fff,#fff,#fff,#fff,#fff,#fff,#fff,#fff,#fefeff,#fefeff,#fdfdff,#fbfbff,#f9f9ff,#f6f6ff,#f3f3ff,#f0f0ff,#ededff,#ebebff,#eaeaff,#eaeaff,#ececff,#eef)"></i><i style="background:linear-gradient(90deg,#fefeff,#fefeff,#fefeff,#fefeff,#fefeff,#fff,#fff,#fff,#fff,#fff,#fff,#fff,#fff,#fff,#fff,#fff,#fff,#fff,#fff,#fff,#fff,#fff,#fff,#fff,#fff,#fff,#fefeff,#fefeff,#fdfdff,#fbfbff,#f9f9ff,#f6f6ff,#f3f3ff,#f0f0ff,#ededff,#ebebff,#eaeaff,#eaeaff,#ececff,#eef)"></i><i style="background:linear-gradient(90deg,#fefeff,#fefeff,#fefeff,#fefeff,#fff,#fff,#fff,#fff,#fff,#fff,#fff,#fff,#fff,#fff,#fff,#fff,#fff,#fff,#fff,#fff,#fff,#fff,#fff,#fff,#fff,#fff,#fefeff,#fefeff,#fdfdff,#fbfbff,#f9f9ff,#f6f6ff,#f3f3ff,#f0f0ff,#ededff,#ebebff,#eaeaff,#eaeaff,#ececff,#eef)"></i><i style="background:linear-gradient(90deg,#fff,#fff,#fff,#fff,#fff,#fff,#fff,#fff,#fff,#fff,#fff,#fff,#fff,#fff,#fff,#fff,#fff,#fff,#fff,#fff,#fff,#fff,#fff,#fff,#fff,#fff,#fefeff,#fefeff,#fdfdff,#fbfbff,#f9f9ff,#f6f6ff,#f3f3ff,#f0f0ff,#ededff,#ebebff,#eaeaff,#eaeaff,#ececff,#eef)"></i><i style="background:linear-gradient(90deg,#fff,#fff,#fff,#fff,#fff,#fff,#fff,#fff,#fff,#fff,#fff,#fff,#fff,#fff,#fff,#fff,#fff,#fff,#fff,#fff,#fff,#fff,#fff,#fff,#fff,#fff,#fefeff,#fefeff,#fdfdff,#fbfbff,#f9f9ff,#f6f6ff,#f3f3ff,#f0f0ff,#ededff,#ebebff,#eaeaff,#eaeaff,#ececff,#eef)"></i><i style="background:linear-gradient(90deg,#fff,#fff,#fff,#fff,#fff,#fff,#fff,#fff,#fff,#fff,#fff,#fff,#fff,#fff,#fff,#fff,#fff,#fff,#fff,#fff,#fff,#fff,#fff,#fff,#fff,#fff,#fefeff,#fefeff,#fdfdff,#fbfbff,#f9f9ff,#f6f6ff,#f3f3ff,#f0f0ff,#ededff,#ebebff,#eaeaff,#eaeaff,#ececff,#eef)"></i><i style="background:linear-gradient(90deg,#fff,#fff,#fff,#fff,#fff,#fff,#fff,#fff,#fff,#fff,#fff,#fff,#fff,#fff,#fff,#fff,#fff,#fff,#fff,#fff,#fff,#fff,#fff,#fff,#fff,#fff,#fefeff,#fefeff,#fdfdff,#fbfbff,#f9f9ff,#f6f6ff,#f3f3ff,#f0f0ff,#ededff,#ebebff,#eaeaff,#eaeaff,#ececff,#eef)"></i><i style="background:linear-gradient(90deg,#fff,#fff,#fff,#fff,#fff,#fff,#fff,#fff,#fff,#fff,#fff,#fff,#fff,#fff,#fff,#fff,#fff,#fff,#fff,#fff,#fff,#fff,#fff,#fff,#fff,#fff,#fefeff,#fefeff,#fdfdff,#fbfbff,#f9f9ff,#f6f6ff,#f3f3ff,#f0f0ff,#ededff,#ebebff,#eaeaff,#eaeaff,#ececff,#eef)"></i><i style="background:linear-gradient(90deg,#fff,#fff,#fff,#fff,#fff,#fff,#fff,#fff,#fff,#fff,#fff,#fff,#fff,#fff,#fff,#fff,#fff,#fff,#fff,#fff,#fff,#fff,#fff,#fff,#fff,#fff,#fefeff,#fefeff,#fdfdff,#fbfbff,#f9f9ff,#f6f6ff,#f3f3ff,#f0f0ff,#ededff,#ebebff,#eaeaff,#ebebff,#ececff,#efefff)"></i></div>
<svg width="1280" height="1280" viewBox="0 0 1280 1280">
<defs>
<clipPath id="c00"><rect x="59.76" y="47.81" width="532.43" height="532.43"/></clipPath>
<clipPath id="c10"><rect x="699.76" y="47.81" width="532.43" height="532.43"/></clipPath>
<clipPath id="c01"><rect x="59.76" y="687.81" width="532.43" height="532.43"/></clipPath>
<clipPath id="c11"><rect x="699.76" y="687.81" width="532.43" height="532.43"/></clipPath>
</defs>
<path d="M123.18 66.73h1.6v1.6h-1.6zM175.68 83.85h1.6v1.6h-1.6zM121.68 114.66h1.6v1.6h-1.6zM127.68 145.47h1.6v1.6h-1.6zM156.18 159.16h1.6v1.6h-1.6zM86.18 162.59h1.6v1.6h-1.6zM100.18 162.59h1.6v1.6h-1.6zM108.18 162.59h1.6v1.6h-1.6zM90.68 169.43h1.6v1.6h-1.6zM86.68 179.7h1.6v1.6h-1.6zM233.68 104.39h1.6v1.6h-1.6zM215.68 131.77h1.6v1.6h-1.6zM226.68 148.89h1.6v1.6h-1.6zM279.18 155.74h1.6v1.6h-1.6zM317.18 159.16h1.6v1.6h-1.6zM253.68 169.43h1.6v1.6h-1.6zM276.18 169.43h1.6v1.6h-1.6zM310.18 179.7h1.6v1.6h-1.6zM377.18 107.81h1.6v1.6h-1.6zM420.18 114.66h1.6v1.6h-1.6zM370.18 142.04h1.6v1.6h-1.6zM364.18 148.89h1.6v1.6h-1.6zM430.68 148.89h1.6v1.6h-1.6zM422.68 166.01h1.6v1.6h-1.6zM390.18 169.43h1.6v1.6h-1.6zM437.18 176.28h1.6v1.6h-1.6zM439.18 186.55h1.6v1.6h-1.6zM488.18 66.73h1.6v1.6h-1.6zM522.68 66.73h1.6v1.6h-1.6zM468.18 142.04h1.6v1.6h-1.6zM472.68 142.04h1.6v1.6h-1.6zM476.18 159.16h1.6v1.6h-1.6zM569.68 155.74h1.6v1.6h-1.6zM516.68 166.01h1.6v1.6h-1.6zM563.68 172.86h1.6v1.6h-1.6zM505.18 183.13h1.6v1.6h-1.6zM529.18 183.13h1.6v1.6h-1.6zM543.18 183.13h1.6v1.6h-1.6zM545.68 183.13h1.6v1.6h-1.6zM569.68 183.13h1.6v1.6h-1.6zM129.68 193.4h1.6v1.6h-1.6zM140.68 193.4h1.6v1.6h-1.6zM79.68 200.24h1.6v1.6h-1.6zM111.68 200.24h1.6v1.6h-1.6zM138.68 200.24h1.6v1.6h-1.6zM155.68 200.24h1.6v1.6h-1.6zM179.18 200.24h1.6v1.6h-1.6zM96.68 213.94h1.6v1.6h-1.6zM112.18 213.94h1.6v1.6h-1.6zM143.18 213.94h1.6v1.6h-1.6zM162.68 213.94h1.6v1.6h-1.6zM182.68 213.94h1.6v1.6h-1.6zM142.68 217.36h1.6v1.6h-1.6zM153.68 217.36h1.6v1.6h-1.6zM164.68 217.36h1.6v1.6h-1.6zM109.68 220.79h1.6v1.6h-1.6zM111.18 220.79h1.6v1.6h-1.6zM134.18 220.79h1.6v1.6h-1.6zM138.18 220.79h1.6v1.6h-1.6zM187.68 220.79h1.6v1.6h-1.6zM191.18 220.79h1.6v1.6h-1.6zM152.68 224.21h1.6v1.6h-1.6zM202.68 224.21h1.6v1.6h-1.6zM106.68 227.63h1.6v1.6h-1.6zM110.18 231.06h1.6v1.6h-1.6zM200.68 234.48h1.6v1.6h-1.6zM143.68 237.9h1.6v1.6h-1.6zM78.68 241.33h1.6v1.6h-1.6zM81.18 241.33h1.6v1.6h-1.6zM82.18 241.33h1.6v1.6h-1.6zM93.68 241.33h1.6v1.6h-1.6zM94.68 241.33h1.6v1.6h-1.6zM99.18 241.33h1.6v1.6h-1.6zM105.68 241.33h1.6v1.6h-1.6zM109.18 241.33h1.6v1.6h-1.6zM111.18 241.33h1.6v1.6h-1.6zM112.68 241.33h1.6v1.6h-1.6zM114.18 241.33h1.6v1.6h-1.6zM129.18 241.33h1.6v1.6h-1.6zM141.68 241.33h1.6v1.6h-1.6zM147.18 241.33h1.6v1.6h-1.6zM150.18 241.33h1.6v1.6h-1.6zM163.68 241.33h1.6v1.6h-1.6zM165.68 241.33h1.6v1.6h-1.6zM167.18 241.33h1.6v1.6h-1.6zM171.18 241.33h1.6v1.6h-1.6zM178.18 241.33h1.6v1.6h-1.6zM190.68 241.33h1.6v1.6h-1.6zM192.68 241.33h1.6v1.6h-1.6zM87.68 244.75h1.6v1.6h-1.6zM104.18 244.75h1.6v1.6h-1.6zM133.18 244.75h1.6v1.6h-1.6zM171.68 244.75h1.6v1.6h-1.6zM189.18 244.75h1.6v1.6h-1.6zM117.18 248.17h1.6v1.6h-1.6zM185.18 251.6h1.6v1.6h-1.6zM130.68 255.02h1.6v1.6h-1.6zM161.18 255.02h1.6v1.6h-1.6zM160.18 258.44h1.6v1.6h-1.6zM134.68 261.87h1.6v1.6h-1.6zM95.68 268.71h1.6v1.6h-1.6zM86.18 272.14h1.6v1.6h-1.6zM190.68 272.14h1.6v1.6h-1.6zM89.18 275.56h1.6v1.6h-1.6zM104.18 275.56h1.6v1.6h-1.6zM141.68 275.56h1.6v1.6h-1.6zM87.18 278.98h1.6v1.6h-1.6zM169.18 278.98h1.6v1.6h-1.6zM122.18 282.41h1.6v1.6h-1.6zM172.18 282.41h1.6v1.6h-1.6zM199.68 282.41h1.6v1.6h-1.6zM112.68 285.83h1.6v1.6h-1.6zM106.68 289.26h1.6v1.6h-1.6zM82.18 292.68h1.6v1.6h-1.6zM100.18 292.68h1.6v1.6h-1.6zM116.68 292.68h1.6v1.6h-1.6zM120.18 292.68h1.6v1.6h-1.6zM89.68 296.1h1.6v1.6h-1.6zM102.68 296.1h1.6v1.6h-1.6zM107.18 296.1h1.6v1.6h-1.6zM125.68 296.1h1.6v1.6h-1.6zM146.18 296.1h1.6v1.6h-1.6zM147.18 296.1h1.6v1.6h-1.6zM174.68 296.1h1.6v1.6h-1.6zM110.18 299.53h1.6v1.6h-1.6zM126.68 299.53h1.6v1.6h-1.6zM161.68 299.53h1.6v1.6h-1.6zM112.18 302.95h1.6v1.6h-1.6zM143.68 302.95h1.6v1.6h-1.6zM150.68 302.95h1.6v1.6h-1.6zM161.18 302.95h1.6v1.6h-1.6zM184.18 302.95h1.6v1.6h-1.6zM200.68 302.95h1.6v1.6h-1.6zM187.68 309.8h1.6v1.6h-1.6zM171.68 313.22h1.6v1.6h-1.6zM258.18 193.4h1.6v1.6h-1.6zM280.18 193.4h1.6v1.6h-1.6zM255.18 196.82h1.6v1.6h-1.6zM208.18 200.24h1.6v1.6h-1.6zM293.18 200.24h1.6v1.6h-1.6zM264.68 210.51h1.6v1.6h-1.6zM279.68 213.94h1.6v1.6h-1.6zM266.18 217.36h1.6v1.6h-1.6zM296.68 217.36h1.6v1.6h-1.6zM310.18 217.36h1.6v1.6h-1.6zM230.68 220.79h1.6v1.6h-1.6zM236.18 224.21h1.6v1.6h-1.6zM233.68 231.06h1.6v1.6h-1.6zM268.18 231.06h1.6v1.6h-1.6zM298.18 231.06h1.6v1.6h-1.6zM327.18 231.06h1.6v1.6h-1.6zM255.18 234.48h1.6v1.6h-1.6zM284.18 234.48h1.6v1.6h-1.6zM328.18 234.48h1.6v1.6h-1.6zM218.18 237.9h1.6v1.6h-1.6zM253.18 237.9h1.6v1.6h-1.6zM290.18 237.9h1.6v1.6h-1.6zM320.18 237.9h1.6v1.6h-1.6zM209.18 241.33h1.6v1.6h-1.6zM210.68 241.33h1.6v1.6h-1.6zM212.18 241.33h1.6v1.6h-1.6zM225.68 241.33h1.6v1.6h-1.6zM236.18 241.33h1.6v1.6h-1.6zM246.18 241.33h1.6v1.6h-1.6zM252.18 241.33h1.6v1.6h-1.6zM232.18 244.75h1.6v1.6h-1.6zM236.18 244.75h1.6v1.6h-1.6zM292.18 244.75h1.6v1.6h-1.6zM317.68 244.75h1.6v1.6h-1.6zM240.68 248.17h1.6v1.6h-1.6zM277.18 248.17h1.6v1.6h-1.6zM324.18 248.17h1.6v1.6h-1.6zM314.18 251.6h1.6v1.6h-1.6zM237.68 255.02h1.6v1.6h-1.6zM246.18 255.02h1.6v1.6h-1.6zM206.18 258.44h1.6v1.6h-1.6zM286.18 258.44h1.6v1.6h-1.6zM305.18 258.44h1.6v1.6h-1.6zM310.18 261.87h1.6v1.6h-1.6zM282.18 265.29h1.6v1.6h-1.6zM206.68 268.71h1.6v1.6h-1.6zM311.18 268.71h1.6v1.6h-1.6zM270.18 272.14h1.6v1.6h-1.6zM301.18 272.14h1.6v1.6h-1.6zM295.18 275.56h1.6v1.6h-1.6zM307.18 275.56h1.6v1.6h-1.6zM318.18 275.56h1.6v1.6h-1.6zM327.18 275.56h1.6v1.6h-1.6zM253.68 285.83h1.6v1.6h-1.6zM293.18 289.26h1.6v1.6h-1.6zM299.18 289.26h1.6v1.6h-1.6zM242.18 292.68h1.6v1.6h-1.6zM255.18 292.68h1.6v1.6h-1.6zM259.18 292.68h1.6v1.6h-1.6zM292.18 292.68h1.6v1.6h-1.6zM304.18 292.68h1.6v1.6h-1.6zM320.18 292.68h1.6v1.6h-1.6zM214.18 296.1h1.6v1.6h-1.6zM268.18 296.1h1.6v1.6h-1.6zM331.18 296.1h1.6v1.6h-1.6zM220.18 302.95h1.6v1.6h-1.6zM232.18 302.95h1.6v1.6h-1.6zM252.18 302.95h1.6v1.6h-1.6zM283.18 302.95h1.6v1.6h-1.6zM320.18 302.95h1.6v1.6h-1.6zM237.18 306.37h1.6v1.6h-1.6zM277.18 306.37h1.6v1.6h-1.6zM302.18 309.8h1.6v1.6h-1.6zM247.18 313.22h1.6v1.6h-1.6zM221.18 316.64h1.6v1.6h-1.6zM242.18 316.64h1.6v1.6h-1.6zM245.18 316.64h1.6v1.6h-1.6zM272.18 316.64h1.6v1.6h-1.6zM320.18 316.64h1.6v1.6h-1.6zM340.18 193.4h1.6v1.6h-1.6zM360.18 193.4h1.6v1.6h-1.6zM453.18 200.24h1.6v1.6h-1.6zM459.18 200.24h1.6v1.6h-1.6zM453.18 203.67h1.6v1.6h-1.6zM343.18 213.94h1.6v1.6h-1.6zM452.18 213.94h1.6v1.6h-1.6zM344.18 234.48h1.6v1.6h-1.6zM380.18 234.48h1.6v1.6h-1.6zM359.18 237.9h1.6v1.6h-1.6zM365.18 237.9h1.6v1.6h-1.6zM333.18 241.33h1.6v1.6h-1.6zM443.18 241.33h1.6v1.6h-1.6zM360.18 244.75h1.6v1.6h-1.6zM409.18 244.75h1.6v1.6h-1.6zM423.18 244.75h1.6v1.6h-1.6zM430.18 244.75h1.6v1.6h-1.6zM408.18 248.17h1.6v1.6h-1.6zM404.18 251.6h1.6v1.6h-1.6zM447.18 251.6h1.6v1.6h-1.6zM387.18 255.02h1.6v1.6h-1.6zM334.18 258.44h1.6v1.6h-1.6zM344.18 258.44h1.6v1.6h-1.6zM433.18 258.44h1.6v1.6h-1.6zM348.18 261.87h1.6v1.6h-1.6zM346.18 265.29h1.6v1.6h-1.6zM420.18 265.29h1.6v1.6h-1.6zM390.18 268.71h1.6v1.6h-1.6zM335.18 272.14h1.6v1.6h-1.6zM394.18 272.14h1.6v1.6h-1.6zM419.18 272.14h1.6v1.6h-1.6zM343.18 275.56h1.6v1.6h-1.6zM363.18 275.56h1.6v1.6h-1.6zM384.18 275.56h1.6v1.6h-1.6zM401.18 275.56h1.6v1.6h-1.6zM343.18 278.98h1.6v1.6h-1.6zM350.18 282.41h1.6v1.6h-1.6zM401.18 282.41h1.6v1.6h-1.6zM411.18 282.41h1.6v1.6h-1.6zM448.18 282.41h1.6v1.6h-1.6zM360.18 285.83h1.6v1.6h-1.6zM458.68 285.83h1.6v1.6h-1.6zM345.18 292.68h1.6v1.6h-1.6zM355.18 292.68h1.6v1.6h-1.6zM418.18 292.68h1.6v1.6h-1.6zM347.18 296.1h1.6v1.6h-1.6zM397.18 296.1h1.6v1.6h-1.6zM423.18 296.1h1.6v1.6h-1.6zM374.18 299.53h1.6v1.6h-1.6zM346.18 302.95h1.6v1.6h-1.6zM447.68 302.95h1.6v1.6h-1.6zM333.18 309.8h1.6v1.6h-1.6zM379.18 309.8h1.6v1.6h-1.6zM401.18 309.8h1.6v1.6h-1.6zM345.18 316.64h1.6v1.6h-1.6zM386.18 316.64h1.6v1.6h-1.6zM469.68 193.4h1.6v1.6h-1.6zM479.18 193.4h1.6v1.6h-1.6zM491.18 193.4h1.6v1.6h-1.6zM556.18 193.4h1.6v1.6h-1.6zM489.68 196.82h1.6v1.6h-1.6zM538.68 200.24h1.6v1.6h-1.6zM541.18 200.24h1.6v1.6h-1.6zM557.68 207.09h1.6v1.6h-1.6zM468.18 213.94h1.6v1.6h-1.6zM483.68 213.94h1.6v1.6h-1.6zM491.18 213.94h1.6v1.6h-1.6zM536.18 213.94h1.6v1.6h-1.6zM544.18 213.94h1.6v1.6h-1.6zM568.18 213.94h1.6v1.6h-1.6zM476.18 217.36h1.6v1.6h-1.6zM516.68 217.36h1.6v1.6h-1.6zM477.68 227.63h1.6v1.6h-1.6zM497.18 227.63h1.6v1.6h-1.6zM533.18 231.06h1.6v1.6h-1.6zM491.68 234.48h1.6v1.6h-1.6zM514.18 234.48h1.6v1.6h-1.6zM504.18 237.9h1.6v1.6h-1.6zM505.68 237.9h1.6v1.6h-1.6zM562.18 237.9h1.6v1.6h-1.6zM503.68 241.33h1.6v1.6h-1.6zM525.18 241.33h1.6v1.6h-1.6zM470.18 244.75h1.6v1.6h-1.6zM498.68 244.75h1.6v1.6h-1.6zM514.18 244.75h1.6v1.6h-1.6zM509.68 248.17h1.6v1.6h-1.6zM471.18 251.6h1.6v1.6h-1.6zM487.18 255.02h1.6v1.6h-1.6zM523.68 255.02h1.6v1.6h-1.6zM535.18 255.02h1.6v1.6h-1.6zM481.18 258.44h1.6v1.6h-1.6zM543.18 261.87h1.6v1.6h-1.6zM504.18 268.71h1.6v1.6h-1.6zM547.68 268.71h1.6v1.6h-1.6zM560.18 268.71h1.6v1.6h-1.6zM469.68 272.14h1.6v1.6h-1.6zM490.68 272.14h1.6v1.6h-1.6zM511.18 272.14h1.6v1.6h-1.6zM475.68 275.56h1.6v1.6h-1.6zM528.18 275.56h1.6v1.6h-1.6zM466.18 278.98h1.6v1.6h-1.6zM549.68 282.41h1.6v1.6h-1.6zM563.68 282.41h1.6v1.6h-1.6zM475.68 285.83h1.6v1.6h-1.6zM571.68 285.83h1.6v1.6h-1.6zM549.68 289.26h1.6v1.6h-1.6zM554.68 289.26h1.6v1.6h-1.6zM475.18 292.68h1.6v1.6h-1.6zM476.68 292.68h1.6v1.6h-1.6zM497.18 292.68h1.6v1.6h-1.6zM465.18 296.1h1.6v1.6h-1.6zM468.18 296.1h1.6v1.6h-1.6zM555.18 299.53h1.6v1.6h-1.6zM475.18 302.95h1.6v1.6h-1.6zM479.18 302.95h1.6v1.6h-1.6zM533.18 302.95h1.6v1.6h-1.6zM559.18 302.95h1.6v1.6h-1.6zM531.68 306.37h1.6v1.6h-1.6zM464.68 309.8h1.6v1.6h-1.6zM487.18 309.8h1.6v1.6h-1.6zM489.18 309.8h1.6v1.6h-1.6zM515.18 309.8h1.6v1.6h-1.6zM519.18 316.64h1.6v1.6h-1.6zM551.18 316.64h1.6v1.6h-1.6zM91.68 320.07h1.6v1.6h-1.6zM167.18 320.07h1.6v1.6h-1.6zM101.18 323.49h1.6v1.6h-1.6zM116.18 323.49h1.6v1.6h-1.6zM138.18 323.49h1.6v1.6h-1.6zM146.18 323.49h1.6v1.6h-1.6zM135.68 326.91h1.6v1.6h-1.6zM200.18 326.91h1.6v1.6h-1.6zM88.18 330.34h1.6v1.6h-1.6zM102.68 330.34h1.6v1.6h-1.6zM127.18 330.34h1.6v1.6h-1.6zM148.18 330.34h1.6v1.6h-1.6zM152.68 330.34h1.6v1.6h-1.6zM115.18 333.76h1.6v1.6h-1.6zM100.18 337.18h1.6v1.6h-1.6zM172.18 337.18h1.6v1.6h-1.6zM81.68 340.61h1.6v1.6h-1.6zM104.18 344.03h1.6v1.6h-1.6zM130.68 344.03h1.6v1.6h-1.6zM139.18 344.03h1.6v1.6h-1.6zM132.68 350.88h1.6v1.6h-1.6zM170.18 350.88h1.6v1.6h-1.6zM89.68 354.3h1.6v1.6h-1.6zM139.18 357.73h1.6v1.6h-1.6zM112.18 361.15h1.6v1.6h-1.6zM147.18 364.57h1.6v1.6h-1.6zM158.18 364.57h1.6v1.6h-1.6zM189.68 364.57h1.6v1.6h-1.6zM199.68 368h1.6v1.6h-1.6zM123.18 371.42h1.6v1.6h-1.6zM142.68 371.42h1.6v1.6h-1.6zM201.18 371.42h1.6v1.6h-1.6zM136.18 385.11h1.6v1.6h-1.6zM184.68 388.54h1.6v1.6h-1.6zM189.18 388.54h1.6v1.6h-1.6zM90.68 391.96h1.6v1.6h-1.6zM148.68 391.96h1.6v1.6h-1.6zM127.68 395.38h1.6v1.6h-1.6zM128.68 402.23h1.6v1.6h-1.6zM167.18 402.23h1.6v1.6h-1.6zM165.18 405.65h1.6v1.6h-1.6zM94.18 409.08h1.6v1.6h-1.6zM86.18 415.92h1.6v1.6h-1.6zM88.68 415.92h1.6v1.6h-1.6zM97.68 415.92h1.6v1.6h-1.6zM101.68 415.92h1.6v1.6h-1.6zM168.18 415.92h1.6v1.6h-1.6zM92.68 419.35h1.6v1.6h-1.6zM154.18 419.35h1.6v1.6h-1.6zM158.18 422.77h1.6v1.6h-1.6zM195.68 439.89h1.6v1.6h-1.6zM260.18 320.07h1.6v1.6h-1.6zM289.18 320.07h1.6v1.6h-1.6zM262.18 323.49h1.6v1.6h-1.6zM294.18 326.91h1.6v1.6h-1.6zM219.18 330.34h1.6v1.6h-1.6zM222.68 330.34h1.6v1.6h-1.6zM258.18 330.34h1.6v1.6h-1.6zM313.18 330.34h1.6v1.6h-1.6zM269.18 333.76h1.6v1.6h-1.6zM282.18 337.18h1.6v1.6h-1.6zM304.18 337.18h1.6v1.6h-1.6zM328.18 344.03h1.6v1.6h-1.6zM230.18 350.88h1.6v1.6h-1.6zM236.68 350.88h1.6v1.6h-1.6zM284.18 350.88h1.6v1.6h-1.6zM273.18 354.3h1.6v1.6h-1.6zM205.18 357.73h1.6v1.6h-1.6zM272.18 357.73h1.6v1.6h-1.6zM212.18 361.15h1.6v1.6h-1.6zM306.18 361.15h1.6v1.6h-1.6zM255.18 364.57h1.6v1.6h-1.6zM227.18 368h1.6v1.6h-1.6zM315.18 371.42h1.6v1.6h-1.6zM319.18 374.84h1.6v1.6h-1.6zM298.18 378.27h1.6v1.6h-1.6zM309.18 378.27h1.6v1.6h-1.6zM237.18 381.69h1.6v1.6h-1.6zM304.18 381.69h1.6v1.6h-1.6zM255.18 388.54h1.6v1.6h-1.6zM215.18 412.5h1.6v1.6h-1.6zM308.18 436.47h1.6v1.6h-1.6zM404.18 320.07h1.6v1.6h-1.6zM398.18 323.49h1.6v1.6h-1.6zM422.18 330.34h1.6v1.6h-1.6zM440.18 330.34h1.6v1.6h-1.6zM455.68 330.34h1.6v1.6h-1.6zM380.18 333.76h1.6v1.6h-1.6zM409.18 337.18h1.6v1.6h-1.6zM412.18 337.18h1.6v1.6h-1.6zM418.18 344.03h1.6v1.6h-1.6zM426.18 344.03h1.6v1.6h-1.6zM333.18 347.45h1.6v1.6h-1.6zM376.18 350.88h1.6v1.6h-1.6zM415.18 350.88h1.6v1.6h-1.6zM443.18 350.88h1.6v1.6h-1.6zM454.18 350.88h1.6v1.6h-1.6zM364.18 361.15h1.6v1.6h-1.6zM374.18 361.15h1.6v1.6h-1.6zM401.18 368h1.6v1.6h-1.6zM445.68 368h1.6v1.6h-1.6zM333.18 371.42h1.6v1.6h-1.6zM395.18 374.84h1.6v1.6h-1.6zM432.68 378.27h1.6v1.6h-1.6zM359.18 381.69h1.6v1.6h-1.6zM369.18 381.69h1.6v1.6h-1.6zM402.18 381.69h1.6v1.6h-1.6zM359.18 388.54h1.6v1.6h-1.6zM368.18 388.54h1.6v1.6h-1.6zM407.18 391.96h1.6v1.6h-1.6zM390.18 395.38h1.6v1.6h-1.6zM410.18 398.81h1.6v1.6h-1.6zM360.18 436.47h1.6v1.6h-1.6zM341.18 439.89h1.6v1.6h-1.6zM339.18 443.31h1.6v1.6h-1.6zM571.68 320.07h1.6v1.6h-1.6zM471.18 326.91h1.6v1.6h-1.6zM531.18 330.34h1.6v1.6h-1.6zM570.68 330.34h1.6v1.6h-1.6zM462.68 333.76h1.6v1.6h-1.6zM475.18 333.76h1.6v1.6h-1.6zM494.18 333.76h1.6v1.6h-1.6zM501.68 333.76h1.6v1.6h-1.6zM507.68 333.76h1.6v1.6h-1.6zM529.18 333.76h1.6v1.6h-1.6zM477.18 350.88h1.6v1.6h-1.6zM482.18 350.88h1.6v1.6h-1.6zM557.18 350.88h1.6v1.6h-1.6zM528.68 357.73h1.6v1.6h-1.6zM541.68 357.73h1.6v1.6h-1.6zM478.18 361.15h1.6v1.6h-1.6zM554.68 361.15h1.6v1.6h-1.6zM499.68 364.57h1.6v1.6h-1.6zM569.68 364.57h1.6v1.6h-1.6zM499.68 368h1.6v1.6h-1.6zM493.68 371.42h1.6v1.6h-1.6zM479.18 374.84h1.6v1.6h-1.6zM546.68 374.84h1.6v1.6h-1.6zM565.68 374.84h1.6v1.6h-1.6zM563.18 391.96h1.6v1.6h-1.6zM504.68 398.81h1.6v1.6h-1.6zM543.68 402.23h1.6v1.6h-1.6zM535.18 409.08h1.6v1.6h-1.6zM478.68 415.92h1.6v1.6h-1.6zM553.18 439.89h1.6v1.6h-1.6zM515.18 443.31h1.6v1.6h-1.6zM122.68 470.7h1.6v1.6h-1.6zM106.18 484.39h1.6v1.6h-1.6zM186.68 491.24h1.6v1.6h-1.6zM91.68 498.09h1.6v1.6h-1.6zM271.18 457.01h1.6v1.6h-1.6zM356.68 470.7h1.6v1.6h-1.6zM425.68 470.7h1.6v1.6h-1.6zM475.68 470.7h1.6v1.6h-1.6zM556.68 549.44h1.6v1.6h-1.6zM518.68 559.71h1.6v1.6h-1.6z" fill="#000"/>
<line x1="59.76" y1="355.1" x2="592.19" y2="355.1" stroke="#cd0000" stroke-width="2.25" stroke-dasharray="9 9" stroke-linecap="round" clip-path="url(#c00)"/>
<line x1="295.73" y1="580.24" x2="295.73" y2="47.81" stroke="#006400" stroke-width="2.25" stroke-dasharray="9 9" stroke-linecap="round" clip-path="url(#c00)"/>
<line x1="355.23" y1="580.24" x2="355.23" y2="47.81" stroke="#006400" stroke-width="2.25" stroke-dasharray="9 9" stroke-linecap="round" clip-path="url(#c00)"/>
<rect x="59.76" y="47.81" width="532.43" height="532.43" fill="none" stroke="#000" stroke-width="0.75"/>
<path d="M125.48 580.24H525.48M125.48 580.24v5.98M225.48 580.24v5.98M325.48 580.24v5.98M425.48 580.24v5.98M525.48 580.24v5.98" fill="none" stroke="#000" stroke-width="0.75"/>
<text transform="translate(125.48 602) scale(0.91 1)" text-anchor="middle" font-size="11.4px">-400</text>
<text transform="translate(225.48 602) scale(0.91 1)" text-anchor="middle" font-size="11.4px">-200</text>
<text transform="translate(325.48 602) scale(0.91 1)" text-anchor="middle" font-size="11.4px">0</text>
<text transform="translate(425.48 602) scale(0.91 1)" text-anchor="middle" font-size="11.4px">200</text>
<text transform="translate(525.48 602) scale(0.91 1)" text-anchor="middle" font-size="11.4px">400</text>
<path d="M59.76 108.61V519.43M59.76 519.43h-5.98M59.76 450.96h-5.98M59.76 382.49h-5.98M59.76 314.02h-5.98M59.76 245.55h-5.98M59.76 177.08h-5.98M59.76 108.61h-5.98" fill="none" stroke="#000" stroke-width="0.75"/>
<text transform="translate(45 519.43) rotate(-90) scale(0.91 1)" text-anchor="middle" font-size="11.4px">86</text>
<text transform="translate(45 450.96) rotate(-90) scale(0.91 1)" text-anchor="middle" font-size="11.4px">88</text>
<text transform="translate(45 382.49) rotate(-90) scale(0.91 1)" text-anchor="middle" font-size="11.4px">90</text>
<text transform="translate(45 314.02) rotate(-90) scale(0.91 1)" text-anchor="middle" font-size="11.4px">92</text>
<text transform="translate(45 245.55) rotate(-90) scale(0.91 1)" text-anchor="middle" font-size="11.4px">94</text>
<text transform="translate(45 177.08) rotate(-90) scale(0.91 1)" text-anchor="middle" font-size="11.4px">96</text>
<text transform="translate(45 108.61) rotate(-90) scale(0.91 1)" text-anchor="middle" font-size="11.4px">98</text>
<text x="323.03" y="31.9" text-anchor="middle" font-weight="bold" font-size="21.5px">Top hit for each peak</text>
<text x="325.98" y="626" text-anchor="middle" font-size="15.9px">Distance to peak summit</text>
<text transform="translate(22 314.02) rotate(-90)" text-anchor="middle" font-size="15.9px">Motif score</text>
<line x1="851.5" y1="47.81" x2="851.5" y2="580.24" stroke="#fff" stroke-width="1"/>
<line x1="1048.5" y1="47.81" x2="1048.5" y2="580.24" stroke="#fff" stroke-width="1"/>
<line x1="699.76" y1="358.31" x2="1232.19" y2="358.31" stroke="#cd2626" stroke-width="1.5" stroke-dasharray="6 6" stroke-linecap="round" clip-path="url(#c10)"/>
<line x1="933.37" y1="580.24" x2="933.37" y2="47.81" stroke="#006400" stroke-width="1.5" stroke-dasharray="6 6" stroke-linecap="round" clip-path="url(#c10)"/>
<line x1="997.5" y1="580.24" x2="997.5" y2="47.81" stroke="#006400" stroke-width="1.5" stroke-dasharray="6 6" stroke-linecap="round" clip-path="url(#c10)"/>
<rect x="699.76" y="47.81" width="532.43" height="532.43" fill="none" stroke="#000" stroke-width="0.75"/>
<path d="M749.87 580.24H1181M749.87 580.24v5.98M857.65 580.24v5.98M965.44 580.24v5.98M1073.22 580.24v5.98M1181 580.24v5.98" fill="none" stroke="#000" stroke-width="0.75"/>
<text transform="translate(749.87 602) scale(0.91 1)" text-anchor="middle" font-size="11.4px">-400</text>
<text transform="translate(857.65 602) scale(0.91 1)" text-anchor="middle" font-size="11.4px">-200</text>
<text transform="translate(965.44 602) scale(0.91 1)" text-anchor="middle" font-size="11.4px">0</text>
<text transform="translate(1073.22 602) scale(0.91 1)" text-anchor="middle" font-size="11.4px">200</text>
<text transform="translate(1181 602) scale(0.91 1)" text-anchor="middle" font-size="11.4px">400</text>
<path d="M699.76 92.62V535.43M699.76 535.43h-5.98M699.76 461.63h-5.98M699.76 387.83h-5.98M699.76 314.02h-5.98M699.76 240.22h-5.98M699.76 166.42h-5.98M699.76 92.62h-5.98" fill="none" stroke="#000" stroke-width="0.75"/>
<text transform="translate(685 535.43) rotate(-90) scale(0.91 1)" text-anchor="middle" font-size="11.4px">86</text>
<text transform="translate(685 461.63) rotate(-90) scale(0.91 1)" text-anchor="middle" font-size="11.4px">88</text>
<text transform="translate(685 387.83) rotate(-90) scale(0.91 1)" text-anchor="middle" font-size="11.4px">90</text>
<text transform="translate(685 314.02) rotate(-90) scale(0.91 1)" text-anchor="middle" font-size="11.4px">92</text>
<text transform="translate(685 240.22) rotate(-90) scale(0.91 1)" text-anchor="middle" font-size="11.4px">94</text>
<text transform="translate(685 166.42) rotate(-90) scale(0.91 1)" text-anchor="middle" font-size="11.4px">96</text>
<text transform="translate(685 92.62) rotate(-90) scale(0.91 1)" text-anchor="middle" font-size="11.4px">98</text>
<text x="965.98" y="31.9" text-anchor="middle" font-weight="bold" font-size="21.5px">Density heat map for the top hits</text>
<text x="965.98" y="626" text-anchor="middle" font-size="15.9px">Distance to peak summit</text>
<text transform="translate(662 314.02) rotate(-90)" text-anchor="middle" font-size="15.9px">Motif score</text>
<path d="M79.48 1200.47L81.41 1200.45L83.35 1200.42L85.28 1200.37L87.21 1200.31L89.15 1200.23L91.08 1200.13L93.01 1199.99L94.95 1199.83L96.88 1199.62L98.81 1199.37L100.75 1199.07L102.68 1198.72L104.61 1198.33L106.55 1197.88L108.48 1197.4L110.41 1196.88L112.35 1196.34L114.28 1195.79L116.21 1195.25L118.15 1194.74L120.08 1194.27L122.01 1193.86L123.95 1193.54L125.88 1193.3L127.81 1193.16L129.75 1193.12L131.68 1193.19L133.61 1193.35L135.55 1193.59L137.48 1193.9L139.41 1194.24L141.35 1194.6L143.28 1194.96L145.21 1195.27L147.15 1195.52L149.08 1195.69L151.01 1195.74L152.94 1195.66L154.88 1195.44L156.81 1195.06L158.74 1194.52L160.68 1193.82L162.61 1192.96L164.54 1191.96L166.48 1190.81L168.41 1189.55L170.34 1188.18L172.28 1186.72L174.21 1185.21L176.14 1183.66L178.08 1182.09L180.01 1180.53L181.94 1178.99L183.88 1177.5L185.81 1176.06L187.74 1174.68L189.68 1173.37L191.61 1172.13L193.54 1170.93L195.48 1169.78L197.41 1168.64L199.34 1167.49L201.28 1166.31L203.21 1165.05L205.14 1163.7L207.08 1162.21L209.01 1160.57L210.94 1158.75L212.88 1156.73L214.81 1154.49L216.74 1152.04L218.68 1149.36L220.61 1146.45L222.54 1143.3L224.48 1139.92L226.41 1136.32L228.34 1132.48L230.28 1128.43L232.21 1124.15L234.14 1119.65L236.08 1114.94L238.01 1110.02L239.94 1104.89L241.88 1099.54L243.81 1093.97L245.74 1088.17L247.68 1082.11L249.61 1075.77L251.54 1069.15L253.48 1062.21L255.41 1054.93L257.34 1047.31L259.28 1039.34L261.21 1031.04L263.14 1022.41L265.08 1013.5L267.01 1004.37L268.94 995.07L270.88 985.69L272.81 976.31L274.74 967.03L276.68 957.93L278.61 949.12L280.54 940.66L282.48 932.62L284.41 925.04L286.34 917.94L288.28 911.32L290.21 905.16L292.14 899.42L294.08 894.03L296.01 888.93L297.94 884.04L299.88 879.27L301.81 874.55L303.74 869.79L305.68 864.93L307.61 859.91L309.54 854.66L311.48 849.15L313.41 843.34L315.34 837.21L317.28 830.77L319.21 824.04L321.14 817.06L323.08 809.91L325.01 802.7L326.94 795.56L328.87 788.64L330.81 782.11L332.74 776.15L334.67 770.91L336.61 766.54L338.54 763.12L340.47 760.73L342.41 759.34L344.34 758.88L346.27 759.22L348.21 760.16L350.14 761.44L352.07 762.8L354.01 763.91L355.94 764.5L357.87 764.28L359.81 763.03L361.74 760.62L363.67 756.97L365.61 752.15L367.54 746.29L369.47 739.67L371.41 732.64L373.34 725.64L375.27 719.14L377.21 713.64L379.14 709.63L381.07 707.53L383.01 707.68L384.94 710.31L386.87 715.54L388.81 723.33L390.74 733.55L392.67 745.95L394.61 760.2L396.54 775.92L398.47 792.7L400.41 810.13L402.34 827.85L404.27 845.51L406.21 862.87L408.14 879.71L410.07 895.9L412.01 911.35L413.94 926.04L415.87 939.96L417.81 953.14L419.74 965.61L421.67 977.42L423.61 988.6L425.54 999.18L427.47 1009.19L429.41 1018.65L431.34 1027.56L433.27 1035.94L435.21 1043.8L437.14 1051.19L439.07 1058.12L441.01 1064.64L442.94 1070.81L444.87 1076.69L446.81 1082.34L448.74 1087.82L450.67 1093.2L452.61 1098.52L454.54 1103.82L456.47 1109.11L458.41 1114.41L460.34 1119.7L462.27 1124.95L464.21 1130.13L466.14 1135.2L468.07 1140.09L470.01 1144.77L471.94 1149.18L473.87 1153.28L475.81 1157.05L477.74 1160.48L479.67 1163.55L481.61 1166.28L483.54 1168.69L485.47 1170.8L487.41 1172.66L489.34 1174.28L491.27 1175.7L493.21 1176.96L495.14 1178.08L497.07 1179.06L499.01 1179.94L500.94 1180.7L502.87 1181.36L504.8 1181.92L506.74 1182.38L508.67 1182.75L510.6 1183.04L512.54 1183.27L514.47 1183.45L516.4 1183.62L518.34 1183.8L520.27 1184.03L522.2 1184.32L524.14 1184.7L526.07 1185.18L528 1185.79L529.94 1186.51L531.87 1187.35L533.8 1188.28L535.74 1189.29L537.67 1190.35L539.6 1191.44L541.54 1192.53L543.47 1193.58L545.4 1194.59L547.34 1195.53L549.27 1196.38L551.2 1197.14L553.14 1197.8L555.07 1198.37L557 1198.84L558.94 1199.23L560.87 1199.55L562.8 1199.8L564.74 1199.99L566.67 1200.14L568.6 1200.25L570.54 1200.33L572.47 1200.39Z" fill="#f5deb3" stroke="#000" stroke-width="1.25" stroke-linejoin="round"/>
<line x1="292.57" y1="1220.24" x2="292.57" y2="687.81" stroke="#cd2626" stroke-width="1.5" stroke-dasharray="6 6" stroke-linecap="round" clip-path="url(#c01)"/>
<rect x="59.76" y="687.81" width="532.43" height="532.43" fill="none" stroke="#000" stroke-width="0.75"/>
<path d="M130.56 1220.24H549.56M130.56 1220.24v5.98M270.23 1220.24v5.98M409.89 1220.24v5.98M549.56 1220.24v5.98" fill="none" stroke="#000" stroke-width="0.75"/>
<text transform="translate(130.56 1242) scale(0.91 1)" text-anchor="middle" font-size="11.4px">85</text>
<text transform="translate(270.23 1242) scale(0.91 1)" text-anchor="middle" font-size="11.4px">90</text>
<text transform="translate(409.89 1242) scale(0.91 1)" text-anchor="middle" font-size="11.4px">95</text>
<text transform="translate(549.56 1242) scale(0.91 1)" text-anchor="middle" font-size="11.4px">100</text>
<path d="M59.76 809.29V1200.5M59.76 1200.5h-5.98M59.76 1070.1h-5.98M59.76 939.69h-5.98M59.76 809.29h-5.98" fill="none" stroke="#000" stroke-width="0.75"/>
<text transform="translate(45 1200.5) rotate(-90) scale(0.91 1)" text-anchor="middle" font-size="11.4px">0.00</text>
<text transform="translate(45 1070.1) rotate(-90) scale(0.91 1)" text-anchor="middle" font-size="11.4px">0.05</text>
<text transform="translate(45 939.69) rotate(-90) scale(0.91 1)" text-anchor="middle" font-size="11.4px">0.10</text>
<text transform="translate(45 809.29) rotate(-90) scale(0.91 1)" text-anchor="middle" font-size="11.4px">0.15</text>
<text x="325.98" y="671.9" text-anchor="middle" font-weight="bold" font-size="21.5px">Motif score threshold: 90.800</text>
<text x="325.98" y="1266" text-anchor="middle" font-size="15.9px">Motif score</text>
<text transform="translate(22 954.02) rotate(-90)" text-anchor="middle" font-size="15.9px">Density</text>
<path d="M719.48 1199.7L721.41 1199.48L723.35 1199.21L725.28 1198.87L727.21 1198.45L729.15 1197.95L731.08 1197.33L733.01 1196.59L734.95 1195.7L736.88 1194.64L738.81 1193.38L740.75 1191.89L742.68 1190.14L744.61 1188.1L746.55 1185.72L748.48 1182.97L750.41 1179.81L752.35 1176.2L754.28 1172.09L756.21 1167.44L758.15 1162.2L760.08 1156.35L762.01 1149.84L763.95 1142.63L765.88 1134.7L767.81 1126.02L769.75 1116.57L771.68 1106.34L773.61 1095.34L775.55 1083.56L777.48 1071.03L779.41 1057.77L781.35 1043.82L783.28 1029.22L785.21 1014.05L787.15 998.37L789.08 982.25L791.01 965.79L792.94 949.08L794.88 932.23L796.81 915.33L798.74 898.51L800.68 881.86L802.61 865.51L804.54 849.55L806.48 834.1L808.41 819.26L810.34 805.11L812.28 791.74L814.21 779.23L816.14 767.63L818.08 757.01L820.01 747.4L821.94 738.82L823.88 731.31L825.81 724.86L827.74 719.47L829.68 715.13L831.61 711.8L833.54 709.45L835.48 708.04L837.41 707.53L839.34 707.85L841.28 708.95L843.21 710.76L845.14 713.21L847.08 716.25L849.01 719.79L850.94 723.78L852.88 728.14L854.81 732.8L856.74 737.7L858.68 742.78L860.61 747.97L862.54 753.22L864.48 758.48L866.41 763.69L868.34 768.81L870.28 773.79L872.21 778.61L874.14 783.21L876.08 787.58L878.01 791.68L879.94 795.51L881.88 799.03L883.81 802.23L885.74 805.11L887.68 807.67L889.61 809.89L891.54 811.78L893.48 813.35L895.41 814.6L897.34 815.55L899.28 816.2L901.21 816.57L903.14 816.67L905.08 816.54L907.01 816.18L908.94 815.62L910.88 814.88L912.81 813.98L914.74 812.95L916.68 811.81L918.61 810.59L920.54 809.3L922.48 807.99L924.41 806.66L926.34 805.35L928.28 804.08L930.21 802.87L932.14 801.75L934.08 800.74L936.01 799.86L937.94 799.12L939.88 798.55L941.81 798.16L943.74 797.97L945.68 797.99L947.61 798.23L949.54 798.7L951.48 799.41L953.41 800.35L955.34 801.53L957.28 802.95L959.21 804.6L961.14 806.47L963.08 808.56L965.01 810.86L966.94 813.35L968.87 816.01L970.81 818.83L972.74 821.79L974.67 824.87L976.61 828.05L978.54 831.3L980.47 834.6L982.41 837.93L984.34 841.27L986.27 844.59L988.21 847.86L990.14 851.07L992.07 854.2L994.01 857.21L995.94 860.1L997.87 862.85L999.81 865.43L1001.74 867.82L1003.67 870.03L1005.61 872.02L1007.54 873.78L1009.47 875.31L1011.41 876.59L1013.34 877.62L1015.27 878.38L1017.21 878.86L1019.14 879.07L1021.07 878.99L1023.01 878.63L1024.94 877.98L1026.87 877.04L1028.81 875.81L1030.74 874.31L1032.67 872.53L1034.61 870.5L1036.54 868.22L1038.47 865.71L1040.41 863L1042.34 860.1L1044.27 857.04L1046.21 853.86L1048.14 850.59L1050.07 847.25L1052.01 843.9L1053.94 840.56L1055.87 837.28L1057.81 834.1L1059.74 831.06L1061.67 828.19L1063.61 825.53L1065.54 823.11L1067.47 820.98L1069.41 819.15L1071.34 817.66L1073.27 816.53L1075.21 815.77L1077.14 815.41L1079.07 815.45L1081.01 815.91L1082.94 816.81L1084.87 818.13L1086.81 819.9L1088.74 822.11L1090.67 824.77L1092.61 827.89L1094.54 831.46L1096.47 835.49L1098.41 839.99L1100.34 844.95L1102.27 850.39L1104.21 856.3L1106.14 862.68L1108.07 869.53L1110.01 876.86L1111.94 884.65L1113.87 892.9L1115.81 901.59L1117.74 910.7L1119.67 920.22L1121.61 930.11L1123.54 940.34L1125.47 950.88L1127.41 961.68L1129.34 972.69L1131.27 983.87L1133.21 995.16L1135.14 1006.5L1137.07 1017.84L1139.01 1029.12L1140.94 1040.28L1142.87 1051.25L1144.8 1062L1146.74 1072.47L1148.67 1082.61L1150.6 1092.37L1152.54 1101.73L1154.47 1110.64L1156.4 1119.09L1158.34 1127.06L1160.27 1134.53L1162.2 1141.49L1164.14 1147.95L1166.07 1153.91L1168 1159.38L1169.94 1164.37L1171.87 1168.89L1173.8 1172.98L1175.74 1176.64L1177.67 1179.92L1179.6 1182.83L1181.54 1185.39L1183.47 1187.65L1185.4 1189.62L1187.34 1191.33L1189.27 1192.81L1191.2 1194.09L1193.14 1195.17L1195.07 1196.1L1197 1196.88L1198.94 1197.54L1200.87 1198.09L1202.8 1198.55L1204.74 1198.93L1206.67 1199.24L1208.6 1199.5L1210.54 1199.71L1212.47 1199.88Z" fill="#f5deb3" stroke="#000" stroke-width="1.25" stroke-linejoin="round"/>
<line x1="945.49" y1="1220.24" x2="945.49" y2="687.81" stroke="#006400" stroke-width="1.5" stroke-dasharray="6 6" stroke-linecap="round" clip-path="url(#c11)"/>
<line x1="985.79" y1="1220.24" x2="985.79" y2="687.81" stroke="#006400" stroke-width="1.5" stroke-dasharray="6 6" stroke-linecap="round" clip-path="url(#c11)"/>
<rect x="699.76" y="687.81" width="532.43" height="532.43" fill="none" stroke="#000" stroke-width="0.75"/>
<path d="M796.32 1220.24H1134.96M796.32 1220.24v5.98M965.64 1220.24v5.98M1134.96 1220.24v5.98" fill="none" stroke="#000" stroke-width="0.75"/>
<text transform="translate(796.32 1242) scale(0.91 1)" text-anchor="middle" font-size="11.4px">-500</text>
<text transform="translate(965.64 1242) scale(0.91 1)" text-anchor="middle" font-size="11.4px">0</text>
<text transform="translate(1134.96 1242) scale(0.91 1)" text-anchor="middle" font-size="11.4px">500</text>
<path d="M699.76 711.81V1200.48M699.76 1200.48h-5.98M699.76 1119.04h-5.98M699.76 1037.59h-5.98M699.76 956.14h-5.98M699.76 874.7h-5.98M699.76 793.25h-5.98M699.76 711.81h-5.98" fill="none" stroke="#000" stroke-width="0.75"/>
<text transform="translate(685 1200.48) rotate(-90) scale(0.91 1)" text-anchor="middle" font-size="11.4px">0.0000</text>
<text transform="translate(685 1119.04) rotate(-90) scale(0.91 1)" text-anchor="middle" font-size="11.4px">0.0002</text>
<text transform="translate(685 1037.59) rotate(-90) scale(0.91 1)" text-anchor="middle" font-size="11.4px">0.0004</text>
<text transform="translate(685 956.14) rotate(-90) scale(0.91 1)" text-anchor="middle" font-size="11.4px">0.0006</text>
<text transform="translate(685 874.7) rotate(-90) scale(0.91 1)" text-anchor="middle" font-size="11.4px">0.0008</text>
<text transform="translate(685 793.25) rotate(-90) scale(0.91 1)" text-anchor="middle" font-size="11.4px">0.0010</text>
<text transform="translate(685 711.81) rotate(-90) scale(0.91 1)" text-anchor="middle" font-size="11.4px">0.0012</text>
<text x="965.98" y="671.9" text-anchor="middle" font-weight="bold" font-size="21.5px">Enrichment zone: 59.50</text>
<text x="965.98" y="1266" text-anchor="middle" font-size="15.9px">Distance to peak summit</text>
<text transform="translate(662 954.02) rotate(-90)" text-anchor="middle" font-size="15.9px">Density</text>
<line x1="1017.4" y1="703.3" x2="1041.3" y2="703.3" stroke="#006400" stroke-width="1.125" stroke-dasharray="1.125 3.375" stroke-linecap="round"/>
<line x1="1017.4" y1="718.8" x2="1041.3" y2="718.8" stroke="#ee6363" stroke-width="1.125" stroke-dasharray="1.125 3.375" stroke-linecap="round"/>
<ellipse cx="1029.05" cy="734.5" rx="3.1" ry="2.65" fill="#0000ff"/>
<text x="1052.0" y="707.9" font-size="12.95px">enrichment zone = 59.5</text>
<text x="1052.0" y="723.4" font-size="12.95px">motif score threshold = 90.800</text>
<text x="1052.0" y="738.9" font-size="12.95px">centrality p-val = NS</text>
</svg>
</body>
</html>
